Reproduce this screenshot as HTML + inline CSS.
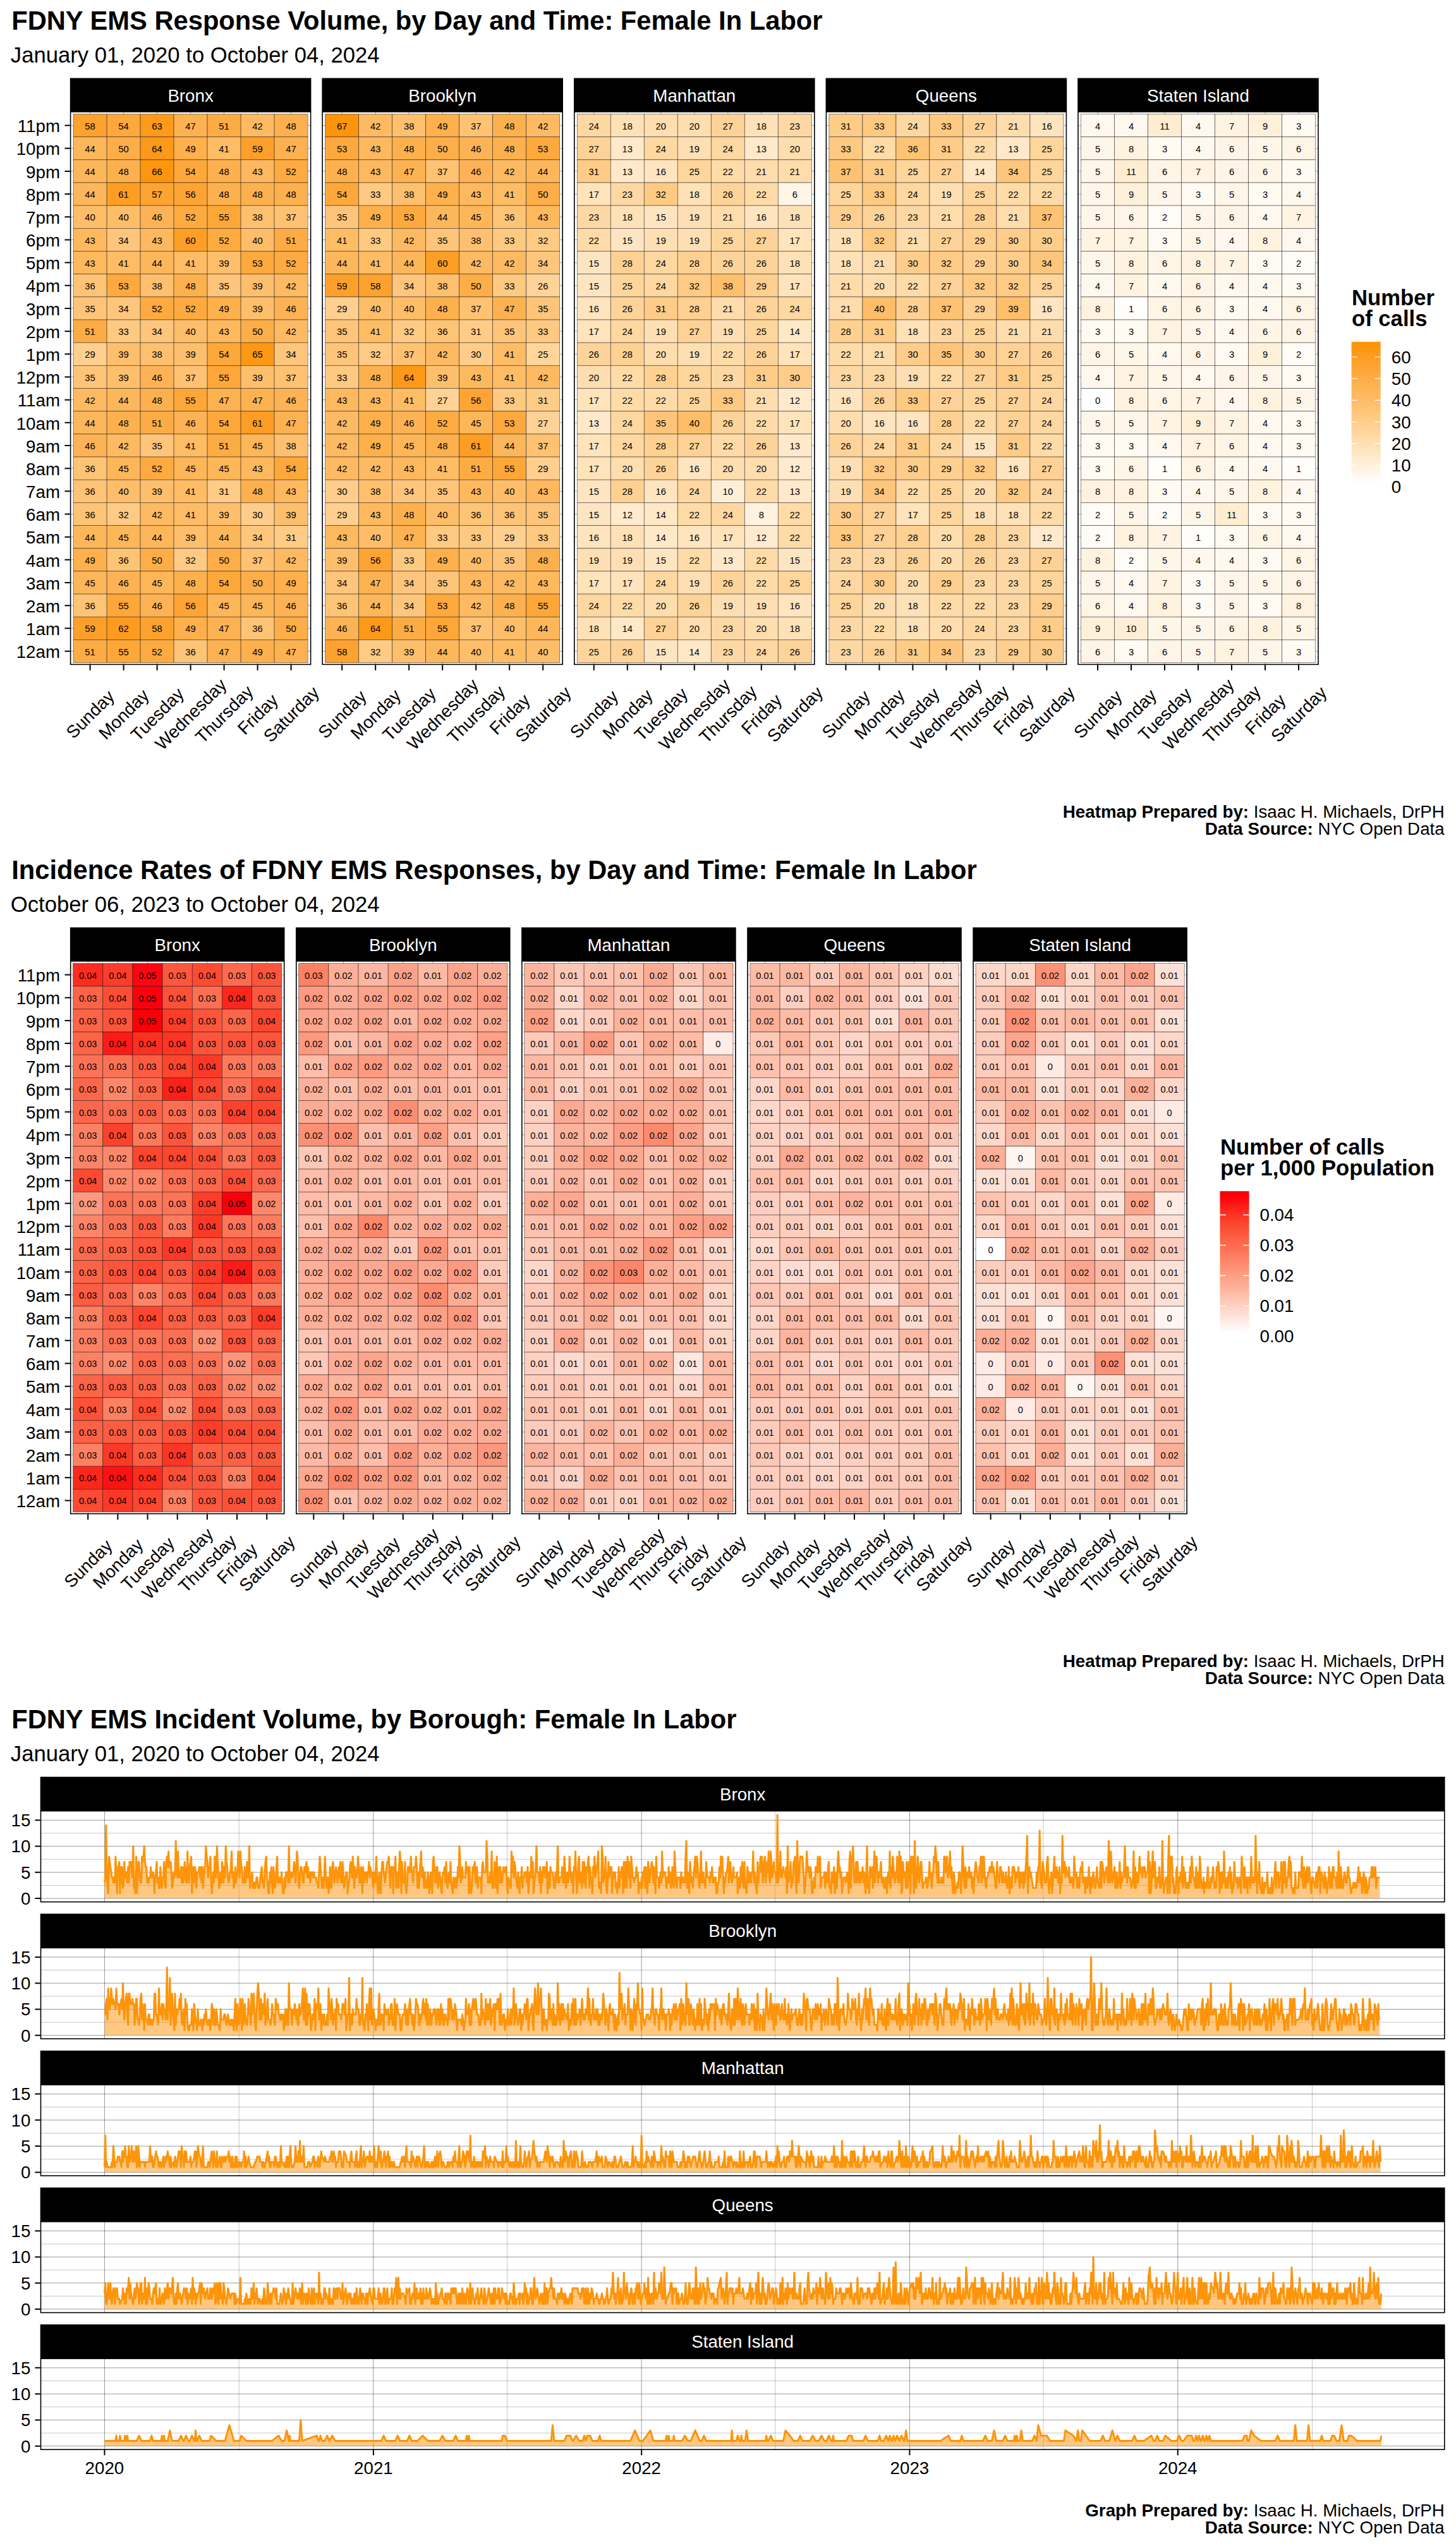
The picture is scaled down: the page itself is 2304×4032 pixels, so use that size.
<!DOCTYPE html>
<html lang="en"><head><meta charset="utf-8"><title>FDNY EMS: Female In Labor</title>
<style>html,body{margin:0;padding:0;background:#fff}svg{display:block}.ns{vector-effect:non-scaling-stroke}</style></head>
<body>
<svg width="2304" height="4032" viewBox="0 0 2304 4032" font-family="'Liberation Sans', Arial, Helvetica, sans-serif">
<rect width="2304" height="4032" fill="#fff"/>
<text x="18.2" y="47.3" font-size="41.7" text-anchor="start" font-weight="bold" fill="#000">FDNY EMS Response Volume, by Day and Time: Female In Labor</text>
<text x="16.8" y="98.9" font-size="34.67" text-anchor="start" font-weight="normal" fill="#000">January 01, 2020 to October 04, 2024</text>
<rect x="110.8" y="123.5" width="381.6" height="53.4" fill="#000"/>
<text x="301.6" y="160.7" font-size="27.73" text-anchor="middle" font-weight="normal" fill="#fff">Bronx</text>
<path d="M142.6 176.9V1052.2M195.6 176.9V1052.2M248.6 176.9V1052.2M301.6 176.9V1052.2M354.6 176.9V1052.2M407.6 176.9V1052.2M460.6 176.9V1052.2M110.8 198.6H492.4M110.8 234.77H492.4M110.8 270.94H492.4M110.8 307.11H492.4M110.8 343.28H492.4M110.8 379.45H492.4M110.8 415.62H492.4M110.8 451.79H492.4M110.8 487.96H492.4M110.8 524.13H492.4M110.8 560.3H492.4M110.8 596.47H492.4M110.8 632.63H492.4M110.8 668.8H492.4M110.8 704.97H492.4M110.8 741.14H492.4M110.8 777.31H492.4M110.8 813.48H492.4M110.8 849.65H492.4M110.8 885.82H492.4M110.8 921.99H492.4M110.8 958.16H492.4M110.8 994.33H492.4M110.8 1030.5H492.4" stroke="#000" stroke-opacity="0.45" stroke-width="0.8" fill="none"/>
<g stroke="#000" stroke-opacity="0.62" stroke-width="0.7">
<rect x="116.1" y="180.52" width="53" height="36.17" fill="#fda22e"/>
<rect x="169.1" y="180.52" width="53" height="36.17" fill="#fda83b"/>
<rect x="222.1" y="180.52" width="53" height="36.17" fill="#fd9a1c"/>
<rect x="275.1" y="180.52" width="53" height="36.17" fill="#fdb252"/>
<rect x="328.1" y="180.52" width="53" height="36.17" fill="#fdac45"/>
<rect x="381.1" y="180.52" width="53" height="36.17" fill="#feba62"/>
<rect x="434.1" y="180.52" width="53" height="36.17" fill="#fdb14e"/>
<rect x="116.1" y="216.69" width="53" height="36.17" fill="#fdb75b"/>
<rect x="169.1" y="216.69" width="53" height="36.17" fill="#fdae48"/>
<rect x="222.1" y="216.69" width="53" height="36.17" fill="#fd9918"/>
<rect x="275.1" y="216.69" width="53" height="36.17" fill="#fdb04b"/>
<rect x="328.1" y="216.69" width="53" height="36.17" fill="#febc65"/>
<rect x="381.1" y="216.69" width="53" height="36.17" fill="#fda02b"/>
<rect x="434.1" y="216.69" width="53" height="36.17" fill="#fdb252"/>
<rect x="116.1" y="252.86" width="53" height="36.17" fill="#fdb75b"/>
<rect x="169.1" y="252.86" width="53" height="36.17" fill="#fdb14e"/>
<rect x="222.1" y="252.86" width="53" height="36.17" fill="#fd950f"/>
<rect x="275.1" y="252.86" width="53" height="36.17" fill="#fda83b"/>
<rect x="328.1" y="252.86" width="53" height="36.17" fill="#fdb14e"/>
<rect x="381.1" y="252.86" width="53" height="36.17" fill="#feb85e"/>
<rect x="434.1" y="252.86" width="53" height="36.17" fill="#fdab41"/>
<rect x="116.1" y="289.03" width="53" height="36.17" fill="#fdb75b"/>
<rect x="169.1" y="289.03" width="53" height="36.17" fill="#fd9d24"/>
<rect x="222.1" y="289.03" width="53" height="36.17" fill="#fda331"/>
<rect x="275.1" y="289.03" width="53" height="36.17" fill="#fda435"/>
<rect x="328.1" y="289.03" width="53" height="36.17" fill="#fdb14e"/>
<rect x="381.1" y="289.03" width="53" height="36.17" fill="#fdb14e"/>
<rect x="434.1" y="289.03" width="53" height="36.17" fill="#fdb14e"/>
<rect x="116.1" y="325.19" width="53" height="36.17" fill="#febd68"/>
<rect x="169.1" y="325.19" width="53" height="36.17" fill="#febd68"/>
<rect x="222.1" y="325.19" width="53" height="36.17" fill="#fdb355"/>
<rect x="275.1" y="325.19" width="53" height="36.17" fill="#fdab41"/>
<rect x="328.1" y="325.19" width="53" height="36.17" fill="#fda738"/>
<rect x="381.1" y="325.19" width="53" height="36.17" fill="#fec06f"/>
<rect x="434.1" y="325.19" width="53" height="36.17" fill="#fec272"/>
<rect x="116.1" y="361.36" width="53" height="36.17" fill="#feb85e"/>
<rect x="169.1" y="361.36" width="53" height="36.17" fill="#fec67d"/>
<rect x="222.1" y="361.36" width="53" height="36.17" fill="#feb85e"/>
<rect x="275.1" y="361.36" width="53" height="36.17" fill="#fd9f27"/>
<rect x="328.1" y="361.36" width="53" height="36.17" fill="#fdab41"/>
<rect x="381.1" y="361.36" width="53" height="36.17" fill="#febd68"/>
<rect x="434.1" y="361.36" width="53" height="36.17" fill="#fdac45"/>
<rect x="116.1" y="397.53" width="53" height="36.17" fill="#feb85e"/>
<rect x="169.1" y="397.53" width="53" height="36.17" fill="#febc65"/>
<rect x="222.1" y="397.53" width="53" height="36.17" fill="#fdb75b"/>
<rect x="275.1" y="397.53" width="53" height="36.17" fill="#febc65"/>
<rect x="328.1" y="397.53" width="53" height="36.17" fill="#febf6c"/>
<rect x="381.1" y="397.53" width="53" height="36.17" fill="#fda93e"/>
<rect x="434.1" y="397.53" width="53" height="36.17" fill="#fdab41"/>
<rect x="116.1" y="433.7" width="53" height="36.17" fill="#fec476"/>
<rect x="169.1" y="433.7" width="53" height="36.17" fill="#fda93e"/>
<rect x="222.1" y="433.7" width="53" height="36.17" fill="#fec06f"/>
<rect x="275.1" y="433.7" width="53" height="36.17" fill="#fdb14e"/>
<rect x="328.1" y="433.7" width="53" height="36.17" fill="#fec57a"/>
<rect x="381.1" y="433.7" width="53" height="36.17" fill="#febf6c"/>
<rect x="434.1" y="433.7" width="53" height="36.17" fill="#feba62"/>
<rect x="116.1" y="469.87" width="53" height="36.17" fill="#fec57a"/>
<rect x="169.1" y="469.87" width="53" height="36.17" fill="#fec67d"/>
<rect x="222.1" y="469.87" width="53" height="36.17" fill="#fdab41"/>
<rect x="275.1" y="469.87" width="53" height="36.17" fill="#fdab41"/>
<rect x="328.1" y="469.87" width="53" height="36.17" fill="#fdb04b"/>
<rect x="381.1" y="469.87" width="53" height="36.17" fill="#febf6c"/>
<rect x="434.1" y="469.87" width="53" height="36.17" fill="#fdb355"/>
<rect x="116.1" y="506.04" width="53" height="36.17" fill="#fdac45"/>
<rect x="169.1" y="506.04" width="53" height="36.17" fill="#fec980"/>
<rect x="222.1" y="506.04" width="53" height="36.17" fill="#fec67d"/>
<rect x="275.1" y="506.04" width="53" height="36.17" fill="#febd68"/>
<rect x="328.1" y="506.04" width="53" height="36.17" fill="#feb85e"/>
<rect x="381.1" y="506.04" width="53" height="36.17" fill="#fdae48"/>
<rect x="434.1" y="506.04" width="53" height="36.17" fill="#feba62"/>
<rect x="116.1" y="542.21" width="53" height="36.17" fill="#fecf8e"/>
<rect x="169.1" y="542.21" width="53" height="36.17" fill="#febf6c"/>
<rect x="222.1" y="542.21" width="53" height="36.17" fill="#fec06f"/>
<rect x="275.1" y="542.21" width="53" height="36.17" fill="#febf6c"/>
<rect x="328.1" y="542.21" width="53" height="36.17" fill="#fda83b"/>
<rect x="381.1" y="542.21" width="53" height="36.17" fill="#fd9814"/>
<rect x="434.1" y="542.21" width="53" height="36.17" fill="#fec67d"/>
<rect x="116.1" y="578.38" width="53" height="36.17" fill="#fec57a"/>
<rect x="169.1" y="578.38" width="53" height="36.17" fill="#febf6c"/>
<rect x="222.1" y="578.38" width="53" height="36.17" fill="#fdb355"/>
<rect x="275.1" y="578.38" width="53" height="36.17" fill="#fec272"/>
<rect x="328.1" y="578.38" width="53" height="36.17" fill="#fda738"/>
<rect x="381.1" y="578.38" width="53" height="36.17" fill="#febf6c"/>
<rect x="434.1" y="578.38" width="53" height="36.17" fill="#fec272"/>
<rect x="116.1" y="614.55" width="53" height="36.17" fill="#feba62"/>
<rect x="169.1" y="614.55" width="53" height="36.17" fill="#fdb75b"/>
<rect x="222.1" y="614.55" width="53" height="36.17" fill="#fdb14e"/>
<rect x="275.1" y="614.55" width="53" height="36.17" fill="#fda738"/>
<rect x="328.1" y="614.55" width="53" height="36.17" fill="#fdb252"/>
<rect x="381.1" y="614.55" width="53" height="36.17" fill="#fdb252"/>
<rect x="434.1" y="614.55" width="53" height="36.17" fill="#fdb355"/>
<rect x="116.1" y="650.72" width="53" height="36.17" fill="#fdb75b"/>
<rect x="169.1" y="650.72" width="53" height="36.17" fill="#fdb14e"/>
<rect x="222.1" y="650.72" width="53" height="36.17" fill="#fdac45"/>
<rect x="275.1" y="650.72" width="53" height="36.17" fill="#fdb355"/>
<rect x="328.1" y="650.72" width="53" height="36.17" fill="#fda83b"/>
<rect x="381.1" y="650.72" width="53" height="36.17" fill="#fd9d24"/>
<rect x="434.1" y="650.72" width="53" height="36.17" fill="#fdb252"/>
<rect x="116.1" y="686.89" width="53" height="36.17" fill="#fdb355"/>
<rect x="169.1" y="686.89" width="53" height="36.17" fill="#feba62"/>
<rect x="222.1" y="686.89" width="53" height="36.17" fill="#fec57a"/>
<rect x="275.1" y="686.89" width="53" height="36.17" fill="#febc65"/>
<rect x="328.1" y="686.89" width="53" height="36.17" fill="#fdac45"/>
<rect x="381.1" y="686.89" width="53" height="36.17" fill="#fdb658"/>
<rect x="434.1" y="686.89" width="53" height="36.17" fill="#fec06f"/>
<rect x="116.1" y="723.06" width="53" height="36.17" fill="#fec476"/>
<rect x="169.1" y="723.06" width="53" height="36.17" fill="#fdb658"/>
<rect x="222.1" y="723.06" width="53" height="36.17" fill="#fdab41"/>
<rect x="275.1" y="723.06" width="53" height="36.17" fill="#fdb658"/>
<rect x="328.1" y="723.06" width="53" height="36.17" fill="#fdb658"/>
<rect x="381.1" y="723.06" width="53" height="36.17" fill="#feb85e"/>
<rect x="434.1" y="723.06" width="53" height="36.17" fill="#fda83b"/>
<rect x="116.1" y="759.23" width="53" height="36.17" fill="#fec476"/>
<rect x="169.1" y="759.23" width="53" height="36.17" fill="#febd68"/>
<rect x="222.1" y="759.23" width="53" height="36.17" fill="#febf6c"/>
<rect x="275.1" y="759.23" width="53" height="36.17" fill="#febc65"/>
<rect x="328.1" y="759.23" width="53" height="36.17" fill="#fecc87"/>
<rect x="381.1" y="759.23" width="53" height="36.17" fill="#fdb14e"/>
<rect x="434.1" y="759.23" width="53" height="36.17" fill="#feb85e"/>
<rect x="116.1" y="795.4" width="53" height="36.17" fill="#fec476"/>
<rect x="169.1" y="795.4" width="53" height="36.17" fill="#feca84"/>
<rect x="222.1" y="795.4" width="53" height="36.17" fill="#feba62"/>
<rect x="275.1" y="795.4" width="53" height="36.17" fill="#febc65"/>
<rect x="328.1" y="795.4" width="53" height="36.17" fill="#febf6c"/>
<rect x="381.1" y="795.4" width="53" height="36.17" fill="#fecd8b"/>
<rect x="434.1" y="795.4" width="53" height="36.17" fill="#febf6c"/>
<rect x="116.1" y="831.57" width="53" height="36.17" fill="#fdb75b"/>
<rect x="169.1" y="831.57" width="53" height="36.17" fill="#fdb658"/>
<rect x="222.1" y="831.57" width="53" height="36.17" fill="#fdb75b"/>
<rect x="275.1" y="831.57" width="53" height="36.17" fill="#febf6c"/>
<rect x="328.1" y="831.57" width="53" height="36.17" fill="#fdb75b"/>
<rect x="381.1" y="831.57" width="53" height="36.17" fill="#fec67d"/>
<rect x="434.1" y="831.57" width="53" height="36.17" fill="#fecc87"/>
<rect x="116.1" y="867.74" width="53" height="36.17" fill="#fdb04b"/>
<rect x="169.1" y="867.74" width="53" height="36.17" fill="#fec476"/>
<rect x="222.1" y="867.74" width="53" height="36.17" fill="#fdae48"/>
<rect x="275.1" y="867.74" width="53" height="36.17" fill="#feca84"/>
<rect x="328.1" y="867.74" width="53" height="36.17" fill="#fdae48"/>
<rect x="381.1" y="867.74" width="53" height="36.17" fill="#fec272"/>
<rect x="434.1" y="867.74" width="53" height="36.17" fill="#feba62"/>
<rect x="116.1" y="903.91" width="53" height="36.17" fill="#fdb658"/>
<rect x="169.1" y="903.91" width="53" height="36.17" fill="#fdb355"/>
<rect x="222.1" y="903.91" width="53" height="36.17" fill="#fdb658"/>
<rect x="275.1" y="903.91" width="53" height="36.17" fill="#fdb14e"/>
<rect x="328.1" y="903.91" width="53" height="36.17" fill="#fda83b"/>
<rect x="381.1" y="903.91" width="53" height="36.17" fill="#fdae48"/>
<rect x="434.1" y="903.91" width="53" height="36.17" fill="#fdb04b"/>
<rect x="116.1" y="940.07" width="53" height="36.17" fill="#fec476"/>
<rect x="169.1" y="940.07" width="53" height="36.17" fill="#fda738"/>
<rect x="222.1" y="940.07" width="53" height="36.17" fill="#fdb355"/>
<rect x="275.1" y="940.07" width="53" height="36.17" fill="#fda435"/>
<rect x="328.1" y="940.07" width="53" height="36.17" fill="#fdb658"/>
<rect x="381.1" y="940.07" width="53" height="36.17" fill="#fdb658"/>
<rect x="434.1" y="940.07" width="53" height="36.17" fill="#fdb355"/>
<rect x="116.1" y="976.24" width="53" height="36.17" fill="#fda02b"/>
<rect x="169.1" y="976.24" width="53" height="36.17" fill="#fd9b20"/>
<rect x="222.1" y="976.24" width="53" height="36.17" fill="#fda22e"/>
<rect x="275.1" y="976.24" width="53" height="36.17" fill="#fdb04b"/>
<rect x="328.1" y="976.24" width="53" height="36.17" fill="#fdb252"/>
<rect x="381.1" y="976.24" width="53" height="36.17" fill="#fec476"/>
<rect x="434.1" y="976.24" width="53" height="36.17" fill="#fdae48"/>
<rect x="116.1" y="1012.41" width="53" height="36.17" fill="#fdac45"/>
<rect x="169.1" y="1012.41" width="53" height="36.17" fill="#fda738"/>
<rect x="222.1" y="1012.41" width="53" height="36.17" fill="#fdab41"/>
<rect x="275.1" y="1012.41" width="53" height="36.17" fill="#fec476"/>
<rect x="328.1" y="1012.41" width="53" height="36.17" fill="#fdb252"/>
<rect x="381.1" y="1012.41" width="53" height="36.17" fill="#fdb04b"/>
<rect x="434.1" y="1012.41" width="53" height="36.17" fill="#fdb252"/>
</g>
<g font-size="14.8" text-anchor="middle">
<text y="204.67"><tspan x="142.6">58</tspan><tspan x="195.6">54</tspan><tspan x="248.6">63</tspan><tspan x="301.6">47</tspan><tspan x="354.6">51</tspan><tspan x="407.6">42</tspan><tspan x="460.6">48</tspan></text>
<text y="240.84"><tspan x="142.6">44</tspan><tspan x="195.6">50</tspan><tspan x="248.6">64</tspan><tspan x="301.6">49</tspan><tspan x="354.6">41</tspan><tspan x="407.6">59</tspan><tspan x="460.6">47</tspan></text>
<text y="277.01"><tspan x="142.6">44</tspan><tspan x="195.6">48</tspan><tspan x="248.6">66</tspan><tspan x="301.6">54</tspan><tspan x="354.6">48</tspan><tspan x="407.6">43</tspan><tspan x="460.6">52</tspan></text>
<text y="313.18"><tspan x="142.6">44</tspan><tspan x="195.6">61</tspan><tspan x="248.6">57</tspan><tspan x="301.6">56</tspan><tspan x="354.6">48</tspan><tspan x="407.6">48</tspan><tspan x="460.6">48</tspan></text>
<text y="349.35"><tspan x="142.6">40</tspan><tspan x="195.6">40</tspan><tspan x="248.6">46</tspan><tspan x="301.6">52</tspan><tspan x="354.6">55</tspan><tspan x="407.6">38</tspan><tspan x="460.6">37</tspan></text>
<text y="385.52"><tspan x="142.6">43</tspan><tspan x="195.6">34</tspan><tspan x="248.6">43</tspan><tspan x="301.6">60</tspan><tspan x="354.6">52</tspan><tspan x="407.6">40</tspan><tspan x="460.6">51</tspan></text>
<text y="421.69"><tspan x="142.6">43</tspan><tspan x="195.6">41</tspan><tspan x="248.6">44</tspan><tspan x="301.6">41</tspan><tspan x="354.6">39</tspan><tspan x="407.6">53</tspan><tspan x="460.6">52</tspan></text>
<text y="457.86"><tspan x="142.6">36</tspan><tspan x="195.6">53</tspan><tspan x="248.6">38</tspan><tspan x="301.6">48</tspan><tspan x="354.6">35</tspan><tspan x="407.6">39</tspan><tspan x="460.6">42</tspan></text>
<text y="494.03"><tspan x="142.6">35</tspan><tspan x="195.6">34</tspan><tspan x="248.6">52</tspan><tspan x="301.6">52</tspan><tspan x="354.6">49</tspan><tspan x="407.6">39</tspan><tspan x="460.6">46</tspan></text>
<text y="530.19"><tspan x="142.6">51</tspan><tspan x="195.6">33</tspan><tspan x="248.6">34</tspan><tspan x="301.6">40</tspan><tspan x="354.6">43</tspan><tspan x="407.6">50</tspan><tspan x="460.6">42</tspan></text>
<text y="566.36"><tspan x="142.6">29</tspan><tspan x="195.6">39</tspan><tspan x="248.6">38</tspan><tspan x="301.6">39</tspan><tspan x="354.6">54</tspan><tspan x="407.6">65</tspan><tspan x="460.6">34</tspan></text>
<text y="602.53"><tspan x="142.6">35</tspan><tspan x="195.6">39</tspan><tspan x="248.6">46</tspan><tspan x="301.6">37</tspan><tspan x="354.6">55</tspan><tspan x="407.6">39</tspan><tspan x="460.6">37</tspan></text>
<text y="638.7"><tspan x="142.6">42</tspan><tspan x="195.6">44</tspan><tspan x="248.6">48</tspan><tspan x="301.6">55</tspan><tspan x="354.6">47</tspan><tspan x="407.6">47</tspan><tspan x="460.6">46</tspan></text>
<text y="674.87"><tspan x="142.6">44</tspan><tspan x="195.6">48</tspan><tspan x="248.6">51</tspan><tspan x="301.6">46</tspan><tspan x="354.6">54</tspan><tspan x="407.6">61</tspan><tspan x="460.6">47</tspan></text>
<text y="711.04"><tspan x="142.6">46</tspan><tspan x="195.6">42</tspan><tspan x="248.6">35</tspan><tspan x="301.6">41</tspan><tspan x="354.6">51</tspan><tspan x="407.6">45</tspan><tspan x="460.6">38</tspan></text>
<text y="747.21"><tspan x="142.6">36</tspan><tspan x="195.6">45</tspan><tspan x="248.6">52</tspan><tspan x="301.6">45</tspan><tspan x="354.6">45</tspan><tspan x="407.6">43</tspan><tspan x="460.6">54</tspan></text>
<text y="783.38"><tspan x="142.6">36</tspan><tspan x="195.6">40</tspan><tspan x="248.6">39</tspan><tspan x="301.6">41</tspan><tspan x="354.6">31</tspan><tspan x="407.6">48</tspan><tspan x="460.6">43</tspan></text>
<text y="819.55"><tspan x="142.6">36</tspan><tspan x="195.6">32</tspan><tspan x="248.6">42</tspan><tspan x="301.6">41</tspan><tspan x="354.6">39</tspan><tspan x="407.6">30</tspan><tspan x="460.6">39</tspan></text>
<text y="855.72"><tspan x="142.6">44</tspan><tspan x="195.6">45</tspan><tspan x="248.6">44</tspan><tspan x="301.6">39</tspan><tspan x="354.6">44</tspan><tspan x="407.6">34</tspan><tspan x="460.6">31</tspan></text>
<text y="891.89"><tspan x="142.6">49</tspan><tspan x="195.6">36</tspan><tspan x="248.6">50</tspan><tspan x="301.6">32</tspan><tspan x="354.6">50</tspan><tspan x="407.6">37</tspan><tspan x="460.6">42</tspan></text>
<text y="928.06"><tspan x="142.6">45</tspan><tspan x="195.6">46</tspan><tspan x="248.6">45</tspan><tspan x="301.6">48</tspan><tspan x="354.6">54</tspan><tspan x="407.6">50</tspan><tspan x="460.6">49</tspan></text>
<text y="964.23"><tspan x="142.6">36</tspan><tspan x="195.6">55</tspan><tspan x="248.6">46</tspan><tspan x="301.6">56</tspan><tspan x="354.6">45</tspan><tspan x="407.6">45</tspan><tspan x="460.6">46</tspan></text>
<text y="1000.4"><tspan x="142.6">59</tspan><tspan x="195.6">62</tspan><tspan x="248.6">58</tspan><tspan x="301.6">49</tspan><tspan x="354.6">47</tspan><tspan x="407.6">36</tspan><tspan x="460.6">50</tspan></text>
<text y="1036.57"><tspan x="142.6">51</tspan><tspan x="195.6">55</tspan><tspan x="248.6">52</tspan><tspan x="301.6">36</tspan><tspan x="354.6">47</tspan><tspan x="407.6">49</tspan><tspan x="460.6">47</tspan></text>
</g>
<rect x="111.6" y="176.9" width="380" height="874.5" fill="none" stroke="#000" stroke-width="1.6"/>
<text transform="translate(142.6 1130) rotate(-45)" font-size="27.73" text-anchor="middle" dy="9.9">Sunday</text>
<text transform="translate(195.6 1130) rotate(-45)" font-size="27.73" text-anchor="middle" dy="9.9">Monday</text>
<text transform="translate(248.6 1130) rotate(-45)" font-size="27.73" text-anchor="middle" dy="9.9">Tuesday</text>
<text transform="translate(301.6 1130) rotate(-45)" font-size="27.73" text-anchor="middle" dy="9.9">Wednesday</text>
<text transform="translate(354.6 1130) rotate(-45)" font-size="27.73" text-anchor="middle" dy="9.9">Thursday</text>
<text transform="translate(407.6 1130) rotate(-45)" font-size="27.73" text-anchor="middle" dy="9.9">Friday</text>
<text transform="translate(460.6 1130) rotate(-45)" font-size="27.73" text-anchor="middle" dy="9.9">Saturday</text>
<path d="M142.6 1052.2v8.6M195.6 1052.2v8.6M248.6 1052.2v8.6M301.6 1052.2v8.6M354.6 1052.2v8.6M407.6 1052.2v8.6M460.6 1052.2v8.6" stroke="#000" stroke-width="2" fill="none"/>
<rect x="509.4" y="123.5" width="381.6" height="53.4" fill="#000"/>
<text x="700.2" y="160.7" font-size="27.73" text-anchor="middle" font-weight="normal" fill="#fff">Brooklyn</text>
<path d="M541.2 176.9V1052.2M594.2 176.9V1052.2M647.2 176.9V1052.2M700.2 176.9V1052.2M753.2 176.9V1052.2M806.2 176.9V1052.2M859.2 176.9V1052.2M509.4 198.6H891M509.4 234.77H891M509.4 270.94H891M509.4 307.11H891M509.4 343.28H891M509.4 379.45H891M509.4 415.62H891M509.4 451.79H891M509.4 487.96H891M509.4 524.13H891M509.4 560.3H891M509.4 596.47H891M509.4 632.63H891M509.4 668.8H891M509.4 704.97H891M509.4 741.14H891M509.4 777.31H891M509.4 813.48H891M509.4 849.65H891M509.4 885.82H891M509.4 921.99H891M509.4 958.16H891M509.4 994.33H891M509.4 1030.5H891" stroke="#000" stroke-opacity="0.45" stroke-width="0.8" fill="none"/>
<g stroke="#000" stroke-opacity="0.62" stroke-width="0.7">
<rect x="514.7" y="180.52" width="53" height="36.17" fill="#fd9409"/>
<rect x="567.7" y="180.52" width="53" height="36.17" fill="#feba62"/>
<rect x="620.7" y="180.52" width="53" height="36.17" fill="#fec06f"/>
<rect x="673.7" y="180.52" width="53" height="36.17" fill="#fdb04b"/>
<rect x="726.7" y="180.52" width="53" height="36.17" fill="#fec272"/>
<rect x="779.7" y="180.52" width="53" height="36.17" fill="#fdb14e"/>
<rect x="832.7" y="180.52" width="53" height="36.17" fill="#feba62"/>
<rect x="514.7" y="216.69" width="53" height="36.17" fill="#fda93e"/>
<rect x="567.7" y="216.69" width="53" height="36.17" fill="#feb85e"/>
<rect x="620.7" y="216.69" width="53" height="36.17" fill="#fdb14e"/>
<rect x="673.7" y="216.69" width="53" height="36.17" fill="#fdae48"/>
<rect x="726.7" y="216.69" width="53" height="36.17" fill="#fdb355"/>
<rect x="779.7" y="216.69" width="53" height="36.17" fill="#fdb14e"/>
<rect x="832.7" y="216.69" width="53" height="36.17" fill="#fda93e"/>
<rect x="514.7" y="252.86" width="53" height="36.17" fill="#fdb14e"/>
<rect x="567.7" y="252.86" width="53" height="36.17" fill="#feb85e"/>
<rect x="620.7" y="252.86" width="53" height="36.17" fill="#fdb252"/>
<rect x="673.7" y="252.86" width="53" height="36.17" fill="#fec272"/>
<rect x="726.7" y="252.86" width="53" height="36.17" fill="#fdb355"/>
<rect x="779.7" y="252.86" width="53" height="36.17" fill="#feba62"/>
<rect x="832.7" y="252.86" width="53" height="36.17" fill="#fdb75b"/>
<rect x="514.7" y="289.03" width="53" height="36.17" fill="#fda83b"/>
<rect x="567.7" y="289.03" width="53" height="36.17" fill="#fec980"/>
<rect x="620.7" y="289.03" width="53" height="36.17" fill="#fec06f"/>
<rect x="673.7" y="289.03" width="53" height="36.17" fill="#fdb04b"/>
<rect x="726.7" y="289.03" width="53" height="36.17" fill="#feb85e"/>
<rect x="779.7" y="289.03" width="53" height="36.17" fill="#febc65"/>
<rect x="832.7" y="289.03" width="53" height="36.17" fill="#fdae48"/>
<rect x="514.7" y="325.19" width="53" height="36.17" fill="#fec57a"/>
<rect x="567.7" y="325.19" width="53" height="36.17" fill="#fdb04b"/>
<rect x="620.7" y="325.19" width="53" height="36.17" fill="#fda93e"/>
<rect x="673.7" y="325.19" width="53" height="36.17" fill="#fdb75b"/>
<rect x="726.7" y="325.19" width="53" height="36.17" fill="#fdb658"/>
<rect x="779.7" y="325.19" width="53" height="36.17" fill="#fec476"/>
<rect x="832.7" y="325.19" width="53" height="36.17" fill="#feb85e"/>
<rect x="514.7" y="361.36" width="53" height="36.17" fill="#febc65"/>
<rect x="567.7" y="361.36" width="53" height="36.17" fill="#fec980"/>
<rect x="620.7" y="361.36" width="53" height="36.17" fill="#feba62"/>
<rect x="673.7" y="361.36" width="53" height="36.17" fill="#fec57a"/>
<rect x="726.7" y="361.36" width="53" height="36.17" fill="#fec06f"/>
<rect x="779.7" y="361.36" width="53" height="36.17" fill="#fec980"/>
<rect x="832.7" y="361.36" width="53" height="36.17" fill="#feca84"/>
<rect x="514.7" y="397.53" width="53" height="36.17" fill="#fdb75b"/>
<rect x="567.7" y="397.53" width="53" height="36.17" fill="#febc65"/>
<rect x="620.7" y="397.53" width="53" height="36.17" fill="#fdb75b"/>
<rect x="673.7" y="397.53" width="53" height="36.17" fill="#fd9f27"/>
<rect x="726.7" y="397.53" width="53" height="36.17" fill="#feba62"/>
<rect x="779.7" y="397.53" width="53" height="36.17" fill="#feba62"/>
<rect x="832.7" y="397.53" width="53" height="36.17" fill="#fec67d"/>
<rect x="514.7" y="433.7" width="53" height="36.17" fill="#fda02b"/>
<rect x="567.7" y="433.7" width="53" height="36.17" fill="#fda22e"/>
<rect x="620.7" y="433.7" width="53" height="36.17" fill="#fec67d"/>
<rect x="673.7" y="433.7" width="53" height="36.17" fill="#fec06f"/>
<rect x="726.7" y="433.7" width="53" height="36.17" fill="#fdae48"/>
<rect x="779.7" y="433.7" width="53" height="36.17" fill="#fec980"/>
<rect x="832.7" y="433.7" width="53" height="36.17" fill="#fed399"/>
<rect x="514.7" y="469.87" width="53" height="36.17" fill="#fecf8e"/>
<rect x="567.7" y="469.87" width="53" height="36.17" fill="#febd68"/>
<rect x="620.7" y="469.87" width="53" height="36.17" fill="#febd68"/>
<rect x="673.7" y="469.87" width="53" height="36.17" fill="#fdb14e"/>
<rect x="726.7" y="469.87" width="53" height="36.17" fill="#fec272"/>
<rect x="779.7" y="469.87" width="53" height="36.17" fill="#fdb252"/>
<rect x="832.7" y="469.87" width="53" height="36.17" fill="#fec57a"/>
<rect x="514.7" y="506.04" width="53" height="36.17" fill="#fec57a"/>
<rect x="567.7" y="506.04" width="53" height="36.17" fill="#febc65"/>
<rect x="620.7" y="506.04" width="53" height="36.17" fill="#feca84"/>
<rect x="673.7" y="506.04" width="53" height="36.17" fill="#fec476"/>
<rect x="726.7" y="506.04" width="53" height="36.17" fill="#fecc87"/>
<rect x="779.7" y="506.04" width="53" height="36.17" fill="#fec57a"/>
<rect x="832.7" y="506.04" width="53" height="36.17" fill="#fec980"/>
<rect x="514.7" y="542.21" width="53" height="36.17" fill="#fec57a"/>
<rect x="567.7" y="542.21" width="53" height="36.17" fill="#feca84"/>
<rect x="620.7" y="542.21" width="53" height="36.17" fill="#fec272"/>
<rect x="673.7" y="542.21" width="53" height="36.17" fill="#feba62"/>
<rect x="726.7" y="542.21" width="53" height="36.17" fill="#fecd8b"/>
<rect x="779.7" y="542.21" width="53" height="36.17" fill="#febc65"/>
<rect x="832.7" y="542.21" width="53" height="36.17" fill="#fed69c"/>
<rect x="514.7" y="578.38" width="53" height="36.17" fill="#fec980"/>
<rect x="567.7" y="578.38" width="53" height="36.17" fill="#fdb14e"/>
<rect x="620.7" y="578.38" width="53" height="36.17" fill="#fd9918"/>
<rect x="673.7" y="578.38" width="53" height="36.17" fill="#febf6c"/>
<rect x="726.7" y="578.38" width="53" height="36.17" fill="#feb85e"/>
<rect x="779.7" y="578.38" width="53" height="36.17" fill="#febc65"/>
<rect x="832.7" y="578.38" width="53" height="36.17" fill="#feba62"/>
<rect x="514.7" y="614.55" width="53" height="36.17" fill="#feb85e"/>
<rect x="567.7" y="614.55" width="53" height="36.17" fill="#feb85e"/>
<rect x="620.7" y="614.55" width="53" height="36.17" fill="#febc65"/>
<rect x="673.7" y="614.55" width="53" height="36.17" fill="#fed296"/>
<rect x="726.7" y="614.55" width="53" height="36.17" fill="#fda435"/>
<rect x="779.7" y="614.55" width="53" height="36.17" fill="#fec980"/>
<rect x="832.7" y="614.55" width="53" height="36.17" fill="#fecc87"/>
<rect x="514.7" y="650.72" width="53" height="36.17" fill="#feba62"/>
<rect x="567.7" y="650.72" width="53" height="36.17" fill="#fdb04b"/>
<rect x="620.7" y="650.72" width="53" height="36.17" fill="#fdb355"/>
<rect x="673.7" y="650.72" width="53" height="36.17" fill="#fdab41"/>
<rect x="726.7" y="650.72" width="53" height="36.17" fill="#fdb658"/>
<rect x="779.7" y="650.72" width="53" height="36.17" fill="#fda93e"/>
<rect x="832.7" y="650.72" width="53" height="36.17" fill="#fed296"/>
<rect x="514.7" y="686.89" width="53" height="36.17" fill="#feba62"/>
<rect x="567.7" y="686.89" width="53" height="36.17" fill="#fdb04b"/>
<rect x="620.7" y="686.89" width="53" height="36.17" fill="#fdb658"/>
<rect x="673.7" y="686.89" width="53" height="36.17" fill="#fdb14e"/>
<rect x="726.7" y="686.89" width="53" height="36.17" fill="#fd9d24"/>
<rect x="779.7" y="686.89" width="53" height="36.17" fill="#fdb75b"/>
<rect x="832.7" y="686.89" width="53" height="36.17" fill="#fec272"/>
<rect x="514.7" y="723.06" width="53" height="36.17" fill="#feba62"/>
<rect x="567.7" y="723.06" width="53" height="36.17" fill="#feba62"/>
<rect x="620.7" y="723.06" width="53" height="36.17" fill="#feb85e"/>
<rect x="673.7" y="723.06" width="53" height="36.17" fill="#febc65"/>
<rect x="726.7" y="723.06" width="53" height="36.17" fill="#fdac45"/>
<rect x="779.7" y="723.06" width="53" height="36.17" fill="#fda738"/>
<rect x="832.7" y="723.06" width="53" height="36.17" fill="#fecf8e"/>
<rect x="514.7" y="759.23" width="53" height="36.17" fill="#fecd8b"/>
<rect x="567.7" y="759.23" width="53" height="36.17" fill="#fec06f"/>
<rect x="620.7" y="759.23" width="53" height="36.17" fill="#fec67d"/>
<rect x="673.7" y="759.23" width="53" height="36.17" fill="#fec57a"/>
<rect x="726.7" y="759.23" width="53" height="36.17" fill="#feb85e"/>
<rect x="779.7" y="759.23" width="53" height="36.17" fill="#febd68"/>
<rect x="832.7" y="759.23" width="53" height="36.17" fill="#feb85e"/>
<rect x="514.7" y="795.4" width="53" height="36.17" fill="#fecf8e"/>
<rect x="567.7" y="795.4" width="53" height="36.17" fill="#feb85e"/>
<rect x="620.7" y="795.4" width="53" height="36.17" fill="#fdb14e"/>
<rect x="673.7" y="795.4" width="53" height="36.17" fill="#febd68"/>
<rect x="726.7" y="795.4" width="53" height="36.17" fill="#fec476"/>
<rect x="779.7" y="795.4" width="53" height="36.17" fill="#fec476"/>
<rect x="832.7" y="795.4" width="53" height="36.17" fill="#fec57a"/>
<rect x="514.7" y="831.57" width="53" height="36.17" fill="#feb85e"/>
<rect x="567.7" y="831.57" width="53" height="36.17" fill="#febd68"/>
<rect x="620.7" y="831.57" width="53" height="36.17" fill="#fdb252"/>
<rect x="673.7" y="831.57" width="53" height="36.17" fill="#fec980"/>
<rect x="726.7" y="831.57" width="53" height="36.17" fill="#fec980"/>
<rect x="779.7" y="831.57" width="53" height="36.17" fill="#fecf8e"/>
<rect x="832.7" y="831.57" width="53" height="36.17" fill="#fec980"/>
<rect x="514.7" y="867.74" width="53" height="36.17" fill="#febf6c"/>
<rect x="567.7" y="867.74" width="53" height="36.17" fill="#fda435"/>
<rect x="620.7" y="867.74" width="53" height="36.17" fill="#fec980"/>
<rect x="673.7" y="867.74" width="53" height="36.17" fill="#fdb04b"/>
<rect x="726.7" y="867.74" width="53" height="36.17" fill="#febd68"/>
<rect x="779.7" y="867.74" width="53" height="36.17" fill="#fec57a"/>
<rect x="832.7" y="867.74" width="53" height="36.17" fill="#fdb14e"/>
<rect x="514.7" y="903.91" width="53" height="36.17" fill="#fec67d"/>
<rect x="567.7" y="903.91" width="53" height="36.17" fill="#fdb252"/>
<rect x="620.7" y="903.91" width="53" height="36.17" fill="#fec67d"/>
<rect x="673.7" y="903.91" width="53" height="36.17" fill="#fec57a"/>
<rect x="726.7" y="903.91" width="53" height="36.17" fill="#feb85e"/>
<rect x="779.7" y="903.91" width="53" height="36.17" fill="#feba62"/>
<rect x="832.7" y="903.91" width="53" height="36.17" fill="#feb85e"/>
<rect x="514.7" y="940.07" width="53" height="36.17" fill="#fec476"/>
<rect x="567.7" y="940.07" width="53" height="36.17" fill="#fdb75b"/>
<rect x="620.7" y="940.07" width="53" height="36.17" fill="#fec67d"/>
<rect x="673.7" y="940.07" width="53" height="36.17" fill="#fda93e"/>
<rect x="726.7" y="940.07" width="53" height="36.17" fill="#feba62"/>
<rect x="779.7" y="940.07" width="53" height="36.17" fill="#fdb14e"/>
<rect x="832.7" y="940.07" width="53" height="36.17" fill="#fda738"/>
<rect x="514.7" y="976.24" width="53" height="36.17" fill="#fdb355"/>
<rect x="567.7" y="976.24" width="53" height="36.17" fill="#fd9918"/>
<rect x="620.7" y="976.24" width="53" height="36.17" fill="#fdac45"/>
<rect x="673.7" y="976.24" width="53" height="36.17" fill="#fda738"/>
<rect x="726.7" y="976.24" width="53" height="36.17" fill="#fec272"/>
<rect x="779.7" y="976.24" width="53" height="36.17" fill="#febd68"/>
<rect x="832.7" y="976.24" width="53" height="36.17" fill="#fdb75b"/>
<rect x="514.7" y="1012.41" width="53" height="36.17" fill="#fda22e"/>
<rect x="567.7" y="1012.41" width="53" height="36.17" fill="#feca84"/>
<rect x="620.7" y="1012.41" width="53" height="36.17" fill="#febf6c"/>
<rect x="673.7" y="1012.41" width="53" height="36.17" fill="#fdb75b"/>
<rect x="726.7" y="1012.41" width="53" height="36.17" fill="#febd68"/>
<rect x="779.7" y="1012.41" width="53" height="36.17" fill="#febc65"/>
<rect x="832.7" y="1012.41" width="53" height="36.17" fill="#febd68"/>
</g>
<g font-size="14.8" text-anchor="middle">
<text y="204.67"><tspan x="541.2">67</tspan><tspan x="594.2">42</tspan><tspan x="647.2">38</tspan><tspan x="700.2">49</tspan><tspan x="753.2">37</tspan><tspan x="806.2">48</tspan><tspan x="859.2">42</tspan></text>
<text y="240.84"><tspan x="541.2">53</tspan><tspan x="594.2">43</tspan><tspan x="647.2">48</tspan><tspan x="700.2">50</tspan><tspan x="753.2">46</tspan><tspan x="806.2">48</tspan><tspan x="859.2">53</tspan></text>
<text y="277.01"><tspan x="541.2">48</tspan><tspan x="594.2">43</tspan><tspan x="647.2">47</tspan><tspan x="700.2">37</tspan><tspan x="753.2">46</tspan><tspan x="806.2">42</tspan><tspan x="859.2">44</tspan></text>
<text y="313.18"><tspan x="541.2">54</tspan><tspan x="594.2">33</tspan><tspan x="647.2">38</tspan><tspan x="700.2">49</tspan><tspan x="753.2">43</tspan><tspan x="806.2">41</tspan><tspan x="859.2">50</tspan></text>
<text y="349.35"><tspan x="541.2">35</tspan><tspan x="594.2">49</tspan><tspan x="647.2">53</tspan><tspan x="700.2">44</tspan><tspan x="753.2">45</tspan><tspan x="806.2">36</tspan><tspan x="859.2">43</tspan></text>
<text y="385.52"><tspan x="541.2">41</tspan><tspan x="594.2">33</tspan><tspan x="647.2">42</tspan><tspan x="700.2">35</tspan><tspan x="753.2">38</tspan><tspan x="806.2">33</tspan><tspan x="859.2">32</tspan></text>
<text y="421.69"><tspan x="541.2">44</tspan><tspan x="594.2">41</tspan><tspan x="647.2">44</tspan><tspan x="700.2">60</tspan><tspan x="753.2">42</tspan><tspan x="806.2">42</tspan><tspan x="859.2">34</tspan></text>
<text y="457.86"><tspan x="541.2">59</tspan><tspan x="594.2">58</tspan><tspan x="647.2">34</tspan><tspan x="700.2">38</tspan><tspan x="753.2">50</tspan><tspan x="806.2">33</tspan><tspan x="859.2">26</tspan></text>
<text y="494.03"><tspan x="541.2">29</tspan><tspan x="594.2">40</tspan><tspan x="647.2">40</tspan><tspan x="700.2">48</tspan><tspan x="753.2">37</tspan><tspan x="806.2">47</tspan><tspan x="859.2">35</tspan></text>
<text y="530.19"><tspan x="541.2">35</tspan><tspan x="594.2">41</tspan><tspan x="647.2">32</tspan><tspan x="700.2">36</tspan><tspan x="753.2">31</tspan><tspan x="806.2">35</tspan><tspan x="859.2">33</tspan></text>
<text y="566.36"><tspan x="541.2">35</tspan><tspan x="594.2">32</tspan><tspan x="647.2">37</tspan><tspan x="700.2">42</tspan><tspan x="753.2">30</tspan><tspan x="806.2">41</tspan><tspan x="859.2">25</tspan></text>
<text y="602.53"><tspan x="541.2">33</tspan><tspan x="594.2">48</tspan><tspan x="647.2">64</tspan><tspan x="700.2">39</tspan><tspan x="753.2">43</tspan><tspan x="806.2">41</tspan><tspan x="859.2">42</tspan></text>
<text y="638.7"><tspan x="541.2">43</tspan><tspan x="594.2">43</tspan><tspan x="647.2">41</tspan><tspan x="700.2">27</tspan><tspan x="753.2">56</tspan><tspan x="806.2">33</tspan><tspan x="859.2">31</tspan></text>
<text y="674.87"><tspan x="541.2">42</tspan><tspan x="594.2">49</tspan><tspan x="647.2">46</tspan><tspan x="700.2">52</tspan><tspan x="753.2">45</tspan><tspan x="806.2">53</tspan><tspan x="859.2">27</tspan></text>
<text y="711.04"><tspan x="541.2">42</tspan><tspan x="594.2">49</tspan><tspan x="647.2">45</tspan><tspan x="700.2">48</tspan><tspan x="753.2">61</tspan><tspan x="806.2">44</tspan><tspan x="859.2">37</tspan></text>
<text y="747.21"><tspan x="541.2">42</tspan><tspan x="594.2">42</tspan><tspan x="647.2">43</tspan><tspan x="700.2">41</tspan><tspan x="753.2">51</tspan><tspan x="806.2">55</tspan><tspan x="859.2">29</tspan></text>
<text y="783.38"><tspan x="541.2">30</tspan><tspan x="594.2">38</tspan><tspan x="647.2">34</tspan><tspan x="700.2">35</tspan><tspan x="753.2">43</tspan><tspan x="806.2">40</tspan><tspan x="859.2">43</tspan></text>
<text y="819.55"><tspan x="541.2">29</tspan><tspan x="594.2">43</tspan><tspan x="647.2">48</tspan><tspan x="700.2">40</tspan><tspan x="753.2">36</tspan><tspan x="806.2">36</tspan><tspan x="859.2">35</tspan></text>
<text y="855.72"><tspan x="541.2">43</tspan><tspan x="594.2">40</tspan><tspan x="647.2">47</tspan><tspan x="700.2">33</tspan><tspan x="753.2">33</tspan><tspan x="806.2">29</tspan><tspan x="859.2">33</tspan></text>
<text y="891.89"><tspan x="541.2">39</tspan><tspan x="594.2">56</tspan><tspan x="647.2">33</tspan><tspan x="700.2">49</tspan><tspan x="753.2">40</tspan><tspan x="806.2">35</tspan><tspan x="859.2">48</tspan></text>
<text y="928.06"><tspan x="541.2">34</tspan><tspan x="594.2">47</tspan><tspan x="647.2">34</tspan><tspan x="700.2">35</tspan><tspan x="753.2">43</tspan><tspan x="806.2">42</tspan><tspan x="859.2">43</tspan></text>
<text y="964.23"><tspan x="541.2">36</tspan><tspan x="594.2">44</tspan><tspan x="647.2">34</tspan><tspan x="700.2">53</tspan><tspan x="753.2">42</tspan><tspan x="806.2">48</tspan><tspan x="859.2">55</tspan></text>
<text y="1000.4"><tspan x="541.2">46</tspan><tspan x="594.2">64</tspan><tspan x="647.2">51</tspan><tspan x="700.2">55</tspan><tspan x="753.2">37</tspan><tspan x="806.2">40</tspan><tspan x="859.2">44</tspan></text>
<text y="1036.57"><tspan x="541.2">58</tspan><tspan x="594.2">32</tspan><tspan x="647.2">39</tspan><tspan x="700.2">44</tspan><tspan x="753.2">40</tspan><tspan x="806.2">41</tspan><tspan x="859.2">40</tspan></text>
</g>
<rect x="510.2" y="176.9" width="380" height="874.5" fill="none" stroke="#000" stroke-width="1.6"/>
<text transform="translate(541.2 1130) rotate(-45)" font-size="27.73" text-anchor="middle" dy="9.9">Sunday</text>
<text transform="translate(594.2 1130) rotate(-45)" font-size="27.73" text-anchor="middle" dy="9.9">Monday</text>
<text transform="translate(647.2 1130) rotate(-45)" font-size="27.73" text-anchor="middle" dy="9.9">Tuesday</text>
<text transform="translate(700.2 1130) rotate(-45)" font-size="27.73" text-anchor="middle" dy="9.9">Wednesday</text>
<text transform="translate(753.2 1130) rotate(-45)" font-size="27.73" text-anchor="middle" dy="9.9">Thursday</text>
<text transform="translate(806.2 1130) rotate(-45)" font-size="27.73" text-anchor="middle" dy="9.9">Friday</text>
<text transform="translate(859.2 1130) rotate(-45)" font-size="27.73" text-anchor="middle" dy="9.9">Saturday</text>
<path d="M541.2 1052.2v8.6M594.2 1052.2v8.6M647.2 1052.2v8.6M700.2 1052.2v8.6M753.2 1052.2v8.6M806.2 1052.2v8.6M859.2 1052.2v8.6" stroke="#000" stroke-width="2" fill="none"/>
<rect x="908" y="123.5" width="381.6" height="53.4" fill="#000"/>
<text x="1098.8" y="160.7" font-size="27.73" text-anchor="middle" font-weight="normal" fill="#fff">Manhattan</text>
<path d="M939.8 176.9V1052.2M992.8 176.9V1052.2M1045.8 176.9V1052.2M1098.8 176.9V1052.2M1151.8 176.9V1052.2M1204.8 176.9V1052.2M1257.8 176.9V1052.2M908 198.6H1289.6M908 234.77H1289.6M908 270.94H1289.6M908 307.11H1289.6M908 343.28H1289.6M908 379.45H1289.6M908 415.62H1289.6M908 451.79H1289.6M908 487.96H1289.6M908 524.13H1289.6M908 560.3H1289.6M908 596.47H1289.6M908 632.63H1289.6M908 668.8H1289.6M908 704.97H1289.6M908 741.14H1289.6M908 777.31H1289.6M908 813.48H1289.6M908 849.65H1289.6M908 885.82H1289.6M908 921.99H1289.6M908 958.16H1289.6M908 994.33H1289.6M908 1030.5H1289.6" stroke="#000" stroke-opacity="0.45" stroke-width="0.8" fill="none"/>
<g stroke="#000" stroke-opacity="0.62" stroke-width="0.7">
<rect x="913.3" y="180.52" width="53" height="36.17" fill="#fed7a1"/>
<rect x="966.3" y="180.52" width="53" height="36.17" fill="#fee1b6"/>
<rect x="1019.3" y="180.52" width="53" height="36.17" fill="#feddaf"/>
<rect x="1072.3" y="180.52" width="53" height="36.17" fill="#feddaf"/>
<rect x="1125.3" y="180.52" width="53" height="36.17" fill="#fed296"/>
<rect x="1178.3" y="180.52" width="53" height="36.17" fill="#fee1b6"/>
<rect x="1231.3" y="180.52" width="53" height="36.17" fill="#fed8a4"/>
<rect x="913.3" y="216.69" width="53" height="36.17" fill="#fed296"/>
<rect x="966.3" y="216.69" width="53" height="36.17" fill="#ffe9ca"/>
<rect x="1019.3" y="216.69" width="53" height="36.17" fill="#fed7a1"/>
<rect x="1072.3" y="216.69" width="53" height="36.17" fill="#fedfb3"/>
<rect x="1125.3" y="216.69" width="53" height="36.17" fill="#fed7a1"/>
<rect x="1178.3" y="216.69" width="53" height="36.17" fill="#ffe9ca"/>
<rect x="1231.3" y="216.69" width="53" height="36.17" fill="#feddaf"/>
<rect x="913.3" y="252.86" width="53" height="36.17" fill="#fecc87"/>
<rect x="966.3" y="252.86" width="53" height="36.17" fill="#ffe9ca"/>
<rect x="1019.3" y="252.86" width="53" height="36.17" fill="#fee4bf"/>
<rect x="1072.3" y="252.86" width="53" height="36.17" fill="#fed69c"/>
<rect x="1125.3" y="252.86" width="53" height="36.17" fill="#fedba7"/>
<rect x="1178.3" y="252.86" width="53" height="36.17" fill="#fedcac"/>
<rect x="1231.3" y="252.86" width="53" height="36.17" fill="#fedcac"/>
<rect x="913.3" y="289.03" width="53" height="36.17" fill="#fee3bb"/>
<rect x="966.3" y="289.03" width="53" height="36.17" fill="#fed8a4"/>
<rect x="1019.3" y="289.03" width="53" height="36.17" fill="#feca84"/>
<rect x="1072.3" y="289.03" width="53" height="36.17" fill="#fee1b6"/>
<rect x="1125.3" y="289.03" width="53" height="36.17" fill="#fed399"/>
<rect x="1178.3" y="289.03" width="53" height="36.17" fill="#fedba7"/>
<rect x="1231.3" y="289.03" width="53" height="36.17" fill="#fff5e6"/>
<rect x="913.3" y="325.19" width="53" height="36.17" fill="#fed8a4"/>
<rect x="966.3" y="325.19" width="53" height="36.17" fill="#fee1b6"/>
<rect x="1019.3" y="325.19" width="53" height="36.17" fill="#fee5c2"/>
<rect x="1072.3" y="325.19" width="53" height="36.17" fill="#fedfb3"/>
<rect x="1125.3" y="325.19" width="53" height="36.17" fill="#fedcac"/>
<rect x="1178.3" y="325.19" width="53" height="36.17" fill="#fee4bf"/>
<rect x="1231.3" y="325.19" width="53" height="36.17" fill="#fee1b6"/>
<rect x="913.3" y="361.36" width="53" height="36.17" fill="#fedba7"/>
<rect x="966.3" y="361.36" width="53" height="36.17" fill="#fee5c2"/>
<rect x="1019.3" y="361.36" width="53" height="36.17" fill="#fedfb3"/>
<rect x="1072.3" y="361.36" width="53" height="36.17" fill="#fedfb3"/>
<rect x="1125.3" y="361.36" width="53" height="36.17" fill="#fed69c"/>
<rect x="1178.3" y="361.36" width="53" height="36.17" fill="#fed296"/>
<rect x="1231.3" y="361.36" width="53" height="36.17" fill="#fee3bb"/>
<rect x="913.3" y="397.53" width="53" height="36.17" fill="#fee5c2"/>
<rect x="966.3" y="397.53" width="53" height="36.17" fill="#fed192"/>
<rect x="1019.3" y="397.53" width="53" height="36.17" fill="#fed7a1"/>
<rect x="1072.3" y="397.53" width="53" height="36.17" fill="#fed192"/>
<rect x="1125.3" y="397.53" width="53" height="36.17" fill="#fed399"/>
<rect x="1178.3" y="397.53" width="53" height="36.17" fill="#fed399"/>
<rect x="1231.3" y="397.53" width="53" height="36.17" fill="#fee1b6"/>
<rect x="913.3" y="433.7" width="53" height="36.17" fill="#fee5c2"/>
<rect x="966.3" y="433.7" width="53" height="36.17" fill="#fed69c"/>
<rect x="1019.3" y="433.7" width="53" height="36.17" fill="#fed7a1"/>
<rect x="1072.3" y="433.7" width="53" height="36.17" fill="#feca84"/>
<rect x="1125.3" y="433.7" width="53" height="36.17" fill="#fec06f"/>
<rect x="1178.3" y="433.7" width="53" height="36.17" fill="#fecf8e"/>
<rect x="1231.3" y="433.7" width="53" height="36.17" fill="#fee3bb"/>
<rect x="913.3" y="469.87" width="53" height="36.17" fill="#fee4bf"/>
<rect x="966.3" y="469.87" width="53" height="36.17" fill="#fed399"/>
<rect x="1019.3" y="469.87" width="53" height="36.17" fill="#fecc87"/>
<rect x="1072.3" y="469.87" width="53" height="36.17" fill="#fed192"/>
<rect x="1125.3" y="469.87" width="53" height="36.17" fill="#fedcac"/>
<rect x="1178.3" y="469.87" width="53" height="36.17" fill="#fed399"/>
<rect x="1231.3" y="469.87" width="53" height="36.17" fill="#fed7a1"/>
<rect x="913.3" y="506.04" width="53" height="36.17" fill="#fee3bb"/>
<rect x="966.3" y="506.04" width="53" height="36.17" fill="#fed7a1"/>
<rect x="1019.3" y="506.04" width="53" height="36.17" fill="#fedfb3"/>
<rect x="1072.3" y="506.04" width="53" height="36.17" fill="#fed296"/>
<rect x="1125.3" y="506.04" width="53" height="36.17" fill="#fedfb3"/>
<rect x="1178.3" y="506.04" width="53" height="36.17" fill="#fed69c"/>
<rect x="1231.3" y="506.04" width="53" height="36.17" fill="#fee8c6"/>
<rect x="913.3" y="542.21" width="53" height="36.17" fill="#fed399"/>
<rect x="966.3" y="542.21" width="53" height="36.17" fill="#fed192"/>
<rect x="1019.3" y="542.21" width="53" height="36.17" fill="#feddaf"/>
<rect x="1072.3" y="542.21" width="53" height="36.17" fill="#fedfb3"/>
<rect x="1125.3" y="542.21" width="53" height="36.17" fill="#fedba7"/>
<rect x="1178.3" y="542.21" width="53" height="36.17" fill="#fed399"/>
<rect x="1231.3" y="542.21" width="53" height="36.17" fill="#fee3bb"/>
<rect x="913.3" y="578.38" width="53" height="36.17" fill="#feddaf"/>
<rect x="966.3" y="578.38" width="53" height="36.17" fill="#fedba7"/>
<rect x="1019.3" y="578.38" width="53" height="36.17" fill="#fed192"/>
<rect x="1072.3" y="578.38" width="53" height="36.17" fill="#fed69c"/>
<rect x="1125.3" y="578.38" width="53" height="36.17" fill="#fed8a4"/>
<rect x="1178.3" y="578.38" width="53" height="36.17" fill="#fecc87"/>
<rect x="1231.3" y="578.38" width="53" height="36.17" fill="#fecd8b"/>
<rect x="913.3" y="614.55" width="53" height="36.17" fill="#fee3bb"/>
<rect x="966.3" y="614.55" width="53" height="36.17" fill="#fedba7"/>
<rect x="1019.3" y="614.55" width="53" height="36.17" fill="#fedba7"/>
<rect x="1072.3" y="614.55" width="53" height="36.17" fill="#fed69c"/>
<rect x="1125.3" y="614.55" width="53" height="36.17" fill="#fec980"/>
<rect x="1178.3" y="614.55" width="53" height="36.17" fill="#fedcac"/>
<rect x="1231.3" y="614.55" width="53" height="36.17" fill="#ffeace"/>
<rect x="913.3" y="650.72" width="53" height="36.17" fill="#ffe9ca"/>
<rect x="966.3" y="650.72" width="53" height="36.17" fill="#fed7a1"/>
<rect x="1019.3" y="650.72" width="53" height="36.17" fill="#fec57a"/>
<rect x="1072.3" y="650.72" width="53" height="36.17" fill="#febd68"/>
<rect x="1125.3" y="650.72" width="53" height="36.17" fill="#fed399"/>
<rect x="1178.3" y="650.72" width="53" height="36.17" fill="#fedba7"/>
<rect x="1231.3" y="650.72" width="53" height="36.17" fill="#fee3bb"/>
<rect x="913.3" y="686.89" width="53" height="36.17" fill="#fee3bb"/>
<rect x="966.3" y="686.89" width="53" height="36.17" fill="#fed7a1"/>
<rect x="1019.3" y="686.89" width="53" height="36.17" fill="#fed192"/>
<rect x="1072.3" y="686.89" width="53" height="36.17" fill="#fed296"/>
<rect x="1125.3" y="686.89" width="53" height="36.17" fill="#fedba7"/>
<rect x="1178.3" y="686.89" width="53" height="36.17" fill="#fed399"/>
<rect x="1231.3" y="686.89" width="53" height="36.17" fill="#ffe9ca"/>
<rect x="913.3" y="723.06" width="53" height="36.17" fill="#fee3bb"/>
<rect x="966.3" y="723.06" width="53" height="36.17" fill="#feddaf"/>
<rect x="1019.3" y="723.06" width="53" height="36.17" fill="#fed399"/>
<rect x="1072.3" y="723.06" width="53" height="36.17" fill="#fee4bf"/>
<rect x="1125.3" y="723.06" width="53" height="36.17" fill="#feddaf"/>
<rect x="1178.3" y="723.06" width="53" height="36.17" fill="#feddaf"/>
<rect x="1231.3" y="723.06" width="53" height="36.17" fill="#ffeace"/>
<rect x="913.3" y="759.23" width="53" height="36.17" fill="#fee5c2"/>
<rect x="966.3" y="759.23" width="53" height="36.17" fill="#fed192"/>
<rect x="1019.3" y="759.23" width="53" height="36.17" fill="#fee4bf"/>
<rect x="1072.3" y="759.23" width="53" height="36.17" fill="#fed7a1"/>
<rect x="1125.3" y="759.23" width="53" height="36.17" fill="#ffeed6"/>
<rect x="1178.3" y="759.23" width="53" height="36.17" fill="#fedba7"/>
<rect x="1231.3" y="759.23" width="53" height="36.17" fill="#ffe9ca"/>
<rect x="913.3" y="795.4" width="53" height="36.17" fill="#fee5c2"/>
<rect x="966.3" y="795.4" width="53" height="36.17" fill="#ffeace"/>
<rect x="1019.3" y="795.4" width="53" height="36.17" fill="#fee8c6"/>
<rect x="1072.3" y="795.4" width="53" height="36.17" fill="#fedba7"/>
<rect x="1125.3" y="795.4" width="53" height="36.17" fill="#fed7a1"/>
<rect x="1178.3" y="795.4" width="53" height="36.17" fill="#fff2de"/>
<rect x="1231.3" y="795.4" width="53" height="36.17" fill="#fedba7"/>
<rect x="913.3" y="831.57" width="53" height="36.17" fill="#fee4bf"/>
<rect x="966.3" y="831.57" width="53" height="36.17" fill="#fee1b6"/>
<rect x="1019.3" y="831.57" width="53" height="36.17" fill="#fee8c6"/>
<rect x="1072.3" y="831.57" width="53" height="36.17" fill="#fee4bf"/>
<rect x="1125.3" y="831.57" width="53" height="36.17" fill="#fee3bb"/>
<rect x="1178.3" y="831.57" width="53" height="36.17" fill="#ffeace"/>
<rect x="1231.3" y="831.57" width="53" height="36.17" fill="#fedba7"/>
<rect x="913.3" y="867.74" width="53" height="36.17" fill="#fedfb3"/>
<rect x="966.3" y="867.74" width="53" height="36.17" fill="#fedfb3"/>
<rect x="1019.3" y="867.74" width="53" height="36.17" fill="#fee5c2"/>
<rect x="1072.3" y="867.74" width="53" height="36.17" fill="#fedba7"/>
<rect x="1125.3" y="867.74" width="53" height="36.17" fill="#ffe9ca"/>
<rect x="1178.3" y="867.74" width="53" height="36.17" fill="#fedba7"/>
<rect x="1231.3" y="867.74" width="53" height="36.17" fill="#fee5c2"/>
<rect x="913.3" y="903.91" width="53" height="36.17" fill="#fee3bb"/>
<rect x="966.3" y="903.91" width="53" height="36.17" fill="#fee3bb"/>
<rect x="1019.3" y="903.91" width="53" height="36.17" fill="#fed7a1"/>
<rect x="1072.3" y="903.91" width="53" height="36.17" fill="#fedfb3"/>
<rect x="1125.3" y="903.91" width="53" height="36.17" fill="#fed399"/>
<rect x="1178.3" y="903.91" width="53" height="36.17" fill="#fedba7"/>
<rect x="1231.3" y="903.91" width="53" height="36.17" fill="#fed69c"/>
<rect x="913.3" y="940.07" width="53" height="36.17" fill="#fed7a1"/>
<rect x="966.3" y="940.07" width="53" height="36.17" fill="#fedba7"/>
<rect x="1019.3" y="940.07" width="53" height="36.17" fill="#feddaf"/>
<rect x="1072.3" y="940.07" width="53" height="36.17" fill="#fed399"/>
<rect x="1125.3" y="940.07" width="53" height="36.17" fill="#fedfb3"/>
<rect x="1178.3" y="940.07" width="53" height="36.17" fill="#fedfb3"/>
<rect x="1231.3" y="940.07" width="53" height="36.17" fill="#fee4bf"/>
<rect x="913.3" y="976.24" width="53" height="36.17" fill="#fee1b6"/>
<rect x="966.3" y="976.24" width="53" height="36.17" fill="#fee8c6"/>
<rect x="1019.3" y="976.24" width="53" height="36.17" fill="#fed296"/>
<rect x="1072.3" y="976.24" width="53" height="36.17" fill="#feddaf"/>
<rect x="1125.3" y="976.24" width="53" height="36.17" fill="#fed8a4"/>
<rect x="1178.3" y="976.24" width="53" height="36.17" fill="#feddaf"/>
<rect x="1231.3" y="976.24" width="53" height="36.17" fill="#fee1b6"/>
<rect x="913.3" y="1012.41" width="53" height="36.17" fill="#fed69c"/>
<rect x="966.3" y="1012.41" width="53" height="36.17" fill="#fed399"/>
<rect x="1019.3" y="1012.41" width="53" height="36.17" fill="#fee5c2"/>
<rect x="1072.3" y="1012.41" width="53" height="36.17" fill="#fee8c6"/>
<rect x="1125.3" y="1012.41" width="53" height="36.17" fill="#fed8a4"/>
<rect x="1178.3" y="1012.41" width="53" height="36.17" fill="#fed7a1"/>
<rect x="1231.3" y="1012.41" width="53" height="36.17" fill="#fed399"/>
</g>
<g font-size="14.8" text-anchor="middle">
<text y="204.67"><tspan x="939.8">24</tspan><tspan x="992.8">18</tspan><tspan x="1045.8">20</tspan><tspan x="1098.8">20</tspan><tspan x="1151.8">27</tspan><tspan x="1204.8">18</tspan><tspan x="1257.8">23</tspan></text>
<text y="240.84"><tspan x="939.8">27</tspan><tspan x="992.8">13</tspan><tspan x="1045.8">24</tspan><tspan x="1098.8">19</tspan><tspan x="1151.8">24</tspan><tspan x="1204.8">13</tspan><tspan x="1257.8">20</tspan></text>
<text y="277.01"><tspan x="939.8">31</tspan><tspan x="992.8">13</tspan><tspan x="1045.8">16</tspan><tspan x="1098.8">25</tspan><tspan x="1151.8">22</tspan><tspan x="1204.8">21</tspan><tspan x="1257.8">21</tspan></text>
<text y="313.18"><tspan x="939.8">17</tspan><tspan x="992.8">23</tspan><tspan x="1045.8">32</tspan><tspan x="1098.8">18</tspan><tspan x="1151.8">26</tspan><tspan x="1204.8">22</tspan><tspan x="1257.8">6</tspan></text>
<text y="349.35"><tspan x="939.8">23</tspan><tspan x="992.8">18</tspan><tspan x="1045.8">15</tspan><tspan x="1098.8">19</tspan><tspan x="1151.8">21</tspan><tspan x="1204.8">16</tspan><tspan x="1257.8">18</tspan></text>
<text y="385.52"><tspan x="939.8">22</tspan><tspan x="992.8">15</tspan><tspan x="1045.8">19</tspan><tspan x="1098.8">19</tspan><tspan x="1151.8">25</tspan><tspan x="1204.8">27</tspan><tspan x="1257.8">17</tspan></text>
<text y="421.69"><tspan x="939.8">15</tspan><tspan x="992.8">28</tspan><tspan x="1045.8">24</tspan><tspan x="1098.8">28</tspan><tspan x="1151.8">26</tspan><tspan x="1204.8">26</tspan><tspan x="1257.8">18</tspan></text>
<text y="457.86"><tspan x="939.8">15</tspan><tspan x="992.8">25</tspan><tspan x="1045.8">24</tspan><tspan x="1098.8">32</tspan><tspan x="1151.8">38</tspan><tspan x="1204.8">29</tspan><tspan x="1257.8">17</tspan></text>
<text y="494.03"><tspan x="939.8">16</tspan><tspan x="992.8">26</tspan><tspan x="1045.8">31</tspan><tspan x="1098.8">28</tspan><tspan x="1151.8">21</tspan><tspan x="1204.8">26</tspan><tspan x="1257.8">24</tspan></text>
<text y="530.19"><tspan x="939.8">17</tspan><tspan x="992.8">24</tspan><tspan x="1045.8">19</tspan><tspan x="1098.8">27</tspan><tspan x="1151.8">19</tspan><tspan x="1204.8">25</tspan><tspan x="1257.8">14</tspan></text>
<text y="566.36"><tspan x="939.8">26</tspan><tspan x="992.8">28</tspan><tspan x="1045.8">20</tspan><tspan x="1098.8">19</tspan><tspan x="1151.8">22</tspan><tspan x="1204.8">26</tspan><tspan x="1257.8">17</tspan></text>
<text y="602.53"><tspan x="939.8">20</tspan><tspan x="992.8">22</tspan><tspan x="1045.8">28</tspan><tspan x="1098.8">25</tspan><tspan x="1151.8">23</tspan><tspan x="1204.8">31</tspan><tspan x="1257.8">30</tspan></text>
<text y="638.7"><tspan x="939.8">17</tspan><tspan x="992.8">22</tspan><tspan x="1045.8">22</tspan><tspan x="1098.8">25</tspan><tspan x="1151.8">33</tspan><tspan x="1204.8">21</tspan><tspan x="1257.8">12</tspan></text>
<text y="674.87"><tspan x="939.8">13</tspan><tspan x="992.8">24</tspan><tspan x="1045.8">35</tspan><tspan x="1098.8">40</tspan><tspan x="1151.8">26</tspan><tspan x="1204.8">22</tspan><tspan x="1257.8">17</tspan></text>
<text y="711.04"><tspan x="939.8">17</tspan><tspan x="992.8">24</tspan><tspan x="1045.8">28</tspan><tspan x="1098.8">27</tspan><tspan x="1151.8">22</tspan><tspan x="1204.8">26</tspan><tspan x="1257.8">13</tspan></text>
<text y="747.21"><tspan x="939.8">17</tspan><tspan x="992.8">20</tspan><tspan x="1045.8">26</tspan><tspan x="1098.8">16</tspan><tspan x="1151.8">20</tspan><tspan x="1204.8">20</tspan><tspan x="1257.8">12</tspan></text>
<text y="783.38"><tspan x="939.8">15</tspan><tspan x="992.8">28</tspan><tspan x="1045.8">16</tspan><tspan x="1098.8">24</tspan><tspan x="1151.8">10</tspan><tspan x="1204.8">22</tspan><tspan x="1257.8">13</tspan></text>
<text y="819.55"><tspan x="939.8">15</tspan><tspan x="992.8">12</tspan><tspan x="1045.8">14</tspan><tspan x="1098.8">22</tspan><tspan x="1151.8">24</tspan><tspan x="1204.8">8</tspan><tspan x="1257.8">22</tspan></text>
<text y="855.72"><tspan x="939.8">16</tspan><tspan x="992.8">18</tspan><tspan x="1045.8">14</tspan><tspan x="1098.8">16</tspan><tspan x="1151.8">17</tspan><tspan x="1204.8">12</tspan><tspan x="1257.8">22</tspan></text>
<text y="891.89"><tspan x="939.8">19</tspan><tspan x="992.8">19</tspan><tspan x="1045.8">15</tspan><tspan x="1098.8">22</tspan><tspan x="1151.8">13</tspan><tspan x="1204.8">22</tspan><tspan x="1257.8">15</tspan></text>
<text y="928.06"><tspan x="939.8">17</tspan><tspan x="992.8">17</tspan><tspan x="1045.8">24</tspan><tspan x="1098.8">19</tspan><tspan x="1151.8">26</tspan><tspan x="1204.8">22</tspan><tspan x="1257.8">25</tspan></text>
<text y="964.23"><tspan x="939.8">24</tspan><tspan x="992.8">22</tspan><tspan x="1045.8">20</tspan><tspan x="1098.8">26</tspan><tspan x="1151.8">19</tspan><tspan x="1204.8">19</tspan><tspan x="1257.8">16</tspan></text>
<text y="1000.4"><tspan x="939.8">18</tspan><tspan x="992.8">14</tspan><tspan x="1045.8">27</tspan><tspan x="1098.8">20</tspan><tspan x="1151.8">23</tspan><tspan x="1204.8">20</tspan><tspan x="1257.8">18</tspan></text>
<text y="1036.57"><tspan x="939.8">25</tspan><tspan x="992.8">26</tspan><tspan x="1045.8">15</tspan><tspan x="1098.8">14</tspan><tspan x="1151.8">23</tspan><tspan x="1204.8">24</tspan><tspan x="1257.8">26</tspan></text>
</g>
<rect x="908.8" y="176.9" width="380" height="874.5" fill="none" stroke="#000" stroke-width="1.6"/>
<text transform="translate(939.8 1130) rotate(-45)" font-size="27.73" text-anchor="middle" dy="9.9">Sunday</text>
<text transform="translate(992.8 1130) rotate(-45)" font-size="27.73" text-anchor="middle" dy="9.9">Monday</text>
<text transform="translate(1045.8 1130) rotate(-45)" font-size="27.73" text-anchor="middle" dy="9.9">Tuesday</text>
<text transform="translate(1098.8 1130) rotate(-45)" font-size="27.73" text-anchor="middle" dy="9.9">Wednesday</text>
<text transform="translate(1151.8 1130) rotate(-45)" font-size="27.73" text-anchor="middle" dy="9.9">Thursday</text>
<text transform="translate(1204.8 1130) rotate(-45)" font-size="27.73" text-anchor="middle" dy="9.9">Friday</text>
<text transform="translate(1257.8 1130) rotate(-45)" font-size="27.73" text-anchor="middle" dy="9.9">Saturday</text>
<path d="M939.8 1052.2v8.6M992.8 1052.2v8.6M1045.8 1052.2v8.6M1098.8 1052.2v8.6M1151.8 1052.2v8.6M1204.8 1052.2v8.6M1257.8 1052.2v8.6" stroke="#000" stroke-width="2" fill="none"/>
<rect x="1306.6" y="123.5" width="381.6" height="53.4" fill="#000"/>
<text x="1497.4" y="160.7" font-size="27.73" text-anchor="middle" font-weight="normal" fill="#fff">Queens</text>
<path d="M1338.4 176.9V1052.2M1391.4 176.9V1052.2M1444.4 176.9V1052.2M1497.4 176.9V1052.2M1550.4 176.9V1052.2M1603.4 176.9V1052.2M1656.4 176.9V1052.2M1306.6 198.6H1688.2M1306.6 234.77H1688.2M1306.6 270.94H1688.2M1306.6 307.11H1688.2M1306.6 343.28H1688.2M1306.6 379.45H1688.2M1306.6 415.62H1688.2M1306.6 451.79H1688.2M1306.6 487.96H1688.2M1306.6 524.13H1688.2M1306.6 560.3H1688.2M1306.6 596.47H1688.2M1306.6 632.63H1688.2M1306.6 668.8H1688.2M1306.6 704.97H1688.2M1306.6 741.14H1688.2M1306.6 777.31H1688.2M1306.6 813.48H1688.2M1306.6 849.65H1688.2M1306.6 885.82H1688.2M1306.6 921.99H1688.2M1306.6 958.16H1688.2M1306.6 994.33H1688.2M1306.6 1030.5H1688.2" stroke="#000" stroke-opacity="0.45" stroke-width="0.8" fill="none"/>
<g stroke="#000" stroke-opacity="0.62" stroke-width="0.7">
<rect x="1311.9" y="180.52" width="53" height="36.17" fill="#fecc87"/>
<rect x="1364.9" y="180.52" width="53" height="36.17" fill="#fec980"/>
<rect x="1417.9" y="180.52" width="53" height="36.17" fill="#fed7a1"/>
<rect x="1470.9" y="180.52" width="53" height="36.17" fill="#fec980"/>
<rect x="1523.9" y="180.52" width="53" height="36.17" fill="#fed296"/>
<rect x="1576.9" y="180.52" width="53" height="36.17" fill="#fedcac"/>
<rect x="1629.9" y="180.52" width="53" height="36.17" fill="#fee4bf"/>
<rect x="1311.9" y="216.69" width="53" height="36.17" fill="#fec980"/>
<rect x="1364.9" y="216.69" width="53" height="36.17" fill="#fedba7"/>
<rect x="1417.9" y="216.69" width="53" height="36.17" fill="#fec476"/>
<rect x="1470.9" y="216.69" width="53" height="36.17" fill="#fecc87"/>
<rect x="1523.9" y="216.69" width="53" height="36.17" fill="#fedba7"/>
<rect x="1576.9" y="216.69" width="53" height="36.17" fill="#ffe9ca"/>
<rect x="1629.9" y="216.69" width="53" height="36.17" fill="#fed69c"/>
<rect x="1311.9" y="252.86" width="53" height="36.17" fill="#fec272"/>
<rect x="1364.9" y="252.86" width="53" height="36.17" fill="#fecc87"/>
<rect x="1417.9" y="252.86" width="53" height="36.17" fill="#fed69c"/>
<rect x="1470.9" y="252.86" width="53" height="36.17" fill="#fed296"/>
<rect x="1523.9" y="252.86" width="53" height="36.17" fill="#fee8c6"/>
<rect x="1576.9" y="252.86" width="53" height="36.17" fill="#fec67d"/>
<rect x="1629.9" y="252.86" width="53" height="36.17" fill="#fed69c"/>
<rect x="1311.9" y="289.03" width="53" height="36.17" fill="#fed69c"/>
<rect x="1364.9" y="289.03" width="53" height="36.17" fill="#fec980"/>
<rect x="1417.9" y="289.03" width="53" height="36.17" fill="#fed7a1"/>
<rect x="1470.9" y="289.03" width="53" height="36.17" fill="#fedfb3"/>
<rect x="1523.9" y="289.03" width="53" height="36.17" fill="#fed69c"/>
<rect x="1576.9" y="289.03" width="53" height="36.17" fill="#fedba7"/>
<rect x="1629.9" y="289.03" width="53" height="36.17" fill="#fedba7"/>
<rect x="1311.9" y="325.19" width="53" height="36.17" fill="#fecf8e"/>
<rect x="1364.9" y="325.19" width="53" height="36.17" fill="#fed399"/>
<rect x="1417.9" y="325.19" width="53" height="36.17" fill="#fed8a4"/>
<rect x="1470.9" y="325.19" width="53" height="36.17" fill="#fedcac"/>
<rect x="1523.9" y="325.19" width="53" height="36.17" fill="#fed192"/>
<rect x="1576.9" y="325.19" width="53" height="36.17" fill="#fedcac"/>
<rect x="1629.9" y="325.19" width="53" height="36.17" fill="#fec272"/>
<rect x="1311.9" y="361.36" width="53" height="36.17" fill="#fee1b6"/>
<rect x="1364.9" y="361.36" width="53" height="36.17" fill="#feca84"/>
<rect x="1417.9" y="361.36" width="53" height="36.17" fill="#fedcac"/>
<rect x="1470.9" y="361.36" width="53" height="36.17" fill="#fed296"/>
<rect x="1523.9" y="361.36" width="53" height="36.17" fill="#fecf8e"/>
<rect x="1576.9" y="361.36" width="53" height="36.17" fill="#fecd8b"/>
<rect x="1629.9" y="361.36" width="53" height="36.17" fill="#fecd8b"/>
<rect x="1311.9" y="397.53" width="53" height="36.17" fill="#fee1b6"/>
<rect x="1364.9" y="397.53" width="53" height="36.17" fill="#fedcac"/>
<rect x="1417.9" y="397.53" width="53" height="36.17" fill="#fecd8b"/>
<rect x="1470.9" y="397.53" width="53" height="36.17" fill="#feca84"/>
<rect x="1523.9" y="397.53" width="53" height="36.17" fill="#fecf8e"/>
<rect x="1576.9" y="397.53" width="53" height="36.17" fill="#fecd8b"/>
<rect x="1629.9" y="397.53" width="53" height="36.17" fill="#fec67d"/>
<rect x="1311.9" y="433.7" width="53" height="36.17" fill="#fedcac"/>
<rect x="1364.9" y="433.7" width="53" height="36.17" fill="#feddaf"/>
<rect x="1417.9" y="433.7" width="53" height="36.17" fill="#fedba7"/>
<rect x="1470.9" y="433.7" width="53" height="36.17" fill="#fed296"/>
<rect x="1523.9" y="433.7" width="53" height="36.17" fill="#feca84"/>
<rect x="1576.9" y="433.7" width="53" height="36.17" fill="#feca84"/>
<rect x="1629.9" y="433.7" width="53" height="36.17" fill="#fed69c"/>
<rect x="1311.9" y="469.87" width="53" height="36.17" fill="#fedcac"/>
<rect x="1364.9" y="469.87" width="53" height="36.17" fill="#febd68"/>
<rect x="1417.9" y="469.87" width="53" height="36.17" fill="#fed192"/>
<rect x="1470.9" y="469.87" width="53" height="36.17" fill="#fec272"/>
<rect x="1523.9" y="469.87" width="53" height="36.17" fill="#fecf8e"/>
<rect x="1576.9" y="469.87" width="53" height="36.17" fill="#febf6c"/>
<rect x="1629.9" y="469.87" width="53" height="36.17" fill="#fee4bf"/>
<rect x="1311.9" y="506.04" width="53" height="36.17" fill="#fed192"/>
<rect x="1364.9" y="506.04" width="53" height="36.17" fill="#fecc87"/>
<rect x="1417.9" y="506.04" width="53" height="36.17" fill="#fee1b6"/>
<rect x="1470.9" y="506.04" width="53" height="36.17" fill="#fed8a4"/>
<rect x="1523.9" y="506.04" width="53" height="36.17" fill="#fed69c"/>
<rect x="1576.9" y="506.04" width="53" height="36.17" fill="#fedcac"/>
<rect x="1629.9" y="506.04" width="53" height="36.17" fill="#fedcac"/>
<rect x="1311.9" y="542.21" width="53" height="36.17" fill="#fedba7"/>
<rect x="1364.9" y="542.21" width="53" height="36.17" fill="#fedcac"/>
<rect x="1417.9" y="542.21" width="53" height="36.17" fill="#fecd8b"/>
<rect x="1470.9" y="542.21" width="53" height="36.17" fill="#fec57a"/>
<rect x="1523.9" y="542.21" width="53" height="36.17" fill="#fecd8b"/>
<rect x="1576.9" y="542.21" width="53" height="36.17" fill="#fed296"/>
<rect x="1629.9" y="542.21" width="53" height="36.17" fill="#fed399"/>
<rect x="1311.9" y="578.38" width="53" height="36.17" fill="#fed8a4"/>
<rect x="1364.9" y="578.38" width="53" height="36.17" fill="#fed8a4"/>
<rect x="1417.9" y="578.38" width="53" height="36.17" fill="#fedfb3"/>
<rect x="1470.9" y="578.38" width="53" height="36.17" fill="#fedba7"/>
<rect x="1523.9" y="578.38" width="53" height="36.17" fill="#fed296"/>
<rect x="1576.9" y="578.38" width="53" height="36.17" fill="#fecc87"/>
<rect x="1629.9" y="578.38" width="53" height="36.17" fill="#fed69c"/>
<rect x="1311.9" y="614.55" width="53" height="36.17" fill="#fee4bf"/>
<rect x="1364.9" y="614.55" width="53" height="36.17" fill="#fed399"/>
<rect x="1417.9" y="614.55" width="53" height="36.17" fill="#fec980"/>
<rect x="1470.9" y="614.55" width="53" height="36.17" fill="#fed296"/>
<rect x="1523.9" y="614.55" width="53" height="36.17" fill="#fed69c"/>
<rect x="1576.9" y="614.55" width="53" height="36.17" fill="#fed296"/>
<rect x="1629.9" y="614.55" width="53" height="36.17" fill="#fed7a1"/>
<rect x="1311.9" y="650.72" width="53" height="36.17" fill="#feddaf"/>
<rect x="1364.9" y="650.72" width="53" height="36.17" fill="#fee4bf"/>
<rect x="1417.9" y="650.72" width="53" height="36.17" fill="#fee4bf"/>
<rect x="1470.9" y="650.72" width="53" height="36.17" fill="#fed192"/>
<rect x="1523.9" y="650.72" width="53" height="36.17" fill="#fedba7"/>
<rect x="1576.9" y="650.72" width="53" height="36.17" fill="#fed296"/>
<rect x="1629.9" y="650.72" width="53" height="36.17" fill="#fed7a1"/>
<rect x="1311.9" y="686.89" width="53" height="36.17" fill="#fed399"/>
<rect x="1364.9" y="686.89" width="53" height="36.17" fill="#fed7a1"/>
<rect x="1417.9" y="686.89" width="53" height="36.17" fill="#fecc87"/>
<rect x="1470.9" y="686.89" width="53" height="36.17" fill="#fed7a1"/>
<rect x="1523.9" y="686.89" width="53" height="36.17" fill="#fee5c2"/>
<rect x="1576.9" y="686.89" width="53" height="36.17" fill="#fecc87"/>
<rect x="1629.9" y="686.89" width="53" height="36.17" fill="#fedba7"/>
<rect x="1311.9" y="723.06" width="53" height="36.17" fill="#fedfb3"/>
<rect x="1364.9" y="723.06" width="53" height="36.17" fill="#feca84"/>
<rect x="1417.9" y="723.06" width="53" height="36.17" fill="#fecd8b"/>
<rect x="1470.9" y="723.06" width="53" height="36.17" fill="#fecf8e"/>
<rect x="1523.9" y="723.06" width="53" height="36.17" fill="#feca84"/>
<rect x="1576.9" y="723.06" width="53" height="36.17" fill="#fee4bf"/>
<rect x="1629.9" y="723.06" width="53" height="36.17" fill="#fed296"/>
<rect x="1311.9" y="759.23" width="53" height="36.17" fill="#fedfb3"/>
<rect x="1364.9" y="759.23" width="53" height="36.17" fill="#fec67d"/>
<rect x="1417.9" y="759.23" width="53" height="36.17" fill="#fedba7"/>
<rect x="1470.9" y="759.23" width="53" height="36.17" fill="#fed69c"/>
<rect x="1523.9" y="759.23" width="53" height="36.17" fill="#feddaf"/>
<rect x="1576.9" y="759.23" width="53" height="36.17" fill="#feca84"/>
<rect x="1629.9" y="759.23" width="53" height="36.17" fill="#fed7a1"/>
<rect x="1311.9" y="795.4" width="53" height="36.17" fill="#fecd8b"/>
<rect x="1364.9" y="795.4" width="53" height="36.17" fill="#fed296"/>
<rect x="1417.9" y="795.4" width="53" height="36.17" fill="#fee3bb"/>
<rect x="1470.9" y="795.4" width="53" height="36.17" fill="#fed69c"/>
<rect x="1523.9" y="795.4" width="53" height="36.17" fill="#fee1b6"/>
<rect x="1576.9" y="795.4" width="53" height="36.17" fill="#fee1b6"/>
<rect x="1629.9" y="795.4" width="53" height="36.17" fill="#fedba7"/>
<rect x="1311.9" y="831.57" width="53" height="36.17" fill="#fec980"/>
<rect x="1364.9" y="831.57" width="53" height="36.17" fill="#fed296"/>
<rect x="1417.9" y="831.57" width="53" height="36.17" fill="#fed192"/>
<rect x="1470.9" y="831.57" width="53" height="36.17" fill="#feddaf"/>
<rect x="1523.9" y="831.57" width="53" height="36.17" fill="#fed192"/>
<rect x="1576.9" y="831.57" width="53" height="36.17" fill="#fed8a4"/>
<rect x="1629.9" y="831.57" width="53" height="36.17" fill="#ffeace"/>
<rect x="1311.9" y="867.74" width="53" height="36.17" fill="#fed8a4"/>
<rect x="1364.9" y="867.74" width="53" height="36.17" fill="#fed8a4"/>
<rect x="1417.9" y="867.74" width="53" height="36.17" fill="#fed399"/>
<rect x="1470.9" y="867.74" width="53" height="36.17" fill="#feddaf"/>
<rect x="1523.9" y="867.74" width="53" height="36.17" fill="#fed399"/>
<rect x="1576.9" y="867.74" width="53" height="36.17" fill="#fed8a4"/>
<rect x="1629.9" y="867.74" width="53" height="36.17" fill="#fed296"/>
<rect x="1311.9" y="903.91" width="53" height="36.17" fill="#fed7a1"/>
<rect x="1364.9" y="903.91" width="53" height="36.17" fill="#fecd8b"/>
<rect x="1417.9" y="903.91" width="53" height="36.17" fill="#feddaf"/>
<rect x="1470.9" y="903.91" width="53" height="36.17" fill="#fecf8e"/>
<rect x="1523.9" y="903.91" width="53" height="36.17" fill="#fed8a4"/>
<rect x="1576.9" y="903.91" width="53" height="36.17" fill="#fed8a4"/>
<rect x="1629.9" y="903.91" width="53" height="36.17" fill="#fed69c"/>
<rect x="1311.9" y="940.07" width="53" height="36.17" fill="#fed69c"/>
<rect x="1364.9" y="940.07" width="53" height="36.17" fill="#feddaf"/>
<rect x="1417.9" y="940.07" width="53" height="36.17" fill="#fee1b6"/>
<rect x="1470.9" y="940.07" width="53" height="36.17" fill="#fedba7"/>
<rect x="1523.9" y="940.07" width="53" height="36.17" fill="#fedba7"/>
<rect x="1576.9" y="940.07" width="53" height="36.17" fill="#fed8a4"/>
<rect x="1629.9" y="940.07" width="53" height="36.17" fill="#fecf8e"/>
<rect x="1311.9" y="976.24" width="53" height="36.17" fill="#fed8a4"/>
<rect x="1364.9" y="976.24" width="53" height="36.17" fill="#fedba7"/>
<rect x="1417.9" y="976.24" width="53" height="36.17" fill="#fee1b6"/>
<rect x="1470.9" y="976.24" width="53" height="36.17" fill="#feddaf"/>
<rect x="1523.9" y="976.24" width="53" height="36.17" fill="#fed7a1"/>
<rect x="1576.9" y="976.24" width="53" height="36.17" fill="#fed8a4"/>
<rect x="1629.9" y="976.24" width="53" height="36.17" fill="#fecc87"/>
<rect x="1311.9" y="1012.41" width="53" height="36.17" fill="#fed8a4"/>
<rect x="1364.9" y="1012.41" width="53" height="36.17" fill="#fed399"/>
<rect x="1417.9" y="1012.41" width="53" height="36.17" fill="#fecc87"/>
<rect x="1470.9" y="1012.41" width="53" height="36.17" fill="#fec67d"/>
<rect x="1523.9" y="1012.41" width="53" height="36.17" fill="#fed8a4"/>
<rect x="1576.9" y="1012.41" width="53" height="36.17" fill="#fecf8e"/>
<rect x="1629.9" y="1012.41" width="53" height="36.17" fill="#fecd8b"/>
</g>
<g font-size="14.8" text-anchor="middle">
<text y="204.67"><tspan x="1338.4">31</tspan><tspan x="1391.4">33</tspan><tspan x="1444.4">24</tspan><tspan x="1497.4">33</tspan><tspan x="1550.4">27</tspan><tspan x="1603.4">21</tspan><tspan x="1656.4">16</tspan></text>
<text y="240.84"><tspan x="1338.4">33</tspan><tspan x="1391.4">22</tspan><tspan x="1444.4">36</tspan><tspan x="1497.4">31</tspan><tspan x="1550.4">22</tspan><tspan x="1603.4">13</tspan><tspan x="1656.4">25</tspan></text>
<text y="277.01"><tspan x="1338.4">37</tspan><tspan x="1391.4">31</tspan><tspan x="1444.4">25</tspan><tspan x="1497.4">27</tspan><tspan x="1550.4">14</tspan><tspan x="1603.4">34</tspan><tspan x="1656.4">25</tspan></text>
<text y="313.18"><tspan x="1338.4">25</tspan><tspan x="1391.4">33</tspan><tspan x="1444.4">24</tspan><tspan x="1497.4">19</tspan><tspan x="1550.4">25</tspan><tspan x="1603.4">22</tspan><tspan x="1656.4">22</tspan></text>
<text y="349.35"><tspan x="1338.4">29</tspan><tspan x="1391.4">26</tspan><tspan x="1444.4">23</tspan><tspan x="1497.4">21</tspan><tspan x="1550.4">28</tspan><tspan x="1603.4">21</tspan><tspan x="1656.4">37</tspan></text>
<text y="385.52"><tspan x="1338.4">18</tspan><tspan x="1391.4">32</tspan><tspan x="1444.4">21</tspan><tspan x="1497.4">27</tspan><tspan x="1550.4">29</tspan><tspan x="1603.4">30</tspan><tspan x="1656.4">30</tspan></text>
<text y="421.69"><tspan x="1338.4">18</tspan><tspan x="1391.4">21</tspan><tspan x="1444.4">30</tspan><tspan x="1497.4">32</tspan><tspan x="1550.4">29</tspan><tspan x="1603.4">30</tspan><tspan x="1656.4">34</tspan></text>
<text y="457.86"><tspan x="1338.4">21</tspan><tspan x="1391.4">20</tspan><tspan x="1444.4">22</tspan><tspan x="1497.4">27</tspan><tspan x="1550.4">32</tspan><tspan x="1603.4">32</tspan><tspan x="1656.4">25</tspan></text>
<text y="494.03"><tspan x="1338.4">21</tspan><tspan x="1391.4">40</tspan><tspan x="1444.4">28</tspan><tspan x="1497.4">37</tspan><tspan x="1550.4">29</tspan><tspan x="1603.4">39</tspan><tspan x="1656.4">16</tspan></text>
<text y="530.19"><tspan x="1338.4">28</tspan><tspan x="1391.4">31</tspan><tspan x="1444.4">18</tspan><tspan x="1497.4">23</tspan><tspan x="1550.4">25</tspan><tspan x="1603.4">21</tspan><tspan x="1656.4">21</tspan></text>
<text y="566.36"><tspan x="1338.4">22</tspan><tspan x="1391.4">21</tspan><tspan x="1444.4">30</tspan><tspan x="1497.4">35</tspan><tspan x="1550.4">30</tspan><tspan x="1603.4">27</tspan><tspan x="1656.4">26</tspan></text>
<text y="602.53"><tspan x="1338.4">23</tspan><tspan x="1391.4">23</tspan><tspan x="1444.4">19</tspan><tspan x="1497.4">22</tspan><tspan x="1550.4">27</tspan><tspan x="1603.4">31</tspan><tspan x="1656.4">25</tspan></text>
<text y="638.7"><tspan x="1338.4">16</tspan><tspan x="1391.4">26</tspan><tspan x="1444.4">33</tspan><tspan x="1497.4">27</tspan><tspan x="1550.4">25</tspan><tspan x="1603.4">27</tspan><tspan x="1656.4">24</tspan></text>
<text y="674.87"><tspan x="1338.4">20</tspan><tspan x="1391.4">16</tspan><tspan x="1444.4">16</tspan><tspan x="1497.4">28</tspan><tspan x="1550.4">22</tspan><tspan x="1603.4">27</tspan><tspan x="1656.4">24</tspan></text>
<text y="711.04"><tspan x="1338.4">26</tspan><tspan x="1391.4">24</tspan><tspan x="1444.4">31</tspan><tspan x="1497.4">24</tspan><tspan x="1550.4">15</tspan><tspan x="1603.4">31</tspan><tspan x="1656.4">22</tspan></text>
<text y="747.21"><tspan x="1338.4">19</tspan><tspan x="1391.4">32</tspan><tspan x="1444.4">30</tspan><tspan x="1497.4">29</tspan><tspan x="1550.4">32</tspan><tspan x="1603.4">16</tspan><tspan x="1656.4">27</tspan></text>
<text y="783.38"><tspan x="1338.4">19</tspan><tspan x="1391.4">34</tspan><tspan x="1444.4">22</tspan><tspan x="1497.4">25</tspan><tspan x="1550.4">20</tspan><tspan x="1603.4">32</tspan><tspan x="1656.4">24</tspan></text>
<text y="819.55"><tspan x="1338.4">30</tspan><tspan x="1391.4">27</tspan><tspan x="1444.4">17</tspan><tspan x="1497.4">25</tspan><tspan x="1550.4">18</tspan><tspan x="1603.4">18</tspan><tspan x="1656.4">22</tspan></text>
<text y="855.72"><tspan x="1338.4">33</tspan><tspan x="1391.4">27</tspan><tspan x="1444.4">28</tspan><tspan x="1497.4">20</tspan><tspan x="1550.4">28</tspan><tspan x="1603.4">23</tspan><tspan x="1656.4">12</tspan></text>
<text y="891.89"><tspan x="1338.4">23</tspan><tspan x="1391.4">23</tspan><tspan x="1444.4">26</tspan><tspan x="1497.4">20</tspan><tspan x="1550.4">26</tspan><tspan x="1603.4">23</tspan><tspan x="1656.4">27</tspan></text>
<text y="928.06"><tspan x="1338.4">24</tspan><tspan x="1391.4">30</tspan><tspan x="1444.4">20</tspan><tspan x="1497.4">29</tspan><tspan x="1550.4">23</tspan><tspan x="1603.4">23</tspan><tspan x="1656.4">25</tspan></text>
<text y="964.23"><tspan x="1338.4">25</tspan><tspan x="1391.4">20</tspan><tspan x="1444.4">18</tspan><tspan x="1497.4">22</tspan><tspan x="1550.4">22</tspan><tspan x="1603.4">23</tspan><tspan x="1656.4">29</tspan></text>
<text y="1000.4"><tspan x="1338.4">23</tspan><tspan x="1391.4">22</tspan><tspan x="1444.4">18</tspan><tspan x="1497.4">20</tspan><tspan x="1550.4">24</tspan><tspan x="1603.4">23</tspan><tspan x="1656.4">31</tspan></text>
<text y="1036.57"><tspan x="1338.4">23</tspan><tspan x="1391.4">26</tspan><tspan x="1444.4">31</tspan><tspan x="1497.4">34</tspan><tspan x="1550.4">23</tspan><tspan x="1603.4">29</tspan><tspan x="1656.4">30</tspan></text>
</g>
<rect x="1307.4" y="176.9" width="380" height="874.5" fill="none" stroke="#000" stroke-width="1.6"/>
<text transform="translate(1338.4 1130) rotate(-45)" font-size="27.73" text-anchor="middle" dy="9.9">Sunday</text>
<text transform="translate(1391.4 1130) rotate(-45)" font-size="27.73" text-anchor="middle" dy="9.9">Monday</text>
<text transform="translate(1444.4 1130) rotate(-45)" font-size="27.73" text-anchor="middle" dy="9.9">Tuesday</text>
<text transform="translate(1497.4 1130) rotate(-45)" font-size="27.73" text-anchor="middle" dy="9.9">Wednesday</text>
<text transform="translate(1550.4 1130) rotate(-45)" font-size="27.73" text-anchor="middle" dy="9.9">Thursday</text>
<text transform="translate(1603.4 1130) rotate(-45)" font-size="27.73" text-anchor="middle" dy="9.9">Friday</text>
<text transform="translate(1656.4 1130) rotate(-45)" font-size="27.73" text-anchor="middle" dy="9.9">Saturday</text>
<path d="M1338.4 1052.2v8.6M1391.4 1052.2v8.6M1444.4 1052.2v8.6M1497.4 1052.2v8.6M1550.4 1052.2v8.6M1603.4 1052.2v8.6M1656.4 1052.2v8.6" stroke="#000" stroke-width="2" fill="none"/>
<rect x="1705.2" y="123.5" width="381.6" height="53.4" fill="#000"/>
<text x="1896" y="160.7" font-size="27.73" text-anchor="middle" font-weight="normal" fill="#fff">Staten Island</text>
<path d="M1737 176.9V1052.2M1790 176.9V1052.2M1843 176.9V1052.2M1896 176.9V1052.2M1949 176.9V1052.2M2002 176.9V1052.2M2055 176.9V1052.2M1705.2 198.6H2086.8M1705.2 234.77H2086.8M1705.2 270.94H2086.8M1705.2 307.11H2086.8M1705.2 343.28H2086.8M1705.2 379.45H2086.8M1705.2 415.62H2086.8M1705.2 451.79H2086.8M1705.2 487.96H2086.8M1705.2 524.13H2086.8M1705.2 560.3H2086.8M1705.2 596.47H2086.8M1705.2 632.63H2086.8M1705.2 668.8H2086.8M1705.2 704.97H2086.8M1705.2 741.14H2086.8M1705.2 777.31H2086.8M1705.2 813.48H2086.8M1705.2 849.65H2086.8M1705.2 885.82H2086.8M1705.2 921.99H2086.8M1705.2 958.16H2086.8M1705.2 994.33H2086.8M1705.2 1030.5H2086.8" stroke="#000" stroke-opacity="0.45" stroke-width="0.8" fill="none"/>
<g stroke="#000" stroke-opacity="0.62" stroke-width="0.7">
<rect x="1710.5" y="180.52" width="53" height="36.17" fill="#fff8ef"/>
<rect x="1763.5" y="180.52" width="53" height="36.17" fill="#fff8ef"/>
<rect x="1816.5" y="180.52" width="53" height="36.17" fill="#ffedd1"/>
<rect x="1869.5" y="180.52" width="53" height="36.17" fill="#fff8ef"/>
<rect x="1922.5" y="180.52" width="53" height="36.17" fill="#fff3e2"/>
<rect x="1975.5" y="180.52" width="53" height="36.17" fill="#fff0da"/>
<rect x="2028.5" y="180.52" width="53" height="36.17" fill="#fffaf2"/>
<rect x="1710.5" y="216.69" width="53" height="36.17" fill="#fff6ea"/>
<rect x="1763.5" y="216.69" width="53" height="36.17" fill="#fff2de"/>
<rect x="1816.5" y="216.69" width="53" height="36.17" fill="#fffaf2"/>
<rect x="1869.5" y="216.69" width="53" height="36.17" fill="#fff8ef"/>
<rect x="1922.5" y="216.69" width="53" height="36.17" fill="#fff5e6"/>
<rect x="1975.5" y="216.69" width="53" height="36.17" fill="#fff6ea"/>
<rect x="2028.5" y="216.69" width="53" height="36.17" fill="#fff5e6"/>
<rect x="1710.5" y="252.86" width="53" height="36.17" fill="#fff6ea"/>
<rect x="1763.5" y="252.86" width="53" height="36.17" fill="#ffedd1"/>
<rect x="1816.5" y="252.86" width="53" height="36.17" fill="#fff5e6"/>
<rect x="1869.5" y="252.86" width="53" height="36.17" fill="#fff3e2"/>
<rect x="1922.5" y="252.86" width="53" height="36.17" fill="#fff5e6"/>
<rect x="1975.5" y="252.86" width="53" height="36.17" fill="#fff5e6"/>
<rect x="2028.5" y="252.86" width="53" height="36.17" fill="#fffaf2"/>
<rect x="1710.5" y="289.03" width="53" height="36.17" fill="#fff6ea"/>
<rect x="1763.5" y="289.03" width="53" height="36.17" fill="#fff0da"/>
<rect x="1816.5" y="289.03" width="53" height="36.17" fill="#fff6ea"/>
<rect x="1869.5" y="289.03" width="53" height="36.17" fill="#fffaf2"/>
<rect x="1922.5" y="289.03" width="53" height="36.17" fill="#fff6ea"/>
<rect x="1975.5" y="289.03" width="53" height="36.17" fill="#fffaf2"/>
<rect x="2028.5" y="289.03" width="53" height="36.17" fill="#fff8ef"/>
<rect x="1710.5" y="325.19" width="53" height="36.17" fill="#fff6ea"/>
<rect x="1763.5" y="325.19" width="53" height="36.17" fill="#fff5e6"/>
<rect x="1816.5" y="325.19" width="53" height="36.17" fill="#fffbf6"/>
<rect x="1869.5" y="325.19" width="53" height="36.17" fill="#fff6ea"/>
<rect x="1922.5" y="325.19" width="53" height="36.17" fill="#fff5e6"/>
<rect x="1975.5" y="325.19" width="53" height="36.17" fill="#fff8ef"/>
<rect x="2028.5" y="325.19" width="53" height="36.17" fill="#fff3e2"/>
<rect x="1710.5" y="361.36" width="53" height="36.17" fill="#fff3e2"/>
<rect x="1763.5" y="361.36" width="53" height="36.17" fill="#fff3e2"/>
<rect x="1816.5" y="361.36" width="53" height="36.17" fill="#fffaf2"/>
<rect x="1869.5" y="361.36" width="53" height="36.17" fill="#fff6ea"/>
<rect x="1922.5" y="361.36" width="53" height="36.17" fill="#fff8ef"/>
<rect x="1975.5" y="361.36" width="53" height="36.17" fill="#fff2de"/>
<rect x="2028.5" y="361.36" width="53" height="36.17" fill="#fff8ef"/>
<rect x="1710.5" y="397.53" width="53" height="36.17" fill="#fff6ea"/>
<rect x="1763.5" y="397.53" width="53" height="36.17" fill="#fff2de"/>
<rect x="1816.5" y="397.53" width="53" height="36.17" fill="#fff5e6"/>
<rect x="1869.5" y="397.53" width="53" height="36.17" fill="#fff2de"/>
<rect x="1922.5" y="397.53" width="53" height="36.17" fill="#fff3e2"/>
<rect x="1975.5" y="397.53" width="53" height="36.17" fill="#fffaf2"/>
<rect x="2028.5" y="397.53" width="53" height="36.17" fill="#fffbf6"/>
<rect x="1710.5" y="433.7" width="53" height="36.17" fill="#fff8ef"/>
<rect x="1763.5" y="433.7" width="53" height="36.17" fill="#fff3e2"/>
<rect x="1816.5" y="433.7" width="53" height="36.17" fill="#fff8ef"/>
<rect x="1869.5" y="433.7" width="53" height="36.17" fill="#fff5e6"/>
<rect x="1922.5" y="433.7" width="53" height="36.17" fill="#fff8ef"/>
<rect x="1975.5" y="433.7" width="53" height="36.17" fill="#fff8ef"/>
<rect x="2028.5" y="433.7" width="53" height="36.17" fill="#fffaf2"/>
<rect x="1710.5" y="469.87" width="53" height="36.17" fill="#fff2de"/>
<rect x="1763.5" y="469.87" width="53" height="36.17" fill="#fffefb"/>
<rect x="1816.5" y="469.87" width="53" height="36.17" fill="#fff5e6"/>
<rect x="1869.5" y="469.87" width="53" height="36.17" fill="#fff5e6"/>
<rect x="1922.5" y="469.87" width="53" height="36.17" fill="#fffaf2"/>
<rect x="1975.5" y="469.87" width="53" height="36.17" fill="#fff8ef"/>
<rect x="2028.5" y="469.87" width="53" height="36.17" fill="#fff5e6"/>
<rect x="1710.5" y="506.04" width="53" height="36.17" fill="#fffaf2"/>
<rect x="1763.5" y="506.04" width="53" height="36.17" fill="#fffaf2"/>
<rect x="1816.5" y="506.04" width="53" height="36.17" fill="#fff3e2"/>
<rect x="1869.5" y="506.04" width="53" height="36.17" fill="#fff6ea"/>
<rect x="1922.5" y="506.04" width="53" height="36.17" fill="#fff8ef"/>
<rect x="1975.5" y="506.04" width="53" height="36.17" fill="#fff5e6"/>
<rect x="2028.5" y="506.04" width="53" height="36.17" fill="#fff5e6"/>
<rect x="1710.5" y="542.21" width="53" height="36.17" fill="#fff5e6"/>
<rect x="1763.5" y="542.21" width="53" height="36.17" fill="#fff6ea"/>
<rect x="1816.5" y="542.21" width="53" height="36.17" fill="#fff8ef"/>
<rect x="1869.5" y="542.21" width="53" height="36.17" fill="#fff5e6"/>
<rect x="1922.5" y="542.21" width="53" height="36.17" fill="#fffaf2"/>
<rect x="1975.5" y="542.21" width="53" height="36.17" fill="#fff0da"/>
<rect x="2028.5" y="542.21" width="53" height="36.17" fill="#fffbf6"/>
<rect x="1710.5" y="578.38" width="53" height="36.17" fill="#fff8ef"/>
<rect x="1763.5" y="578.38" width="53" height="36.17" fill="#fff3e2"/>
<rect x="1816.5" y="578.38" width="53" height="36.17" fill="#fff6ea"/>
<rect x="1869.5" y="578.38" width="53" height="36.17" fill="#fff8ef"/>
<rect x="1922.5" y="578.38" width="53" height="36.17" fill="#fff5e6"/>
<rect x="1975.5" y="578.38" width="53" height="36.17" fill="#fff6ea"/>
<rect x="2028.5" y="578.38" width="53" height="36.17" fill="#fffaf2"/>
<rect x="1710.5" y="614.55" width="53" height="36.17" fill="#ffffff"/>
<rect x="1763.5" y="614.55" width="53" height="36.17" fill="#fff2de"/>
<rect x="1816.5" y="614.55" width="53" height="36.17" fill="#fff5e6"/>
<rect x="1869.5" y="614.55" width="53" height="36.17" fill="#fff3e2"/>
<rect x="1922.5" y="614.55" width="53" height="36.17" fill="#fff8ef"/>
<rect x="1975.5" y="614.55" width="53" height="36.17" fill="#fff2de"/>
<rect x="2028.5" y="614.55" width="53" height="36.17" fill="#fff6ea"/>
<rect x="1710.5" y="650.72" width="53" height="36.17" fill="#fff6ea"/>
<rect x="1763.5" y="650.72" width="53" height="36.17" fill="#fff6ea"/>
<rect x="1816.5" y="650.72" width="53" height="36.17" fill="#fff3e2"/>
<rect x="1869.5" y="650.72" width="53" height="36.17" fill="#fff0da"/>
<rect x="1922.5" y="650.72" width="53" height="36.17" fill="#fff3e2"/>
<rect x="1975.5" y="650.72" width="53" height="36.17" fill="#fff8ef"/>
<rect x="2028.5" y="650.72" width="53" height="36.17" fill="#fffaf2"/>
<rect x="1710.5" y="686.89" width="53" height="36.17" fill="#fffaf2"/>
<rect x="1763.5" y="686.89" width="53" height="36.17" fill="#fffaf2"/>
<rect x="1816.5" y="686.89" width="53" height="36.17" fill="#fff8ef"/>
<rect x="1869.5" y="686.89" width="53" height="36.17" fill="#fff3e2"/>
<rect x="1922.5" y="686.89" width="53" height="36.17" fill="#fff5e6"/>
<rect x="1975.5" y="686.89" width="53" height="36.17" fill="#fff8ef"/>
<rect x="2028.5" y="686.89" width="53" height="36.17" fill="#fffaf2"/>
<rect x="1710.5" y="723.06" width="53" height="36.17" fill="#fffaf2"/>
<rect x="1763.5" y="723.06" width="53" height="36.17" fill="#fff5e6"/>
<rect x="1816.5" y="723.06" width="53" height="36.17" fill="#fffefb"/>
<rect x="1869.5" y="723.06" width="53" height="36.17" fill="#fff5e6"/>
<rect x="1922.5" y="723.06" width="53" height="36.17" fill="#fff8ef"/>
<rect x="1975.5" y="723.06" width="53" height="36.17" fill="#fff8ef"/>
<rect x="2028.5" y="723.06" width="53" height="36.17" fill="#fffefb"/>
<rect x="1710.5" y="759.23" width="53" height="36.17" fill="#fff2de"/>
<rect x="1763.5" y="759.23" width="53" height="36.17" fill="#fff2de"/>
<rect x="1816.5" y="759.23" width="53" height="36.17" fill="#fffaf2"/>
<rect x="1869.5" y="759.23" width="53" height="36.17" fill="#fff8ef"/>
<rect x="1922.5" y="759.23" width="53" height="36.17" fill="#fff6ea"/>
<rect x="1975.5" y="759.23" width="53" height="36.17" fill="#fff2de"/>
<rect x="2028.5" y="759.23" width="53" height="36.17" fill="#fff8ef"/>
<rect x="1710.5" y="795.4" width="53" height="36.17" fill="#fffbf6"/>
<rect x="1763.5" y="795.4" width="53" height="36.17" fill="#fff6ea"/>
<rect x="1816.5" y="795.4" width="53" height="36.17" fill="#fffbf6"/>
<rect x="1869.5" y="795.4" width="53" height="36.17" fill="#fff6ea"/>
<rect x="1922.5" y="795.4" width="53" height="36.17" fill="#ffedd1"/>
<rect x="1975.5" y="795.4" width="53" height="36.17" fill="#fffaf2"/>
<rect x="2028.5" y="795.4" width="53" height="36.17" fill="#fffaf2"/>
<rect x="1710.5" y="831.57" width="53" height="36.17" fill="#fffbf6"/>
<rect x="1763.5" y="831.57" width="53" height="36.17" fill="#fff2de"/>
<rect x="1816.5" y="831.57" width="53" height="36.17" fill="#fff3e2"/>
<rect x="1869.5" y="831.57" width="53" height="36.17" fill="#fffefb"/>
<rect x="1922.5" y="831.57" width="53" height="36.17" fill="#fffaf2"/>
<rect x="1975.5" y="831.57" width="53" height="36.17" fill="#fff5e6"/>
<rect x="2028.5" y="831.57" width="53" height="36.17" fill="#fff8ef"/>
<rect x="1710.5" y="867.74" width="53" height="36.17" fill="#fff2de"/>
<rect x="1763.5" y="867.74" width="53" height="36.17" fill="#fffbf6"/>
<rect x="1816.5" y="867.74" width="53" height="36.17" fill="#fff6ea"/>
<rect x="1869.5" y="867.74" width="53" height="36.17" fill="#fff8ef"/>
<rect x="1922.5" y="867.74" width="53" height="36.17" fill="#fff8ef"/>
<rect x="1975.5" y="867.74" width="53" height="36.17" fill="#fffaf2"/>
<rect x="2028.5" y="867.74" width="53" height="36.17" fill="#fff5e6"/>
<rect x="1710.5" y="903.91" width="53" height="36.17" fill="#fff6ea"/>
<rect x="1763.5" y="903.91" width="53" height="36.17" fill="#fff8ef"/>
<rect x="1816.5" y="903.91" width="53" height="36.17" fill="#fff3e2"/>
<rect x="1869.5" y="903.91" width="53" height="36.17" fill="#fffaf2"/>
<rect x="1922.5" y="903.91" width="53" height="36.17" fill="#fff6ea"/>
<rect x="1975.5" y="903.91" width="53" height="36.17" fill="#fff6ea"/>
<rect x="2028.5" y="903.91" width="53" height="36.17" fill="#fff5e6"/>
<rect x="1710.5" y="940.07" width="53" height="36.17" fill="#fff5e6"/>
<rect x="1763.5" y="940.07" width="53" height="36.17" fill="#fff8ef"/>
<rect x="1816.5" y="940.07" width="53" height="36.17" fill="#fff2de"/>
<rect x="1869.5" y="940.07" width="53" height="36.17" fill="#fffaf2"/>
<rect x="1922.5" y="940.07" width="53" height="36.17" fill="#fff6ea"/>
<rect x="1975.5" y="940.07" width="53" height="36.17" fill="#fffaf2"/>
<rect x="2028.5" y="940.07" width="53" height="36.17" fill="#fff2de"/>
<rect x="1710.5" y="976.24" width="53" height="36.17" fill="#fff0da"/>
<rect x="1763.5" y="976.24" width="53" height="36.17" fill="#ffeed6"/>
<rect x="1816.5" y="976.24" width="53" height="36.17" fill="#fff6ea"/>
<rect x="1869.5" y="976.24" width="53" height="36.17" fill="#fff6ea"/>
<rect x="1922.5" y="976.24" width="53" height="36.17" fill="#fff5e6"/>
<rect x="1975.5" y="976.24" width="53" height="36.17" fill="#fff2de"/>
<rect x="2028.5" y="976.24" width="53" height="36.17" fill="#fff6ea"/>
<rect x="1710.5" y="1012.41" width="53" height="36.17" fill="#fff5e6"/>
<rect x="1763.5" y="1012.41" width="53" height="36.17" fill="#fffaf2"/>
<rect x="1816.5" y="1012.41" width="53" height="36.17" fill="#fff5e6"/>
<rect x="1869.5" y="1012.41" width="53" height="36.17" fill="#fff6ea"/>
<rect x="1922.5" y="1012.41" width="53" height="36.17" fill="#fff3e2"/>
<rect x="1975.5" y="1012.41" width="53" height="36.17" fill="#fff6ea"/>
<rect x="2028.5" y="1012.41" width="53" height="36.17" fill="#fffaf2"/>
</g>
<g font-size="14.8" text-anchor="middle">
<text y="204.67"><tspan x="1737">4</tspan><tspan x="1790">4</tspan><tspan x="1843">11</tspan><tspan x="1896">4</tspan><tspan x="1949">7</tspan><tspan x="2002">9</tspan><tspan x="2055">3</tspan></text>
<text y="240.84"><tspan x="1737">5</tspan><tspan x="1790">8</tspan><tspan x="1843">3</tspan><tspan x="1896">4</tspan><tspan x="1949">6</tspan><tspan x="2002">5</tspan><tspan x="2055">6</tspan></text>
<text y="277.01"><tspan x="1737">5</tspan><tspan x="1790">11</tspan><tspan x="1843">6</tspan><tspan x="1896">7</tspan><tspan x="1949">6</tspan><tspan x="2002">6</tspan><tspan x="2055">3</tspan></text>
<text y="313.18"><tspan x="1737">5</tspan><tspan x="1790">9</tspan><tspan x="1843">5</tspan><tspan x="1896">3</tspan><tspan x="1949">5</tspan><tspan x="2002">3</tspan><tspan x="2055">4</tspan></text>
<text y="349.35"><tspan x="1737">5</tspan><tspan x="1790">6</tspan><tspan x="1843">2</tspan><tspan x="1896">5</tspan><tspan x="1949">6</tspan><tspan x="2002">4</tspan><tspan x="2055">7</tspan></text>
<text y="385.52"><tspan x="1737">7</tspan><tspan x="1790">7</tspan><tspan x="1843">3</tspan><tspan x="1896">5</tspan><tspan x="1949">4</tspan><tspan x="2002">8</tspan><tspan x="2055">4</tspan></text>
<text y="421.69"><tspan x="1737">5</tspan><tspan x="1790">8</tspan><tspan x="1843">6</tspan><tspan x="1896">8</tspan><tspan x="1949">7</tspan><tspan x="2002">3</tspan><tspan x="2055">2</tspan></text>
<text y="457.86"><tspan x="1737">4</tspan><tspan x="1790">7</tspan><tspan x="1843">4</tspan><tspan x="1896">6</tspan><tspan x="1949">4</tspan><tspan x="2002">4</tspan><tspan x="2055">3</tspan></text>
<text y="494.03"><tspan x="1737">8</tspan><tspan x="1790">1</tspan><tspan x="1843">6</tspan><tspan x="1896">6</tspan><tspan x="1949">3</tspan><tspan x="2002">4</tspan><tspan x="2055">6</tspan></text>
<text y="530.19"><tspan x="1737">3</tspan><tspan x="1790">3</tspan><tspan x="1843">7</tspan><tspan x="1896">5</tspan><tspan x="1949">4</tspan><tspan x="2002">6</tspan><tspan x="2055">6</tspan></text>
<text y="566.36"><tspan x="1737">6</tspan><tspan x="1790">5</tspan><tspan x="1843">4</tspan><tspan x="1896">6</tspan><tspan x="1949">3</tspan><tspan x="2002">9</tspan><tspan x="2055">2</tspan></text>
<text y="602.53"><tspan x="1737">4</tspan><tspan x="1790">7</tspan><tspan x="1843">5</tspan><tspan x="1896">4</tspan><tspan x="1949">6</tspan><tspan x="2002">5</tspan><tspan x="2055">3</tspan></text>
<text y="638.7"><tspan x="1737">0</tspan><tspan x="1790">8</tspan><tspan x="1843">6</tspan><tspan x="1896">7</tspan><tspan x="1949">4</tspan><tspan x="2002">8</tspan><tspan x="2055">5</tspan></text>
<text y="674.87"><tspan x="1737">5</tspan><tspan x="1790">5</tspan><tspan x="1843">7</tspan><tspan x="1896">9</tspan><tspan x="1949">7</tspan><tspan x="2002">4</tspan><tspan x="2055">3</tspan></text>
<text y="711.04"><tspan x="1737">3</tspan><tspan x="1790">3</tspan><tspan x="1843">4</tspan><tspan x="1896">7</tspan><tspan x="1949">6</tspan><tspan x="2002">4</tspan><tspan x="2055">3</tspan></text>
<text y="747.21"><tspan x="1737">3</tspan><tspan x="1790">6</tspan><tspan x="1843">1</tspan><tspan x="1896">6</tspan><tspan x="1949">4</tspan><tspan x="2002">4</tspan><tspan x="2055">1</tspan></text>
<text y="783.38"><tspan x="1737">8</tspan><tspan x="1790">8</tspan><tspan x="1843">3</tspan><tspan x="1896">4</tspan><tspan x="1949">5</tspan><tspan x="2002">8</tspan><tspan x="2055">4</tspan></text>
<text y="819.55"><tspan x="1737">2</tspan><tspan x="1790">5</tspan><tspan x="1843">2</tspan><tspan x="1896">5</tspan><tspan x="1949">11</tspan><tspan x="2002">3</tspan><tspan x="2055">3</tspan></text>
<text y="855.72"><tspan x="1737">2</tspan><tspan x="1790">8</tspan><tspan x="1843">7</tspan><tspan x="1896">1</tspan><tspan x="1949">3</tspan><tspan x="2002">6</tspan><tspan x="2055">4</tspan></text>
<text y="891.89"><tspan x="1737">8</tspan><tspan x="1790">2</tspan><tspan x="1843">5</tspan><tspan x="1896">4</tspan><tspan x="1949">4</tspan><tspan x="2002">3</tspan><tspan x="2055">6</tspan></text>
<text y="928.06"><tspan x="1737">5</tspan><tspan x="1790">4</tspan><tspan x="1843">7</tspan><tspan x="1896">3</tspan><tspan x="1949">5</tspan><tspan x="2002">5</tspan><tspan x="2055">6</tspan></text>
<text y="964.23"><tspan x="1737">6</tspan><tspan x="1790">4</tspan><tspan x="1843">8</tspan><tspan x="1896">3</tspan><tspan x="1949">5</tspan><tspan x="2002">3</tspan><tspan x="2055">8</tspan></text>
<text y="1000.4"><tspan x="1737">9</tspan><tspan x="1790">10</tspan><tspan x="1843">5</tspan><tspan x="1896">5</tspan><tspan x="1949">6</tspan><tspan x="2002">8</tspan><tspan x="2055">5</tspan></text>
<text y="1036.57"><tspan x="1737">6</tspan><tspan x="1790">3</tspan><tspan x="1843">6</tspan><tspan x="1896">5</tspan><tspan x="1949">7</tspan><tspan x="2002">5</tspan><tspan x="2055">3</tspan></text>
</g>
<rect x="1706" y="176.9" width="380" height="874.5" fill="none" stroke="#000" stroke-width="1.6"/>
<text transform="translate(1737 1130) rotate(-45)" font-size="27.73" text-anchor="middle" dy="9.9">Sunday</text>
<text transform="translate(1790 1130) rotate(-45)" font-size="27.73" text-anchor="middle" dy="9.9">Monday</text>
<text transform="translate(1843 1130) rotate(-45)" font-size="27.73" text-anchor="middle" dy="9.9">Tuesday</text>
<text transform="translate(1896 1130) rotate(-45)" font-size="27.73" text-anchor="middle" dy="9.9">Wednesday</text>
<text transform="translate(1949 1130) rotate(-45)" font-size="27.73" text-anchor="middle" dy="9.9">Thursday</text>
<text transform="translate(2002 1130) rotate(-45)" font-size="27.73" text-anchor="middle" dy="9.9">Friday</text>
<text transform="translate(2055 1130) rotate(-45)" font-size="27.73" text-anchor="middle" dy="9.9">Saturday</text>
<path d="M1737 1052.2v8.6M1790 1052.2v8.6M1843 1052.2v8.6M1896 1052.2v8.6M1949 1052.2v8.6M2002 1052.2v8.6M2055 1052.2v8.6" stroke="#000" stroke-width="2" fill="none"/>
<g font-size="27.73" text-anchor="end">
<text x="95" y="209.3" font-size="27.73" text-anchor="end" font-weight="normal" fill="#000">11pm</text>
<text x="95" y="245.47" font-size="27.73" text-anchor="end" font-weight="normal" fill="#000">10pm</text>
<text x="95" y="281.64" font-size="27.73" text-anchor="end" font-weight="normal" fill="#000">9pm</text>
<text x="95" y="317.81" font-size="27.73" text-anchor="end" font-weight="normal" fill="#000">8pm</text>
<text x="95" y="353.98" font-size="27.73" text-anchor="end" font-weight="normal" fill="#000">7pm</text>
<text x="95" y="390.15" font-size="27.73" text-anchor="end" font-weight="normal" fill="#000">6pm</text>
<text x="95" y="426.32" font-size="27.73" text-anchor="end" font-weight="normal" fill="#000">5pm</text>
<text x="95" y="462.49" font-size="27.73" text-anchor="end" font-weight="normal" fill="#000">4pm</text>
<text x="95" y="498.66" font-size="27.73" text-anchor="end" font-weight="normal" fill="#000">3pm</text>
<text x="95" y="534.83" font-size="27.73" text-anchor="end" font-weight="normal" fill="#000">2pm</text>
<text x="95" y="571" font-size="27.73" text-anchor="end" font-weight="normal" fill="#000">1pm</text>
<text x="95" y="607.17" font-size="27.73" text-anchor="end" font-weight="normal" fill="#000">12pm</text>
<text x="95" y="643.33" font-size="27.73" text-anchor="end" font-weight="normal" fill="#000">11am</text>
<text x="95" y="679.5" font-size="27.73" text-anchor="end" font-weight="normal" fill="#000">10am</text>
<text x="95" y="715.67" font-size="27.73" text-anchor="end" font-weight="normal" fill="#000">9am</text>
<text x="95" y="751.84" font-size="27.73" text-anchor="end" font-weight="normal" fill="#000">8am</text>
<text x="95" y="788.01" font-size="27.73" text-anchor="end" font-weight="normal" fill="#000">7am</text>
<text x="95" y="824.18" font-size="27.73" text-anchor="end" font-weight="normal" fill="#000">6am</text>
<text x="95" y="860.35" font-size="27.73" text-anchor="end" font-weight="normal" fill="#000">5am</text>
<text x="95" y="896.52" font-size="27.73" text-anchor="end" font-weight="normal" fill="#000">4am</text>
<text x="95" y="932.69" font-size="27.73" text-anchor="end" font-weight="normal" fill="#000">3am</text>
<text x="95" y="968.86" font-size="27.73" text-anchor="end" font-weight="normal" fill="#000">2am</text>
<text x="95" y="1005.03" font-size="27.73" text-anchor="end" font-weight="normal" fill="#000">1am</text>
<text x="95" y="1041.2" font-size="27.73" text-anchor="end" font-weight="normal" fill="#000">12am</text>
</g>
<path d="M102.5 198.6h8.3M102.5 234.77h8.3M102.5 270.94h8.3M102.5 307.11h8.3M102.5 343.28h8.3M102.5 379.45h8.3M102.5 415.62h8.3M102.5 451.79h8.3M102.5 487.96h8.3M102.5 524.13h8.3M102.5 560.3h8.3M102.5 596.47h8.3M102.5 632.63h8.3M102.5 668.8h8.3M102.5 704.97h8.3M102.5 741.14h8.3M102.5 777.31h8.3M102.5 813.48h8.3M102.5 849.65h8.3M102.5 885.82h8.3M102.5 921.99h8.3M102.5 958.16h8.3M102.5 994.33h8.3M102.5 1030.5h8.3" stroke="#000" stroke-width="2" fill="none"/>
<text x="2139" y="483.3" font-size="34.67" text-anchor="start" font-weight="bold" fill="#000">Number</text>
<text x="2139" y="515.7" font-size="34.67" text-anchor="start" font-weight="bold" fill="#000">of calls</text>
<defs><linearGradient id="g1" x1="0" y1="0" x2="0" y2="1"><stop offset="0.0250" stop-color="#fd9409"/><stop offset="0.0750" stop-color="#fd9a1b"/><stop offset="0.1250" stop-color="#fd9f28"/><stop offset="0.1750" stop-color="#fda433"/><stop offset="0.2250" stop-color="#fda93f"/><stop offset="0.2750" stop-color="#fdaf4a"/><stop offset="0.3250" stop-color="#fdb556"/><stop offset="0.3750" stop-color="#feb961"/><stop offset="0.4250" stop-color="#febf6c"/><stop offset="0.4750" stop-color="#fec579"/><stop offset="0.5250" stop-color="#fecb84"/><stop offset="0.5750" stop-color="#fed091"/><stop offset="0.6250" stop-color="#fed69d"/><stop offset="0.6750" stop-color="#fedcab"/><stop offset="0.7250" stop-color="#fee2b9"/><stop offset="0.7750" stop-color="#fee7c6"/><stop offset="0.8250" stop-color="#ffedd4"/><stop offset="0.8750" stop-color="#fff3e1"/><stop offset="0.9250" stop-color="#fff9f0"/><stop offset="0.9750" stop-color="#ffffff"/></linearGradient></defs>
<rect x="2138.6" y="540.9" width="46.1" height="229.5" fill="url(#g1)"/>
<text x="2201.8" y="780.3" font-size="27.73" text-anchor="start" font-weight="normal" fill="#000">0</text>
<text x="2201.8" y="746.05" font-size="27.73" text-anchor="start" font-weight="normal" fill="#000">10</text>
<text x="2201.8" y="711.79" font-size="27.73" text-anchor="start" font-weight="normal" fill="#000">20</text>
<text x="2201.8" y="677.54" font-size="27.73" text-anchor="start" font-weight="normal" fill="#000">30</text>
<text x="2201.8" y="643.29" font-size="27.73" text-anchor="start" font-weight="normal" fill="#000">40</text>
<text x="2201.8" y="609.03" font-size="27.73" text-anchor="start" font-weight="normal" fill="#000">50</text>
<text x="2201.8" y="574.78" font-size="27.73" text-anchor="start" font-weight="normal" fill="#000">60</text>
<path d="M2138.6 770.4h9.2M2175.5 770.4h9.2M2138.6 736.15h9.2M2175.5 736.15h9.2M2138.6 701.89h9.2M2175.5 701.89h9.2M2138.6 667.64h9.2M2175.5 667.64h9.2M2138.6 633.39h9.2M2175.5 633.39h9.2M2138.6 599.13h9.2M2175.5 599.13h9.2M2138.6 564.88h9.2M2175.5 564.88h9.2" stroke="#fff" stroke-width="1.4" fill="none"/>
<text x="2285.7" y="1294.2" font-size="27.73" text-anchor="end"><tspan font-weight="bold">Heatmap Prepared by:</tspan> Isaac H. Michaels, DrPH</text>
<text x="2285.7" y="1320.6" font-size="27.73" text-anchor="end"><tspan font-weight="bold">Data Source:</tspan> NYC Open Data</text>
<text x="18.2" y="1391.3" font-size="41.7" text-anchor="start" font-weight="bold" fill="#000">Incidence Rates of FDNY EMS Responses, by Day and Time: Female In Labor</text>
<text x="16.8" y="1442.9" font-size="34.67" text-anchor="start" font-weight="normal" fill="#000">October 06, 2023 to October 04, 2024</text>
<rect x="110.9" y="1467.5" width="339.6" height="53.4" fill="#000"/>
<text x="280.7" y="1504.7" font-size="27.73" text-anchor="middle" font-weight="normal" fill="#fff">Bronx</text>
<path d="M139.2 1520.9V2396.2M186.37 1520.9V2396.2M233.53 1520.9V2396.2M280.7 1520.9V2396.2M327.87 1520.9V2396.2M375.03 1520.9V2396.2M422.2 1520.9V2396.2M110.9 1542.6H450.5M110.9 1578.77H450.5M110.9 1614.94H450.5M110.9 1651.11H450.5M110.9 1687.28H450.5M110.9 1723.45H450.5M110.9 1759.62H450.5M110.9 1795.79H450.5M110.9 1831.96H450.5M110.9 1868.13H450.5M110.9 1904.3H450.5M110.9 1940.47H450.5M110.9 1976.63H450.5M110.9 2012.8H450.5M110.9 2048.97H450.5M110.9 2085.14H450.5M110.9 2121.31H450.5M110.9 2157.48H450.5M110.9 2193.65H450.5M110.9 2229.82H450.5M110.9 2265.99H450.5M110.9 2302.16H450.5M110.9 2338.33H450.5M110.9 2374.5H450.5" stroke="#000" stroke-opacity="0.45" stroke-width="0.8" fill="none"/>
<g stroke="#000" stroke-opacity="0.62" stroke-width="0.7">
<rect x="115.62" y="1524.52" width="47.17" height="36.17" fill="#fc2c1f"/>
<rect x="162.78" y="1524.52" width="47.17" height="36.17" fill="#fc3d2a"/>
<rect x="209.95" y="1524.52" width="47.17" height="36.17" fill="#fb0611"/>
<rect x="257.12" y="1524.52" width="47.17" height="36.17" fill="#fc583f"/>
<rect x="304.28" y="1524.52" width="47.17" height="36.17" fill="#fc4a33"/>
<rect x="351.45" y="1524.52" width="47.17" height="36.17" fill="#fc6a4f"/>
<rect x="398.62" y="1524.52" width="47.17" height="36.17" fill="#fc553c"/>
<rect x="115.62" y="1560.69" width="47.17" height="36.17" fill="#fc6448"/>
<rect x="162.78" y="1560.69" width="47.17" height="36.17" fill="#fc4e35"/>
<rect x="209.95" y="1560.69" width="47.17" height="36.17" fill="#fb000e"/>
<rect x="257.12" y="1560.69" width="47.17" height="36.17" fill="#fc5139"/>
<rect x="304.28" y="1560.69" width="47.17" height="36.17" fill="#fc6f52"/>
<rect x="351.45" y="1560.69" width="47.17" height="36.17" fill="#fc271c"/>
<rect x="398.62" y="1560.69" width="47.17" height="36.17" fill="#fc583f"/>
<rect x="115.62" y="1596.86" width="47.17" height="36.17" fill="#fc6448"/>
<rect x="162.78" y="1596.86" width="47.17" height="36.17" fill="#fc553c"/>
<rect x="209.95" y="1596.86" width="47.17" height="36.17" fill="#fb0007"/>
<rect x="257.12" y="1596.86" width="47.17" height="36.17" fill="#fc3d2a"/>
<rect x="304.28" y="1596.86" width="47.17" height="36.17" fill="#fc553c"/>
<rect x="351.45" y="1596.86" width="47.17" height="36.17" fill="#fc674b"/>
<rect x="398.62" y="1596.86" width="47.17" height="36.17" fill="#fc462f"/>
<rect x="115.62" y="1633.03" width="47.17" height="36.17" fill="#fc6448"/>
<rect x="162.78" y="1633.03" width="47.17" height="36.17" fill="#fc1b17"/>
<rect x="209.95" y="1633.03" width="47.17" height="36.17" fill="#fc3021"/>
<rect x="257.12" y="1633.03" width="47.17" height="36.17" fill="#fc3524"/>
<rect x="304.28" y="1633.03" width="47.17" height="36.17" fill="#fc553c"/>
<rect x="351.45" y="1633.03" width="47.17" height="36.17" fill="#fc553c"/>
<rect x="398.62" y="1633.03" width="47.17" height="36.17" fill="#fc553c"/>
<rect x="115.62" y="1669.19" width="47.17" height="36.17" fill="#fc7256"/>
<rect x="162.78" y="1669.19" width="47.17" height="36.17" fill="#fc7256"/>
<rect x="209.95" y="1669.19" width="47.17" height="36.17" fill="#fc5c42"/>
<rect x="257.12" y="1669.19" width="47.17" height="36.17" fill="#fc462f"/>
<rect x="304.28" y="1669.19" width="47.17" height="36.17" fill="#fc3927"/>
<rect x="351.45" y="1669.19" width="47.17" height="36.17" fill="#fc795c"/>
<rect x="398.62" y="1669.19" width="47.17" height="36.17" fill="#fc7c60"/>
<rect x="115.62" y="1705.36" width="47.17" height="36.17" fill="#fc674b"/>
<rect x="162.78" y="1705.36" width="47.17" height="36.17" fill="#fd876b"/>
<rect x="209.95" y="1705.36" width="47.17" height="36.17" fill="#fc674b"/>
<rect x="257.12" y="1705.36" width="47.17" height="36.17" fill="#fc2019"/>
<rect x="304.28" y="1705.36" width="47.17" height="36.17" fill="#fc462f"/>
<rect x="351.45" y="1705.36" width="47.17" height="36.17" fill="#fc7256"/>
<rect x="398.62" y="1705.36" width="47.17" height="36.17" fill="#fc4a33"/>
<rect x="115.62" y="1741.53" width="47.17" height="36.17" fill="#fc674b"/>
<rect x="162.78" y="1741.53" width="47.17" height="36.17" fill="#fc6f52"/>
<rect x="209.95" y="1741.53" width="47.17" height="36.17" fill="#fc6448"/>
<rect x="257.12" y="1741.53" width="47.17" height="36.17" fill="#fc6f52"/>
<rect x="304.28" y="1741.53" width="47.17" height="36.17" fill="#fc7559"/>
<rect x="351.45" y="1741.53" width="47.17" height="36.17" fill="#fc412d"/>
<rect x="398.62" y="1741.53" width="47.17" height="36.17" fill="#fc462f"/>
<rect x="115.62" y="1777.7" width="47.17" height="36.17" fill="#fd8063"/>
<rect x="162.78" y="1777.7" width="47.17" height="36.17" fill="#fc412d"/>
<rect x="209.95" y="1777.7" width="47.17" height="36.17" fill="#fc795c"/>
<rect x="257.12" y="1777.7" width="47.17" height="36.17" fill="#fc553c"/>
<rect x="304.28" y="1777.7" width="47.17" height="36.17" fill="#fd8467"/>
<rect x="351.45" y="1777.7" width="47.17" height="36.17" fill="#fc7559"/>
<rect x="398.62" y="1777.7" width="47.17" height="36.17" fill="#fc6a4f"/>
<rect x="115.62" y="1813.87" width="47.17" height="36.17" fill="#fd8467"/>
<rect x="162.78" y="1813.87" width="47.17" height="36.17" fill="#fd876b"/>
<rect x="209.95" y="1813.87" width="47.17" height="36.17" fill="#fc462f"/>
<rect x="257.12" y="1813.87" width="47.17" height="36.17" fill="#fc462f"/>
<rect x="304.28" y="1813.87" width="47.17" height="36.17" fill="#fc5139"/>
<rect x="351.45" y="1813.87" width="47.17" height="36.17" fill="#fc7559"/>
<rect x="398.62" y="1813.87" width="47.17" height="36.17" fill="#fc5c42"/>
<rect x="115.62" y="1850.04" width="47.17" height="36.17" fill="#fc4a33"/>
<rect x="162.78" y="1850.04" width="47.17" height="36.17" fill="#fd8a6e"/>
<rect x="209.95" y="1850.04" width="47.17" height="36.17" fill="#fd876b"/>
<rect x="257.12" y="1850.04" width="47.17" height="36.17" fill="#fc7256"/>
<rect x="304.28" y="1850.04" width="47.17" height="36.17" fill="#fc674b"/>
<rect x="351.45" y="1850.04" width="47.17" height="36.17" fill="#fc4e35"/>
<rect x="398.62" y="1850.04" width="47.17" height="36.17" fill="#fc6a4f"/>
<rect x="115.62" y="1886.21" width="47.17" height="36.17" fill="#fd987e"/>
<rect x="162.78" y="1886.21" width="47.17" height="36.17" fill="#fc7559"/>
<rect x="209.95" y="1886.21" width="47.17" height="36.17" fill="#fc795c"/>
<rect x="257.12" y="1886.21" width="47.17" height="36.17" fill="#fc7559"/>
<rect x="304.28" y="1886.21" width="47.17" height="36.17" fill="#fc3d2a"/>
<rect x="351.45" y="1886.21" width="47.17" height="36.17" fill="#fb000b"/>
<rect x="398.62" y="1886.21" width="47.17" height="36.17" fill="#fd876b"/>
<rect x="115.62" y="1922.38" width="47.17" height="36.17" fill="#fd8467"/>
<rect x="162.78" y="1922.38" width="47.17" height="36.17" fill="#fc7559"/>
<rect x="209.95" y="1922.38" width="47.17" height="36.17" fill="#fc5c42"/>
<rect x="257.12" y="1922.38" width="47.17" height="36.17" fill="#fc7c60"/>
<rect x="304.28" y="1922.38" width="47.17" height="36.17" fill="#fc3927"/>
<rect x="351.45" y="1922.38" width="47.17" height="36.17" fill="#fc7559"/>
<rect x="398.62" y="1922.38" width="47.17" height="36.17" fill="#fc7c60"/>
<rect x="115.62" y="1958.55" width="47.17" height="36.17" fill="#fc6a4f"/>
<rect x="162.78" y="1958.55" width="47.17" height="36.17" fill="#fc6448"/>
<rect x="209.95" y="1958.55" width="47.17" height="36.17" fill="#fc553c"/>
<rect x="257.12" y="1958.55" width="47.17" height="36.17" fill="#fc3927"/>
<rect x="304.28" y="1958.55" width="47.17" height="36.17" fill="#fc583f"/>
<rect x="351.45" y="1958.55" width="47.17" height="36.17" fill="#fc583f"/>
<rect x="398.62" y="1958.55" width="47.17" height="36.17" fill="#fc5c42"/>
<rect x="115.62" y="1994.72" width="47.17" height="36.17" fill="#fc6448"/>
<rect x="162.78" y="1994.72" width="47.17" height="36.17" fill="#fc553c"/>
<rect x="209.95" y="1994.72" width="47.17" height="36.17" fill="#fc4a33"/>
<rect x="257.12" y="1994.72" width="47.17" height="36.17" fill="#fc5c42"/>
<rect x="304.28" y="1994.72" width="47.17" height="36.17" fill="#fc3d2a"/>
<rect x="351.45" y="1994.72" width="47.17" height="36.17" fill="#fc1b17"/>
<rect x="398.62" y="1994.72" width="47.17" height="36.17" fill="#fc583f"/>
<rect x="115.62" y="2030.89" width="47.17" height="36.17" fill="#fc5c42"/>
<rect x="162.78" y="2030.89" width="47.17" height="36.17" fill="#fc6a4f"/>
<rect x="209.95" y="2030.89" width="47.17" height="36.17" fill="#fd8467"/>
<rect x="257.12" y="2030.89" width="47.17" height="36.17" fill="#fc6f52"/>
<rect x="304.28" y="2030.89" width="47.17" height="36.17" fill="#fc4a33"/>
<rect x="351.45" y="2030.89" width="47.17" height="36.17" fill="#fc6045"/>
<rect x="398.62" y="2030.89" width="47.17" height="36.17" fill="#fc795c"/>
<rect x="115.62" y="2067.06" width="47.17" height="36.17" fill="#fd8063"/>
<rect x="162.78" y="2067.06" width="47.17" height="36.17" fill="#fc6045"/>
<rect x="209.95" y="2067.06" width="47.17" height="36.17" fill="#fc462f"/>
<rect x="257.12" y="2067.06" width="47.17" height="36.17" fill="#fc6045"/>
<rect x="304.28" y="2067.06" width="47.17" height="36.17" fill="#fc6045"/>
<rect x="351.45" y="2067.06" width="47.17" height="36.17" fill="#fc674b"/>
<rect x="398.62" y="2067.06" width="47.17" height="36.17" fill="#fc3d2a"/>
<rect x="115.62" y="2103.23" width="47.17" height="36.17" fill="#fd8063"/>
<rect x="162.78" y="2103.23" width="47.17" height="36.17" fill="#fc7256"/>
<rect x="209.95" y="2103.23" width="47.17" height="36.17" fill="#fc7559"/>
<rect x="257.12" y="2103.23" width="47.17" height="36.17" fill="#fc6f52"/>
<rect x="304.28" y="2103.23" width="47.17" height="36.17" fill="#fd9176"/>
<rect x="351.45" y="2103.23" width="47.17" height="36.17" fill="#fc553c"/>
<rect x="398.62" y="2103.23" width="47.17" height="36.17" fill="#fc674b"/>
<rect x="115.62" y="2139.4" width="47.17" height="36.17" fill="#fd8063"/>
<rect x="162.78" y="2139.4" width="47.17" height="36.17" fill="#fd8e72"/>
<rect x="209.95" y="2139.4" width="47.17" height="36.17" fill="#fc6a4f"/>
<rect x="257.12" y="2139.4" width="47.17" height="36.17" fill="#fc6f52"/>
<rect x="304.28" y="2139.4" width="47.17" height="36.17" fill="#fc7559"/>
<rect x="351.45" y="2139.4" width="47.17" height="36.17" fill="#fd957a"/>
<rect x="398.62" y="2139.4" width="47.17" height="36.17" fill="#fc7559"/>
<rect x="115.62" y="2175.57" width="47.17" height="36.17" fill="#fc6448"/>
<rect x="162.78" y="2175.57" width="47.17" height="36.17" fill="#fc6045"/>
<rect x="209.95" y="2175.57" width="47.17" height="36.17" fill="#fc6448"/>
<rect x="257.12" y="2175.57" width="47.17" height="36.17" fill="#fc7559"/>
<rect x="304.28" y="2175.57" width="47.17" height="36.17" fill="#fc6448"/>
<rect x="351.45" y="2175.57" width="47.17" height="36.17" fill="#fd876b"/>
<rect x="398.62" y="2175.57" width="47.17" height="36.17" fill="#fd9176"/>
<rect x="115.62" y="2211.74" width="47.17" height="36.17" fill="#fc5139"/>
<rect x="162.78" y="2211.74" width="47.17" height="36.17" fill="#fd8063"/>
<rect x="209.95" y="2211.74" width="47.17" height="36.17" fill="#fc4e35"/>
<rect x="257.12" y="2211.74" width="47.17" height="36.17" fill="#fd8e72"/>
<rect x="304.28" y="2211.74" width="47.17" height="36.17" fill="#fc4e35"/>
<rect x="351.45" y="2211.74" width="47.17" height="36.17" fill="#fc7c60"/>
<rect x="398.62" y="2211.74" width="47.17" height="36.17" fill="#fc6a4f"/>
<rect x="115.62" y="2247.91" width="47.17" height="36.17" fill="#fc6045"/>
<rect x="162.78" y="2247.91" width="47.17" height="36.17" fill="#fc5c42"/>
<rect x="209.95" y="2247.91" width="47.17" height="36.17" fill="#fc6045"/>
<rect x="257.12" y="2247.91" width="47.17" height="36.17" fill="#fc553c"/>
<rect x="304.28" y="2247.91" width="47.17" height="36.17" fill="#fc3d2a"/>
<rect x="351.45" y="2247.91" width="47.17" height="36.17" fill="#fc4e35"/>
<rect x="398.62" y="2247.91" width="47.17" height="36.17" fill="#fc5139"/>
<rect x="115.62" y="2284.07" width="47.17" height="36.17" fill="#fd8063"/>
<rect x="162.78" y="2284.07" width="47.17" height="36.17" fill="#fc3927"/>
<rect x="209.95" y="2284.07" width="47.17" height="36.17" fill="#fc5c42"/>
<rect x="257.12" y="2284.07" width="47.17" height="36.17" fill="#fc3524"/>
<rect x="304.28" y="2284.07" width="47.17" height="36.17" fill="#fc6045"/>
<rect x="351.45" y="2284.07" width="47.17" height="36.17" fill="#fc6045"/>
<rect x="398.62" y="2284.07" width="47.17" height="36.17" fill="#fc5c42"/>
<rect x="115.62" y="2320.24" width="47.17" height="36.17" fill="#fc271c"/>
<rect x="162.78" y="2320.24" width="47.17" height="36.17" fill="#fc1213"/>
<rect x="209.95" y="2320.24" width="47.17" height="36.17" fill="#fc2c1f"/>
<rect x="257.12" y="2320.24" width="47.17" height="36.17" fill="#fc5139"/>
<rect x="304.28" y="2320.24" width="47.17" height="36.17" fill="#fc583f"/>
<rect x="351.45" y="2320.24" width="47.17" height="36.17" fill="#fd8063"/>
<rect x="398.62" y="2320.24" width="47.17" height="36.17" fill="#fc4e35"/>
<rect x="115.62" y="2356.41" width="47.17" height="36.17" fill="#fc4a33"/>
<rect x="162.78" y="2356.41" width="47.17" height="36.17" fill="#fc3927"/>
<rect x="209.95" y="2356.41" width="47.17" height="36.17" fill="#fc462f"/>
<rect x="257.12" y="2356.41" width="47.17" height="36.17" fill="#fd8063"/>
<rect x="304.28" y="2356.41" width="47.17" height="36.17" fill="#fc583f"/>
<rect x="351.45" y="2356.41" width="47.17" height="36.17" fill="#fc5139"/>
<rect x="398.62" y="2356.41" width="47.17" height="36.17" fill="#fc583f"/>
</g>
<g font-size="14.6" text-anchor="middle">
<text y="1548.59"><tspan x="139.2">0.04</tspan><tspan x="186.37">0.04</tspan><tspan x="233.53">0.05</tspan><tspan x="280.7">0.03</tspan><tspan x="327.87">0.04</tspan><tspan x="375.03">0.03</tspan><tspan x="422.2">0.03</tspan></text>
<text y="1584.76"><tspan x="139.2">0.03</tspan><tspan x="186.37">0.04</tspan><tspan x="233.53">0.05</tspan><tspan x="280.7">0.04</tspan><tspan x="327.87">0.03</tspan><tspan x="375.03">0.04</tspan><tspan x="422.2">0.03</tspan></text>
<text y="1620.93"><tspan x="139.2">0.03</tspan><tspan x="186.37">0.03</tspan><tspan x="233.53">0.05</tspan><tspan x="280.7">0.04</tspan><tspan x="327.87">0.03</tspan><tspan x="375.03">0.03</tspan><tspan x="422.2">0.04</tspan></text>
<text y="1657.1"><tspan x="139.2">0.03</tspan><tspan x="186.37">0.04</tspan><tspan x="233.53">0.04</tspan><tspan x="280.7">0.04</tspan><tspan x="327.87">0.03</tspan><tspan x="375.03">0.03</tspan><tspan x="422.2">0.03</tspan></text>
<text y="1693.27"><tspan x="139.2">0.03</tspan><tspan x="186.37">0.03</tspan><tspan x="233.53">0.03</tspan><tspan x="280.7">0.04</tspan><tspan x="327.87">0.04</tspan><tspan x="375.03">0.03</tspan><tspan x="422.2">0.03</tspan></text>
<text y="1729.43"><tspan x="139.2">0.03</tspan><tspan x="186.37">0.02</tspan><tspan x="233.53">0.03</tspan><tspan x="280.7">0.04</tspan><tspan x="327.87">0.04</tspan><tspan x="375.03">0.03</tspan><tspan x="422.2">0.04</tspan></text>
<text y="1765.6"><tspan x="139.2">0.03</tspan><tspan x="186.37">0.03</tspan><tspan x="233.53">0.03</tspan><tspan x="280.7">0.03</tspan><tspan x="327.87">0.03</tspan><tspan x="375.03">0.04</tspan><tspan x="422.2">0.04</tspan></text>
<text y="1801.77"><tspan x="139.2">0.03</tspan><tspan x="186.37">0.04</tspan><tspan x="233.53">0.03</tspan><tspan x="280.7">0.03</tspan><tspan x="327.87">0.03</tspan><tspan x="375.03">0.03</tspan><tspan x="422.2">0.03</tspan></text>
<text y="1837.94"><tspan x="139.2">0.03</tspan><tspan x="186.37">0.02</tspan><tspan x="233.53">0.04</tspan><tspan x="280.7">0.04</tspan><tspan x="327.87">0.04</tspan><tspan x="375.03">0.03</tspan><tspan x="422.2">0.03</tspan></text>
<text y="1874.11"><tspan x="139.2">0.04</tspan><tspan x="186.37">0.02</tspan><tspan x="233.53">0.02</tspan><tspan x="280.7">0.03</tspan><tspan x="327.87">0.03</tspan><tspan x="375.03">0.04</tspan><tspan x="422.2">0.03</tspan></text>
<text y="1910.28"><tspan x="139.2">0.02</tspan><tspan x="186.37">0.03</tspan><tspan x="233.53">0.03</tspan><tspan x="280.7">0.03</tspan><tspan x="327.87">0.04</tspan><tspan x="375.03">0.05</tspan><tspan x="422.2">0.02</tspan></text>
<text y="1946.45"><tspan x="139.2">0.03</tspan><tspan x="186.37">0.03</tspan><tspan x="233.53">0.03</tspan><tspan x="280.7">0.03</tspan><tspan x="327.87">0.04</tspan><tspan x="375.03">0.03</tspan><tspan x="422.2">0.03</tspan></text>
<text y="1982.62"><tspan x="139.2">0.03</tspan><tspan x="186.37">0.03</tspan><tspan x="233.53">0.03</tspan><tspan x="280.7">0.04</tspan><tspan x="327.87">0.03</tspan><tspan x="375.03">0.03</tspan><tspan x="422.2">0.03</tspan></text>
<text y="2018.79"><tspan x="139.2">0.03</tspan><tspan x="186.37">0.03</tspan><tspan x="233.53">0.04</tspan><tspan x="280.7">0.03</tspan><tspan x="327.87">0.04</tspan><tspan x="375.03">0.04</tspan><tspan x="422.2">0.03</tspan></text>
<text y="2054.96"><tspan x="139.2">0.03</tspan><tspan x="186.37">0.03</tspan><tspan x="233.53">0.03</tspan><tspan x="280.7">0.03</tspan><tspan x="327.87">0.04</tspan><tspan x="375.03">0.03</tspan><tspan x="422.2">0.03</tspan></text>
<text y="2091.13"><tspan x="139.2">0.03</tspan><tspan x="186.37">0.03</tspan><tspan x="233.53">0.04</tspan><tspan x="280.7">0.03</tspan><tspan x="327.87">0.03</tspan><tspan x="375.03">0.03</tspan><tspan x="422.2">0.04</tspan></text>
<text y="2127.3"><tspan x="139.2">0.03</tspan><tspan x="186.37">0.03</tspan><tspan x="233.53">0.03</tspan><tspan x="280.7">0.03</tspan><tspan x="327.87">0.02</tspan><tspan x="375.03">0.03</tspan><tspan x="422.2">0.03</tspan></text>
<text y="2163.47"><tspan x="139.2">0.03</tspan><tspan x="186.37">0.02</tspan><tspan x="233.53">0.03</tspan><tspan x="280.7">0.03</tspan><tspan x="327.87">0.03</tspan><tspan x="375.03">0.02</tspan><tspan x="422.2">0.03</tspan></text>
<text y="2199.64"><tspan x="139.2">0.03</tspan><tspan x="186.37">0.03</tspan><tspan x="233.53">0.03</tspan><tspan x="280.7">0.03</tspan><tspan x="327.87">0.03</tspan><tspan x="375.03">0.02</tspan><tspan x="422.2">0.02</tspan></text>
<text y="2235.81"><tspan x="139.2">0.04</tspan><tspan x="186.37">0.03</tspan><tspan x="233.53">0.04</tspan><tspan x="280.7">0.02</tspan><tspan x="327.87">0.04</tspan><tspan x="375.03">0.03</tspan><tspan x="422.2">0.03</tspan></text>
<text y="2271.98"><tspan x="139.2">0.03</tspan><tspan x="186.37">0.03</tspan><tspan x="233.53">0.03</tspan><tspan x="280.7">0.03</tspan><tspan x="327.87">0.04</tspan><tspan x="375.03">0.04</tspan><tspan x="422.2">0.04</tspan></text>
<text y="2308.15"><tspan x="139.2">0.03</tspan><tspan x="186.37">0.04</tspan><tspan x="233.53">0.03</tspan><tspan x="280.7">0.04</tspan><tspan x="327.87">0.03</tspan><tspan x="375.03">0.03</tspan><tspan x="422.2">0.03</tspan></text>
<text y="2344.31"><tspan x="139.2">0.04</tspan><tspan x="186.37">0.04</tspan><tspan x="233.53">0.04</tspan><tspan x="280.7">0.04</tspan><tspan x="327.87">0.03</tspan><tspan x="375.03">0.03</tspan><tspan x="422.2">0.04</tspan></text>
<text y="2380.48"><tspan x="139.2">0.04</tspan><tspan x="186.37">0.04</tspan><tspan x="233.53">0.04</tspan><tspan x="280.7">0.03</tspan><tspan x="327.87">0.03</tspan><tspan x="375.03">0.04</tspan><tspan x="422.2">0.03</tspan></text>
</g>
<rect x="111.7" y="1520.9" width="338" height="874.5" fill="none" stroke="#000" stroke-width="1.6"/>
<text transform="translate(139.2 2474) rotate(-45)" font-size="27.73" text-anchor="middle" dy="9.9">Sunday</text>
<text transform="translate(186.37 2474) rotate(-45)" font-size="27.73" text-anchor="middle" dy="9.9">Monday</text>
<text transform="translate(233.53 2474) rotate(-45)" font-size="27.73" text-anchor="middle" dy="9.9">Tuesday</text>
<text transform="translate(280.7 2474) rotate(-45)" font-size="27.73" text-anchor="middle" dy="9.9">Wednesday</text>
<text transform="translate(327.87 2474) rotate(-45)" font-size="27.73" text-anchor="middle" dy="9.9">Thursday</text>
<text transform="translate(375.03 2474) rotate(-45)" font-size="27.73" text-anchor="middle" dy="9.9">Friday</text>
<text transform="translate(422.2 2474) rotate(-45)" font-size="27.73" text-anchor="middle" dy="9.9">Saturday</text>
<path d="M139.2 2396.2v8.6M186.37 2396.2v8.6M233.53 2396.2v8.6M280.7 2396.2v8.6M327.87 2396.2v8.6M375.03 2396.2v8.6M422.2 2396.2v8.6" stroke="#000" stroke-width="2" fill="none"/>
<rect x="468" y="1467.5" width="339.6" height="53.4" fill="#000"/>
<text x="637.8" y="1504.7" font-size="27.73" text-anchor="middle" font-weight="normal" fill="#fff">Brooklyn</text>
<path d="M496.3 1520.9V2396.2M543.47 1520.9V2396.2M590.63 1520.9V2396.2M637.8 1520.9V2396.2M684.97 1520.9V2396.2M732.13 1520.9V2396.2M779.3 1520.9V2396.2M468 1542.6H807.6M468 1578.77H807.6M468 1614.94H807.6M468 1651.11H807.6M468 1687.28H807.6M468 1723.45H807.6M468 1759.62H807.6M468 1795.79H807.6M468 1831.96H807.6M468 1868.13H807.6M468 1904.3H807.6M468 1940.47H807.6M468 1976.63H807.6M468 2012.8H807.6M468 2048.97H807.6M468 2085.14H807.6M468 2121.31H807.6M468 2157.48H807.6M468 2193.65H807.6M468 2229.82H807.6M468 2265.99H807.6M468 2302.16H807.6M468 2338.33H807.6M468 2374.5H807.6" stroke="#000" stroke-opacity="0.45" stroke-width="0.8" fill="none"/>
<g stroke="#000" stroke-opacity="0.62" stroke-width="0.7">
<rect x="472.72" y="1524.52" width="47.17" height="36.17" fill="#fd8164"/>
<rect x="519.88" y="1524.52" width="47.17" height="36.17" fill="#fdaf98"/>
<rect x="567.05" y="1524.52" width="47.17" height="36.17" fill="#fdb6a2"/>
<rect x="614.22" y="1524.52" width="47.17" height="36.17" fill="#fda28a"/>
<rect x="661.38" y="1524.52" width="47.17" height="36.17" fill="#fdb9a4"/>
<rect x="708.55" y="1524.52" width="47.17" height="36.17" fill="#fda48c"/>
<rect x="755.72" y="1524.52" width="47.17" height="36.17" fill="#fdaf98"/>
<rect x="472.72" y="1560.69" width="47.17" height="36.17" fill="#fd9a81"/>
<rect x="519.88" y="1560.69" width="47.17" height="36.17" fill="#fdad97"/>
<rect x="567.05" y="1560.69" width="47.17" height="36.17" fill="#fda48c"/>
<rect x="614.22" y="1560.69" width="47.17" height="36.17" fill="#fda087"/>
<rect x="661.38" y="1560.69" width="47.17" height="36.17" fill="#fda890"/>
<rect x="708.55" y="1560.69" width="47.17" height="36.17" fill="#fda48c"/>
<rect x="755.72" y="1560.69" width="47.17" height="36.17" fill="#fd9a81"/>
<rect x="472.72" y="1596.86" width="47.17" height="36.17" fill="#fda48c"/>
<rect x="519.88" y="1596.86" width="47.17" height="36.17" fill="#fdad97"/>
<rect x="567.05" y="1596.86" width="47.17" height="36.17" fill="#fda68e"/>
<rect x="614.22" y="1596.86" width="47.17" height="36.17" fill="#fdb9a4"/>
<rect x="661.38" y="1596.86" width="47.17" height="36.17" fill="#fda890"/>
<rect x="708.55" y="1596.86" width="47.17" height="36.17" fill="#fdaf98"/>
<rect x="755.72" y="1596.86" width="47.17" height="36.17" fill="#fdac94"/>
<rect x="472.72" y="1633.03" width="47.17" height="36.17" fill="#fd997f"/>
<rect x="519.88" y="1633.03" width="47.17" height="36.17" fill="#fec0ad"/>
<rect x="567.05" y="1633.03" width="47.17" height="36.17" fill="#fdb6a2"/>
<rect x="614.22" y="1633.03" width="47.17" height="36.17" fill="#fda28a"/>
<rect x="661.38" y="1633.03" width="47.17" height="36.17" fill="#fdad97"/>
<rect x="708.55" y="1633.03" width="47.17" height="36.17" fill="#fdb09a"/>
<rect x="755.72" y="1633.03" width="47.17" height="36.17" fill="#fda087"/>
<rect x="472.72" y="1669.19" width="47.17" height="36.17" fill="#febca9"/>
<rect x="519.88" y="1669.19" width="47.17" height="36.17" fill="#fda28a"/>
<rect x="567.05" y="1669.19" width="47.17" height="36.17" fill="#fd9a81"/>
<rect x="614.22" y="1669.19" width="47.17" height="36.17" fill="#fdac94"/>
<rect x="661.38" y="1669.19" width="47.17" height="36.17" fill="#fda992"/>
<rect x="708.55" y="1669.19" width="47.17" height="36.17" fill="#febaa6"/>
<rect x="755.72" y="1669.19" width="47.17" height="36.17" fill="#fdad97"/>
<rect x="472.72" y="1705.36" width="47.17" height="36.17" fill="#fdb09a"/>
<rect x="519.88" y="1705.36" width="47.17" height="36.17" fill="#fec0ad"/>
<rect x="567.05" y="1705.36" width="47.17" height="36.17" fill="#fdaf98"/>
<rect x="614.22" y="1705.36" width="47.17" height="36.17" fill="#febca9"/>
<rect x="661.38" y="1705.36" width="47.17" height="36.17" fill="#fdb6a2"/>
<rect x="708.55" y="1705.36" width="47.17" height="36.17" fill="#fec0ad"/>
<rect x="755.72" y="1705.36" width="47.17" height="36.17" fill="#fec2af"/>
<rect x="472.72" y="1741.53" width="47.17" height="36.17" fill="#fdac94"/>
<rect x="519.88" y="1741.53" width="47.17" height="36.17" fill="#fdb09a"/>
<rect x="567.05" y="1741.53" width="47.17" height="36.17" fill="#fdac94"/>
<rect x="614.22" y="1741.53" width="47.17" height="36.17" fill="#fd8e72"/>
<rect x="661.38" y="1741.53" width="47.17" height="36.17" fill="#fdaf98"/>
<rect x="708.55" y="1741.53" width="47.17" height="36.17" fill="#fdaf98"/>
<rect x="755.72" y="1741.53" width="47.17" height="36.17" fill="#febeab"/>
<rect x="472.72" y="1777.7" width="47.17" height="36.17" fill="#fd9074"/>
<rect x="519.88" y="1777.7" width="47.17" height="36.17" fill="#fd9176"/>
<rect x="567.05" y="1777.7" width="47.17" height="36.17" fill="#febeab"/>
<rect x="614.22" y="1777.7" width="47.17" height="36.17" fill="#fdb6a2"/>
<rect x="661.38" y="1777.7" width="47.17" height="36.17" fill="#fda087"/>
<rect x="708.55" y="1777.7" width="47.17" height="36.17" fill="#fec0ad"/>
<rect x="755.72" y="1777.7" width="47.17" height="36.17" fill="#fecdbd"/>
<rect x="472.72" y="1813.87" width="47.17" height="36.17" fill="#fec7b6"/>
<rect x="519.88" y="1813.87" width="47.17" height="36.17" fill="#fdb39c"/>
<rect x="567.05" y="1813.87" width="47.17" height="36.17" fill="#fdb39c"/>
<rect x="614.22" y="1813.87" width="47.17" height="36.17" fill="#fda48c"/>
<rect x="661.38" y="1813.87" width="47.17" height="36.17" fill="#fdb9a4"/>
<rect x="708.55" y="1813.87" width="47.17" height="36.17" fill="#fda68e"/>
<rect x="755.72" y="1813.87" width="47.17" height="36.17" fill="#febca9"/>
<rect x="472.72" y="1850.04" width="47.17" height="36.17" fill="#febca9"/>
<rect x="519.88" y="1850.04" width="47.17" height="36.17" fill="#fdb09a"/>
<rect x="567.05" y="1850.04" width="47.17" height="36.17" fill="#fec2af"/>
<rect x="614.22" y="1850.04" width="47.17" height="36.17" fill="#febaa6"/>
<rect x="661.38" y="1850.04" width="47.17" height="36.17" fill="#fec4b2"/>
<rect x="708.55" y="1850.04" width="47.17" height="36.17" fill="#febca9"/>
<rect x="755.72" y="1850.04" width="47.17" height="36.17" fill="#fec0ad"/>
<rect x="472.72" y="1886.21" width="47.17" height="36.17" fill="#febca9"/>
<rect x="519.88" y="1886.21" width="47.17" height="36.17" fill="#fec2af"/>
<rect x="567.05" y="1886.21" width="47.17" height="36.17" fill="#fdb9a4"/>
<rect x="614.22" y="1886.21" width="47.17" height="36.17" fill="#fdaf98"/>
<rect x="661.38" y="1886.21" width="47.17" height="36.17" fill="#fec6b4"/>
<rect x="708.55" y="1886.21" width="47.17" height="36.17" fill="#fdb09a"/>
<rect x="755.72" y="1886.21" width="47.17" height="36.17" fill="#fecec0"/>
<rect x="472.72" y="1922.38" width="47.17" height="36.17" fill="#fec0ad"/>
<rect x="519.88" y="1922.38" width="47.17" height="36.17" fill="#fda48c"/>
<rect x="567.05" y="1922.38" width="47.17" height="36.17" fill="#fd876a"/>
<rect x="614.22" y="1922.38" width="47.17" height="36.17" fill="#fdb5a0"/>
<rect x="661.38" y="1922.38" width="47.17" height="36.17" fill="#fdad97"/>
<rect x="708.55" y="1922.38" width="47.17" height="36.17" fill="#fdb09a"/>
<rect x="755.72" y="1922.38" width="47.17" height="36.17" fill="#fdaf98"/>
<rect x="472.72" y="1958.55" width="47.17" height="36.17" fill="#fdad97"/>
<rect x="519.88" y="1958.55" width="47.17" height="36.17" fill="#fdad97"/>
<rect x="567.05" y="1958.55" width="47.17" height="36.17" fill="#fdb09a"/>
<rect x="614.22" y="1958.55" width="47.17" height="36.17" fill="#fecbbb"/>
<rect x="661.38" y="1958.55" width="47.17" height="36.17" fill="#fd967b"/>
<rect x="708.55" y="1958.55" width="47.17" height="36.17" fill="#fec0ad"/>
<rect x="755.72" y="1958.55" width="47.17" height="36.17" fill="#fec4b2"/>
<rect x="472.72" y="1994.72" width="47.17" height="36.17" fill="#fdaf98"/>
<rect x="519.88" y="1994.72" width="47.17" height="36.17" fill="#fda28a"/>
<rect x="567.05" y="1994.72" width="47.17" height="36.17" fill="#fda890"/>
<rect x="614.22" y="1994.72" width="47.17" height="36.17" fill="#fd9d83"/>
<rect x="661.38" y="1994.72" width="47.17" height="36.17" fill="#fda992"/>
<rect x="708.55" y="1994.72" width="47.17" height="36.17" fill="#fd9a81"/>
<rect x="755.72" y="1994.72" width="47.17" height="36.17" fill="#fecbbb"/>
<rect x="472.72" y="2030.89" width="47.17" height="36.17" fill="#fdaf98"/>
<rect x="519.88" y="2030.89" width="47.17" height="36.17" fill="#fda28a"/>
<rect x="567.05" y="2030.89" width="47.17" height="36.17" fill="#fda992"/>
<rect x="614.22" y="2030.89" width="47.17" height="36.17" fill="#fda48c"/>
<rect x="661.38" y="2030.89" width="47.17" height="36.17" fill="#fd8c70"/>
<rect x="708.55" y="2030.89" width="47.17" height="36.17" fill="#fdac94"/>
<rect x="755.72" y="2030.89" width="47.17" height="36.17" fill="#fdb9a4"/>
<rect x="472.72" y="2067.06" width="47.17" height="36.17" fill="#fdaf98"/>
<rect x="519.88" y="2067.06" width="47.17" height="36.17" fill="#fdaf98"/>
<rect x="567.05" y="2067.06" width="47.17" height="36.17" fill="#fdad97"/>
<rect x="614.22" y="2067.06" width="47.17" height="36.17" fill="#fdb09a"/>
<rect x="661.38" y="2067.06" width="47.17" height="36.17" fill="#fd9f85"/>
<rect x="708.55" y="2067.06" width="47.17" height="36.17" fill="#fd977d"/>
<rect x="755.72" y="2067.06" width="47.17" height="36.17" fill="#fec7b6"/>
<rect x="472.72" y="2103.23" width="47.17" height="36.17" fill="#fec6b4"/>
<rect x="519.88" y="2103.23" width="47.17" height="36.17" fill="#fdb6a2"/>
<rect x="567.05" y="2103.23" width="47.17" height="36.17" fill="#febeab"/>
<rect x="614.22" y="2103.23" width="47.17" height="36.17" fill="#febca9"/>
<rect x="661.38" y="2103.23" width="47.17" height="36.17" fill="#fdad97"/>
<rect x="708.55" y="2103.23" width="47.17" height="36.17" fill="#fdb39c"/>
<rect x="755.72" y="2103.23" width="47.17" height="36.17" fill="#fdad97"/>
<rect x="472.72" y="2139.4" width="47.17" height="36.17" fill="#fec7b6"/>
<rect x="519.88" y="2139.4" width="47.17" height="36.17" fill="#fdad97"/>
<rect x="567.05" y="2139.4" width="47.17" height="36.17" fill="#fda48c"/>
<rect x="614.22" y="2139.4" width="47.17" height="36.17" fill="#fdb39c"/>
<rect x="661.38" y="2139.4" width="47.17" height="36.17" fill="#febaa6"/>
<rect x="708.55" y="2139.4" width="47.17" height="36.17" fill="#febaa6"/>
<rect x="755.72" y="2139.4" width="47.17" height="36.17" fill="#febca9"/>
<rect x="472.72" y="2175.57" width="47.17" height="36.17" fill="#fdad97"/>
<rect x="519.88" y="2175.57" width="47.17" height="36.17" fill="#fdb39c"/>
<rect x="567.05" y="2175.57" width="47.17" height="36.17" fill="#fda68e"/>
<rect x="614.22" y="2175.57" width="47.17" height="36.17" fill="#fec0ad"/>
<rect x="661.38" y="2175.57" width="47.17" height="36.17" fill="#fec0ad"/>
<rect x="708.55" y="2175.57" width="47.17" height="36.17" fill="#fec7b6"/>
<rect x="755.72" y="2175.57" width="47.17" height="36.17" fill="#fec0ad"/>
<rect x="472.72" y="2211.74" width="47.17" height="36.17" fill="#fdb5a0"/>
<rect x="519.88" y="2211.74" width="47.17" height="36.17" fill="#fd967b"/>
<rect x="567.05" y="2211.74" width="47.17" height="36.17" fill="#fec0ad"/>
<rect x="614.22" y="2211.74" width="47.17" height="36.17" fill="#fda28a"/>
<rect x="661.38" y="2211.74" width="47.17" height="36.17" fill="#fdb39c"/>
<rect x="708.55" y="2211.74" width="47.17" height="36.17" fill="#febca9"/>
<rect x="755.72" y="2211.74" width="47.17" height="36.17" fill="#fda48c"/>
<rect x="472.72" y="2247.91" width="47.17" height="36.17" fill="#febeab"/>
<rect x="519.88" y="2247.91" width="47.17" height="36.17" fill="#fda68e"/>
<rect x="567.05" y="2247.91" width="47.17" height="36.17" fill="#febeab"/>
<rect x="614.22" y="2247.91" width="47.17" height="36.17" fill="#febca9"/>
<rect x="661.38" y="2247.91" width="47.17" height="36.17" fill="#fdad97"/>
<rect x="708.55" y="2247.91" width="47.17" height="36.17" fill="#fdaf98"/>
<rect x="755.72" y="2247.91" width="47.17" height="36.17" fill="#fdad97"/>
<rect x="472.72" y="2284.07" width="47.17" height="36.17" fill="#febaa6"/>
<rect x="519.88" y="2284.07" width="47.17" height="36.17" fill="#fdac94"/>
<rect x="567.05" y="2284.07" width="47.17" height="36.17" fill="#febeab"/>
<rect x="614.22" y="2284.07" width="47.17" height="36.17" fill="#fd9a81"/>
<rect x="661.38" y="2284.07" width="47.17" height="36.17" fill="#fdaf98"/>
<rect x="708.55" y="2284.07" width="47.17" height="36.17" fill="#fda48c"/>
<rect x="755.72" y="2284.07" width="47.17" height="36.17" fill="#fd977d"/>
<rect x="472.72" y="2320.24" width="47.17" height="36.17" fill="#fda890"/>
<rect x="519.88" y="2320.24" width="47.17" height="36.17" fill="#fd876a"/>
<rect x="567.05" y="2320.24" width="47.17" height="36.17" fill="#fd9f85"/>
<rect x="614.22" y="2320.24" width="47.17" height="36.17" fill="#fd977d"/>
<rect x="661.38" y="2320.24" width="47.17" height="36.17" fill="#fdb9a4"/>
<rect x="708.55" y="2320.24" width="47.17" height="36.17" fill="#fdb39c"/>
<rect x="755.72" y="2320.24" width="47.17" height="36.17" fill="#fdac94"/>
<rect x="472.72" y="2356.41" width="47.17" height="36.17" fill="#fd9176"/>
<rect x="519.88" y="2356.41" width="47.17" height="36.17" fill="#fec2af"/>
<rect x="567.05" y="2356.41" width="47.17" height="36.17" fill="#fdb5a0"/>
<rect x="614.22" y="2356.41" width="47.17" height="36.17" fill="#fdac94"/>
<rect x="661.38" y="2356.41" width="47.17" height="36.17" fill="#fdb39c"/>
<rect x="708.55" y="2356.41" width="47.17" height="36.17" fill="#fdb09a"/>
<rect x="755.72" y="2356.41" width="47.17" height="36.17" fill="#fdb39c"/>
</g>
<g font-size="14.6" text-anchor="middle">
<text y="1548.59"><tspan x="496.3">0.03</tspan><tspan x="543.47">0.02</tspan><tspan x="590.63">0.01</tspan><tspan x="637.8">0.02</tspan><tspan x="684.97">0.01</tspan><tspan x="732.13">0.02</tspan><tspan x="779.3">0.02</tspan></text>
<text y="1584.76"><tspan x="496.3">0.02</tspan><tspan x="543.47">0.02</tspan><tspan x="590.63">0.02</tspan><tspan x="637.8">0.02</tspan><tspan x="684.97">0.02</tspan><tspan x="732.13">0.02</tspan><tspan x="779.3">0.02</tspan></text>
<text y="1620.93"><tspan x="496.3">0.02</tspan><tspan x="543.47">0.02</tspan><tspan x="590.63">0.02</tspan><tspan x="637.8">0.01</tspan><tspan x="684.97">0.02</tspan><tspan x="732.13">0.02</tspan><tspan x="779.3">0.02</tspan></text>
<text y="1657.1"><tspan x="496.3">0.02</tspan><tspan x="543.47">0.01</tspan><tspan x="590.63">0.01</tspan><tspan x="637.8">0.02</tspan><tspan x="684.97">0.02</tspan><tspan x="732.13">0.02</tspan><tspan x="779.3">0.02</tspan></text>
<text y="1693.27"><tspan x="496.3">0.01</tspan><tspan x="543.47">0.02</tspan><tspan x="590.63">0.02</tspan><tspan x="637.8">0.02</tspan><tspan x="684.97">0.02</tspan><tspan x="732.13">0.01</tspan><tspan x="779.3">0.02</tspan></text>
<text y="1729.43"><tspan x="496.3">0.02</tspan><tspan x="543.47">0.01</tspan><tspan x="590.63">0.02</tspan><tspan x="637.8">0.01</tspan><tspan x="684.97">0.01</tspan><tspan x="732.13">0.01</tspan><tspan x="779.3">0.01</tspan></text>
<text y="1765.6"><tspan x="496.3">0.02</tspan><tspan x="543.47">0.02</tspan><tspan x="590.63">0.02</tspan><tspan x="637.8">0.02</tspan><tspan x="684.97">0.02</tspan><tspan x="732.13">0.02</tspan><tspan x="779.3">0.01</tspan></text>
<text y="1801.77"><tspan x="496.3">0.02</tspan><tspan x="543.47">0.02</tspan><tspan x="590.63">0.01</tspan><tspan x="637.8">0.01</tspan><tspan x="684.97">0.02</tspan><tspan x="732.13">0.01</tspan><tspan x="779.3">0.01</tspan></text>
<text y="1837.94"><tspan x="496.3">0.01</tspan><tspan x="543.47">0.02</tspan><tspan x="590.63">0.02</tspan><tspan x="637.8">0.02</tspan><tspan x="684.97">0.01</tspan><tspan x="732.13">0.02</tspan><tspan x="779.3">0.01</tspan></text>
<text y="1874.11"><tspan x="496.3">0.01</tspan><tspan x="543.47">0.02</tspan><tspan x="590.63">0.01</tspan><tspan x="637.8">0.01</tspan><tspan x="684.97">0.01</tspan><tspan x="732.13">0.01</tspan><tspan x="779.3">0.01</tspan></text>
<text y="1910.28"><tspan x="496.3">0.01</tspan><tspan x="543.47">0.01</tspan><tspan x="590.63">0.01</tspan><tspan x="637.8">0.02</tspan><tspan x="684.97">0.01</tspan><tspan x="732.13">0.02</tspan><tspan x="779.3">0.01</tspan></text>
<text y="1946.45"><tspan x="496.3">0.01</tspan><tspan x="543.47">0.02</tspan><tspan x="590.63">0.02</tspan><tspan x="637.8">0.02</tspan><tspan x="684.97">0.02</tspan><tspan x="732.13">0.02</tspan><tspan x="779.3">0.02</tspan></text>
<text y="1982.62"><tspan x="496.3">0.02</tspan><tspan x="543.47">0.02</tspan><tspan x="590.63">0.02</tspan><tspan x="637.8">0.01</tspan><tspan x="684.97">0.02</tspan><tspan x="732.13">0.01</tspan><tspan x="779.3">0.01</tspan></text>
<text y="2018.79"><tspan x="496.3">0.02</tspan><tspan x="543.47">0.02</tspan><tspan x="590.63">0.02</tspan><tspan x="637.8">0.02</tspan><tspan x="684.97">0.02</tspan><tspan x="732.13">0.02</tspan><tspan x="779.3">0.01</tspan></text>
<text y="2054.96"><tspan x="496.3">0.02</tspan><tspan x="543.47">0.02</tspan><tspan x="590.63">0.02</tspan><tspan x="637.8">0.02</tspan><tspan x="684.97">0.02</tspan><tspan x="732.13">0.02</tspan><tspan x="779.3">0.01</tspan></text>
<text y="2091.13"><tspan x="496.3">0.02</tspan><tspan x="543.47">0.02</tspan><tspan x="590.63">0.02</tspan><tspan x="637.8">0.02</tspan><tspan x="684.97">0.02</tspan><tspan x="732.13">0.02</tspan><tspan x="779.3">0.01</tspan></text>
<text y="2127.3"><tspan x="496.3">0.01</tspan><tspan x="543.47">0.01</tspan><tspan x="590.63">0.01</tspan><tspan x="637.8">0.01</tspan><tspan x="684.97">0.02</tspan><tspan x="732.13">0.02</tspan><tspan x="779.3">0.02</tspan></text>
<text y="2163.47"><tspan x="496.3">0.01</tspan><tspan x="543.47">0.02</tspan><tspan x="590.63">0.02</tspan><tspan x="637.8">0.02</tspan><tspan x="684.97">0.01</tspan><tspan x="732.13">0.01</tspan><tspan x="779.3">0.01</tspan></text>
<text y="2199.64"><tspan x="496.3">0.02</tspan><tspan x="543.47">0.02</tspan><tspan x="590.63">0.02</tspan><tspan x="637.8">0.01</tspan><tspan x="684.97">0.01</tspan><tspan x="732.13">0.01</tspan><tspan x="779.3">0.01</tspan></text>
<text y="2235.81"><tspan x="496.3">0.02</tspan><tspan x="543.47">0.02</tspan><tspan x="590.63">0.01</tspan><tspan x="637.8">0.02</tspan><tspan x="684.97">0.02</tspan><tspan x="732.13">0.01</tspan><tspan x="779.3">0.02</tspan></text>
<text y="2271.98"><tspan x="496.3">0.01</tspan><tspan x="543.47">0.02</tspan><tspan x="590.63">0.01</tspan><tspan x="637.8">0.01</tspan><tspan x="684.97">0.02</tspan><tspan x="732.13">0.02</tspan><tspan x="779.3">0.02</tspan></text>
<text y="2308.15"><tspan x="496.3">0.01</tspan><tspan x="543.47">0.02</tspan><tspan x="590.63">0.01</tspan><tspan x="637.8">0.02</tspan><tspan x="684.97">0.02</tspan><tspan x="732.13">0.02</tspan><tspan x="779.3">0.02</tspan></text>
<text y="2344.31"><tspan x="496.3">0.02</tspan><tspan x="543.47">0.02</tspan><tspan x="590.63">0.02</tspan><tspan x="637.8">0.02</tspan><tspan x="684.97">0.01</tspan><tspan x="732.13">0.02</tspan><tspan x="779.3">0.02</tspan></text>
<text y="2380.48"><tspan x="496.3">0.02</tspan><tspan x="543.47">0.01</tspan><tspan x="590.63">0.02</tspan><tspan x="637.8">0.02</tspan><tspan x="684.97">0.02</tspan><tspan x="732.13">0.02</tspan><tspan x="779.3">0.02</tspan></text>
</g>
<rect x="468.8" y="1520.9" width="338" height="874.5" fill="none" stroke="#000" stroke-width="1.6"/>
<text transform="translate(496.3 2474) rotate(-45)" font-size="27.73" text-anchor="middle" dy="9.9">Sunday</text>
<text transform="translate(543.47 2474) rotate(-45)" font-size="27.73" text-anchor="middle" dy="9.9">Monday</text>
<text transform="translate(590.63 2474) rotate(-45)" font-size="27.73" text-anchor="middle" dy="9.9">Tuesday</text>
<text transform="translate(637.8 2474) rotate(-45)" font-size="27.73" text-anchor="middle" dy="9.9">Wednesday</text>
<text transform="translate(684.97 2474) rotate(-45)" font-size="27.73" text-anchor="middle" dy="9.9">Thursday</text>
<text transform="translate(732.13 2474) rotate(-45)" font-size="27.73" text-anchor="middle" dy="9.9">Friday</text>
<text transform="translate(779.3 2474) rotate(-45)" font-size="27.73" text-anchor="middle" dy="9.9">Saturday</text>
<path d="M496.3 2396.2v8.6M543.47 2396.2v8.6M590.63 2396.2v8.6M637.8 2396.2v8.6M684.97 2396.2v8.6M732.13 2396.2v8.6M779.3 2396.2v8.6" stroke="#000" stroke-width="2" fill="none"/>
<rect x="825.1" y="1467.5" width="339.6" height="53.4" fill="#000"/>
<text x="994.9" y="1504.7" font-size="27.73" text-anchor="middle" font-weight="normal" fill="#fff">Manhattan</text>
<path d="M853.4 1520.9V2396.2M900.57 1520.9V2396.2M947.73 1520.9V2396.2M994.9 1520.9V2396.2M1042.07 1520.9V2396.2M1089.23 1520.9V2396.2M1136.4 1520.9V2396.2M825.1 1542.6H1164.7M825.1 1578.77H1164.7M825.1 1614.94H1164.7M825.1 1651.11H1164.7M825.1 1687.28H1164.7M825.1 1723.45H1164.7M825.1 1759.62H1164.7M825.1 1795.79H1164.7M825.1 1831.96H1164.7M825.1 1868.13H1164.7M825.1 1904.3H1164.7M825.1 1940.47H1164.7M825.1 1976.63H1164.7M825.1 2012.8H1164.7M825.1 2048.97H1164.7M825.1 2085.14H1164.7M825.1 2121.31H1164.7M825.1 2157.48H1164.7M825.1 2193.65H1164.7M825.1 2229.82H1164.7M825.1 2265.99H1164.7M825.1 2302.16H1164.7M825.1 2338.33H1164.7M825.1 2374.5H1164.7" stroke="#000" stroke-opacity="0.45" stroke-width="0.8" fill="none"/>
<g stroke="#000" stroke-opacity="0.62" stroke-width="0.7">
<rect x="829.82" y="1524.52" width="47.17" height="36.17" fill="#fdb5a0"/>
<rect x="876.98" y="1524.52" width="47.17" height="36.17" fill="#fec7b5"/>
<rect x="924.15" y="1524.52" width="47.17" height="36.17" fill="#fec1ae"/>
<rect x="971.32" y="1524.52" width="47.17" height="36.17" fill="#fec1ae"/>
<rect x="1018.48" y="1524.52" width="47.17" height="36.17" fill="#fdac94"/>
<rect x="1065.65" y="1524.52" width="47.17" height="36.17" fill="#fec7b5"/>
<rect x="1112.82" y="1524.52" width="47.17" height="36.17" fill="#fdb8a3"/>
<rect x="829.82" y="1560.69" width="47.17" height="36.17" fill="#fdac94"/>
<rect x="876.98" y="1560.69" width="47.17" height="36.17" fill="#fed7c9"/>
<rect x="924.15" y="1560.69" width="47.17" height="36.17" fill="#fdb5a0"/>
<rect x="971.32" y="1560.69" width="47.17" height="36.17" fill="#fec4b2"/>
<rect x="1018.48" y="1560.69" width="47.17" height="36.17" fill="#fdb5a0"/>
<rect x="1065.65" y="1560.69" width="47.17" height="36.17" fill="#fed7c9"/>
<rect x="1112.82" y="1560.69" width="47.17" height="36.17" fill="#fec1ae"/>
<rect x="829.82" y="1596.86" width="47.17" height="36.17" fill="#fda086"/>
<rect x="876.98" y="1596.86" width="47.17" height="36.17" fill="#fed7c9"/>
<rect x="924.15" y="1596.86" width="47.17" height="36.17" fill="#fecdbd"/>
<rect x="971.32" y="1596.86" width="47.17" height="36.17" fill="#fdb29b"/>
<rect x="1018.48" y="1596.86" width="47.17" height="36.17" fill="#febba6"/>
<rect x="1065.65" y="1596.86" width="47.17" height="36.17" fill="#febeaa"/>
<rect x="1112.82" y="1596.86" width="47.17" height="36.17" fill="#febeaa"/>
<rect x="829.82" y="1633.03" width="47.17" height="36.17" fill="#fecaba"/>
<rect x="876.98" y="1633.03" width="47.17" height="36.17" fill="#fdb8a3"/>
<rect x="924.15" y="1633.03" width="47.17" height="36.17" fill="#fd9d83"/>
<rect x="971.32" y="1633.03" width="47.17" height="36.17" fill="#fec7b5"/>
<rect x="1018.48" y="1633.03" width="47.17" height="36.17" fill="#fdaf98"/>
<rect x="1065.65" y="1633.03" width="47.17" height="36.17" fill="#febba6"/>
<rect x="1112.82" y="1633.03" width="47.17" height="36.17" fill="#ffece5"/>
<rect x="829.82" y="1669.19" width="47.17" height="36.17" fill="#fdb8a3"/>
<rect x="876.98" y="1669.19" width="47.17" height="36.17" fill="#fec7b5"/>
<rect x="924.15" y="1669.19" width="47.17" height="36.17" fill="#fed0c1"/>
<rect x="971.32" y="1669.19" width="47.17" height="36.17" fill="#fec4b2"/>
<rect x="1018.48" y="1669.19" width="47.17" height="36.17" fill="#febeaa"/>
<rect x="1065.65" y="1669.19" width="47.17" height="36.17" fill="#fecdbd"/>
<rect x="1112.82" y="1669.19" width="47.17" height="36.17" fill="#fec7b5"/>
<rect x="829.82" y="1705.36" width="47.17" height="36.17" fill="#febba6"/>
<rect x="876.98" y="1705.36" width="47.17" height="36.17" fill="#fed0c1"/>
<rect x="924.15" y="1705.36" width="47.17" height="36.17" fill="#fec4b2"/>
<rect x="971.32" y="1705.36" width="47.17" height="36.17" fill="#fec4b2"/>
<rect x="1018.48" y="1705.36" width="47.17" height="36.17" fill="#fdb29b"/>
<rect x="1065.65" y="1705.36" width="47.17" height="36.17" fill="#fdac94"/>
<rect x="1112.82" y="1705.36" width="47.17" height="36.17" fill="#fecaba"/>
<rect x="829.82" y="1741.53" width="47.17" height="36.17" fill="#fed0c1"/>
<rect x="876.98" y="1741.53" width="47.17" height="36.17" fill="#fda891"/>
<rect x="924.15" y="1741.53" width="47.17" height="36.17" fill="#fdb5a0"/>
<rect x="971.32" y="1741.53" width="47.17" height="36.17" fill="#fda891"/>
<rect x="1018.48" y="1741.53" width="47.17" height="36.17" fill="#fdaf98"/>
<rect x="1065.65" y="1741.53" width="47.17" height="36.17" fill="#fdaf98"/>
<rect x="1112.82" y="1741.53" width="47.17" height="36.17" fill="#fec7b5"/>
<rect x="829.82" y="1777.7" width="47.17" height="36.17" fill="#fed0c1"/>
<rect x="876.98" y="1777.7" width="47.17" height="36.17" fill="#fdb29b"/>
<rect x="924.15" y="1777.7" width="47.17" height="36.17" fill="#fdb5a0"/>
<rect x="971.32" y="1777.7" width="47.17" height="36.17" fill="#fd9d83"/>
<rect x="1018.48" y="1777.7" width="47.17" height="36.17" fill="#fd8a6f"/>
<rect x="1065.65" y="1777.7" width="47.17" height="36.17" fill="#fda68d"/>
<rect x="1112.82" y="1777.7" width="47.17" height="36.17" fill="#fecaba"/>
<rect x="829.82" y="1813.87" width="47.17" height="36.17" fill="#fecdbd"/>
<rect x="876.98" y="1813.87" width="47.17" height="36.17" fill="#fdaf98"/>
<rect x="924.15" y="1813.87" width="47.17" height="36.17" fill="#fda086"/>
<rect x="971.32" y="1813.87" width="47.17" height="36.17" fill="#fda891"/>
<rect x="1018.48" y="1813.87" width="47.17" height="36.17" fill="#febeaa"/>
<rect x="1065.65" y="1813.87" width="47.17" height="36.17" fill="#fdaf98"/>
<rect x="1112.82" y="1813.87" width="47.17" height="36.17" fill="#fdb5a0"/>
<rect x="829.82" y="1850.04" width="47.17" height="36.17" fill="#fecaba"/>
<rect x="876.98" y="1850.04" width="47.17" height="36.17" fill="#fdb5a0"/>
<rect x="924.15" y="1850.04" width="47.17" height="36.17" fill="#fec4b2"/>
<rect x="971.32" y="1850.04" width="47.17" height="36.17" fill="#fdac94"/>
<rect x="1018.48" y="1850.04" width="47.17" height="36.17" fill="#fec4b2"/>
<rect x="1065.65" y="1850.04" width="47.17" height="36.17" fill="#fdb29b"/>
<rect x="1112.82" y="1850.04" width="47.17" height="36.17" fill="#fed3c6"/>
<rect x="829.82" y="1886.21" width="47.17" height="36.17" fill="#fdaf98"/>
<rect x="876.98" y="1886.21" width="47.17" height="36.17" fill="#fda891"/>
<rect x="924.15" y="1886.21" width="47.17" height="36.17" fill="#fec1ae"/>
<rect x="971.32" y="1886.21" width="47.17" height="36.17" fill="#fec4b2"/>
<rect x="1018.48" y="1886.21" width="47.17" height="36.17" fill="#febba6"/>
<rect x="1065.65" y="1886.21" width="47.17" height="36.17" fill="#fdaf98"/>
<rect x="1112.82" y="1886.21" width="47.17" height="36.17" fill="#fecaba"/>
<rect x="829.82" y="1922.38" width="47.17" height="36.17" fill="#fec1ae"/>
<rect x="876.98" y="1922.38" width="47.17" height="36.17" fill="#febba6"/>
<rect x="924.15" y="1922.38" width="47.17" height="36.17" fill="#fda891"/>
<rect x="971.32" y="1922.38" width="47.17" height="36.17" fill="#fdb29b"/>
<rect x="1018.48" y="1922.38" width="47.17" height="36.17" fill="#fdb8a3"/>
<rect x="1065.65" y="1922.38" width="47.17" height="36.17" fill="#fda086"/>
<rect x="1112.82" y="1922.38" width="47.17" height="36.17" fill="#fda28a"/>
<rect x="829.82" y="1958.55" width="47.17" height="36.17" fill="#fecaba"/>
<rect x="876.98" y="1958.55" width="47.17" height="36.17" fill="#febba6"/>
<rect x="924.15" y="1958.55" width="47.17" height="36.17" fill="#febba6"/>
<rect x="971.32" y="1958.55" width="47.17" height="36.17" fill="#fdb29b"/>
<rect x="1018.48" y="1958.55" width="47.17" height="36.17" fill="#fd9a80"/>
<rect x="1065.65" y="1958.55" width="47.17" height="36.17" fill="#febeaa"/>
<rect x="1112.82" y="1958.55" width="47.17" height="36.17" fill="#fed9cd"/>
<rect x="829.82" y="1994.72" width="47.17" height="36.17" fill="#fed7c9"/>
<rect x="876.98" y="1994.72" width="47.17" height="36.17" fill="#fdb5a0"/>
<rect x="924.15" y="1994.72" width="47.17" height="36.17" fill="#fd9379"/>
<rect x="971.32" y="1994.72" width="47.17" height="36.17" fill="#fd8569"/>
<rect x="1018.48" y="1994.72" width="47.17" height="36.17" fill="#fdaf98"/>
<rect x="1065.65" y="1994.72" width="47.17" height="36.17" fill="#febba6"/>
<rect x="1112.82" y="1994.72" width="47.17" height="36.17" fill="#fecaba"/>
<rect x="829.82" y="2030.89" width="47.17" height="36.17" fill="#fecaba"/>
<rect x="876.98" y="2030.89" width="47.17" height="36.17" fill="#fdb5a0"/>
<rect x="924.15" y="2030.89" width="47.17" height="36.17" fill="#fda891"/>
<rect x="971.32" y="2030.89" width="47.17" height="36.17" fill="#fdac94"/>
<rect x="1018.48" y="2030.89" width="47.17" height="36.17" fill="#febba6"/>
<rect x="1065.65" y="2030.89" width="47.17" height="36.17" fill="#fdaf98"/>
<rect x="1112.82" y="2030.89" width="47.17" height="36.17" fill="#fed7c9"/>
<rect x="829.82" y="2067.06" width="47.17" height="36.17" fill="#fecaba"/>
<rect x="876.98" y="2067.06" width="47.17" height="36.17" fill="#fec1ae"/>
<rect x="924.15" y="2067.06" width="47.17" height="36.17" fill="#fdaf98"/>
<rect x="971.32" y="2067.06" width="47.17" height="36.17" fill="#fecdbd"/>
<rect x="1018.48" y="2067.06" width="47.17" height="36.17" fill="#fec1ae"/>
<rect x="1065.65" y="2067.06" width="47.17" height="36.17" fill="#fec1ae"/>
<rect x="1112.82" y="2067.06" width="47.17" height="36.17" fill="#fed9cd"/>
<rect x="829.82" y="2103.23" width="47.17" height="36.17" fill="#fed0c1"/>
<rect x="876.98" y="2103.23" width="47.17" height="36.17" fill="#fda891"/>
<rect x="924.15" y="2103.23" width="47.17" height="36.17" fill="#fecdbd"/>
<rect x="971.32" y="2103.23" width="47.17" height="36.17" fill="#fdb5a0"/>
<rect x="1018.48" y="2103.23" width="47.17" height="36.17" fill="#fee0d5"/>
<rect x="1065.65" y="2103.23" width="47.17" height="36.17" fill="#febba6"/>
<rect x="1112.82" y="2103.23" width="47.17" height="36.17" fill="#fed7c9"/>
<rect x="829.82" y="2139.4" width="47.17" height="36.17" fill="#fed0c1"/>
<rect x="876.98" y="2139.4" width="47.17" height="36.17" fill="#fed9cd"/>
<rect x="924.15" y="2139.4" width="47.17" height="36.17" fill="#fed3c6"/>
<rect x="971.32" y="2139.4" width="47.17" height="36.17" fill="#febba6"/>
<rect x="1018.48" y="2139.4" width="47.17" height="36.17" fill="#fdb5a0"/>
<rect x="1065.65" y="2139.4" width="47.17" height="36.17" fill="#fee6de"/>
<rect x="1112.82" y="2139.4" width="47.17" height="36.17" fill="#febba6"/>
<rect x="829.82" y="2175.57" width="47.17" height="36.17" fill="#fecdbd"/>
<rect x="876.98" y="2175.57" width="47.17" height="36.17" fill="#fec7b5"/>
<rect x="924.15" y="2175.57" width="47.17" height="36.17" fill="#fed3c6"/>
<rect x="971.32" y="2175.57" width="47.17" height="36.17" fill="#fecdbd"/>
<rect x="1018.48" y="2175.57" width="47.17" height="36.17" fill="#fecaba"/>
<rect x="1065.65" y="2175.57" width="47.17" height="36.17" fill="#fed9cd"/>
<rect x="1112.82" y="2175.57" width="47.17" height="36.17" fill="#febba6"/>
<rect x="829.82" y="2211.74" width="47.17" height="36.17" fill="#fec4b2"/>
<rect x="876.98" y="2211.74" width="47.17" height="36.17" fill="#fec4b2"/>
<rect x="924.15" y="2211.74" width="47.17" height="36.17" fill="#fed0c1"/>
<rect x="971.32" y="2211.74" width="47.17" height="36.17" fill="#febba6"/>
<rect x="1018.48" y="2211.74" width="47.17" height="36.17" fill="#fed7c9"/>
<rect x="1065.65" y="2211.74" width="47.17" height="36.17" fill="#febba6"/>
<rect x="1112.82" y="2211.74" width="47.17" height="36.17" fill="#fed0c1"/>
<rect x="829.82" y="2247.91" width="47.17" height="36.17" fill="#fecaba"/>
<rect x="876.98" y="2247.91" width="47.17" height="36.17" fill="#fecaba"/>
<rect x="924.15" y="2247.91" width="47.17" height="36.17" fill="#fdb5a0"/>
<rect x="971.32" y="2247.91" width="47.17" height="36.17" fill="#fec4b2"/>
<rect x="1018.48" y="2247.91" width="47.17" height="36.17" fill="#fdaf98"/>
<rect x="1065.65" y="2247.91" width="47.17" height="36.17" fill="#febba6"/>
<rect x="1112.82" y="2247.91" width="47.17" height="36.17" fill="#fdb29b"/>
<rect x="829.82" y="2284.07" width="47.17" height="36.17" fill="#fdb5a0"/>
<rect x="876.98" y="2284.07" width="47.17" height="36.17" fill="#febba6"/>
<rect x="924.15" y="2284.07" width="47.17" height="36.17" fill="#fec1ae"/>
<rect x="971.32" y="2284.07" width="47.17" height="36.17" fill="#fdaf98"/>
<rect x="1018.48" y="2284.07" width="47.17" height="36.17" fill="#fec4b2"/>
<rect x="1065.65" y="2284.07" width="47.17" height="36.17" fill="#fec4b2"/>
<rect x="1112.82" y="2284.07" width="47.17" height="36.17" fill="#fecdbd"/>
<rect x="829.82" y="2320.24" width="47.17" height="36.17" fill="#fec7b5"/>
<rect x="876.98" y="2320.24" width="47.17" height="36.17" fill="#fed3c6"/>
<rect x="924.15" y="2320.24" width="47.17" height="36.17" fill="#fdac94"/>
<rect x="971.32" y="2320.24" width="47.17" height="36.17" fill="#fec1ae"/>
<rect x="1018.48" y="2320.24" width="47.17" height="36.17" fill="#fdb8a3"/>
<rect x="1065.65" y="2320.24" width="47.17" height="36.17" fill="#fec1ae"/>
<rect x="1112.82" y="2320.24" width="47.17" height="36.17" fill="#fec7b5"/>
<rect x="829.82" y="2356.41" width="47.17" height="36.17" fill="#fdb29b"/>
<rect x="876.98" y="2356.41" width="47.17" height="36.17" fill="#fdaf98"/>
<rect x="924.15" y="2356.41" width="47.17" height="36.17" fill="#fed0c1"/>
<rect x="971.32" y="2356.41" width="47.17" height="36.17" fill="#fed3c6"/>
<rect x="1018.48" y="2356.41" width="47.17" height="36.17" fill="#fdb8a3"/>
<rect x="1065.65" y="2356.41" width="47.17" height="36.17" fill="#fdb5a0"/>
<rect x="1112.82" y="2356.41" width="47.17" height="36.17" fill="#fdaf98"/>
</g>
<g font-size="14.6" text-anchor="middle">
<text y="1548.59"><tspan x="853.4">0.02</tspan><tspan x="900.57">0.01</tspan><tspan x="947.73">0.01</tspan><tspan x="994.9">0.01</tspan><tspan x="1042.07">0.02</tspan><tspan x="1089.23">0.01</tspan><tspan x="1136.4">0.01</tspan></text>
<text y="1584.76"><tspan x="853.4">0.02</tspan><tspan x="900.57">0.01</tspan><tspan x="947.73">0.02</tspan><tspan x="994.9">0.01</tspan><tspan x="1042.07">0.02</tspan><tspan x="1089.23">0.01</tspan><tspan x="1136.4">0.01</tspan></text>
<text y="1620.93"><tspan x="853.4">0.02</tspan><tspan x="900.57">0.01</tspan><tspan x="947.73">0.01</tspan><tspan x="994.9">0.02</tspan><tspan x="1042.07">0.01</tspan><tspan x="1089.23">0.01</tspan><tspan x="1136.4">0.01</tspan></text>
<text y="1657.1"><tspan x="853.4">0.01</tspan><tspan x="900.57">0.01</tspan><tspan x="947.73">0.02</tspan><tspan x="994.9">0.01</tspan><tspan x="1042.07">0.02</tspan><tspan x="1089.23">0.01</tspan><tspan x="1136.4">0</tspan></text>
<text y="1693.27"><tspan x="853.4">0.01</tspan><tspan x="900.57">0.01</tspan><tspan x="947.73">0.01</tspan><tspan x="994.9">0.01</tspan><tspan x="1042.07">0.01</tspan><tspan x="1089.23">0.01</tspan><tspan x="1136.4">0.01</tspan></text>
<text y="1729.43"><tspan x="853.4">0.01</tspan><tspan x="900.57">0.01</tspan><tspan x="947.73">0.01</tspan><tspan x="994.9">0.01</tspan><tspan x="1042.07">0.02</tspan><tspan x="1089.23">0.02</tspan><tspan x="1136.4">0.01</tspan></text>
<text y="1765.6"><tspan x="853.4">0.01</tspan><tspan x="900.57">0.02</tspan><tspan x="947.73">0.02</tspan><tspan x="994.9">0.02</tspan><tspan x="1042.07">0.02</tspan><tspan x="1089.23">0.02</tspan><tspan x="1136.4">0.01</tspan></text>
<text y="1801.77"><tspan x="853.4">0.01</tspan><tspan x="900.57">0.02</tspan><tspan x="947.73">0.02</tspan><tspan x="994.9">0.02</tspan><tspan x="1042.07">0.02</tspan><tspan x="1089.23">0.02</tspan><tspan x="1136.4">0.01</tspan></text>
<text y="1837.94"><tspan x="853.4">0.01</tspan><tspan x="900.57">0.02</tspan><tspan x="947.73">0.02</tspan><tspan x="994.9">0.02</tspan><tspan x="1042.07">0.01</tspan><tspan x="1089.23">0.02</tspan><tspan x="1136.4">0.02</tspan></text>
<text y="1874.11"><tspan x="853.4">0.01</tspan><tspan x="900.57">0.02</tspan><tspan x="947.73">0.01</tspan><tspan x="994.9">0.02</tspan><tspan x="1042.07">0.01</tspan><tspan x="1089.23">0.02</tspan><tspan x="1136.4">0.01</tspan></text>
<text y="1910.28"><tspan x="853.4">0.02</tspan><tspan x="900.57">0.02</tspan><tspan x="947.73">0.01</tspan><tspan x="994.9">0.01</tspan><tspan x="1042.07">0.01</tspan><tspan x="1089.23">0.02</tspan><tspan x="1136.4">0.01</tspan></text>
<text y="1946.45"><tspan x="853.4">0.01</tspan><tspan x="900.57">0.01</tspan><tspan x="947.73">0.02</tspan><tspan x="994.9">0.02</tspan><tspan x="1042.07">0.01</tspan><tspan x="1089.23">0.02</tspan><tspan x="1136.4">0.02</tspan></text>
<text y="1982.62"><tspan x="853.4">0.01</tspan><tspan x="900.57">0.01</tspan><tspan x="947.73">0.01</tspan><tspan x="994.9">0.02</tspan><tspan x="1042.07">0.02</tspan><tspan x="1089.23">0.01</tspan><tspan x="1136.4">0.01</tspan></text>
<text y="2018.79"><tspan x="853.4">0.01</tspan><tspan x="900.57">0.02</tspan><tspan x="947.73">0.02</tspan><tspan x="994.9">0.03</tspan><tspan x="1042.07">0.02</tspan><tspan x="1089.23">0.01</tspan><tspan x="1136.4">0.01</tspan></text>
<text y="2054.96"><tspan x="853.4">0.01</tspan><tspan x="900.57">0.02</tspan><tspan x="947.73">0.02</tspan><tspan x="994.9">0.02</tspan><tspan x="1042.07">0.01</tspan><tspan x="1089.23">0.02</tspan><tspan x="1136.4">0.01</tspan></text>
<text y="2091.13"><tspan x="853.4">0.01</tspan><tspan x="900.57">0.01</tspan><tspan x="947.73">0.02</tspan><tspan x="994.9">0.01</tspan><tspan x="1042.07">0.01</tspan><tspan x="1089.23">0.01</tspan><tspan x="1136.4">0.01</tspan></text>
<text y="2127.3"><tspan x="853.4">0.01</tspan><tspan x="900.57">0.02</tspan><tspan x="947.73">0.01</tspan><tspan x="994.9">0.02</tspan><tspan x="1042.07">0.01</tspan><tspan x="1089.23">0.01</tspan><tspan x="1136.4">0.01</tspan></text>
<text y="2163.47"><tspan x="853.4">0.01</tspan><tspan x="900.57">0.01</tspan><tspan x="947.73">0.01</tspan><tspan x="994.9">0.01</tspan><tspan x="1042.07">0.02</tspan><tspan x="1089.23">0.01</tspan><tspan x="1136.4">0.01</tspan></text>
<text y="2199.64"><tspan x="853.4">0.01</tspan><tspan x="900.57">0.01</tspan><tspan x="947.73">0.01</tspan><tspan x="994.9">0.01</tspan><tspan x="1042.07">0.01</tspan><tspan x="1089.23">0.01</tspan><tspan x="1136.4">0.01</tspan></text>
<text y="2235.81"><tspan x="853.4">0.01</tspan><tspan x="900.57">0.01</tspan><tspan x="947.73">0.01</tspan><tspan x="994.9">0.01</tspan><tspan x="1042.07">0.01</tspan><tspan x="1089.23">0.01</tspan><tspan x="1136.4">0.01</tspan></text>
<text y="2271.98"><tspan x="853.4">0.01</tspan><tspan x="900.57">0.01</tspan><tspan x="947.73">0.02</tspan><tspan x="994.9">0.01</tspan><tspan x="1042.07">0.02</tspan><tspan x="1089.23">0.01</tspan><tspan x="1136.4">0.02</tspan></text>
<text y="2308.15"><tspan x="853.4">0.02</tspan><tspan x="900.57">0.01</tspan><tspan x="947.73">0.01</tspan><tspan x="994.9">0.02</tspan><tspan x="1042.07">0.01</tspan><tspan x="1089.23">0.01</tspan><tspan x="1136.4">0.01</tspan></text>
<text y="2344.31"><tspan x="853.4">0.01</tspan><tspan x="900.57">0.01</tspan><tspan x="947.73">0.02</tspan><tspan x="994.9">0.01</tspan><tspan x="1042.07">0.01</tspan><tspan x="1089.23">0.01</tspan><tspan x="1136.4">0.01</tspan></text>
<text y="2380.48"><tspan x="853.4">0.02</tspan><tspan x="900.57">0.02</tspan><tspan x="947.73">0.01</tspan><tspan x="994.9">0.01</tspan><tspan x="1042.07">0.01</tspan><tspan x="1089.23">0.02</tspan><tspan x="1136.4">0.02</tspan></text>
</g>
<rect x="825.9" y="1520.9" width="338" height="874.5" fill="none" stroke="#000" stroke-width="1.6"/>
<text transform="translate(853.4 2474) rotate(-45)" font-size="27.73" text-anchor="middle" dy="9.9">Sunday</text>
<text transform="translate(900.57 2474) rotate(-45)" font-size="27.73" text-anchor="middle" dy="9.9">Monday</text>
<text transform="translate(947.73 2474) rotate(-45)" font-size="27.73" text-anchor="middle" dy="9.9">Tuesday</text>
<text transform="translate(994.9 2474) rotate(-45)" font-size="27.73" text-anchor="middle" dy="9.9">Wednesday</text>
<text transform="translate(1042.07 2474) rotate(-45)" font-size="27.73" text-anchor="middle" dy="9.9">Thursday</text>
<text transform="translate(1089.23 2474) rotate(-45)" font-size="27.73" text-anchor="middle" dy="9.9">Friday</text>
<text transform="translate(1136.4 2474) rotate(-45)" font-size="27.73" text-anchor="middle" dy="9.9">Saturday</text>
<path d="M853.4 2396.2v8.6M900.57 2396.2v8.6M947.73 2396.2v8.6M994.9 2396.2v8.6M1042.07 2396.2v8.6M1089.23 2396.2v8.6M1136.4 2396.2v8.6" stroke="#000" stroke-width="2" fill="none"/>
<rect x="1182.2" y="1467.5" width="339.6" height="53.4" fill="#000"/>
<text x="1352" y="1504.7" font-size="27.73" text-anchor="middle" font-weight="normal" fill="#fff">Queens</text>
<path d="M1210.5 1520.9V2396.2M1257.67 1520.9V2396.2M1304.83 1520.9V2396.2M1352 1520.9V2396.2M1399.17 1520.9V2396.2M1446.33 1520.9V2396.2M1493.5 1520.9V2396.2M1182.2 1542.6H1521.8M1182.2 1578.77H1521.8M1182.2 1614.94H1521.8M1182.2 1651.11H1521.8M1182.2 1687.28H1521.8M1182.2 1723.45H1521.8M1182.2 1759.62H1521.8M1182.2 1795.79H1521.8M1182.2 1831.96H1521.8M1182.2 1868.13H1521.8M1182.2 1904.3H1521.8M1182.2 1940.47H1521.8M1182.2 1976.63H1521.8M1182.2 2012.8H1521.8M1182.2 2048.97H1521.8M1182.2 2085.14H1521.8M1182.2 2121.31H1521.8M1182.2 2157.48H1521.8M1182.2 2193.65H1521.8M1182.2 2229.82H1521.8M1182.2 2265.99H1521.8M1182.2 2302.16H1521.8M1182.2 2338.33H1521.8M1182.2 2374.5H1521.8" stroke="#000" stroke-opacity="0.45" stroke-width="0.8" fill="none"/>
<g stroke="#000" stroke-opacity="0.62" stroke-width="0.7">
<rect x="1186.92" y="1524.52" width="47.17" height="36.17" fill="#febca7"/>
<rect x="1234.08" y="1524.52" width="47.17" height="36.17" fill="#fdb8a2"/>
<rect x="1281.25" y="1524.52" width="47.17" height="36.17" fill="#fecbba"/>
<rect x="1328.42" y="1524.52" width="47.17" height="36.17" fill="#fdb8a2"/>
<rect x="1375.58" y="1524.52" width="47.17" height="36.17" fill="#fec5b2"/>
<rect x="1422.75" y="1524.52" width="47.17" height="36.17" fill="#fed1c2"/>
<rect x="1469.92" y="1524.52" width="47.17" height="36.17" fill="#fedcd0"/>
<rect x="1186.92" y="1560.69" width="47.17" height="36.17" fill="#fdb8a2"/>
<rect x="1234.08" y="1560.69" width="47.17" height="36.17" fill="#fecec0"/>
<rect x="1281.25" y="1560.69" width="47.17" height="36.17" fill="#fdb29b"/>
<rect x="1328.42" y="1560.69" width="47.17" height="36.17" fill="#febca7"/>
<rect x="1375.58" y="1560.69" width="47.17" height="36.17" fill="#fecec0"/>
<rect x="1422.75" y="1560.69" width="47.17" height="36.17" fill="#fee2d9"/>
<rect x="1469.92" y="1560.69" width="47.17" height="36.17" fill="#fec8b7"/>
<rect x="1186.92" y="1596.86" width="47.17" height="36.17" fill="#fdaf98"/>
<rect x="1234.08" y="1596.86" width="47.17" height="36.17" fill="#febca7"/>
<rect x="1281.25" y="1596.86" width="47.17" height="36.17" fill="#fec8b7"/>
<rect x="1328.42" y="1596.86" width="47.17" height="36.17" fill="#fec5b2"/>
<rect x="1375.58" y="1596.86" width="47.17" height="36.17" fill="#fee1d6"/>
<rect x="1422.75" y="1596.86" width="47.17" height="36.17" fill="#fdb5a0"/>
<rect x="1469.92" y="1596.86" width="47.17" height="36.17" fill="#fec8b7"/>
<rect x="1186.92" y="1633.03" width="47.17" height="36.17" fill="#fec8b7"/>
<rect x="1234.08" y="1633.03" width="47.17" height="36.17" fill="#fdb8a2"/>
<rect x="1281.25" y="1633.03" width="47.17" height="36.17" fill="#fecbba"/>
<rect x="1328.42" y="1633.03" width="47.17" height="36.17" fill="#fed6c8"/>
<rect x="1375.58" y="1633.03" width="47.17" height="36.17" fill="#fec8b7"/>
<rect x="1422.75" y="1633.03" width="47.17" height="36.17" fill="#fecec0"/>
<rect x="1469.92" y="1633.03" width="47.17" height="36.17" fill="#fecec0"/>
<rect x="1186.92" y="1669.19" width="47.17" height="36.17" fill="#fec0ad"/>
<rect x="1234.08" y="1669.19" width="47.17" height="36.17" fill="#fec6b5"/>
<rect x="1281.25" y="1669.19" width="47.17" height="36.17" fill="#fecdbd"/>
<rect x="1328.42" y="1669.19" width="47.17" height="36.17" fill="#fed1c2"/>
<rect x="1375.58" y="1669.19" width="47.17" height="36.17" fill="#fec2af"/>
<rect x="1422.75" y="1669.19" width="47.17" height="36.17" fill="#fed1c2"/>
<rect x="1469.92" y="1669.19" width="47.17" height="36.17" fill="#fdaf98"/>
<rect x="1186.92" y="1705.36" width="47.17" height="36.17" fill="#fed7ca"/>
<rect x="1234.08" y="1705.36" width="47.17" height="36.17" fill="#febaa5"/>
<rect x="1281.25" y="1705.36" width="47.17" height="36.17" fill="#fed1c2"/>
<rect x="1328.42" y="1705.36" width="47.17" height="36.17" fill="#fec5b2"/>
<rect x="1375.58" y="1705.36" width="47.17" height="36.17" fill="#fec0ad"/>
<rect x="1422.75" y="1705.36" width="47.17" height="36.17" fill="#febeaa"/>
<rect x="1469.92" y="1705.36" width="47.17" height="36.17" fill="#febeaa"/>
<rect x="1186.92" y="1741.53" width="47.17" height="36.17" fill="#fed7ca"/>
<rect x="1234.08" y="1741.53" width="47.17" height="36.17" fill="#fed1c2"/>
<rect x="1281.25" y="1741.53" width="47.17" height="36.17" fill="#febeaa"/>
<rect x="1328.42" y="1741.53" width="47.17" height="36.17" fill="#febaa5"/>
<rect x="1375.58" y="1741.53" width="47.17" height="36.17" fill="#fec0ad"/>
<rect x="1422.75" y="1741.53" width="47.17" height="36.17" fill="#febeaa"/>
<rect x="1469.92" y="1741.53" width="47.17" height="36.17" fill="#fdb5a0"/>
<rect x="1186.92" y="1777.7" width="47.17" height="36.17" fill="#fed1c2"/>
<rect x="1234.08" y="1777.7" width="47.17" height="36.17" fill="#fed3c6"/>
<rect x="1281.25" y="1777.7" width="47.17" height="36.17" fill="#fecec0"/>
<rect x="1328.42" y="1777.7" width="47.17" height="36.17" fill="#fec5b2"/>
<rect x="1375.58" y="1777.7" width="47.17" height="36.17" fill="#febaa5"/>
<rect x="1422.75" y="1777.7" width="47.17" height="36.17" fill="#febaa5"/>
<rect x="1469.92" y="1777.7" width="47.17" height="36.17" fill="#fec8b7"/>
<rect x="1186.92" y="1813.87" width="47.17" height="36.17" fill="#fed1c2"/>
<rect x="1234.08" y="1813.87" width="47.17" height="36.17" fill="#fda891"/>
<rect x="1281.25" y="1813.87" width="47.17" height="36.17" fill="#fec2af"/>
<rect x="1328.42" y="1813.87" width="47.17" height="36.17" fill="#fdaf98"/>
<rect x="1375.58" y="1813.87" width="47.17" height="36.17" fill="#fec0ad"/>
<rect x="1422.75" y="1813.87" width="47.17" height="36.17" fill="#fdab93"/>
<rect x="1469.92" y="1813.87" width="47.17" height="36.17" fill="#fedcd0"/>
<rect x="1186.92" y="1850.04" width="47.17" height="36.17" fill="#fec2af"/>
<rect x="1234.08" y="1850.04" width="47.17" height="36.17" fill="#febca7"/>
<rect x="1281.25" y="1850.04" width="47.17" height="36.17" fill="#fed7ca"/>
<rect x="1328.42" y="1850.04" width="47.17" height="36.17" fill="#fecdbd"/>
<rect x="1375.58" y="1850.04" width="47.17" height="36.17" fill="#fec8b7"/>
<rect x="1422.75" y="1850.04" width="47.17" height="36.17" fill="#fed1c2"/>
<rect x="1469.92" y="1850.04" width="47.17" height="36.17" fill="#fed1c2"/>
<rect x="1186.92" y="1886.21" width="47.17" height="36.17" fill="#fecec0"/>
<rect x="1234.08" y="1886.21" width="47.17" height="36.17" fill="#fed1c2"/>
<rect x="1281.25" y="1886.21" width="47.17" height="36.17" fill="#febeaa"/>
<rect x="1328.42" y="1886.21" width="47.17" height="36.17" fill="#fdb39d"/>
<rect x="1375.58" y="1886.21" width="47.17" height="36.17" fill="#febeaa"/>
<rect x="1422.75" y="1886.21" width="47.17" height="36.17" fill="#fec5b2"/>
<rect x="1469.92" y="1886.21" width="47.17" height="36.17" fill="#fec6b5"/>
<rect x="1186.92" y="1922.38" width="47.17" height="36.17" fill="#fecdbd"/>
<rect x="1234.08" y="1922.38" width="47.17" height="36.17" fill="#fecdbd"/>
<rect x="1281.25" y="1922.38" width="47.17" height="36.17" fill="#fed6c8"/>
<rect x="1328.42" y="1922.38" width="47.17" height="36.17" fill="#fecec0"/>
<rect x="1375.58" y="1922.38" width="47.17" height="36.17" fill="#fec5b2"/>
<rect x="1422.75" y="1922.38" width="47.17" height="36.17" fill="#febca7"/>
<rect x="1469.92" y="1922.38" width="47.17" height="36.17" fill="#fec8b7"/>
<rect x="1186.92" y="1958.55" width="47.17" height="36.17" fill="#fedcd0"/>
<rect x="1234.08" y="1958.55" width="47.17" height="36.17" fill="#fec6b5"/>
<rect x="1281.25" y="1958.55" width="47.17" height="36.17" fill="#fdb8a2"/>
<rect x="1328.42" y="1958.55" width="47.17" height="36.17" fill="#fec5b2"/>
<rect x="1375.58" y="1958.55" width="47.17" height="36.17" fill="#fec8b7"/>
<rect x="1422.75" y="1958.55" width="47.17" height="36.17" fill="#fec5b2"/>
<rect x="1469.92" y="1958.55" width="47.17" height="36.17" fill="#fecbba"/>
<rect x="1186.92" y="1994.72" width="47.17" height="36.17" fill="#fed3c6"/>
<rect x="1234.08" y="1994.72" width="47.17" height="36.17" fill="#fedcd0"/>
<rect x="1281.25" y="1994.72" width="47.17" height="36.17" fill="#fedcd0"/>
<rect x="1328.42" y="1994.72" width="47.17" height="36.17" fill="#fec2af"/>
<rect x="1375.58" y="1994.72" width="47.17" height="36.17" fill="#fecec0"/>
<rect x="1422.75" y="1994.72" width="47.17" height="36.17" fill="#fec5b2"/>
<rect x="1469.92" y="1994.72" width="47.17" height="36.17" fill="#fecbba"/>
<rect x="1186.92" y="2030.89" width="47.17" height="36.17" fill="#fec6b5"/>
<rect x="1234.08" y="2030.89" width="47.17" height="36.17" fill="#fecbba"/>
<rect x="1281.25" y="2030.89" width="47.17" height="36.17" fill="#febca7"/>
<rect x="1328.42" y="2030.89" width="47.17" height="36.17" fill="#fecbba"/>
<rect x="1375.58" y="2030.89" width="47.17" height="36.17" fill="#feded3"/>
<rect x="1422.75" y="2030.89" width="47.17" height="36.17" fill="#febca7"/>
<rect x="1469.92" y="2030.89" width="47.17" height="36.17" fill="#fecec0"/>
<rect x="1186.92" y="2067.06" width="47.17" height="36.17" fill="#fed6c8"/>
<rect x="1234.08" y="2067.06" width="47.17" height="36.17" fill="#febaa5"/>
<rect x="1281.25" y="2067.06" width="47.17" height="36.17" fill="#febeaa"/>
<rect x="1328.42" y="2067.06" width="47.17" height="36.17" fill="#fec0ad"/>
<rect x="1375.58" y="2067.06" width="47.17" height="36.17" fill="#febaa5"/>
<rect x="1422.75" y="2067.06" width="47.17" height="36.17" fill="#fedcd0"/>
<rect x="1469.92" y="2067.06" width="47.17" height="36.17" fill="#fec5b2"/>
<rect x="1186.92" y="2103.23" width="47.17" height="36.17" fill="#fed6c8"/>
<rect x="1234.08" y="2103.23" width="47.17" height="36.17" fill="#fdb5a0"/>
<rect x="1281.25" y="2103.23" width="47.17" height="36.17" fill="#fecec0"/>
<rect x="1328.42" y="2103.23" width="47.17" height="36.17" fill="#fec8b7"/>
<rect x="1375.58" y="2103.23" width="47.17" height="36.17" fill="#fed3c6"/>
<rect x="1422.75" y="2103.23" width="47.17" height="36.17" fill="#febaa5"/>
<rect x="1469.92" y="2103.23" width="47.17" height="36.17" fill="#fecbba"/>
<rect x="1186.92" y="2139.4" width="47.17" height="36.17" fill="#febeaa"/>
<rect x="1234.08" y="2139.4" width="47.17" height="36.17" fill="#fec5b2"/>
<rect x="1281.25" y="2139.4" width="47.17" height="36.17" fill="#fed9ce"/>
<rect x="1328.42" y="2139.4" width="47.17" height="36.17" fill="#fec8b7"/>
<rect x="1375.58" y="2139.4" width="47.17" height="36.17" fill="#fed7ca"/>
<rect x="1422.75" y="2139.4" width="47.17" height="36.17" fill="#fed7ca"/>
<rect x="1469.92" y="2139.4" width="47.17" height="36.17" fill="#fecec0"/>
<rect x="1186.92" y="2175.57" width="47.17" height="36.17" fill="#fdb8a2"/>
<rect x="1234.08" y="2175.57" width="47.17" height="36.17" fill="#fec5b2"/>
<rect x="1281.25" y="2175.57" width="47.17" height="36.17" fill="#fec2af"/>
<rect x="1328.42" y="2175.57" width="47.17" height="36.17" fill="#fed3c6"/>
<rect x="1375.58" y="2175.57" width="47.17" height="36.17" fill="#fec2af"/>
<rect x="1422.75" y="2175.57" width="47.17" height="36.17" fill="#fecdbd"/>
<rect x="1469.92" y="2175.57" width="47.17" height="36.17" fill="#fee5db"/>
<rect x="1186.92" y="2211.74" width="47.17" height="36.17" fill="#fecdbd"/>
<rect x="1234.08" y="2211.74" width="47.17" height="36.17" fill="#fecdbd"/>
<rect x="1281.25" y="2211.74" width="47.17" height="36.17" fill="#fec6b5"/>
<rect x="1328.42" y="2211.74" width="47.17" height="36.17" fill="#fed3c6"/>
<rect x="1375.58" y="2211.74" width="47.17" height="36.17" fill="#fec6b5"/>
<rect x="1422.75" y="2211.74" width="47.17" height="36.17" fill="#fecdbd"/>
<rect x="1469.92" y="2211.74" width="47.17" height="36.17" fill="#fec5b2"/>
<rect x="1186.92" y="2247.91" width="47.17" height="36.17" fill="#fecbba"/>
<rect x="1234.08" y="2247.91" width="47.17" height="36.17" fill="#febeaa"/>
<rect x="1281.25" y="2247.91" width="47.17" height="36.17" fill="#fed3c6"/>
<rect x="1328.42" y="2247.91" width="47.17" height="36.17" fill="#fec0ad"/>
<rect x="1375.58" y="2247.91" width="47.17" height="36.17" fill="#fecdbd"/>
<rect x="1422.75" y="2247.91" width="47.17" height="36.17" fill="#fecdbd"/>
<rect x="1469.92" y="2247.91" width="47.17" height="36.17" fill="#fec8b7"/>
<rect x="1186.92" y="2284.07" width="47.17" height="36.17" fill="#fec8b7"/>
<rect x="1234.08" y="2284.07" width="47.17" height="36.17" fill="#fed3c6"/>
<rect x="1281.25" y="2284.07" width="47.17" height="36.17" fill="#fed7ca"/>
<rect x="1328.42" y="2284.07" width="47.17" height="36.17" fill="#fecec0"/>
<rect x="1375.58" y="2284.07" width="47.17" height="36.17" fill="#fecec0"/>
<rect x="1422.75" y="2284.07" width="47.17" height="36.17" fill="#fecdbd"/>
<rect x="1469.92" y="2284.07" width="47.17" height="36.17" fill="#fec0ad"/>
<rect x="1186.92" y="2320.24" width="47.17" height="36.17" fill="#fecdbd"/>
<rect x="1234.08" y="2320.24" width="47.17" height="36.17" fill="#fecec0"/>
<rect x="1281.25" y="2320.24" width="47.17" height="36.17" fill="#fed7ca"/>
<rect x="1328.42" y="2320.24" width="47.17" height="36.17" fill="#fed3c6"/>
<rect x="1375.58" y="2320.24" width="47.17" height="36.17" fill="#fecbba"/>
<rect x="1422.75" y="2320.24" width="47.17" height="36.17" fill="#fecdbd"/>
<rect x="1469.92" y="2320.24" width="47.17" height="36.17" fill="#febca7"/>
<rect x="1186.92" y="2356.41" width="47.17" height="36.17" fill="#fecdbd"/>
<rect x="1234.08" y="2356.41" width="47.17" height="36.17" fill="#fec6b5"/>
<rect x="1281.25" y="2356.41" width="47.17" height="36.17" fill="#febca7"/>
<rect x="1328.42" y="2356.41" width="47.17" height="36.17" fill="#fdb5a0"/>
<rect x="1375.58" y="2356.41" width="47.17" height="36.17" fill="#fecdbd"/>
<rect x="1422.75" y="2356.41" width="47.17" height="36.17" fill="#fec0ad"/>
<rect x="1469.92" y="2356.41" width="47.17" height="36.17" fill="#febeaa"/>
</g>
<g font-size="14.6" text-anchor="middle">
<text y="1548.59"><tspan x="1210.5">0.01</tspan><tspan x="1257.67">0.01</tspan><tspan x="1304.83">0.01</tspan><tspan x="1352">0.01</tspan><tspan x="1399.17">0.01</tspan><tspan x="1446.33">0.01</tspan><tspan x="1493.5">0.01</tspan></text>
<text y="1584.76"><tspan x="1210.5">0.01</tspan><tspan x="1257.67">0.01</tspan><tspan x="1304.83">0.02</tspan><tspan x="1352">0.01</tspan><tspan x="1399.17">0.01</tspan><tspan x="1446.33">0.01</tspan><tspan x="1493.5">0.01</tspan></text>
<text y="1620.93"><tspan x="1210.5">0.02</tspan><tspan x="1257.67">0.01</tspan><tspan x="1304.83">0.01</tspan><tspan x="1352">0.01</tspan><tspan x="1399.17">0.01</tspan><tspan x="1446.33">0.01</tspan><tspan x="1493.5">0.01</tspan></text>
<text y="1657.1"><tspan x="1210.5">0.01</tspan><tspan x="1257.67">0.01</tspan><tspan x="1304.83">0.01</tspan><tspan x="1352">0.01</tspan><tspan x="1399.17">0.01</tspan><tspan x="1446.33">0.01</tspan><tspan x="1493.5">0.01</tspan></text>
<text y="1693.27"><tspan x="1210.5">0.01</tspan><tspan x="1257.67">0.01</tspan><tspan x="1304.83">0.01</tspan><tspan x="1352">0.01</tspan><tspan x="1399.17">0.01</tspan><tspan x="1446.33">0.01</tspan><tspan x="1493.5">0.02</tspan></text>
<text y="1729.43"><tspan x="1210.5">0.01</tspan><tspan x="1257.67">0.01</tspan><tspan x="1304.83">0.01</tspan><tspan x="1352">0.01</tspan><tspan x="1399.17">0.01</tspan><tspan x="1446.33">0.01</tspan><tspan x="1493.5">0.01</tspan></text>
<text y="1765.6"><tspan x="1210.5">0.01</tspan><tspan x="1257.67">0.01</tspan><tspan x="1304.83">0.01</tspan><tspan x="1352">0.01</tspan><tspan x="1399.17">0.01</tspan><tspan x="1446.33">0.01</tspan><tspan x="1493.5">0.01</tspan></text>
<text y="1801.77"><tspan x="1210.5">0.01</tspan><tspan x="1257.67">0.01</tspan><tspan x="1304.83">0.01</tspan><tspan x="1352">0.01</tspan><tspan x="1399.17">0.01</tspan><tspan x="1446.33">0.01</tspan><tspan x="1493.5">0.01</tspan></text>
<text y="1837.94"><tspan x="1210.5">0.01</tspan><tspan x="1257.67">0.02</tspan><tspan x="1304.83">0.01</tspan><tspan x="1352">0.02</tspan><tspan x="1399.17">0.01</tspan><tspan x="1446.33">0.02</tspan><tspan x="1493.5">0.01</tspan></text>
<text y="1874.11"><tspan x="1210.5">0.01</tspan><tspan x="1257.67">0.01</tspan><tspan x="1304.83">0.01</tspan><tspan x="1352">0.01</tspan><tspan x="1399.17">0.01</tspan><tspan x="1446.33">0.01</tspan><tspan x="1493.5">0.01</tspan></text>
<text y="1910.28"><tspan x="1210.5">0.01</tspan><tspan x="1257.67">0.01</tspan><tspan x="1304.83">0.01</tspan><tspan x="1352">0.02</tspan><tspan x="1399.17">0.01</tspan><tspan x="1446.33">0.01</tspan><tspan x="1493.5">0.01</tspan></text>
<text y="1946.45"><tspan x="1210.5">0.01</tspan><tspan x="1257.67">0.01</tspan><tspan x="1304.83">0.01</tspan><tspan x="1352">0.01</tspan><tspan x="1399.17">0.01</tspan><tspan x="1446.33">0.01</tspan><tspan x="1493.5">0.01</tspan></text>
<text y="1982.62"><tspan x="1210.5">0.01</tspan><tspan x="1257.67">0.01</tspan><tspan x="1304.83">0.01</tspan><tspan x="1352">0.01</tspan><tspan x="1399.17">0.01</tspan><tspan x="1446.33">0.01</tspan><tspan x="1493.5">0.01</tspan></text>
<text y="2018.79"><tspan x="1210.5">0.01</tspan><tspan x="1257.67">0.01</tspan><tspan x="1304.83">0.01</tspan><tspan x="1352">0.01</tspan><tspan x="1399.17">0.01</tspan><tspan x="1446.33">0.01</tspan><tspan x="1493.5">0.01</tspan></text>
<text y="2054.96"><tspan x="1210.5">0.01</tspan><tspan x="1257.67">0.01</tspan><tspan x="1304.83">0.01</tspan><tspan x="1352">0.01</tspan><tspan x="1399.17">0.01</tspan><tspan x="1446.33">0.01</tspan><tspan x="1493.5">0.01</tspan></text>
<text y="2091.13"><tspan x="1210.5">0.01</tspan><tspan x="1257.67">0.01</tspan><tspan x="1304.83">0.01</tspan><tspan x="1352">0.01</tspan><tspan x="1399.17">0.01</tspan><tspan x="1446.33">0.01</tspan><tspan x="1493.5">0.01</tspan></text>
<text y="2127.3"><tspan x="1210.5">0.01</tspan><tspan x="1257.67">0.01</tspan><tspan x="1304.83">0.01</tspan><tspan x="1352">0.01</tspan><tspan x="1399.17">0.01</tspan><tspan x="1446.33">0.01</tspan><tspan x="1493.5">0.01</tspan></text>
<text y="2163.47"><tspan x="1210.5">0.01</tspan><tspan x="1257.67">0.01</tspan><tspan x="1304.83">0.01</tspan><tspan x="1352">0.01</tspan><tspan x="1399.17">0.01</tspan><tspan x="1446.33">0.01</tspan><tspan x="1493.5">0.01</tspan></text>
<text y="2199.64"><tspan x="1210.5">0.01</tspan><tspan x="1257.67">0.01</tspan><tspan x="1304.83">0.01</tspan><tspan x="1352">0.01</tspan><tspan x="1399.17">0.01</tspan><tspan x="1446.33">0.01</tspan><tspan x="1493.5">0.01</tspan></text>
<text y="2235.81"><tspan x="1210.5">0.01</tspan><tspan x="1257.67">0.01</tspan><tspan x="1304.83">0.01</tspan><tspan x="1352">0.01</tspan><tspan x="1399.17">0.01</tspan><tspan x="1446.33">0.01</tspan><tspan x="1493.5">0.01</tspan></text>
<text y="2271.98"><tspan x="1210.5">0.01</tspan><tspan x="1257.67">0.01</tspan><tspan x="1304.83">0.01</tspan><tspan x="1352">0.01</tspan><tspan x="1399.17">0.01</tspan><tspan x="1446.33">0.01</tspan><tspan x="1493.5">0.01</tspan></text>
<text y="2308.15"><tspan x="1210.5">0.01</tspan><tspan x="1257.67">0.01</tspan><tspan x="1304.83">0.01</tspan><tspan x="1352">0.01</tspan><tspan x="1399.17">0.01</tspan><tspan x="1446.33">0.01</tspan><tspan x="1493.5">0.01</tspan></text>
<text y="2344.31"><tspan x="1210.5">0.01</tspan><tspan x="1257.67">0.01</tspan><tspan x="1304.83">0.01</tspan><tspan x="1352">0.01</tspan><tspan x="1399.17">0.01</tspan><tspan x="1446.33">0.01</tspan><tspan x="1493.5">0.01</tspan></text>
<text y="2380.48"><tspan x="1210.5">0.01</tspan><tspan x="1257.67">0.01</tspan><tspan x="1304.83">0.01</tspan><tspan x="1352">0.01</tspan><tspan x="1399.17">0.01</tspan><tspan x="1446.33">0.01</tspan><tspan x="1493.5">0.01</tspan></text>
</g>
<rect x="1183" y="1520.9" width="338" height="874.5" fill="none" stroke="#000" stroke-width="1.6"/>
<text transform="translate(1210.5 2474) rotate(-45)" font-size="27.73" text-anchor="middle" dy="9.9">Sunday</text>
<text transform="translate(1257.67 2474) rotate(-45)" font-size="27.73" text-anchor="middle" dy="9.9">Monday</text>
<text transform="translate(1304.83 2474) rotate(-45)" font-size="27.73" text-anchor="middle" dy="9.9">Tuesday</text>
<text transform="translate(1352 2474) rotate(-45)" font-size="27.73" text-anchor="middle" dy="9.9">Wednesday</text>
<text transform="translate(1399.17 2474) rotate(-45)" font-size="27.73" text-anchor="middle" dy="9.9">Thursday</text>
<text transform="translate(1446.33 2474) rotate(-45)" font-size="27.73" text-anchor="middle" dy="9.9">Friday</text>
<text transform="translate(1493.5 2474) rotate(-45)" font-size="27.73" text-anchor="middle" dy="9.9">Saturday</text>
<path d="M1210.5 2396.2v8.6M1257.67 2396.2v8.6M1304.83 2396.2v8.6M1352 2396.2v8.6M1399.17 2396.2v8.6M1446.33 2396.2v8.6M1493.5 2396.2v8.6" stroke="#000" stroke-width="2" fill="none"/>
<rect x="1539.3" y="1467.5" width="339.6" height="53.4" fill="#000"/>
<text x="1709.1" y="1504.7" font-size="27.73" text-anchor="middle" font-weight="normal" fill="#fff">Staten Island</text>
<path d="M1567.6 1520.9V2396.2M1614.77 1520.9V2396.2M1661.93 1520.9V2396.2M1709.1 1520.9V2396.2M1756.27 1520.9V2396.2M1803.43 1520.9V2396.2M1850.6 1520.9V2396.2M1539.3 1542.6H1878.9M1539.3 1578.77H1878.9M1539.3 1614.94H1878.9M1539.3 1651.11H1878.9M1539.3 1687.28H1878.9M1539.3 1723.45H1878.9M1539.3 1759.62H1878.9M1539.3 1795.79H1878.9M1539.3 1831.96H1878.9M1539.3 1868.13H1878.9M1539.3 1904.3H1878.9M1539.3 1940.47H1878.9M1539.3 1976.63H1878.9M1539.3 2012.8H1878.9M1539.3 2048.97H1878.9M1539.3 2085.14H1878.9M1539.3 2121.31H1878.9M1539.3 2157.48H1878.9M1539.3 2193.65H1878.9M1539.3 2229.82H1878.9M1539.3 2265.99H1878.9M1539.3 2302.16H1878.9M1539.3 2338.33H1878.9M1539.3 2374.5H1878.9" stroke="#000" stroke-opacity="0.45" stroke-width="0.8" fill="none"/>
<g stroke="#000" stroke-opacity="0.62" stroke-width="0.7">
<rect x="1544.02" y="1524.52" width="47.17" height="36.17" fill="#fed7c9"/>
<rect x="1591.18" y="1524.52" width="47.17" height="36.17" fill="#fed7c9"/>
<rect x="1638.35" y="1524.52" width="47.17" height="36.17" fill="#fd9176"/>
<rect x="1685.52" y="1524.52" width="47.17" height="36.17" fill="#fed7c9"/>
<rect x="1732.68" y="1524.52" width="47.17" height="36.17" fill="#fdb9a4"/>
<rect x="1779.85" y="1524.52" width="47.17" height="36.17" fill="#fda58d"/>
<rect x="1827.02" y="1524.52" width="47.17" height="36.17" fill="#fee1d6"/>
<rect x="1544.02" y="1560.69" width="47.17" height="36.17" fill="#feccbc"/>
<rect x="1591.18" y="1560.69" width="47.17" height="36.17" fill="#fdaf98"/>
<rect x="1638.35" y="1560.69" width="47.17" height="36.17" fill="#fee1d6"/>
<rect x="1685.52" y="1560.69" width="47.17" height="36.17" fill="#fed7c9"/>
<rect x="1732.68" y="1560.69" width="47.17" height="36.17" fill="#fec2af"/>
<rect x="1779.85" y="1560.69" width="47.17" height="36.17" fill="#feccbc"/>
<rect x="1827.02" y="1560.69" width="47.17" height="36.17" fill="#fec2af"/>
<rect x="1544.02" y="1596.86" width="47.17" height="36.17" fill="#feccbc"/>
<rect x="1591.18" y="1596.86" width="47.17" height="36.17" fill="#fd9176"/>
<rect x="1638.35" y="1596.86" width="47.17" height="36.17" fill="#fec2af"/>
<rect x="1685.52" y="1596.86" width="47.17" height="36.17" fill="#fdb9a4"/>
<rect x="1732.68" y="1596.86" width="47.17" height="36.17" fill="#fec2af"/>
<rect x="1779.85" y="1596.86" width="47.17" height="36.17" fill="#fec2af"/>
<rect x="1827.02" y="1596.86" width="47.17" height="36.17" fill="#fee1d6"/>
<rect x="1544.02" y="1633.03" width="47.17" height="36.17" fill="#feccbc"/>
<rect x="1591.18" y="1633.03" width="47.17" height="36.17" fill="#fda58d"/>
<rect x="1638.35" y="1633.03" width="47.17" height="36.17" fill="#feccbc"/>
<rect x="1685.52" y="1633.03" width="47.17" height="36.17" fill="#fee1d6"/>
<rect x="1732.68" y="1633.03" width="47.17" height="36.17" fill="#feccbc"/>
<rect x="1779.85" y="1633.03" width="47.17" height="36.17" fill="#fee1d6"/>
<rect x="1827.02" y="1633.03" width="47.17" height="36.17" fill="#fed7c9"/>
<rect x="1544.02" y="1669.19" width="47.17" height="36.17" fill="#feccbc"/>
<rect x="1591.18" y="1669.19" width="47.17" height="36.17" fill="#fec2af"/>
<rect x="1638.35" y="1669.19" width="47.17" height="36.17" fill="#ffebe4"/>
<rect x="1685.52" y="1669.19" width="47.17" height="36.17" fill="#feccbc"/>
<rect x="1732.68" y="1669.19" width="47.17" height="36.17" fill="#fec2af"/>
<rect x="1779.85" y="1669.19" width="47.17" height="36.17" fill="#fed7c9"/>
<rect x="1827.02" y="1669.19" width="47.17" height="36.17" fill="#fdb9a4"/>
<rect x="1544.02" y="1705.36" width="47.17" height="36.17" fill="#fdb9a4"/>
<rect x="1591.18" y="1705.36" width="47.17" height="36.17" fill="#fdb9a4"/>
<rect x="1638.35" y="1705.36" width="47.17" height="36.17" fill="#fee1d6"/>
<rect x="1685.52" y="1705.36" width="47.17" height="36.17" fill="#feccbc"/>
<rect x="1732.68" y="1705.36" width="47.17" height="36.17" fill="#fed7c9"/>
<rect x="1779.85" y="1705.36" width="47.17" height="36.17" fill="#fdaf98"/>
<rect x="1827.02" y="1705.36" width="47.17" height="36.17" fill="#fed7c9"/>
<rect x="1544.02" y="1741.53" width="47.17" height="36.17" fill="#feccbc"/>
<rect x="1591.18" y="1741.53" width="47.17" height="36.17" fill="#fdaf98"/>
<rect x="1638.35" y="1741.53" width="47.17" height="36.17" fill="#fec2af"/>
<rect x="1685.52" y="1741.53" width="47.17" height="36.17" fill="#fdaf98"/>
<rect x="1732.68" y="1741.53" width="47.17" height="36.17" fill="#fdb9a4"/>
<rect x="1779.85" y="1741.53" width="47.17" height="36.17" fill="#fee1d6"/>
<rect x="1827.02" y="1741.53" width="47.17" height="36.17" fill="#ffebe4"/>
<rect x="1544.02" y="1777.7" width="47.17" height="36.17" fill="#fed7c9"/>
<rect x="1591.18" y="1777.7" width="47.17" height="36.17" fill="#fdb9a4"/>
<rect x="1638.35" y="1777.7" width="47.17" height="36.17" fill="#fed7c9"/>
<rect x="1685.52" y="1777.7" width="47.17" height="36.17" fill="#fec2af"/>
<rect x="1732.68" y="1777.7" width="47.17" height="36.17" fill="#fed7c9"/>
<rect x="1779.85" y="1777.7" width="47.17" height="36.17" fill="#fed7c9"/>
<rect x="1827.02" y="1777.7" width="47.17" height="36.17" fill="#fee1d6"/>
<rect x="1544.02" y="1813.87" width="47.17" height="36.17" fill="#fdaf98"/>
<rect x="1591.18" y="1813.87" width="47.17" height="36.17" fill="#fff5f1"/>
<rect x="1638.35" y="1813.87" width="47.17" height="36.17" fill="#fec2af"/>
<rect x="1685.52" y="1813.87" width="47.17" height="36.17" fill="#fec2af"/>
<rect x="1732.68" y="1813.87" width="47.17" height="36.17" fill="#fee1d6"/>
<rect x="1779.85" y="1813.87" width="47.17" height="36.17" fill="#fed7c9"/>
<rect x="1827.02" y="1813.87" width="47.17" height="36.17" fill="#fec2af"/>
<rect x="1544.02" y="1850.04" width="47.17" height="36.17" fill="#fee1d6"/>
<rect x="1591.18" y="1850.04" width="47.17" height="36.17" fill="#fee1d6"/>
<rect x="1638.35" y="1850.04" width="47.17" height="36.17" fill="#fdb9a4"/>
<rect x="1685.52" y="1850.04" width="47.17" height="36.17" fill="#feccbc"/>
<rect x="1732.68" y="1850.04" width="47.17" height="36.17" fill="#fed7c9"/>
<rect x="1779.85" y="1850.04" width="47.17" height="36.17" fill="#fec2af"/>
<rect x="1827.02" y="1850.04" width="47.17" height="36.17" fill="#fec2af"/>
<rect x="1544.02" y="1886.21" width="47.17" height="36.17" fill="#fec2af"/>
<rect x="1591.18" y="1886.21" width="47.17" height="36.17" fill="#feccbc"/>
<rect x="1638.35" y="1886.21" width="47.17" height="36.17" fill="#fed7c9"/>
<rect x="1685.52" y="1886.21" width="47.17" height="36.17" fill="#fec2af"/>
<rect x="1732.68" y="1886.21" width="47.17" height="36.17" fill="#fee1d6"/>
<rect x="1779.85" y="1886.21" width="47.17" height="36.17" fill="#fda58d"/>
<rect x="1827.02" y="1886.21" width="47.17" height="36.17" fill="#ffebe4"/>
<rect x="1544.02" y="1922.38" width="47.17" height="36.17" fill="#fed7c9"/>
<rect x="1591.18" y="1922.38" width="47.17" height="36.17" fill="#fdb9a4"/>
<rect x="1638.35" y="1922.38" width="47.17" height="36.17" fill="#feccbc"/>
<rect x="1685.52" y="1922.38" width="47.17" height="36.17" fill="#fed7c9"/>
<rect x="1732.68" y="1922.38" width="47.17" height="36.17" fill="#fec2af"/>
<rect x="1779.85" y="1922.38" width="47.17" height="36.17" fill="#feccbc"/>
<rect x="1827.02" y="1922.38" width="47.17" height="36.17" fill="#fee1d6"/>
<rect x="1544.02" y="1958.55" width="47.17" height="36.17" fill="#ffffff"/>
<rect x="1591.18" y="1958.55" width="47.17" height="36.17" fill="#fdaf98"/>
<rect x="1638.35" y="1958.55" width="47.17" height="36.17" fill="#fec2af"/>
<rect x="1685.52" y="1958.55" width="47.17" height="36.17" fill="#fdb9a4"/>
<rect x="1732.68" y="1958.55" width="47.17" height="36.17" fill="#fed7c9"/>
<rect x="1779.85" y="1958.55" width="47.17" height="36.17" fill="#fdaf98"/>
<rect x="1827.02" y="1958.55" width="47.17" height="36.17" fill="#feccbc"/>
<rect x="1544.02" y="1994.72" width="47.17" height="36.17" fill="#feccbc"/>
<rect x="1591.18" y="1994.72" width="47.17" height="36.17" fill="#feccbc"/>
<rect x="1638.35" y="1994.72" width="47.17" height="36.17" fill="#fdb9a4"/>
<rect x="1685.52" y="1994.72" width="47.17" height="36.17" fill="#fda58d"/>
<rect x="1732.68" y="1994.72" width="47.17" height="36.17" fill="#fdb9a4"/>
<rect x="1779.85" y="1994.72" width="47.17" height="36.17" fill="#fed7c9"/>
<rect x="1827.02" y="1994.72" width="47.17" height="36.17" fill="#fee1d6"/>
<rect x="1544.02" y="2030.89" width="47.17" height="36.17" fill="#fee1d6"/>
<rect x="1591.18" y="2030.89" width="47.17" height="36.17" fill="#fee1d6"/>
<rect x="1638.35" y="2030.89" width="47.17" height="36.17" fill="#fed7c9"/>
<rect x="1685.52" y="2030.89" width="47.17" height="36.17" fill="#fdb9a4"/>
<rect x="1732.68" y="2030.89" width="47.17" height="36.17" fill="#fec2af"/>
<rect x="1779.85" y="2030.89" width="47.17" height="36.17" fill="#fed7c9"/>
<rect x="1827.02" y="2030.89" width="47.17" height="36.17" fill="#fee1d6"/>
<rect x="1544.02" y="2067.06" width="47.17" height="36.17" fill="#fee1d6"/>
<rect x="1591.18" y="2067.06" width="47.17" height="36.17" fill="#fec2af"/>
<rect x="1638.35" y="2067.06" width="47.17" height="36.17" fill="#fff5f1"/>
<rect x="1685.52" y="2067.06" width="47.17" height="36.17" fill="#fec2af"/>
<rect x="1732.68" y="2067.06" width="47.17" height="36.17" fill="#fed7c9"/>
<rect x="1779.85" y="2067.06" width="47.17" height="36.17" fill="#fed7c9"/>
<rect x="1827.02" y="2067.06" width="47.17" height="36.17" fill="#fff5f1"/>
<rect x="1544.02" y="2103.23" width="47.17" height="36.17" fill="#fdaf98"/>
<rect x="1591.18" y="2103.23" width="47.17" height="36.17" fill="#fdaf98"/>
<rect x="1638.35" y="2103.23" width="47.17" height="36.17" fill="#fee1d6"/>
<rect x="1685.52" y="2103.23" width="47.17" height="36.17" fill="#fed7c9"/>
<rect x="1732.68" y="2103.23" width="47.17" height="36.17" fill="#feccbc"/>
<rect x="1779.85" y="2103.23" width="47.17" height="36.17" fill="#fdaf98"/>
<rect x="1827.02" y="2103.23" width="47.17" height="36.17" fill="#fed7c9"/>
<rect x="1544.02" y="2139.4" width="47.17" height="36.17" fill="#ffebe4"/>
<rect x="1591.18" y="2139.4" width="47.17" height="36.17" fill="#feccbc"/>
<rect x="1638.35" y="2139.4" width="47.17" height="36.17" fill="#ffebe4"/>
<rect x="1685.52" y="2139.4" width="47.17" height="36.17" fill="#feccbc"/>
<rect x="1732.68" y="2139.4" width="47.17" height="36.17" fill="#fd9176"/>
<rect x="1779.85" y="2139.4" width="47.17" height="36.17" fill="#fee1d6"/>
<rect x="1827.02" y="2139.4" width="47.17" height="36.17" fill="#fee1d6"/>
<rect x="1544.02" y="2175.57" width="47.17" height="36.17" fill="#ffebe4"/>
<rect x="1591.18" y="2175.57" width="47.17" height="36.17" fill="#fdaf98"/>
<rect x="1638.35" y="2175.57" width="47.17" height="36.17" fill="#fdb9a4"/>
<rect x="1685.52" y="2175.57" width="47.17" height="36.17" fill="#fff5f1"/>
<rect x="1732.68" y="2175.57" width="47.17" height="36.17" fill="#fee1d6"/>
<rect x="1779.85" y="2175.57" width="47.17" height="36.17" fill="#fec2af"/>
<rect x="1827.02" y="2175.57" width="47.17" height="36.17" fill="#fed7c9"/>
<rect x="1544.02" y="2211.74" width="47.17" height="36.17" fill="#fdaf98"/>
<rect x="1591.18" y="2211.74" width="47.17" height="36.17" fill="#ffebe4"/>
<rect x="1638.35" y="2211.74" width="47.17" height="36.17" fill="#feccbc"/>
<rect x="1685.52" y="2211.74" width="47.17" height="36.17" fill="#fed7c9"/>
<rect x="1732.68" y="2211.74" width="47.17" height="36.17" fill="#fed7c9"/>
<rect x="1779.85" y="2211.74" width="47.17" height="36.17" fill="#fee1d6"/>
<rect x="1827.02" y="2211.74" width="47.17" height="36.17" fill="#fec2af"/>
<rect x="1544.02" y="2247.91" width="47.17" height="36.17" fill="#feccbc"/>
<rect x="1591.18" y="2247.91" width="47.17" height="36.17" fill="#fed7c9"/>
<rect x="1638.35" y="2247.91" width="47.17" height="36.17" fill="#fdb9a4"/>
<rect x="1685.52" y="2247.91" width="47.17" height="36.17" fill="#fee1d6"/>
<rect x="1732.68" y="2247.91" width="47.17" height="36.17" fill="#feccbc"/>
<rect x="1779.85" y="2247.91" width="47.17" height="36.17" fill="#feccbc"/>
<rect x="1827.02" y="2247.91" width="47.17" height="36.17" fill="#fec2af"/>
<rect x="1544.02" y="2284.07" width="47.17" height="36.17" fill="#fec2af"/>
<rect x="1591.18" y="2284.07" width="47.17" height="36.17" fill="#fed7c9"/>
<rect x="1638.35" y="2284.07" width="47.17" height="36.17" fill="#fdaf98"/>
<rect x="1685.52" y="2284.07" width="47.17" height="36.17" fill="#fee1d6"/>
<rect x="1732.68" y="2284.07" width="47.17" height="36.17" fill="#feccbc"/>
<rect x="1779.85" y="2284.07" width="47.17" height="36.17" fill="#fee1d6"/>
<rect x="1827.02" y="2284.07" width="47.17" height="36.17" fill="#fdaf98"/>
<rect x="1544.02" y="2320.24" width="47.17" height="36.17" fill="#fda58d"/>
<rect x="1591.18" y="2320.24" width="47.17" height="36.17" fill="#fd9c81"/>
<rect x="1638.35" y="2320.24" width="47.17" height="36.17" fill="#feccbc"/>
<rect x="1685.52" y="2320.24" width="47.17" height="36.17" fill="#feccbc"/>
<rect x="1732.68" y="2320.24" width="47.17" height="36.17" fill="#fec2af"/>
<rect x="1779.85" y="2320.24" width="47.17" height="36.17" fill="#fdaf98"/>
<rect x="1827.02" y="2320.24" width="47.17" height="36.17" fill="#feccbc"/>
<rect x="1544.02" y="2356.41" width="47.17" height="36.17" fill="#fec2af"/>
<rect x="1591.18" y="2356.41" width="47.17" height="36.17" fill="#fee1d6"/>
<rect x="1638.35" y="2356.41" width="47.17" height="36.17" fill="#fec2af"/>
<rect x="1685.52" y="2356.41" width="47.17" height="36.17" fill="#feccbc"/>
<rect x="1732.68" y="2356.41" width="47.17" height="36.17" fill="#fdb9a4"/>
<rect x="1779.85" y="2356.41" width="47.17" height="36.17" fill="#feccbc"/>
<rect x="1827.02" y="2356.41" width="47.17" height="36.17" fill="#fee1d6"/>
</g>
<g font-size="14.6" text-anchor="middle">
<text y="1548.59"><tspan x="1567.6">0.01</tspan><tspan x="1614.77">0.01</tspan><tspan x="1661.93">0.02</tspan><tspan x="1709.1">0.01</tspan><tspan x="1756.27">0.01</tspan><tspan x="1803.43">0.02</tspan><tspan x="1850.6">0.01</tspan></text>
<text y="1584.76"><tspan x="1567.6">0.01</tspan><tspan x="1614.77">0.02</tspan><tspan x="1661.93">0.01</tspan><tspan x="1709.1">0.01</tspan><tspan x="1756.27">0.01</tspan><tspan x="1803.43">0.01</tspan><tspan x="1850.6">0.01</tspan></text>
<text y="1620.93"><tspan x="1567.6">0.01</tspan><tspan x="1614.77">0.02</tspan><tspan x="1661.93">0.01</tspan><tspan x="1709.1">0.01</tspan><tspan x="1756.27">0.01</tspan><tspan x="1803.43">0.01</tspan><tspan x="1850.6">0.01</tspan></text>
<text y="1657.1"><tspan x="1567.6">0.01</tspan><tspan x="1614.77">0.02</tspan><tspan x="1661.93">0.01</tspan><tspan x="1709.1">0.01</tspan><tspan x="1756.27">0.01</tspan><tspan x="1803.43">0.01</tspan><tspan x="1850.6">0.01</tspan></text>
<text y="1693.27"><tspan x="1567.6">0.01</tspan><tspan x="1614.77">0.01</tspan><tspan x="1661.93">0</tspan><tspan x="1709.1">0.01</tspan><tspan x="1756.27">0.01</tspan><tspan x="1803.43">0.01</tspan><tspan x="1850.6">0.01</tspan></text>
<text y="1729.43"><tspan x="1567.6">0.01</tspan><tspan x="1614.77">0.01</tspan><tspan x="1661.93">0.01</tspan><tspan x="1709.1">0.01</tspan><tspan x="1756.27">0.01</tspan><tspan x="1803.43">0.02</tspan><tspan x="1850.6">0.01</tspan></text>
<text y="1765.6"><tspan x="1567.6">0.01</tspan><tspan x="1614.77">0.02</tspan><tspan x="1661.93">0.01</tspan><tspan x="1709.1">0.02</tspan><tspan x="1756.27">0.01</tspan><tspan x="1803.43">0.01</tspan><tspan x="1850.6">0</tspan></text>
<text y="1801.77"><tspan x="1567.6">0.01</tspan><tspan x="1614.77">0.01</tspan><tspan x="1661.93">0.01</tspan><tspan x="1709.1">0.01</tspan><tspan x="1756.27">0.01</tspan><tspan x="1803.43">0.01</tspan><tspan x="1850.6">0.01</tspan></text>
<text y="1837.94"><tspan x="1567.6">0.02</tspan><tspan x="1614.77">0</tspan><tspan x="1661.93">0.01</tspan><tspan x="1709.1">0.01</tspan><tspan x="1756.27">0.01</tspan><tspan x="1803.43">0.01</tspan><tspan x="1850.6">0.01</tspan></text>
<text y="1874.11"><tspan x="1567.6">0.01</tspan><tspan x="1614.77">0.01</tspan><tspan x="1661.93">0.01</tspan><tspan x="1709.1">0.01</tspan><tspan x="1756.27">0.01</tspan><tspan x="1803.43">0.01</tspan><tspan x="1850.6">0.01</tspan></text>
<text y="1910.28"><tspan x="1567.6">0.01</tspan><tspan x="1614.77">0.01</tspan><tspan x="1661.93">0.01</tspan><tspan x="1709.1">0.01</tspan><tspan x="1756.27">0.01</tspan><tspan x="1803.43">0.02</tspan><tspan x="1850.6">0</tspan></text>
<text y="1946.45"><tspan x="1567.6">0.01</tspan><tspan x="1614.77">0.01</tspan><tspan x="1661.93">0.01</tspan><tspan x="1709.1">0.01</tspan><tspan x="1756.27">0.01</tspan><tspan x="1803.43">0.01</tspan><tspan x="1850.6">0.01</tspan></text>
<text y="1982.62"><tspan x="1567.6">0</tspan><tspan x="1614.77">0.02</tspan><tspan x="1661.93">0.01</tspan><tspan x="1709.1">0.01</tspan><tspan x="1756.27">0.01</tspan><tspan x="1803.43">0.02</tspan><tspan x="1850.6">0.01</tspan></text>
<text y="2018.79"><tspan x="1567.6">0.01</tspan><tspan x="1614.77">0.01</tspan><tspan x="1661.93">0.01</tspan><tspan x="1709.1">0.02</tspan><tspan x="1756.27">0.01</tspan><tspan x="1803.43">0.01</tspan><tspan x="1850.6">0.01</tspan></text>
<text y="2054.96"><tspan x="1567.6">0.01</tspan><tspan x="1614.77">0.01</tspan><tspan x="1661.93">0.01</tspan><tspan x="1709.1">0.01</tspan><tspan x="1756.27">0.01</tspan><tspan x="1803.43">0.01</tspan><tspan x="1850.6">0.01</tspan></text>
<text y="2091.13"><tspan x="1567.6">0.01</tspan><tspan x="1614.77">0.01</tspan><tspan x="1661.93">0</tspan><tspan x="1709.1">0.01</tspan><tspan x="1756.27">0.01</tspan><tspan x="1803.43">0.01</tspan><tspan x="1850.6">0</tspan></text>
<text y="2127.3"><tspan x="1567.6">0.02</tspan><tspan x="1614.77">0.02</tspan><tspan x="1661.93">0.01</tspan><tspan x="1709.1">0.01</tspan><tspan x="1756.27">0.01</tspan><tspan x="1803.43">0.02</tspan><tspan x="1850.6">0.01</tspan></text>
<text y="2163.47"><tspan x="1567.6">0</tspan><tspan x="1614.77">0.01</tspan><tspan x="1661.93">0</tspan><tspan x="1709.1">0.01</tspan><tspan x="1756.27">0.02</tspan><tspan x="1803.43">0.01</tspan><tspan x="1850.6">0.01</tspan></text>
<text y="2199.64"><tspan x="1567.6">0</tspan><tspan x="1614.77">0.02</tspan><tspan x="1661.93">0.01</tspan><tspan x="1709.1">0</tspan><tspan x="1756.27">0.01</tspan><tspan x="1803.43">0.01</tspan><tspan x="1850.6">0.01</tspan></text>
<text y="2235.81"><tspan x="1567.6">0.02</tspan><tspan x="1614.77">0</tspan><tspan x="1661.93">0.01</tspan><tspan x="1709.1">0.01</tspan><tspan x="1756.27">0.01</tspan><tspan x="1803.43">0.01</tspan><tspan x="1850.6">0.01</tspan></text>
<text y="2271.98"><tspan x="1567.6">0.01</tspan><tspan x="1614.77">0.01</tspan><tspan x="1661.93">0.01</tspan><tspan x="1709.1">0.01</tspan><tspan x="1756.27">0.01</tspan><tspan x="1803.43">0.01</tspan><tspan x="1850.6">0.01</tspan></text>
<text y="2308.15"><tspan x="1567.6">0.01</tspan><tspan x="1614.77">0.01</tspan><tspan x="1661.93">0.02</tspan><tspan x="1709.1">0.01</tspan><tspan x="1756.27">0.01</tspan><tspan x="1803.43">0.01</tspan><tspan x="1850.6">0.02</tspan></text>
<text y="2344.31"><tspan x="1567.6">0.02</tspan><tspan x="1614.77">0.02</tspan><tspan x="1661.93">0.01</tspan><tspan x="1709.1">0.01</tspan><tspan x="1756.27">0.01</tspan><tspan x="1803.43">0.02</tspan><tspan x="1850.6">0.01</tspan></text>
<text y="2380.48"><tspan x="1567.6">0.01</tspan><tspan x="1614.77">0.01</tspan><tspan x="1661.93">0.01</tspan><tspan x="1709.1">0.01</tspan><tspan x="1756.27">0.01</tspan><tspan x="1803.43">0.01</tspan><tspan x="1850.6">0.01</tspan></text>
</g>
<rect x="1540.1" y="1520.9" width="338" height="874.5" fill="none" stroke="#000" stroke-width="1.6"/>
<text transform="translate(1567.6 2474) rotate(-45)" font-size="27.73" text-anchor="middle" dy="9.9">Sunday</text>
<text transform="translate(1614.77 2474) rotate(-45)" font-size="27.73" text-anchor="middle" dy="9.9">Monday</text>
<text transform="translate(1661.93 2474) rotate(-45)" font-size="27.73" text-anchor="middle" dy="9.9">Tuesday</text>
<text transform="translate(1709.1 2474) rotate(-45)" font-size="27.73" text-anchor="middle" dy="9.9">Wednesday</text>
<text transform="translate(1756.27 2474) rotate(-45)" font-size="27.73" text-anchor="middle" dy="9.9">Thursday</text>
<text transform="translate(1803.43 2474) rotate(-45)" font-size="27.73" text-anchor="middle" dy="9.9">Friday</text>
<text transform="translate(1850.6 2474) rotate(-45)" font-size="27.73" text-anchor="middle" dy="9.9">Saturday</text>
<path d="M1567.6 2396.2v8.6M1614.77 2396.2v8.6M1661.93 2396.2v8.6M1709.1 2396.2v8.6M1756.27 2396.2v8.6M1803.43 2396.2v8.6M1850.6 2396.2v8.6" stroke="#000" stroke-width="2" fill="none"/>
<g font-size="27.73" text-anchor="end">
<text x="95" y="1553.3" font-size="27.73" text-anchor="end" font-weight="normal" fill="#000">11pm</text>
<text x="95" y="1589.47" font-size="27.73" text-anchor="end" font-weight="normal" fill="#000">10pm</text>
<text x="95" y="1625.64" font-size="27.73" text-anchor="end" font-weight="normal" fill="#000">9pm</text>
<text x="95" y="1661.81" font-size="27.73" text-anchor="end" font-weight="normal" fill="#000">8pm</text>
<text x="95" y="1697.98" font-size="27.73" text-anchor="end" font-weight="normal" fill="#000">7pm</text>
<text x="95" y="1734.15" font-size="27.73" text-anchor="end" font-weight="normal" fill="#000">6pm</text>
<text x="95" y="1770.32" font-size="27.73" text-anchor="end" font-weight="normal" fill="#000">5pm</text>
<text x="95" y="1806.49" font-size="27.73" text-anchor="end" font-weight="normal" fill="#000">4pm</text>
<text x="95" y="1842.66" font-size="27.73" text-anchor="end" font-weight="normal" fill="#000">3pm</text>
<text x="95" y="1878.83" font-size="27.73" text-anchor="end" font-weight="normal" fill="#000">2pm</text>
<text x="95" y="1915" font-size="27.73" text-anchor="end" font-weight="normal" fill="#000">1pm</text>
<text x="95" y="1951.17" font-size="27.73" text-anchor="end" font-weight="normal" fill="#000">12pm</text>
<text x="95" y="1987.33" font-size="27.73" text-anchor="end" font-weight="normal" fill="#000">11am</text>
<text x="95" y="2023.5" font-size="27.73" text-anchor="end" font-weight="normal" fill="#000">10am</text>
<text x="95" y="2059.67" font-size="27.73" text-anchor="end" font-weight="normal" fill="#000">9am</text>
<text x="95" y="2095.84" font-size="27.73" text-anchor="end" font-weight="normal" fill="#000">8am</text>
<text x="95" y="2132.01" font-size="27.73" text-anchor="end" font-weight="normal" fill="#000">7am</text>
<text x="95" y="2168.18" font-size="27.73" text-anchor="end" font-weight="normal" fill="#000">6am</text>
<text x="95" y="2204.35" font-size="27.73" text-anchor="end" font-weight="normal" fill="#000">5am</text>
<text x="95" y="2240.52" font-size="27.73" text-anchor="end" font-weight="normal" fill="#000">4am</text>
<text x="95" y="2276.69" font-size="27.73" text-anchor="end" font-weight="normal" fill="#000">3am</text>
<text x="95" y="2312.86" font-size="27.73" text-anchor="end" font-weight="normal" fill="#000">2am</text>
<text x="95" y="2349.03" font-size="27.73" text-anchor="end" font-weight="normal" fill="#000">1am</text>
<text x="95" y="2385.2" font-size="27.73" text-anchor="end" font-weight="normal" fill="#000">12am</text>
</g>
<path d="M102.6 1542.6h8.3M102.6 1578.77h8.3M102.6 1614.94h8.3M102.6 1651.11h8.3M102.6 1687.28h8.3M102.6 1723.45h8.3M102.6 1759.62h8.3M102.6 1795.79h8.3M102.6 1831.96h8.3M102.6 1868.13h8.3M102.6 1904.3h8.3M102.6 1940.47h8.3M102.6 1976.63h8.3M102.6 2012.8h8.3M102.6 2048.97h8.3M102.6 2085.14h8.3M102.6 2121.31h8.3M102.6 2157.48h8.3M102.6 2193.65h8.3M102.6 2229.82h8.3M102.6 2265.99h8.3M102.6 2302.16h8.3M102.6 2338.33h8.3M102.6 2374.5h8.3" stroke="#000" stroke-width="2" fill="none"/>
<text x="1931" y="1827.1" font-size="34.67" text-anchor="start" font-weight="bold" fill="#000">Number of calls</text>
<text x="1931" y="1859.8" font-size="34.67" text-anchor="start" font-weight="bold" fill="#000">per 1,000 Population</text>
<defs><linearGradient id="g2" x1="0" y1="0" x2="0" y2="1"><stop offset="0.0250" stop-color="#fb0007"/><stop offset="0.0750" stop-color="#fc0e12"/><stop offset="0.1250" stop-color="#fc261c"/><stop offset="0.1750" stop-color="#fc3725"/><stop offset="0.2250" stop-color="#fc462f"/><stop offset="0.2750" stop-color="#fc5339"/><stop offset="0.3250" stop-color="#fc6045"/><stop offset="0.3750" stop-color="#fc6b50"/><stop offset="0.4250" stop-color="#fc795b"/><stop offset="0.4750" stop-color="#fd8568"/><stop offset="0.5250" stop-color="#fd9075"/><stop offset="0.5750" stop-color="#fd9d82"/><stop offset="0.6250" stop-color="#fda890"/><stop offset="0.6750" stop-color="#fdb49e"/><stop offset="0.7250" stop-color="#fec1ad"/><stop offset="0.7750" stop-color="#fecdbd"/><stop offset="0.8250" stop-color="#fed9cd"/><stop offset="0.8750" stop-color="#fee6de"/><stop offset="0.9250" stop-color="#fff2ee"/><stop offset="0.9750" stop-color="#ffffff"/></linearGradient></defs>
<rect x="1930.5" y="1884.9" width="46.1" height="229.5" fill="url(#g2)"/>
<text x="1993.5" y="2124.3" font-size="27.73" text-anchor="start" font-weight="normal" fill="#000">0.00</text>
<text x="1993.5" y="2076.32" font-size="27.73" text-anchor="start" font-weight="normal" fill="#000">0.01</text>
<text x="1993.5" y="2028.33" font-size="27.73" text-anchor="start" font-weight="normal" fill="#000">0.02</text>
<text x="1993.5" y="1980.35" font-size="27.73" text-anchor="start" font-weight="normal" fill="#000">0.03</text>
<text x="1993.5" y="1932.36" font-size="27.73" text-anchor="start" font-weight="normal" fill="#000">0.04</text>
<path d="M1930.5 2114.4h9.2M1967.4 2114.4h9.2M1930.5 2066.42h9.2M1967.4 2066.42h9.2M1930.5 2018.43h9.2M1967.4 2018.43h9.2M1930.5 1970.45h9.2M1967.4 1970.45h9.2M1930.5 1922.46h9.2M1967.4 1922.46h9.2" stroke="#fff" stroke-width="1.4" fill="none"/>
<text x="2285.7" y="2638.2" font-size="27.73" text-anchor="end"><tspan font-weight="bold">Heatmap Prepared by:</tspan> Isaac H. Michaels, DrPH</text>
<text x="2285.7" y="2664.6" font-size="27.73" text-anchor="end"><tspan font-weight="bold">Data Source:</tspan> NYC Open Data</text>
<rect x="63.7" y="2811.6" width="2222.9" height="54.1" fill="#000"/>
<text x="1175.15" y="2848.8" font-size="27.73" text-anchor="middle" font-weight="normal" fill="#fff">Bronx</text>
<path d="M63.7 3004.1H2286.6M63.7 2962.82H2286.6M63.7 2921.54H2286.6M63.7 2880.26H2286.6M165.45 2865.7V3010.4M590.89 2865.7V3010.4M1015.16 2865.7V3010.4M1439.44 2865.7V3010.4M1863.72 2865.7V3010.4" stroke="#000" stroke-opacity="0.5" stroke-width="0.8" fill="none"/>
<path d="M63.7 2983.46H2286.6M63.7 2942.18H2286.6M63.7 2900.9H2286.6M378.17 2865.7V3010.4M802.45 2865.7V3010.4M1226.72 2865.7V3010.4M1651 2865.7V3010.4M2076.44 2865.7V3010.4" stroke="#000" stroke-opacity="0.38" stroke-width="0.6" fill="none"/>
<g transform="translate(165.45 3004.1) scale(1.1624 -8.256)">
<path d="M0 0V3l1 1 1 10 1-9 1-3 1-1 1 7 1-1 1-1 1-1 1-1 1 0 1-1 1 1 1-1 1 5 1-3 1-4 1 5 1 0 1 1 1-6 1 5 1-3 1 3 1-4 1 1 1 4 1-3 1 1 1 0 1-2 1 3 1-3 1 4 1-1 1 1 1-2 1-1 1 6 1-8 1 1 1-2 1 7 1-7 1 3 1 3 1 0 1-3 1-1 1 0 1 5 1-1 1 1 1 2 1-3 1-1 1 0 1-3 1 1 1-1 1 1 1 0 1 2 1-2 1 0 1 1 1-1 1-3 1 3 1 1 1 2 1-4 1 1 1-2 1 0 1 4 1-2 1-2 1 2 1 0 1 3 1-4 1-1 1 5 1 1 1-2 1 3 1-3 1 1 1 0 1-2 1-3 1 1 1 2 1-1 1 1 1 6 1-6 1-1 1 5 1-5 1 1 1-1 1 2 1-3 1 3 1-3 1 1 1 3 1-2 1-2 1 1 1 5 1-6 1 0 1 3 1 1 1 1 1-7 1 4 1 1 1-3 1 3 1-1 1-3 1 3 1 0 1 0 1 1 1-2 1 2 1-3 1 3 1-4 1 2 1 2 1 0 1 4 1-2 1-1 1-3 1 2 1 0 1 2 1-4 1-3 1 2 1 2 1-2 1 5 1-1 1-3 1 6 1-3 1-2 1-3 1 1 1 2 1-2 1 4 1-1 1-3 1 3 1-2 1 6 1-3 1-1 1-2 1-1 1 1 1 1 1 1 1 3 1-5 1 1 1-3 1 1 1 3 1-3 1 1 1 1 1 4 1-3 1-2 1 5 1-3 1 0 1-3 1 0 1 0 1 3 1-3 1 2 1 2 1-3 1 0 1 6 1-8 1 2 1 0 1 1 1-3 1 0 1 1 1-1 1 1 1 1 1 0 1-2 1 0 1 0 1 2 1 1 1 1 1-3 1 0 1-1 1 3 1 2 1 1 1-4 1-1 1-2 1 0 1 4 1-2 1 3 1-3 1-2 1 5 1-2 1-2 1 1 1 3 1 2 1-5 1 0 1 1 1-1 1 0 1 2 1-2 1-2 1 0 1 3 1-2 1 3 1 0 1 0 1-2 1 7 1-7 1 2 1 0 1-1 1 0 1 1 1 2 1-1 1-3 1 3 1 3 1-2 1-4 1-1 1 2 1 2 1 0 1-1 1-2 1 0 1 3 1-1 1 1 1 1 1-3 1 2 1-2 1 1 1-2 1 2 1 0 1 0 1-1 1 1 1-1 1 0 1 0 1-1 1 0 1-1 1 3 1 3 2-4 1-2 1 2 1-2 1 2 1 4 1-3 1-3 1 2 1 0 1-3 1 1 1 4 1-1 1-3 1 4 1 1 1-2 1-2 2 3 1-1 1-2 1 1 1 2 1-2 1 3 1-4 1 0 1 4 1-2 1-3 1 1 1 1 1 1 1 0 1-4 1 2 1 0 1 3 1 1 1-2 1-1 1 4 1-3 1-3 1 4 1-2 1 0 1 1 1 3 1-2 1-3 1 0 1 3 1-1 1-4 1 5 1-3 1 1 1 1 1 0 1-2 1 2 1 0 1 2 1-3 1 2 1-1 1 0 1-2 1-1 1 3 1-2 1 2 1 3 1-4 1-3 1 2 1 2 1-4 1 0 1 4 1 2 1 0 1-2 1-1 1-1 1 2 1 1 1 1 1 0 1 1 1-3 1-3 1 4 1-1 1 1 1-5 1 5 1-1 1 3 1-6 1 3 1-2 1-1 1 4 1 3 1-2 1-6 1 6 1-4 1 0 1 0 1 4 1-5 1-1 1 2 1 3 1-1 1 1 1-1 1 3 1-3 1 0 1-2 1 3 1 0 1 0 1 2 1-2 1-4 1 3 1-3 1 3 1 2 1 2 1-5 1 2 1-1 1-3 1 3 1-2 1-1 1 0 1 3 1-1 1-3 1 2 1 2 1-2 1-2 1 6 1 1 1-2 1-3 1 0 1 3 1 0 1-4 1 1 1 2 1-1 1-2 1-1 1 3 1 1 1 0 1 1 1-3 1 4 1-4 1-1 1 2 1 1 1-2 1 4 1-4 1-1 1-1 1 3 1-2 1 1 1 1 1-2 1 1 1 3 1-2 1 6 1-3 1-4 1 1 1 2 1-2 3 0 1 3 1-2 1 0 1 1 1-5 1 5 1-4 1-1 1 1 1 4 1-1 1 1 1 1 1-4 1 0 1 3 1-4 1 2 1 0 1 0 1 0 1-3 1 5 1 1 1-2 1 0 1 0 1 0 1 6 1-3 1-5 1 1 1-1 1 2 1-2 1 6 1-7 1 0 1 1 1 4 1-4 1-1 1 6 1-7 1 3 1 2 1-3 1 3 1-3 1 0 2 3 1-1 1 0 1 1 1 0 1-4 1-1 1 3 1-1 1 0 1-1 1 7 1-4 1 3 1-4 1 3 1-1 1-2 1-1 1-1 1 3 1-2 1-2 1 3 1 0 1 2 1-4 1 2 1 0 1 1 1 0 1 0 1-2 1 3 1-5 1 2 1 2 1-1 1 4 1-4 1 3 1-6 1 2 1 1 1 2 1 4 1-5 1 0 1 0 1-2 1 3 1-5 1 4 1-2 1 3 1-1 1 1 1-2 1 0 1 3 1-6 1 3 1 1 1-3 1 4 1-1 1 0 1 0 1-1 1-2 1 0 1 3 1-2 1 3 1 4 1-7 1 0 1 1 1 0 1 0 1 2 1-3 1 0 1 5 2-6 1 2 1 1 1-2 1 1 1 4 1-3 1-1 1-1 1 2 1-4 1 5 1-1 1 4 1-5 1-3 1 2 1 4 1 1 1-5 1 1 1 1 1-3 1 5 1-4 1 4 1-4 1-1 1 4 1-1 1 2 1 1 1-6 1 4 1-3 1 1 1-3 1 5 1-1 1 3 1-4 1 1 1 1 1 1 1 2 1-7 1 0 1 1 1-2 1 9 1-2 1-5 1 1 1 0 1 4 1-6 1-1 1 3 1 3 1-3 1 1 1 1 1 0 1-5 1 3 1 1 1-1 1 1 1-3 1 1 1-2 1 2 1 3 1-4 1 3 1-1 1 2 1 0 1-5 1 6 1-5 1 5 1-2 1-3 1 6 1-4 1 3 1-3 1-2 1 6 1-2 1-2 1 0 1-1 1 1 1 0 1 2 1-2 1 1 1-4 1 2 1 0 1-1 1 2 1-2 1 3 1 0 1 1 1-4 1 4 2-5 1 6 1-2 1-2 1 2 1 1 1 1 1-1 1-3 1 3 1-3 1-2 1 7 1-4 1 0 1 0 1-2 1 2 1 1 1-2 1 6 1-5 1 1 1 0 1 0 1-1 1-2 1 2 1-1 1 3 1-3 1 2 1-3 1 1 1 3 1-3 1-1 1 7 1-3 1-3 1-1 1 2 1 0 1 0 1 0 1-2 1 3 1-2 1 1 1 0 1-1 1 0 1 5 1 3 1-9 1 3 1-2 1-2 1 6 1-2 1-2 1 1 1-2 1 3 1 1 1 2 1-4 1 4 1-1 1-2 1-2 1-1 1 3 1 4 1-6 1 0 1 2 1-2 1 0 1-1 1 5 1-2 1-1 1 0 1 0 1-1 1 2 1-1 1 2 1-3 1 1 1-1 1 1 1 0 1-3 1 0 1 2 1 0 1 3 1-2 1 4 1-3 1 3 1-4 1-3 1 3 1-1 1 2 1 0 1 1 1 2 1-5 1 3 1 1 1-3 1-1 1 1 1 2 1-2 1 0 1 0 1 0 1 1 1-4 1 2 1 1 1-2 1 4 1-3 1 4 1-3 1-2 1 5 1-5 1 1 1-2 1 5 1-1 1-2 1 2 1-1 1-1 1 2 1 0 1 4 1-6 1 2 1-1 1-2 1-1 1 6 1-4 1 3 1 0 1 2 1-3 1 3 1-5 1 1 1 3 1 1 1-5 1 2 1 2 1-2 1 4 1-5 1-1 1 6 1-3 1-2 1 1 1 2 1-2 1 0 1 0 1-2 1 13 1-13 1 1 1 1 1 4 1-5 1 0 1 1 1 1 1-1 1 0 1-1 1 2 1-5 1 9 1-7 1 1 1 0 1 3 1-5 1 2 1-1 1 4 1 0 1 1 1-5 1-2 1 10 1-6 1-2 1 3 1 2 1 0 2 0 1-2 1-2 1-3 1 2 1 2 1 4 1-3 1-1 1 1 1-2 1 2 1-1 1-4 1 0 1 2 1 1 1-2 1 4 1-1 1 0 1 3 1-3 1 1 1 2 1-6 1 2 1 0 1 0 1 0 1 1 1-3 1 3 1-2 1 0 1 3 1 1 1-5 1 1 1-2 1 4 1-1 1-1 1 3 1-5 1 1 1 3 1-3 1 5 1 2 1-4 1 1 1-2 1 1 1-4 1 2 1 1 1 0 1 0 1-1 1 1 1 1 1-1 1-3 1 6 1 2 1-7 1 6 1-1 1 3 1-5 1-2 1 0 1 4 1-4 1 4 1-2 1-2 1 2 1-2 1 2 1-1 1 2 1-3 1 2 1-2 1-2 1 4 1 5 1-8 1 2 1-3 1 5 1-2 1 1 1 1 1-4 1 3 1 4 1-6 1 5 1 0 1-3 1-2 1 2 1-1 2 3 1-4 1 1 1 0 1-2 1 0 1 2 1 0 1-3 1 3 1 1 1-2 1 6 1-7 1 4 1-2 1 4 1-2 1-2 1-1 1 2 1-1 1 4 1-5 1 1 1 5 1-6 1 5 1-7 1 1 1 5 1-3 1 1 1 0 1-3 1 5 1-5 1 2 1 3 1 0 1-6 1 7 1-3 1 3 2-7 1 10 1-7 1-2 1 2 1 4 1-2 1-3 1 1 1 3 1 0 1-3 1-2 1 1 1 0 1 0 1 1 1 0 1-2 2 2 1 3 1-3 1 1 1-3 1 2 1 1 1 3 1-1 1 3 1-2 1-3 1-2 1 4 1-4 1 0 1 0 1 1 1-1 1 1 1-1 1 5 1 0 1-3 1 2 1 1 1-4 1 1 1 1 1 3 1-5 1 2 1-3 1-2 1 4 1-1 1-3 1 1 1 0 1 1 1-1 1 3 1 0 1-1 1-3 1 4 1 5 1-3 1-4 1-1 1 4 1-4 1 3 1-1 1 0 1 2 1-2 1 0 1 1 1-3 1 2 1-3 1 3 2 3 1-1 1-2 1 0 1-1 1 3 1 0 1 2 1-5 1 5 1-4 1 4 1-3 1-2 1-1 1 2 1 0 1 1 1 0 1 1 1 0 1-1 1 2 1-2 1 1 1-1 1-1 1-2 1 0 1 5 1-3 1 0 1-1 1 3 1 0 1-1 1-2 1 2 1-1 1-1 1 0 1 2 1-2 1-1 1 1 1 3 1-5 1 3 1-1 1-1 1 4 1-1 1 1 1-1 1-2 1 2 1-1 1 0 1 2 1-3 1-1 1 3 1-2 1 0 1 2 1-3 1 3 1-2 1 3 1 2 1 4 1-11 1 4 1 1 1-2 1 1 1-1 1-1 1-1 1 0 1 0 1 0 1 0 1 3 1-2 1 3 1 0 1 7 1-10 1 0 1-1 1 5 1-1 1-1 1-2 1 0 1 0 1 4 1 1 1-5 1-2 1 2 1 1 1 1 1-4 1 2 2 5 1-4 1 0 1 2 1-1 1-2 1 0 1 3 1-5 1 3 1-1 1 9 1-7 1 0 1 2 1-3 1 2 1-1 1 0 1-1 1 2 1-3 1 1 1-1 1 1 1-1 1-1 1 6 1-3 1-1 1 1 1-3 1 1 1 1 1-2 1 3 1 1 1-1 1 2 1-4 2 1 1-3 1 3 1 0 1-2 1 1 1 3 1-3 1-2 1 3 1-2 1 2 1 1 1-1 1-2 1 0 2 4 1-3 1 0 1-1 1 2 1 3 1-5 1 5 2-2 1-2 1 2 1 0 1 1 1-2 1-1 1 8 1-7 1-1 1 6 1-4 1-2 1 1 1 1 1 1 1-4 1 0 1 3 1-3 1 1 1 1 1 3 1-5 1 3 1-2 1 1 1 0 1 2 1 4 1-6 1 2 1-3 1 3 1-2 1 0 1 0 1-1 1-1 1 1 1 1 1 5 1-7 1 4 1-4 1 3 2-2 1 2 1 3 1-3 1 1 1-1 1-1 1 2 2 0 1-2 1 1 2 0 1 4 1-8 1 6 1-6 1 1 1 4 1 3 1-5 1 2 1 1 1-5 1 0 1 2 1 0 1-1 1 3 1-4 1 0 1 1 1 8 1-7 1-3 1 2 1 0 1 1 1 0 1-3 1 6 1 5 1-11 1 7 1-2 1 2 1-5 1 1 1-3 1 1 1-1 1 4 1 1 1-3 1-2 1 3 1 0 1 1 1-2 1 5 1-6 1 4 1-3 1 2 1-3 1 1 1-1 1 1 1-1 1 2 1 2 1-3 1 5 1-2 1-2 1 0 1-1 1-1 1 4 1-4 1 3 1-1 1-2 1 6 1-2 1-4 1 1 1-1 1 2 1-3 1 2 1 0 1-1 1 2 1 2 1-4 1 1 1-1 1 2 1-1 1 1 1 2 1-2 1-2 1 1 1-1 1 4 1-1 1 2 1-1 1-5 1 3 1 1 1-3 1 3 1-2 1 6 1-5 1-2 1 1 1 1 1-2 1 3 1-2 1 3 1-4 1 3 1-4 1 2 1-1 1 5 1-3 1 0 1-1 1 1 1-2 1 1 1 1 1-1 1-2 1 7 1-2 1-1 1-3 1 4 1-4 1 2 1 0 1-3 1 3 1 0 1 0 1-2 1 6 1-4 1-1 1 1 1-1 1 1 1 8 1-7 1-4 1 4 1-2 1 4 1-5 1 0 1-1 1 3 1-3 1 0 1 2 1-1 1 1 1 0 1 2 1-4 1 0 1 1 1-1 1 0 1 3 1-3 1 1 1 1 1 2 1 2 1-5 1 3 2 0 1-3 1 2 1 0 1 3 1-6 1 1 1 5 1-4 1 4 1-4 1-1 1 2 1 0 1 3 1 1 1-4 1 3 1-5 1 0 1-1 1 1 1-1 1 4 1-3 1 0 1 0 1 0 1 3 1 0 1 0 1-1 1 4 1-4 1-2 1 4 1-2 1-2 1 3 1 1 1-3 1 1 1 2 1-2 1-2 1-1 1 3 1 0 1-1 1 0 1-1 1 2 1 1 1-3 1 3 1 1 1 0 1-5 1 3 1 1 1-1 1-1 1-1 1 3 1-3 1 2 1-3 1 2 1 0 1 3 1-4 1 3 1-2 1-1 1 4 1 0 1-2 1 0 1 0 1-2 1 3 1-3 1 7 1-6 1-1 1 4 1-2 1-2 1 0 1 2 1 1 2-2 1 0 1 2 1 1 1-2 1 0 1-2 1-1 1 1 1 0 1 1 1-1 1 1 2-1 1 1 1 1 1 2 1-3 1 2 1-2 1 1 1-3 1 1 1 3 1-1 1-3 1 3 1-1 1-2 1 1 1 0 1 2 1 0 1 0 1 2 1-2 1 2 1-1 1-1 1 2 1-4 2 2 3 0V0z" fill="#fd9409" fill-opacity="0.51"/>
<path class="ns" d="M0 3l1 1 1 10 1-9 1-3 1-1 1 7 1-1 1-1 1-1 1-1 1 0 1-1 1 1 1-1 1 5 1-3 1-4 1 5 1 0 1 1 1-6 1 5 1-3 1 3 1-4 1 1 1 4 1-3 1 1 1 0 1-2 1 3 1-3 1 4 1-1 1 1 1-2 1-1 1 6 1-8 1 1 1-2 1 7 1-7 1 3 1 3 1 0 1-3 1-1 1 0 1 5 1-1 1 1 1 2 1-3 1-1 1 0 1-3 1 1 1-1 1 1 1 0 1 2 1-2 1 0 1 1 1-1 1-3 1 3 1 1 1 2 1-4 1 1 1-2 1 0 1 4 1-2 1-2 1 2 1 0 1 3 1-4 1-1 1 5 1 1 1-2 1 3 1-3 1 1 1 0 1-2 1-3 1 1 1 2 1-1 1 1 1 6 1-6 1-1 1 5 1-5 1 1 1-1 1 2 1-3 1 3 1-3 1 1 1 3 1-2 1-2 1 1 1 5 1-6 1 0 1 3 1 1 1 1 1-7 1 4 1 1 1-3 1 3 1-1 1-3 1 3 1 0 1 0 1 1 1-2 1 2 1-3 1 3 1-4 1 2 1 2 1 0 1 4 1-2 1-1 1-3 1 2 1 0 1 2 1-4 1-3 1 2 1 2 1-2 1 5 1-1 1-3 1 6 1-3 1-2 1-3 1 1 1 2 1-2 1 4 1-1 1-3 1 3 1-2 1 6 1-3 1-1 1-2 1-1 1 1 1 1 1 1 1 3 1-5 1 1 1-3 1 1 1 3 1-3 1 1 1 1 1 4 1-3 1-2 1 5 1-3 1 0 1-3 1 0 1 0 1 3 1-3 1 2 1 2 1-3 1 0 1 6 1-8 1 2 1 0 1 1 1-3 1 0 1 1 1-1 1 1 1 1 1 0 1-2 1 0 1 0 1 2 1 1 1 1 1-3 1 0 1-1 1 3 1 2 1 1 1-4 1-1 1-2 1 0 1 4 1-2 1 3 1-3 1-2 1 5 1-2 1-2 1 1 1 3 1 2 1-5 1 0 1 1 1-1 1 0 1 2 1-2 1-2 1 0 1 3 1-2 1 3 1 0 1 0 1-2 1 7 1-7 1 2 1 0 1-1 1 0 1 1 1 2 1-1 1-3 1 3 1 3 1-2 1-4 1-1 1 2 1 2 1 0 1-1 1-2 1 0 1 3 1-1 1 1 1 1 1-3 1 2 1-2 1 1 1-2 1 2 1 0 1 0 1-1 1 1 1-1 1 0 1 0 1-1 1 0 1-1 1 3 1 3 2-4 1-2 1 2 1-2 1 2 1 4 1-3 1-3 1 2 1 0 1-3 1 1 1 4 1-1 1-3 1 4 1 1 1-2 1-2 2 3 1-1 1-2 1 1 1 2 1-2 1 3 1-4 1 0 1 4 1-2 1-3 1 1 1 1 1 1 1 0 1-4 1 2 1 0 1 3 1 1 1-2 1-1 1 4 1-3 1-3 1 4 1-2 1 0 1 1 1 3 1-2 1-3 1 0 1 3 1-1 1-4 1 5 1-3 1 1 1 1 1 0 1-2 1 2 1 0 1 2 1-3 1 2 1-1 1 0 1-2 1-1 1 3 1-2 1 2 1 3 1-4 1-3 1 2 1 2 1-4 1 0 1 4 1 2 1 0 1-2 1-1 1-1 1 2 1 1 1 1 1 0 1 1 1-3 1-3 1 4 1-1 1 1 1-5 1 5 1-1 1 3 1-6 1 3 1-2 1-1 1 4 1 3 1-2 1-6 1 6 1-4 1 0 1 0 1 4 1-5 1-1 1 2 1 3 1-1 1 1 1-1 1 3 1-3 1 0 1-2 1 3 1 0 1 0 1 2 1-2 1-4 1 3 1-3 1 3 1 2 1 2 1-5 1 2 1-1 1-3 1 3 1-2 1-1 1 0 1 3 1-1 1-3 1 2 1 2 1-2 1-2 1 6 1 1 1-2 1-3 1 0 1 3 1 0 1-4 1 1 1 2 1-1 1-2 1-1 1 3 1 1 1 0 1 1 1-3 1 4 1-4 1-1 1 2 1 1 1-2 1 4 1-4 1-1 1-1 1 3 1-2 1 1 1 1 1-2 1 1 1 3 1-2 1 6 1-3 1-4 1 1 1 2 1-2 3 0 1 3 1-2 1 0 1 1 1-5 1 5 1-4 1-1 1 1 1 4 1-1 1 1 1 1 1-4 1 0 1 3 1-4 1 2 1 0 1 0 1 0 1-3 1 5 1 1 1-2 1 0 1 0 1 0 1 6 1-3 1-5 1 1 1-1 1 2 1-2 1 6 1-7 1 0 1 1 1 4 1-4 1-1 1 6 1-7 1 3 1 2 1-3 1 3 1-3 1 0 2 3 1-1 1 0 1 1 1 0 1-4 1-1 1 3 1-1 1 0 1-1 1 7 1-4 1 3 1-4 1 3 1-1 1-2 1-1 1-1 1 3 1-2 1-2 1 3 1 0 1 2 1-4 1 2 1 0 1 1 1 0 1 0 1-2 1 3 1-5 1 2 1 2 1-1 1 4 1-4 1 3 1-6 1 2 1 1 1 2 1 4 1-5 1 0 1 0 1-2 1 3 1-5 1 4 1-2 1 3 1-1 1 1 1-2 1 0 1 3 1-6 1 3 1 1 1-3 1 4 1-1 1 0 1 0 1-1 1-2 1 0 1 3 1-2 1 3 1 4 1-7 1 0 1 1 1 0 1 0 1 2 1-3 1 0 1 5 2-6 1 2 1 1 1-2 1 1 1 4 1-3 1-1 1-1 1 2 1-4 1 5 1-1 1 4 1-5 1-3 1 2 1 4 1 1 1-5 1 1 1 1 1-3 1 5 1-4 1 4 1-4 1-1 1 4 1-1 1 2 1 1 1-6 1 4 1-3 1 1 1-3 1 5 1-1 1 3 1-4 1 1 1 1 1 1 1 2 1-7 1 0 1 1 1-2 1 9 1-2 1-5 1 1 1 0 1 4 1-6 1-1 1 3 1 3 1-3 1 1 1 1 1 0 1-5 1 3 1 1 1-1 1 1 1-3 1 1 1-2 1 2 1 3 1-4 1 3 1-1 1 2 1 0 1-5 1 6 1-5 1 5 1-2 1-3 1 6 1-4 1 3 1-3 1-2 1 6 1-2 1-2 1 0 1-1 1 1 1 0 1 2 1-2 1 1 1-4 1 2 1 0 1-1 1 2 1-2 1 3 1 0 1 1 1-4 1 4 2-5 1 6 1-2 1-2 1 2 1 1 1 1 1-1 1-3 1 3 1-3 1-2 1 7 1-4 1 0 1 0 1-2 1 2 1 1 1-2 1 6 1-5 1 1 1 0 1 0 1-1 1-2 1 2 1-1 1 3 1-3 1 2 1-3 1 1 1 3 1-3 1-1 1 7 1-3 1-3 1-1 1 2 1 0 1 0 1 0 1-2 1 3 1-2 1 1 1 0 1-1 1 0 1 5 1 3 1-9 1 3 1-2 1-2 1 6 1-2 1-2 1 1 1-2 1 3 1 1 1 2 1-4 1 4 1-1 1-2 1-2 1-1 1 3 1 4 1-6 1 0 1 2 1-2 1 0 1-1 1 5 1-2 1-1 1 0 1 0 1-1 1 2 1-1 1 2 1-3 1 1 1-1 1 1 1 0 1-3 1 0 1 2 1 0 1 3 1-2 1 4 1-3 1 3 1-4 1-3 1 3 1-1 1 2 1 0 1 1 1 2 1-5 1 3 1 1 1-3 1-1 1 1 1 2 1-2 1 0 1 0 1 0 1 1 1-4 1 2 1 1 1-2 1 4 1-3 1 4 1-3 1-2 1 5 1-5 1 1 1-2 1 5 1-1 1-2 1 2 1-1 1-1 1 2 1 0 1 4 1-6 1 2 1-1 1-2 1-1 1 6 1-4 1 3 1 0 1 2 1-3 1 3 1-5 1 1 1 3 1 1 1-5 1 2 1 2 1-2 1 4 1-5 1-1 1 6 1-3 1-2 1 1 1 2 1-2 1 0 1 0 1-2 1 13 1-13 1 1 1 1 1 4 1-5 1 0 1 1 1 1 1-1 1 0 1-1 1 2 1-5 1 9 1-7 1 1 1 0 1 3 1-5 1 2 1-1 1 4 1 0 1 1 1-5 1-2 1 10 1-6 1-2 1 3 1 2 1 0 2 0 1-2 1-2 1-3 1 2 1 2 1 4 1-3 1-1 1 1 1-2 1 2 1-1 1-4 1 0 1 2 1 1 1-2 1 4 1-1 1 0 1 3 1-3 1 1 1 2 1-6 1 2 1 0 1 0 1 0 1 1 1-3 1 3 1-2 1 0 1 3 1 1 1-5 1 1 1-2 1 4 1-1 1-1 1 3 1-5 1 1 1 3 1-3 1 5 1 2 1-4 1 1 1-2 1 1 1-4 1 2 1 1 1 0 1 0 1-1 1 1 1 1 1-1 1-3 1 6 1 2 1-7 1 6 1-1 1 3 1-5 1-2 1 0 1 4 1-4 1 4 1-2 1-2 1 2 1-2 1 2 1-1 1 2 1-3 1 2 1-2 1-2 1 4 1 5 1-8 1 2 1-3 1 5 1-2 1 1 1 1 1-4 1 3 1 4 1-6 1 5 1 0 1-3 1-2 1 2 1-1 2 3 1-4 1 1 1 0 1-2 1 0 1 2 1 0 1-3 1 3 1 1 1-2 1 6 1-7 1 4 1-2 1 4 1-2 1-2 1-1 1 2 1-1 1 4 1-5 1 1 1 5 1-6 1 5 1-7 1 1 1 5 1-3 1 1 1 0 1-3 1 5 1-5 1 2 1 3 1 0 1-6 1 7 1-3 1 3 2-7 1 10 1-7 1-2 1 2 1 4 1-2 1-3 1 1 1 3 1 0 1-3 1-2 1 1 1 0 1 0 1 1 1 0 1-2 2 2 1 3 1-3 1 1 1-3 1 2 1 1 1 3 1-1 1 3 1-2 1-3 1-2 1 4 1-4 1 0 1 0 1 1 1-1 1 1 1-1 1 5 1 0 1-3 1 2 1 1 1-4 1 1 1 1 1 3 1-5 1 2 1-3 1-2 1 4 1-1 1-3 1 1 1 0 1 1 1-1 1 3 1 0 1-1 1-3 1 4 1 5 1-3 1-4 1-1 1 4 1-4 1 3 1-1 1 0 1 2 1-2 1 0 1 1 1-3 1 2 1-3 1 3 2 3 1-1 1-2 1 0 1-1 1 3 1 0 1 2 1-5 1 5 1-4 1 4 1-3 1-2 1-1 1 2 1 0 1 1 1 0 1 1 1 0 1-1 1 2 1-2 1 1 1-1 1-1 1-2 1 0 1 5 1-3 1 0 1-1 1 3 1 0 1-1 1-2 1 2 1-1 1-1 1 0 1 2 1-2 1-1 1 1 1 3 1-5 1 3 1-1 1-1 1 4 1-1 1 1 1-1 1-2 1 2 1-1 1 0 1 2 1-3 1-1 1 3 1-2 1 0 1 2 1-3 1 3 1-2 1 3 1 2 1 4 1-11 1 4 1 1 1-2 1 1 1-1 1-1 1-1 1 0 1 0 1 0 1 0 1 3 1-2 1 3 1 0 1 7 1-10 1 0 1-1 1 5 1-1 1-1 1-2 1 0 1 0 1 4 1 1 1-5 1-2 1 2 1 1 1 1 1-4 1 2 2 5 1-4 1 0 1 2 1-1 1-2 1 0 1 3 1-5 1 3 1-1 1 9 1-7 1 0 1 2 1-3 1 2 1-1 1 0 1-1 1 2 1-3 1 1 1-1 1 1 1-1 1-1 1 6 1-3 1-1 1 1 1-3 1 1 1 1 1-2 1 3 1 1 1-1 1 2 1-4 2 1 1-3 1 3 1 0 1-2 1 1 1 3 1-3 1-2 1 3 1-2 1 2 1 1 1-1 1-2 1 0 2 4 1-3 1 0 1-1 1 2 1 3 1-5 1 5 2-2 1-2 1 2 1 0 1 1 1-2 1-1 1 8 1-7 1-1 1 6 1-4 1-2 1 1 1 1 1 1 1-4 1 0 1 3 1-3 1 1 1 1 1 3 1-5 1 3 1-2 1 1 1 0 1 2 1 4 1-6 1 2 1-3 1 3 1-2 1 0 1 0 1-1 1-1 1 1 1 1 1 5 1-7 1 4 1-4 1 3 2-2 1 2 1 3 1-3 1 1 1-1 1-1 1 2 2 0 1-2 1 1 2 0 1 4 1-8 1 6 1-6 1 1 1 4 1 3 1-5 1 2 1 1 1-5 1 0 1 2 1 0 1-1 1 3 1-4 1 0 1 1 1 8 1-7 1-3 1 2 1 0 1 1 1 0 1-3 1 6 1 5 1-11 1 7 1-2 1 2 1-5 1 1 1-3 1 1 1-1 1 4 1 1 1-3 1-2 1 3 1 0 1 1 1-2 1 5 1-6 1 4 1-3 1 2 1-3 1 1 1-1 1 1 1-1 1 2 1 2 1-3 1 5 1-2 1-2 1 0 1-1 1-1 1 4 1-4 1 3 1-1 1-2 1 6 1-2 1-4 1 1 1-1 1 2 1-3 1 2 1 0 1-1 1 2 1 2 1-4 1 1 1-1 1 2 1-1 1 1 1 2 1-2 1-2 1 1 1-1 1 4 1-1 1 2 1-1 1-5 1 3 1 1 1-3 1 3 1-2 1 6 1-5 1-2 1 1 1 1 1-2 1 3 1-2 1 3 1-4 1 3 1-4 1 2 1-1 1 5 1-3 1 0 1-1 1 1 1-2 1 1 1 1 1-1 1-2 1 7 1-2 1-1 1-3 1 4 1-4 1 2 1 0 1-3 1 3 1 0 1 0 1-2 1 6 1-4 1-1 1 1 1-1 1 1 1 8 1-7 1-4 1 4 1-2 1 4 1-5 1 0 1-1 1 3 1-3 1 0 1 2 1-1 1 1 1 0 1 2 1-4 1 0 1 1 1-1 1 0 1 3 1-3 1 1 1 1 1 2 1 2 1-5 1 3 2 0 1-3 1 2 1 0 1 3 1-6 1 1 1 5 1-4 1 4 1-4 1-1 1 2 1 0 1 3 1 1 1-4 1 3 1-5 1 0 1-1 1 1 1-1 1 4 1-3 1 0 1 0 1 0 1 3 1 0 1 0 1-1 1 4 1-4 1-2 1 4 1-2 1-2 1 3 1 1 1-3 1 1 1 2 1-2 1-2 1-1 1 3 1 0 1-1 1 0 1-1 1 2 1 1 1-3 1 3 1 1 1 0 1-5 1 3 1 1 1-1 1-1 1-1 1 3 1-3 1 2 1-3 1 2 1 0 1 3 1-4 1 3 1-2 1-1 1 4 1 0 1-2 1 0 1 0 1-2 1 3 1-3 1 7 1-6 1-1 1 4 1-2 1-2 1 0 1 2 1 1 2-2 1 0 1 2 1 1 1-2 1 0 1-2 1-1 1 1 1 0 1 1 1-1 1 1 2-1 1 1 1 1 1 2 1-3 1 2 1-2 1 1 1-3 1 1 1 3 1-1 1-3 1 3 1-1 1-2 1 1 1 0 1 2 1 0 1 0 1 2 1-2 1 2 1-1 1-1 1 2 1-4 2 2 3 0" fill="none" stroke="#fd9409" stroke-width="3" stroke-linejoin="round"/>
</g>
<rect x="64.5" y="2865.7" width="2221.3" height="143.9" fill="none" stroke="#000" stroke-width="1.6"/>
<text x="48.4" y="3014" font-size="27.73" text-anchor="end" font-weight="normal" fill="#000">0</text>
<text x="48.4" y="2972.72" font-size="27.73" text-anchor="end" font-weight="normal" fill="#000">5</text>
<text x="48.4" y="2931.44" font-size="27.73" text-anchor="end" font-weight="normal" fill="#000">10</text>
<text x="48.4" y="2890.16" font-size="27.73" text-anchor="end" font-weight="normal" fill="#000">15</text>
<path d="M55.4 3004.1h8.3M55.4 2962.82h8.3M55.4 2921.54h8.3M55.4 2880.26h8.3" stroke="#000" stroke-width="2" fill="none"/>
<rect x="63.7" y="3028.25" width="2222.9" height="54.1" fill="#000"/>
<text x="1175.15" y="3065.45" font-size="27.73" text-anchor="middle" font-weight="normal" fill="#fff">Brooklyn</text>
<path d="M63.7 3220.75H2286.6M63.7 3179.47H2286.6M63.7 3138.19H2286.6M63.7 3096.91H2286.6M165.45 3082.35V3227.05M590.89 3082.35V3227.05M1015.16 3082.35V3227.05M1439.44 3082.35V3227.05M1863.72 3082.35V3227.05" stroke="#000" stroke-opacity="0.5" stroke-width="0.8" fill="none"/>
<path d="M63.7 3200.11H2286.6M63.7 3158.83H2286.6M63.7 3117.55H2286.6M378.17 3082.35V3227.05M802.45 3082.35V3227.05M1226.72 3082.35V3227.05M1651 3082.35V3227.05M2076.44 3082.35V3227.05" stroke="#000" stroke-opacity="0.38" stroke-width="0.6" fill="none"/>
<g transform="translate(165.45 3220.75) scale(1.1624 -8.256)">
<path d="M0 0V4l1 0 1 2 1 1 1-4 1 6 1-3 1-1 1 1 1 3 1-2 1-1 1 1 1-1 1 0 1-1 1 4 1-3 1 0 1 0 1-2 1 2 1 0 1 1 1-2 1 5 1-5 1-2 1 3 1 1 1 1 1-4 1-2 1 6 1 0 1-2 1 0 1 0 1 1 1-1 1 0 1-4 1 2 1 3 1 0 1-4 1 0 1-1 1 2 1 3 1 1 1-5 1 3 1-2 1-3 1 5 1-3 1 0 1 0 1-1 1 2 1 0 1-2 1 1 1 0 1-1 1 1 1 0 1 5 1 0 1-4 1 0 1-1 1-1 1 7 1-5 1 0 1 0 1 2 1-3 1 3 1-1 1 0 1-2 1 1 1 9 1-10 1 3 1 0 1 5 1-9 1 2 1 4 1-3 1-2 1-2 1 7 1-6 1 3 1-1 1 1 1 0 1 2 1-2 1 3 1-5 1-1 1 2 1 1 1-4 1 6 1-3 1 2 1-4 1-1 1 0 1 1 1 0 1 0 1 3 1-2 1-2 1 5 1-2 1-1 1-1 1-1 1 4 1-3 2 0 1 1 1 0 1-2 1 2 1-1 1 2 1-1 1 2 1-2 1-1 1 0 1 1 1 0 1-2 1 2 1 3 1-1 1-3 1 3 1-3 1 0 1 3 1-1 1-2 1 0 2-1 1 4 1-2 1 0 1 0 1 0 1 1 1 0 1-1 1-1 1 1 1 1 1-1 1-1 1 0 1 1 1-1 1 1 1-1 1-1 1 3 1 3 1-4 1-2 1 5 1-2 1-2 2 5 1-4 1-2 1 6 1-5 1 1 1 3 1-3 1-1 1 0 1 2 1 3 1-2 1-1 1-2 1 6 1-4 1 2 1 2 1-3 1-3 1-1 2 7 1 2 1-2 1-5 1 0 1 4 1-4 1 3 1 0 1-2 1 4 1-6 1 1 1 2 1 2 1-4 1 0 1 0 1-1 1 1 1 3 1-2 1 0 1-1 1-1 1 5 1-1 1-1 1 1 1-2 1 0 1-1 1 1 1-1 1 1 1 0 1-3 1 1 1 3 1-3 1 3 1-2 1-1 1 8 1-5 1 0 1 0 1-3 1 2 1 1 1-1 1 2 1-2 1-1 1 2 1-3 1 0 1 4 1-2 1 0 1 1 2 4 1-6 1 0 1 6 1-7 1 6 1-6 1 4 1-2 1 2 1-2 1-3 1 1 1 2 1-1 1 1 1 3 1-6 1 5 1 0 1-1 1 4 1-6 1 1 1 2 1-5 1 3 1-2 1 2 1 0 1-2 1 0 1 0 1 2 1-2 1 7 1-3 1 0 1-3 1 4 1-2 1-3 1 2 1-1 1 2 1-4 1 6 1-2 1 1 1-2 1 0 1 0 1-1 1 1 1 2 1 0 1-1 1-1 1 3 1-6 1 1 1 2 1 0 1 7 1-10 1 3 1 0 1-2 1 3 1-1 1 0 1 0 1 0 1 3 1-2 1 0 1 0 1-3 1 0 1 2 1-1 1 8 1-9 1 0 1-1 1 3 1-1 1 3 1-2 1-3 1 5 1 3 1-6 1 6 1-7 2 3 1-1 1-1 1-2 1 2 1-1 1 0 1 3 1 3 1-6 1 0 1 2 1-1 1 1 1-3 1 5 1-2 1 1 1-1 1 0 1 1 1-3 1 2 1-1 1 3 1 0 1-4 1 1 1-1 1 5 1-6 1 3 1 2 1-1 1-1 1 0 1 0 1-3 1 0 1 2 1 1 2 0 1 2 1-3 1-1 1 3 1-3 1 2 1 2 1 1 1-3 1 0 1-2 1 2 1-3 1 1 1 2 1 3 1-1 1 0 1-1 1-3 1 0 1 2 1-1 1 1 1 2 1 1 1-3 1 2 1-3 1 4 1-5 1 4 1-2 1-2 1 3 1-1 1-2 1 2 1 0 1 1 1-1 1 1 1-2 1-1 1 3 1-2 1 2 1-3 1 0 1 4 1-3 1 2 1-3 1 0 1 2 1 0 1-1 1 0 1-1 1 5 1-4 1 4 1 0 1-1 1-3 1 1 1 1 1-2 1 3 1-1 1-1 1-3 1 2 1 0 1 0 1 0 1 0 1-1 1 2 1-1 1-2 1 1 1 1 1 4 1-3 1 0 1 0 1 2 1-4 1 3 1-3 1 3 1 1 1 1 1-2 1 0 1 2 1-1 1-2 1 0 1 0 1-2 1 0 1 0 1 6 1-5 1 2 1-1 1 0 1-2 1 5 1-4 1 0 1 3 1-3 1 2 1 2 1-5 1 1 1 2 1 0 1 1 1-5 1 5 1 0 1-1 1 2 1-2 1 2 1-5 1 6 1-4 1-2 2 2 1 0 1-3 1 2 1-1 1 1 1 2 1-3 1 0 1 1 1 2 1-3 1 3 1-1 1 5 1-7 1 1 1 3 1-2 1-1 1-1 1 1 1 2 1 0 1-4 1 3 1-2 1 2 1 0 1 2 1-1 1-2 1 4 1 0 1-6 1 2 2 2 1 0 1 1 1-4 1-1 1 5 1 3 1-3 1-2 1 1 1 5 1-6 1 3 1 0 1 2 1-4 1-4 1 4 1 0 1-3 1 0 1 1 1-2 1 2 1 0 1 5 1-1 1-4 1 2 1 0 1-3 1 4 1-4 1 2 1-2 1 0 1 1 1 7 1-7 1 3 1-4 1 1 1 3 1-3 1 3 1-3 1 2 1-1 1 0 1-1 1 1 1 2 1-5 1 2 1 0 1-1 1 4 1-3 1 4 1-5 1 0 1 5 1-5 1 2 1-1 1 1 1 0 1 1 1-3 1 2 1 3 1-3 1-1 1 1 1-1 1 2 1-1 1 1 1 4 1-6 1 4 1-4 1-1 1 2 1 0 1 3 1-4 1 1 1-1 1 2 1-2 1 2 1-3 1 2 1-2 1 2 1 0 1-1 1 2 1 3 1-2 1-2 1-2 1 3 1-1 1-1 1-2 1 4 1 1 1-2 1 0 1 0 1 1 1-2 1-2 1 3 1-2 1-1 1 2 1 1 1-2 1 10 1-7 1 0 1 3 1-5 1 2 1-1 1 2 1-4 1 2 1 0 1 0 1 5 1-4 1 0 1-4 1 4 1-1 1-3 1 3 1 3 1-4 1-1 1 4 1-1 1 5 1-5 1 0 1-1 1 0 1-3 1 8 1-6 1 0 1-1 1 1 1 0 1 1 1 0 1 0 1-1 1 0 1 0 1 2 1 0 1 4 1-5 1 0 1-2 1 3 1 0 1-1 1 0 1-1 1-2 1 4 1-1 1 5 1-6 1 2 1 0 1-2 1 1 1-3 1 3 1 0 1 0 1 1 1-1 1-3 1 3 1-2 1 3 1-1 1 2 1-3 1 0 1 3 1-3 1 1 1 1 1 0 1 1 1-5 1 6 1-3 1-2 1 4 1-3 1 0 1-1 1 8 1-5 1-1 1 3 1-5 1 0 1 4 1-1 1-1 1-2 1 3 1-2 1-2 1 2 1-1 1 4 1-4 1 1 1 4 1-5 1 4 1-5 1 1 1 1 1-1 1 5 1-2 1-1 1-2 1 2 1-3 1 4 1-2 1 3 1-1 1 1 1 0 1 0 1-1 1-4 1 6 1-3 1 2 1-1 1 0 1-1 1-1 1 2 1-3 2 4 1 0 1-2 1 0 1-1 1 1 1-2 1 3 1 3 1-5 1-1 1-1 1 4 1-3 1 0 1 5 1-5 1 5 1-3 1-1 1 6 2-6 1 2 1 2 1-4 1-1 1 4 1-1 1-3 1 2 1 2 1-2 1 0 1 0 1 0 1-2 1 2 1-1 1 3 1-1 1-2 1 3 1-5 1 3 1 1 1-4 1 7 1-5 1 0 1-2 1 3 2-1 1-2 1 4 1-4 1 2 1 1 1 5 1-3 1-2 1-1 2 3 1 2 1-5 1 3 1-2 1-3 1 5 1-3 1-1 1 4 1-2 1 0 1 2 1-2 1-1 1 1 1 2 1-2 1-1 1 0 1 4 1-4 1 1 1-2 1 1 1 3 1-3 1-2 1 2 1 2 1-2 1 1 1 0 1 0 2 1 1-2 1-1 1 0 1 2 1 1 1-2 1-1 1 2 1-2 1 2 1 4 1-2 1-1 1-4 1 6 1 0 1-2 1 0 1 0 1-2 1-2 1 1 1 3 1 0 1 0 1-2 1 3 1-2 1-1 1 3 1-2 1 1 1-1 1 2 1-5 1 3 1-1 1 2 1-2 1-1 1 3 2-1 1-2 1 5 1-1 1-1 1 0 1-3 1 1 1 1 1-2 1 4 1-2 1 2 1-4 1 9 1-6 1-4 1 2 1 2 1 0 1 0 1-1 1 2 1-3 2-1 1 1 1 1 1 4 1-3 1 0 1 0 1-2 1 1 1 3 1-1 1-1 1 0 1 2 1-4 1-1 1 3 1-1 1 4 1-5 1 0 1-2 1 4 1-2 1 2 1 2 1-1 1 3 1-6 1 0 1 4 1-4 1-1 1 7 1-2 1 0 1-2 1-1 1 1 1-3 1 0 1 0 1 0 1-1 1 4 1 0 1-2 2 0 1 3 1-4 2 0 1 3 1-3 1-1 1 4 1 2 1-5 1 3 1 1 1-2 1-1 1 1 1 0 1-1 1 0 1 1 1 3 1-4 1-1 1 1 1 3 1 2 1-7 1 2 1 2 1-1 1-2 1 2 1 0 1-1 1 0 1 1 1-2 1 8 1-6 1 2 1-4 1 2 1-3 1 2 1 3 1-1 1-3 1 5 1 1 1-4 1 0 1-2 1 5 1-3 1 1 1-3 1 4 1-1 1-2 1 4 1 0 1-2 1-3 1 0 1 3 1-2 1 1 1 2 1-1 1 1 1-2 1 2 1-2 1-2 1 6 1-1 1-3 1-3 1 2 1 1 1 2 1 0 1-2 1-1 1-1 1 0 1 5 1-2 1 2 1 2 1-4 1 1 1 0 1-1 1 1 1-3 1-1 1 3 1 0 1 1 1-4 1 2 1 1 1-1 1-1 1 2 1 1 1-1 1 3 1-1 1-1 1-3 1 0 1 4 1-6 1 2 1 0 1 0 1-1 1 4 1-3 1-2 1 4 1-1 1 3 1-3 1 1 1-3 1 3 1-1 1-1 1 0 1 0 1 3 1-2 1-2 1 5 1-2 1-2 1 1 1 0 1 0 1 3 1-1 1-5 1 6 1-2 1-2 1 2 1-1 1-2 1 5 1-2 1 2 1 2 1-5 1 3 1-4 1 2 1 0 1-2 1 0 1 0 1 1 1 0 1 0 1-1 1 2 1 1 1-2 1 0 1-1 1 0 1 2 1-3 1 1 1 5 1-5 1 6 1-7 1 5 1-2 1-3 1 0 1 1 1 3 1-4 1 3 1-4 1 3 1 6 1-6 1 0 1 2 1-3 1 3 1-4 1 1 1 5 1-3 1 1 1-3 1 7 1-8 1 2 1 2 1-2 1 4 1-6 1 4 1 0 2-3 1 0 1 3 1-1 1-1 1 0 1 0 1-2 1 1 1 0 1 0 1 4 1-4 1-1 1 2 1 7 1-6 1-2 1-2 1 6 1 0 1-3 1 1 1-2 1 6 1-7 1 3 1 0 1-1 1-3 1 3 1-1 1 0 1 5 1-4 1 0 1-1 1 1 1-2 1 4 1-3 1 4 1-3 1 0 1-1 1 0 1 5 1-5 1 5 1-6 1 4 1-1 1-1 1-2 1 4 1-1 1 0 1-3 1 5 1-3 1 0 1 2 1-5 1 2 1 2 1-2 1 2 1-3 1 4 1 1 1-2 1 1 1 1 1 0 1 8 1-14 1 0 1 4 1 5 1-3 1-5 1 0 1 2 1-2 1 2 1 3 1-2 1 0 1 5 1-5 1-2 1-1 1 0 2 2 1 5 1-5 1-2 1 1 1 2 1-2 1-1 2 1 1-1 1 5 1-4 1 1 1-1 1 1 1-3 1 3 1-1 1 1 1-1 1-1 1 6 1-5 1 2 1-3 1 0 1 1 1-1 1 5 1-4 1 0 1 0 1 4 1-2 1-3 1 6 1-2 1-3 1 4 1-2 1 0 1-2 1 1 1 0 1 1 1-3 1 0 1 2 1 2 1-4 1 4 1-2 1-1 1 5 1-5 1 1 1-2 1 4 1-2 1 0 1 3 2-3 1 5 1-2 1-4 1-1 1 1 1 0 1 2 1-1 1 0 1 1 1-2 1 2 1-2 1 2 1 1 1-1 1 0 1-1 1 0 1 0 1 4 1-5 1-1 1 2 1 1 1-1 1-3 1 2 1 1 1-2 1-1 1 1 1 2 1-2 2 0 1 1 1-1 1 0 1-1 1 0 1 1 1 2 1 1 1-1 1 1 1-2 1-2 1 0 1 5 1-3 2 2 1-2 1 1 1 1 1-1 1-2 1 1 1 0 1 1 1 1 1 0 1 0 1 0 1 0 1-3 1 4 1 1 1-6 1 0 1 4 1-3 1 4 1-3 1 4 1-5 1 3 1-1 1 6 1-6 1 0 1 0 1 1 1 0 1-1 1 1 1-3 1-1 1 0 1 3 1 0 1-2 1 4 1-2 1-2 1 3 1-3 1 4 1-2 1-2 1 0 1 0 1 3 1 0 1 1 1 4 1-4 1-4 1 1 1 1 1-2 1 2 1-2 1 0 1 0 1 2 1 2 1-5 1 4 1 2 1-3 1 2 1-5 1 5 1-1 1-3 2 1 1 1 1 0 1 2 1-5 1 3 1 1 1 0 1-2 1 0 1-1 1 3 1-1 1-2 1 3 1-3 1 2 1 1 1-3 1 1 1-1 1 1 1 1 1-1 1 3 1-2 1-3 1 4 1-4 1 2 1 0 1 4 1-4 1-2 1 3 1 2 1 1 1-5 1 4 1-1 1 1 1-2 1 3 1-4 2 1 1 1 1 2 1-2 1-2 1 1 1-3 1 0 1 2 1 0 1 1 1-3 1 3 1 0 1 3 1 0 1-3 1-2 1 5 1-1 1 1 1-5 1 1 2 0 1 0 1 0 2 1 1 1 1-2 1 2 1 1 1-1 1 4 1-6 1 0 1 0 1 2 1-2 2 3 1 0 1 1 1-5 1 2 1-3 1 4 1-2 1 0 1 0 1 2 1 1 1-2 1-2 1-1 1 0 1 1 1 4 1-5 1 0 1 1 1 4 1 1 1-1 1-4 1-1 2 1 1 2 1 2 1-3 1 0 1 2 1 0 1 2 1 0 1-4 1-1 1-1 1 0 1 4 1-1 1 0 1-3 2 2 1 2 1 0 1-3 1 2 1-1 1-1 1 1 1 1 1 0 1-2 1 4 1-1 1-1 1 0 1-2 1 1 1 3 1 0 1-1 1-1 1 0 1-3 1 0 1 1 1-1 1 1 1 5 1-3 1-3 1 2 1-1 1-1 1 2 1 1 1-3 1 6 1-1 1-3 1 1 1 0 1-1 1-2 1 5 2-1 1-2 1-1 1 4 1-3 1 0V0z" fill="#fd9409" fill-opacity="0.51"/>
<path class="ns" d="M0 4l1 0 1 2 1 1 1-4 1 6 1-3 1-1 1 1 1 3 1-2 1-1 1 1 1-1 1 0 1-1 1 4 1-3 1 0 1 0 1-2 1 2 1 0 1 1 1-2 1 5 1-5 1-2 1 3 1 1 1 1 1-4 1-2 1 6 1 0 1-2 1 0 1 0 1 1 1-1 1 0 1-4 1 2 1 3 1 0 1-4 1 0 1-1 1 2 1 3 1 1 1-5 1 3 1-2 1-3 1 5 1-3 1 0 1 0 1-1 1 2 1 0 1-2 1 1 1 0 1-1 1 1 1 0 1 5 1 0 1-4 1 0 1-1 1-1 1 7 1-5 1 0 1 0 1 2 1-3 1 3 1-1 1 0 1-2 1 1 1 9 1-10 1 3 1 0 1 5 1-9 1 2 1 4 1-3 1-2 1-2 1 7 1-6 1 3 1-1 1 1 1 0 1 2 1-2 1 3 1-5 1-1 1 2 1 1 1-4 1 6 1-3 1 2 1-4 1-1 1 0 1 1 1 0 1 0 1 3 1-2 1-2 1 5 1-2 1-1 1-1 1-1 1 4 1-3 2 0 1 1 1 0 1-2 1 2 1-1 1 2 1-1 1 2 1-2 1-1 1 0 1 1 1 0 1-2 1 2 1 3 1-1 1-3 1 3 1-3 1 0 1 3 1-1 1-2 1 0 2-1 1 4 1-2 1 0 1 0 1 0 1 1 1 0 1-1 1-1 1 1 1 1 1-1 1-1 1 0 1 1 1-1 1 1 1-1 1-1 1 3 1 3 1-4 1-2 1 5 1-2 1-2 2 5 1-4 1-2 1 6 1-5 1 1 1 3 1-3 1-1 1 0 1 2 1 3 1-2 1-1 1-2 1 6 1-4 1 2 1 2 1-3 1-3 1-1 2 7 1 2 1-2 1-5 1 0 1 4 1-4 1 3 1 0 1-2 1 4 1-6 1 1 1 2 1 2 1-4 1 0 1 0 1-1 1 1 1 3 1-2 1 0 1-1 1-1 1 5 1-1 1-1 1 1 1-2 1 0 1-1 1 1 1-1 1 1 1 0 1-3 1 1 1 3 1-3 1 3 1-2 1-1 1 8 1-5 1 0 1 0 1-3 1 2 1 1 1-1 1 2 1-2 1-1 1 2 1-3 1 0 1 4 1-2 1 0 1 1 2 4 1-6 1 0 1 6 1-7 1 6 1-6 1 4 1-2 1 2 1-2 1-3 1 1 1 2 1-1 1 1 1 3 1-6 1 5 1 0 1-1 1 4 1-6 1 1 1 2 1-5 1 3 1-2 1 2 1 0 1-2 1 0 1 0 1 2 1-2 1 7 1-3 1 0 1-3 1 4 1-2 1-3 1 2 1-1 1 2 1-4 1 6 1-2 1 1 1-2 1 0 1 0 1-1 1 1 1 2 1 0 1-1 1-1 1 3 1-6 1 1 1 2 1 0 1 7 1-10 1 3 1 0 1-2 1 3 1-1 1 0 1 0 1 0 1 3 1-2 1 0 1 0 1-3 1 0 1 2 1-1 1 8 1-9 1 0 1-1 1 3 1-1 1 3 1-2 1-3 1 5 1 3 1-6 1 6 1-7 2 3 1-1 1-1 1-2 1 2 1-1 1 0 1 3 1 3 1-6 1 0 1 2 1-1 1 1 1-3 1 5 1-2 1 1 1-1 1 0 1 1 1-3 1 2 1-1 1 3 1 0 1-4 1 1 1-1 1 5 1-6 1 3 1 2 1-1 1-1 1 0 1 0 1-3 1 0 1 2 1 1 2 0 1 2 1-3 1-1 1 3 1-3 1 2 1 2 1 1 1-3 1 0 1-2 1 2 1-3 1 1 1 2 1 3 1-1 1 0 1-1 1-3 1 0 1 2 1-1 1 1 1 2 1 1 1-3 1 2 1-3 1 4 1-5 1 4 1-2 1-2 1 3 1-1 1-2 1 2 1 0 1 1 1-1 1 1 1-2 1-1 1 3 1-2 1 2 1-3 1 0 1 4 1-3 1 2 1-3 1 0 1 2 1 0 1-1 1 0 1-1 1 5 1-4 1 4 1 0 1-1 1-3 1 1 1 1 1-2 1 3 1-1 1-1 1-3 1 2 1 0 1 0 1 0 1 0 1-1 1 2 1-1 1-2 1 1 1 1 1 4 1-3 1 0 1 0 1 2 1-4 1 3 1-3 1 3 1 1 1 1 1-2 1 0 1 2 1-1 1-2 1 0 1 0 1-2 1 0 1 0 1 6 1-5 1 2 1-1 1 0 1-2 1 5 1-4 1 0 1 3 1-3 1 2 1 2 1-5 1 1 1 2 1 0 1 1 1-5 1 5 1 0 1-1 1 2 1-2 1 2 1-5 1 6 1-4 1-2 2 2 1 0 1-3 1 2 1-1 1 1 1 2 1-3 1 0 1 1 1 2 1-3 1 3 1-1 1 5 1-7 1 1 1 3 1-2 1-1 1-1 1 1 1 2 1 0 1-4 1 3 1-2 1 2 1 0 1 2 1-1 1-2 1 4 1 0 1-6 1 2 2 2 1 0 1 1 1-4 1-1 1 5 1 3 1-3 1-2 1 1 1 5 1-6 1 3 1 0 1 2 1-4 1-4 1 4 1 0 1-3 1 0 1 1 1-2 1 2 1 0 1 5 1-1 1-4 1 2 1 0 1-3 1 4 1-4 1 2 1-2 1 0 1 1 1 7 1-7 1 3 1-4 1 1 1 3 1-3 1 3 1-3 1 2 1-1 1 0 1-1 1 1 1 2 1-5 1 2 1 0 1-1 1 4 1-3 1 4 1-5 1 0 1 5 1-5 1 2 1-1 1 1 1 0 1 1 1-3 1 2 1 3 1-3 1-1 1 1 1-1 1 2 1-1 1 1 1 4 1-6 1 4 1-4 1-1 1 2 1 0 1 3 1-4 1 1 1-1 1 2 1-2 1 2 1-3 1 2 1-2 1 2 1 0 1-1 1 2 1 3 1-2 1-2 1-2 1 3 1-1 1-1 1-2 1 4 1 1 1-2 1 0 1 0 1 1 1-2 1-2 1 3 1-2 1-1 1 2 1 1 1-2 1 10 1-7 1 0 1 3 1-5 1 2 1-1 1 2 1-4 1 2 1 0 1 0 1 5 1-4 1 0 1-4 1 4 1-1 1-3 1 3 1 3 1-4 1-1 1 4 1-1 1 5 1-5 1 0 1-1 1 0 1-3 1 8 1-6 1 0 1-1 1 1 1 0 1 1 1 0 1 0 1-1 1 0 1 0 1 2 1 0 1 4 1-5 1 0 1-2 1 3 1 0 1-1 1 0 1-1 1-2 1 4 1-1 1 5 1-6 1 2 1 0 1-2 1 1 1-3 1 3 1 0 1 0 1 1 1-1 1-3 1 3 1-2 1 3 1-1 1 2 1-3 1 0 1 3 1-3 1 1 1 1 1 0 1 1 1-5 1 6 1-3 1-2 1 4 1-3 1 0 1-1 1 8 1-5 1-1 1 3 1-5 1 0 1 4 1-1 1-1 1-2 1 3 1-2 1-2 1 2 1-1 1 4 1-4 1 1 1 4 1-5 1 4 1-5 1 1 1 1 1-1 1 5 1-2 1-1 1-2 1 2 1-3 1 4 1-2 1 3 1-1 1 1 1 0 1 0 1-1 1-4 1 6 1-3 1 2 1-1 1 0 1-1 1-1 1 2 1-3 2 4 1 0 1-2 1 0 1-1 1 1 1-2 1 3 1 3 1-5 1-1 1-1 1 4 1-3 1 0 1 5 1-5 1 5 1-3 1-1 1 6 2-6 1 2 1 2 1-4 1-1 1 4 1-1 1-3 1 2 1 2 1-2 1 0 1 0 1 0 1-2 1 2 1-1 1 3 1-1 1-2 1 3 1-5 1 3 1 1 1-4 1 7 1-5 1 0 1-2 1 3 2-1 1-2 1 4 1-4 1 2 1 1 1 5 1-3 1-2 1-1 2 3 1 2 1-5 1 3 1-2 1-3 1 5 1-3 1-1 1 4 1-2 1 0 1 2 1-2 1-1 1 1 1 2 1-2 1-1 1 0 1 4 1-4 1 1 1-2 1 1 1 3 1-3 1-2 1 2 1 2 1-2 1 1 1 0 1 0 2 1 1-2 1-1 1 0 1 2 1 1 1-2 1-1 1 2 1-2 1 2 1 4 1-2 1-1 1-4 1 6 1 0 1-2 1 0 1 0 1-2 1-2 1 1 1 3 1 0 1 0 1-2 1 3 1-2 1-1 1 3 1-2 1 1 1-1 1 2 1-5 1 3 1-1 1 2 1-2 1-1 1 3 2-1 1-2 1 5 1-1 1-1 1 0 1-3 1 1 1 1 1-2 1 4 1-2 1 2 1-4 1 9 1-6 1-4 1 2 1 2 1 0 1 0 1-1 1 2 1-3 2-1 1 1 1 1 1 4 1-3 1 0 1 0 1-2 1 1 1 3 1-1 1-1 1 0 1 2 1-4 1-1 1 3 1-1 1 4 1-5 1 0 1-2 1 4 1-2 1 2 1 2 1-1 1 3 1-6 1 0 1 4 1-4 1-1 1 7 1-2 1 0 1-2 1-1 1 1 1-3 1 0 1 0 1 0 1-1 1 4 1 0 1-2 2 0 1 3 1-4 2 0 1 3 1-3 1-1 1 4 1 2 1-5 1 3 1 1 1-2 1-1 1 1 1 0 1-1 1 0 1 1 1 3 1-4 1-1 1 1 1 3 1 2 1-7 1 2 1 2 1-1 1-2 1 2 1 0 1-1 1 0 1 1 1-2 1 8 1-6 1 2 1-4 1 2 1-3 1 2 1 3 1-1 1-3 1 5 1 1 1-4 1 0 1-2 1 5 1-3 1 1 1-3 1 4 1-1 1-2 1 4 1 0 1-2 1-3 1 0 1 3 1-2 1 1 1 2 1-1 1 1 1-2 1 2 1-2 1-2 1 6 1-1 1-3 1-3 1 2 1 1 1 2 1 0 1-2 1-1 1-1 1 0 1 5 1-2 1 2 1 2 1-4 1 1 1 0 1-1 1 1 1-3 1-1 1 3 1 0 1 1 1-4 1 2 1 1 1-1 1-1 1 2 1 1 1-1 1 3 1-1 1-1 1-3 1 0 1 4 1-6 1 2 1 0 1 0 1-1 1 4 1-3 1-2 1 4 1-1 1 3 1-3 1 1 1-3 1 3 1-1 1-1 1 0 1 0 1 3 1-2 1-2 1 5 1-2 1-2 1 1 1 0 1 0 1 3 1-1 1-5 1 6 1-2 1-2 1 2 1-1 1-2 1 5 1-2 1 2 1 2 1-5 1 3 1-4 1 2 1 0 1-2 1 0 1 0 1 1 1 0 1 0 1-1 1 2 1 1 1-2 1 0 1-1 1 0 1 2 1-3 1 1 1 5 1-5 1 6 1-7 1 5 1-2 1-3 1 0 1 1 1 3 1-4 1 3 1-4 1 3 1 6 1-6 1 0 1 2 1-3 1 3 1-4 1 1 1 5 1-3 1 1 1-3 1 7 1-8 1 2 1 2 1-2 1 4 1-6 1 4 1 0 2-3 1 0 1 3 1-1 1-1 1 0 1 0 1-2 1 1 1 0 1 0 1 4 1-4 1-1 1 2 1 7 1-6 1-2 1-2 1 6 1 0 1-3 1 1 1-2 1 6 1-7 1 3 1 0 1-1 1-3 1 3 1-1 1 0 1 5 1-4 1 0 1-1 1 1 1-2 1 4 1-3 1 4 1-3 1 0 1-1 1 0 1 5 1-5 1 5 1-6 1 4 1-1 1-1 1-2 1 4 1-1 1 0 1-3 1 5 1-3 1 0 1 2 1-5 1 2 1 2 1-2 1 2 1-3 1 4 1 1 1-2 1 1 1 1 1 0 1 8 1-14 1 0 1 4 1 5 1-3 1-5 1 0 1 2 1-2 1 2 1 3 1-2 1 0 1 5 1-5 1-2 1-1 1 0 2 2 1 5 1-5 1-2 1 1 1 2 1-2 1-1 2 1 1-1 1 5 1-4 1 1 1-1 1 1 1-3 1 3 1-1 1 1 1-1 1-1 1 6 1-5 1 2 1-3 1 0 1 1 1-1 1 5 1-4 1 0 1 0 1 4 1-2 1-3 1 6 1-2 1-3 1 4 1-2 1 0 1-2 1 1 1 0 1 1 1-3 1 0 1 2 1 2 1-4 1 4 1-2 1-1 1 5 1-5 1 1 1-2 1 4 1-2 1 0 1 3 2-3 1 5 1-2 1-4 1-1 1 1 1 0 1 2 1-1 1 0 1 1 1-2 1 2 1-2 1 2 1 1 1-1 1 0 1-1 1 0 1 0 1 4 1-5 1-1 1 2 1 1 1-1 1-3 1 2 1 1 1-2 1-1 1 1 1 2 1-2 2 0 1 1 1-1 1 0 1-1 1 0 1 1 1 2 1 1 1-1 1 1 1-2 1-2 1 0 1 5 1-3 2 2 1-2 1 1 1 1 1-1 1-2 1 1 1 0 1 1 1 1 1 0 1 0 1 0 1 0 1-3 1 4 1 1 1-6 1 0 1 4 1-3 1 4 1-3 1 4 1-5 1 3 1-1 1 6 1-6 1 0 1 0 1 1 1 0 1-1 1 1 1-3 1-1 1 0 1 3 1 0 1-2 1 4 1-2 1-2 1 3 1-3 1 4 1-2 1-2 1 0 1 0 1 3 1 0 1 1 1 4 1-4 1-4 1 1 1 1 1-2 1 2 1-2 1 0 1 0 1 2 1 2 1-5 1 4 1 2 1-3 1 2 1-5 1 5 1-1 1-3 2 1 1 1 1 0 1 2 1-5 1 3 1 1 1 0 1-2 1 0 1-1 1 3 1-1 1-2 1 3 1-3 1 2 1 1 1-3 1 1 1-1 1 1 1 1 1-1 1 3 1-2 1-3 1 4 1-4 1 2 1 0 1 4 1-4 1-2 1 3 1 2 1 1 1-5 1 4 1-1 1 1 1-2 1 3 1-4 2 1 1 1 1 2 1-2 1-2 1 1 1-3 1 0 1 2 1 0 1 1 1-3 1 3 1 0 1 3 1 0 1-3 1-2 1 5 1-1 1 1 1-5 1 1 2 0 1 0 1 0 2 1 1 1 1-2 1 2 1 1 1-1 1 4 1-6 1 0 1 0 1 2 1-2 2 3 1 0 1 1 1-5 1 2 1-3 1 4 1-2 1 0 1 0 1 2 1 1 1-2 1-2 1-1 1 0 1 1 1 4 1-5 1 0 1 1 1 4 1 1 1-1 1-4 1-1 2 1 1 2 1 2 1-3 1 0 1 2 1 0 1 2 1 0 1-4 1-1 1-1 1 0 1 4 1-1 1 0 1-3 2 2 1 2 1 0 1-3 1 2 1-1 1-1 1 1 1 1 1 0 1-2 1 4 1-1 1-1 1 0 1-2 1 1 1 3 1 0 1-1 1-1 1 0 1-3 1 0 1 1 1-1 1 1 1 5 1-3 1-3 1 2 1-1 1-1 1 2 1 1 1-3 1 6 1-1 1-3 1 1 1 0 1-1 1-2 1 5 2-1 1-2 1-1 1 4 1-3 1 0" fill="none" stroke="#fd9409" stroke-width="3" stroke-linejoin="round"/>
</g>
<rect x="64.5" y="3082.35" width="2221.3" height="143.9" fill="none" stroke="#000" stroke-width="1.6"/>
<text x="48.4" y="3230.65" font-size="27.73" text-anchor="end" font-weight="normal" fill="#000">0</text>
<text x="48.4" y="3189.37" font-size="27.73" text-anchor="end" font-weight="normal" fill="#000">5</text>
<text x="48.4" y="3148.09" font-size="27.73" text-anchor="end" font-weight="normal" fill="#000">10</text>
<text x="48.4" y="3106.81" font-size="27.73" text-anchor="end" font-weight="normal" fill="#000">15</text>
<path d="M55.4 3220.75h8.3M55.4 3179.47h8.3M55.4 3138.19h8.3M55.4 3096.91h8.3" stroke="#000" stroke-width="2" fill="none"/>
<rect x="63.7" y="3244.9" width="2222.9" height="54.1" fill="#000"/>
<text x="1175.15" y="3282.1" font-size="27.73" text-anchor="middle" font-weight="normal" fill="#fff">Manhattan</text>
<path d="M63.7 3437.4H2286.6M63.7 3396.12H2286.6M63.7 3354.84H2286.6M63.7 3313.56H2286.6M165.45 3299V3443.7M590.89 3299V3443.7M1015.16 3299V3443.7M1439.44 3299V3443.7M1863.72 3299V3443.7" stroke="#000" stroke-opacity="0.5" stroke-width="0.8" fill="none"/>
<path d="M63.7 3416.76H2286.6M63.7 3375.48H2286.6M63.7 3334.2H2286.6M378.17 3299V3443.7M802.45 3299V3443.7M1226.72 3299V3443.7M1651 3299V3443.7M2076.44 3299V3443.7" stroke="#000" stroke-opacity="0.38" stroke-width="0.6" fill="none"/>
<g transform="translate(165.45 3437.4) scale(1.1624 -8.256)">
<path d="M0 0V1l1 6 1-6 1 1 1-1 1 0 1 0 2 0 1 0 1 1 1-1 1 4 2-4 1 1 1 0 1 0 1 1 2 0 1-1 1 0 1-1 1 3 1-2 1 2 1-1 1 2 1-2 1 0 1-2 1 0 1 4 1-3 2 1 1 2 1-3 1 0 1 2 1-1 1-1 1 3 1-4 1 0 1 4 1-2 1-2 1 1 2 0 1 0 1 0 1 0 1-1 1 1 1 0 1 0 1 0 1 0 1 0 1 3 1-3 1 1 1 0 1-2 1 0 1 1 1 1 1 1 1-1 1 0 2-2 1 1 1 0 1-1 1 0 2 2 1-2 2 2 1-1 1 1 1 1 1-1 1-1 1-1 1 2 1-2 3 1 1-1 1 2 1-1 1-1 3 3 1 0 1 0 1-3 1 4 1-2 1 0 1-2 1 3 1-2 1 2 1-2 2 0 1 0 1 0 1 1 1-2 1 1 1 0 1 0 2 2 1 0 1-3 1 1 1 3 2-2 1 0 1-1 1-1 1 1 1 3 1-4 1 0 2 0 1 0 1 0 1 1 1 0 1-1 2 2 1 1 1-2 1-1 1 3 1-2 1 0 1-1 1 3 1-3 1 1 1 0 1 1 1-2 1 0 1 2 1-1 1 0 1 1 1-1 2 1 1 0 1 0 1 1 1-2 1 1 1-2 1 0 1 2 1-2 1 0 1 0 1 2 1-2 1 2 1-2 1 1 1-1 1 1 2-1 1 1 2 0 1 2 1-3 1 2 1-2 2 1 1 1 1-1 2-1 1 0 1 0 1 0 1 0 2 1 1 0 2 1 3 0 1-1 1 0 1 0 1-1 1 1 2-1 3 2 1 1 1-2 1 1 1-2 1 0 1 1 3 0 1-1 1 2 1 0 1-1 1-1 1 0 1 1 1-1 1 0 1 4 1-3 1 0 3-1 1 1 1-1 1 2 1-2 1 2 1-2 2 4 1-3 1-1 1 0 1 0 2 1 1 3 1-3 1 1 1-1 1 2 1-2 1 4 1-4 1 0 1 1 1-1 1 3 1-4 2 0 1 0 1 0 1 1 1 0 1 0 1-1 3 1 1 1 1 0 1-2 1 1 2 0 1-1 1 2 1-1 1-1 2 3 1-1 3-1 1 1 2-1 1 0 1 0 1 0 1 0 1 1 1 0 1 1 1-2 1 0 1 2 1-1 1 0 1-2 1 1 1 0 1 0 1 2 2 0 1-1 1-2 1 1 1-1 1 3 3-1 1-1 2 0 1 0 1-1 1 2 1 1 1-2 1 0 1 0 1 0 1-1 1 2 1 1 1-3 1 0 1 1 1-1 1 2 1 2 1-4 1 1 1 0 1 2 1-3 3 2 2 0 1-1 1 2 1-2 1 0 1 1 1 0 1-1 1 3 1-4 1 0 1 1 1-1 1 2 1 2 1-2 1-1 1 2 1-3 1 0 1 1 2 2 2-3 1 2 1 0 1 1 1-3 1 2 1-2 1 1 1 0 1-1 2 1 1-1 1 0 1 0 1 0 2 0 1 0 1 0 1 1 1 0 1 1 1-1 1 0 1 1 1-2 1 2 1 2 1-3 1 0 1 0 1 0 2-1 1 3 1-2 1 1 2-1 1-1 2 2 1-2 1 2 1 0 3-2 1 0 1 1 1 1 1 2 1-4 1 0 1 1 1 0 1-1 1 1 1-1 2 0 1 1 1-1 1 1 1-1 1 1 1 1 1-2 1 1 1 2 1-3 1 2 2 1 1-1 1-2 2 1 2-1 2 0 1 0 1 1 1 0 1-1 2 1 2 0 1-1 1 2 1-1 1 2 1-2 2 0 1-1 2 4 1-4 1 0 1 1 1 0 1 2 2-1 1-2 1 1 1 2 1-1 1 1 1 0 1-2 1 5 1-6 1 1 1 0 1-1 1 2 1-2 1 0 1 1 1 0 1-1 1 1 1 0 1-1 1 1 1 0 1-1 1 3 1 0 1-1 1 2 1-4 1 2 2-1 1-1 1 1 1 1 1-1 1 0 1 0 1 0 1-1 1 2 3-1 1 0 1-1 1 1 2 0 2-1 1 3 1-3 1 1 1 0 1 0 1 3 1-3 1 1 2-2 1 1 1 0 1-1 1 0 1 1 1-1 1 1 1-1 1 5 1-4 1-1 1 1 1-1 1 0 1 4 1-3 1-1 1 0 1 0 1 1 1 2 1-2 1-1 2 2 1 0 1 1 1-3 1 1 2 1 2 3 1-2 2-2 1 1 1-2 1 1 2-1 1 1 1 0 2 0 1 0 1 0 2 2 2-2 1 3 2-2 1-2 1 2 2-1 1 1 1-1 1-1 1 0 1 1 1 0 1 0 1 0 3-1 1 2 2-2 1 0 1 5 1-3 1-1 1 2 1-1 1 0 1-2 1 0 1 2 2 1 1-3 1 1 1-1 1 3 1-3 2 3 1-1 1 0 1-2 1 0 1 0 1 0 1 0 1 3 1-2 1-1 1 0 1 1 2-1 1 0 1 0 1 1 2 0 1 0 2-1 1 1 3 0 2 2 1-3 2 2 1-1 1 0 2 1 1-2 1 0 1 0 1 0 1 2 2-1 1-1 1 1 1 0 3-1 1 1 1-1 1 0 1 2 1 0 1-1 1-1 1 0 1 0 4 2 1-1 1-1 2 0 2 1 2-1 1 1 1-1 3 0 1 0 1 1 1 3 1-4 1 1 1 0 1 1 1-1 1 0 1-1 1 1 1-1 1 0 1 0 1 6 1-5 1-1 1 0 1 0 1 1 1-1 1 3 1-2 1 1 2-1 1 0 1-1 1 2 1-1 1-1 1 3 1-1 1-1 1 0 1 0 1-1 1 1 1 0 1 0 1-1 1 4 1-3 1 1 2-2 1 0 1 3 1-1 1 0 1 0 1 0 1-2 1 3 2-3 1 3 2-2 1 0 2 0 1 0 1-1 1 0 2 0 1 1 1-1 1 1 1 0 1 2 1-1 1-2 1 1 1-1 1 0 1 2 1-1 1 1 2-2 1 1 1 0 1 1 1 0 1 0 1 0 1-1 1-1 1 0 1 1 1 1 1 1 1-2 1 0 1-1 1 0 1 1 1 1 1 1 1-2 1-1 1 0 2 1 1 0 1 2 1-3 1 1 1-1 2 0 1 0 1 1 1 0 2 0 1 0 1 1 1-2 2 0 1 0 1 0 1 1 1-1 1 3 1-3 1 0 2 0 1 2 1-2 1 1 1 1 1 0 3-2 1 1 1 0 2-1 1 1 1-1 1 0 1 0 1 3 1-3 1 1 1-1 1 0 1 3 1-3 2 1 1 0 1 0 1-1 3 2 1-2 1 0 1 0 1 1 1 2 1 0 1-3 1 0 1 2 1 0 2 0 1 0 1-1 1-1 1 1 1 0 1 0 1 0 1 0 1 0 1 2 1-2 1-1 2 1 1-1 1 1 1 0 2-1 2 1 1-1 1 2 1-2 1 4 1-3 1 2 1-2 1-1 1 0 1 1 1 0 1 0 1 1 1-2 1 0 1 0 1 2 1 0 1 0 1-1 1 2 2-1 1 3 1-3 1 0 1 0 1 0 1-2 1 2 1-2 1 1 1 3 1-2 1-2 1 2 3-1 1 0 1 0 1 0 1-1 1 3 1-1 1-1 1 1 1-2 1 1 1 2 1-1 1-1 1 1 1-2 1 0 4 0 1 2 1-2 2 0 1 2 1-2 1 1 2 0 1 1 2-1 1 0 2 0 3 0 1 1 1-1 1 0 1 3 1-4 1 0 1 2 1-2 1 2 1-1 1 0 1-1 1 1 1-1 1 5 1-5 1 1 1 1 1-2 1 0 1 2 1-1 1 0 1 0 2-1 1 3 1 0 1-3 1 3 1-2 1 2 1-2 1-1 1 1 1-1 1 2 1-2 2 0 1 1 2 0 1 1 1 2 1-3 1-1 1 2 1 0 1-1 1 0 2 0 1 1 2 0 1 1 1-1 2-1 1 1 1-1 1 1 1-1 1 2 1 0 1-3 3 1 1 0 1 1 1 0 1-1 1 0 1 1 1-2 1 3 1-2 1 0 1-1 1 3 1 0 1-3 1 0 2 1 1 0 1 1 1 0 1-1 1 1 1 3 2-4 1-1 1 3 1-3 2 2 1-2 1 4 1-4 1 0 1 2 1-2 2 1 1-1 2 4 1-3 1 2 1 0 2-3 1 2 1-2 2 1 1 0 1 0 1 1 1 0 1 1 1-3 1 2 1-2 1 1 1-1 1 1 1-1 2 1 1 2 1 0 2 1 1-3 1-1 1 0 1 1 1 0 1-1 1 1 1-1 1 1 2-1 1 0 1 1 1 3 1-3 1 1 1 0 1-2 1 0 1 1 1 0 1 1 1-1 1 0 1 0 1 3 1-2 1-1 1 2 1-1 1 0 1-1 1 1 1 1 2-1 1 4 1-6 1 2 1 0 1 0 1 0 1-1 1-1 1 2 1 3 1-5 1 2 1-1 1-1 1 1 2 2 1-1 1 1 1-1 1-1 1-1 1 1 1 1 1-1 1 3 1-3 3 1 1-1 1 1 1 0 1-1 1 1 2 1 1-1 1 0 1 1 1-3 1 2 1-1 1-1 1 1 1 0 1 0 2-1 1 2 1-2 1 2 2 3 1-3 1-1 1-1 1 0 1 1 1 4 1-2 1-2 1-1 1 1 1 1 1-2 1 0 1 0 1 2 1-1 1 2 1-2 1 0 1 0 2 1 1-1 1 0 1-1 1 0 2 0 1 5 2-4 1 0 2 1 1 1 1-1 1-2 1 0 1 1 1 1 1-2 1 2 1 0 1 4 1-4 1 0 1-1 2-1 1 1 1-1 1 0 1 3 1-2 1 0 1-1 1 1 1 0 1 1 1 0 1-2 1 1 1 1 1-1 1 1 1-2 1 2 2-2 2 0 1 0 1 1 1 0 1 4 1-3 1 0 1 0 1-2 1 0 1 2 1-2 1 0 1 1 1 1 1-1 1 0 1 1 1 0 1-2 1 1 1 3 1-4 1 2 1-1 1-1 1 2 2 0 1-2 1 2 1-1 1 2 1-1 1-2 3 2 2 1 1-2 1 1 1 0 1-1 1 3 2-4 1 0 1 4 1-3 2 0 1-1 1 3 1-3 1 2 1-1 1-1 1 5 2-2 1-1 1 3 1-4 1 2 1-2 1 2 1 5 1-6 1 1 1-3 1 0 1 1 1 0 1 0 1 0 1 0 1 1 1 0 1 3 1-4 1 1 1 1 1-3 1 0 1 2 1 0 1-1 1 2 1 1 1-1 1 2 1-3 1 1 1-3 1 2 1-1 1 1 1-2 1 0 1 4 1-3 1 0 1 0 1-1 2 1 1 1 1-2 1 2 1-1 1 0 1 2 1-1 1 1 1-3 1 0 1 3 1 0 1-2 1 3 1 0 2-3 1 0 1 1 1 0 1-1 1 0 1-1 1 2 1-2 1 0 1 0 2 3 1-2 1 1 1-2 1 0 1 1 1 0 1 6 2-4 1 1 1-2 2-1 1 1 1-2 1 3 1 0 1 0 2-1 1-1 1 1 1-1 1 0 1 0 1-1 1 1 1 0 1-1 1 5 1-4 1 2 1-2 1 1 1 1 1-3 1 3 3-2 1 3 1-2 1 1 1-3 1 0 1 2 1 0 1 0 1-1 1 3 1-3 1 0 1 1 1 0 1-1 1 5 1-3 1-3 2 3 2-3 1 1 2 0 1-1 1 0 1 2 1-2 2 4 1-3 2 1 1 0 1-1 1 0 1-1 1 1 1 1 1 0 1 0 1 1 1-3 1 1 1 0 1 0 1 1 1 0 1 1 1-3 1 0 3 1 1 1 1 0 1 2 2-2 1 2 1-3 1 3 2-3 2-1 1 2 1-2 1 4 2-2 1 0 1-2 1 2 1 0 1-2 1 1 2 0 1-1 1 0 1 1 1 4 1-3 2 0 1 0 1-2 1 1 1-1 1 3 1-3 1 0 1 2 1 1 1 0 1-2 1 0 1 5 1-5 1 0 1 0 1 3 1-3 1-1 1 4 1-3 1-1 2 1 1 0 1 1 1-1 1-1 1 1 1 1 1-1 1 1 1-2 1 0 1 4 1 0 1-1 3-1 1 0 1 0 3-2 1 1 1 3 1-1 1 3 1-4 1-1 1-1 1 4 2-1 1 0 1-2 1-1 1 0 1 6 1-3 2-3 1 4 1-3 1 4 1-2 1-2 1 1 1-1 1-1 1 1 1-1 1 1 1 4 1-2 1-3 1 0 1 0 1 0 1 1 1 0 1 1 1-1 1 0 1-1 1 1 1 2 1-3 1 2 1 0 1-1 2 1 2 0 1-2 1 0 1 2 1 0 1 0 1 0 1 0 1 0 1 0 1 4 1-4 1-2 1 3 1-3 1 3 1-3 1 2 1 2 1-3 1 0 1 3 1-2 1-2 1 2 1-1 1 0 1-1 1 3 1-2 1 0 2-1 1 1 1 0 2-1 1 6 1-5 1 2 1-2 1 6 1-3 1-4 1 2 1-2 2 3 1-2 1 2 1-3 1 0 1 4 1-3 2-1 1 0 1 2 1-2 3 1 1 0 1 0 1 2 2 0 1 1 1-4 1 1 1 1 1-1 1-1 1 3 1-1 1-1 1 1 1-2 1 2 1-1 1 1 1 3 1-4 1-1 2 2 1 1 1-2 1 1 1-2 1 4 1-3V0z" fill="#fd9409" fill-opacity="0.51"/>
<path class="ns" d="M0 1l1 6 1-6 1 1 1-1 1 0 1 0 2 0 1 0 1 1 1-1 1 4 2-4 1 1 1 0 1 0 1 1 2 0 1-1 1 0 1-1 1 3 1-2 1 2 1-1 1 2 1-2 1 0 1-2 1 0 1 4 1-3 2 1 1 2 1-3 1 0 1 2 1-1 1-1 1 3 1-4 1 0 1 4 1-2 1-2 1 1 2 0 1 0 1 0 1 0 1-1 1 1 1 0 1 0 1 0 1 0 1 0 1 3 1-3 1 1 1 0 1-2 1 0 1 1 1 1 1 1 1-1 1 0 2-2 1 1 1 0 1-1 1 0 2 2 1-2 2 2 1-1 1 1 1 1 1-1 1-1 1-1 1 2 1-2 3 1 1-1 1 2 1-1 1-1 3 3 1 0 1 0 1-3 1 4 1-2 1 0 1-2 1 3 1-2 1 2 1-2 2 0 1 0 1 0 1 1 1-2 1 1 1 0 1 0 2 2 1 0 1-3 1 1 1 3 2-2 1 0 1-1 1-1 1 1 1 3 1-4 1 0 2 0 1 0 1 0 1 1 1 0 1-1 2 2 1 1 1-2 1-1 1 3 1-2 1 0 1-1 1 3 1-3 1 1 1 0 1 1 1-2 1 0 1 2 1-1 1 0 1 1 1-1 2 1 1 0 1 0 1 1 1-2 1 1 1-2 1 0 1 2 1-2 1 0 1 0 1 2 1-2 1 2 1-2 1 1 1-1 1 1 2-1 1 1 2 0 1 2 1-3 1 2 1-2 2 1 1 1 1-1 2-1 1 0 1 0 1 0 1 0 2 1 1 0 2 1 3 0 1-1 1 0 1 0 1-1 1 1 2-1 3 2 1 1 1-2 1 1 1-2 1 0 1 1 3 0 1-1 1 2 1 0 1-1 1-1 1 0 1 1 1-1 1 0 1 4 1-3 1 0 3-1 1 1 1-1 1 2 1-2 1 2 1-2 2 4 1-3 1-1 1 0 1 0 2 1 1 3 1-3 1 1 1-1 1 2 1-2 1 4 1-4 1 0 1 1 1-1 1 3 1-4 2 0 1 0 1 0 1 1 1 0 1 0 1-1 3 1 1 1 1 0 1-2 1 1 2 0 1-1 1 2 1-1 1-1 2 3 1-1 3-1 1 1 2-1 1 0 1 0 1 0 1 0 1 1 1 0 1 1 1-2 1 0 1 2 1-1 1 0 1-2 1 1 1 0 1 0 1 2 2 0 1-1 1-2 1 1 1-1 1 3 3-1 1-1 2 0 1 0 1-1 1 2 1 1 1-2 1 0 1 0 1 0 1-1 1 2 1 1 1-3 1 0 1 1 1-1 1 2 1 2 1-4 1 1 1 0 1 2 1-3 3 2 2 0 1-1 1 2 1-2 1 0 1 1 1 0 1-1 1 3 1-4 1 0 1 1 1-1 1 2 1 2 1-2 1-1 1 2 1-3 1 0 1 1 2 2 2-3 1 2 1 0 1 1 1-3 1 2 1-2 1 1 1 0 1-1 2 1 1-1 1 0 1 0 1 0 2 0 1 0 1 0 1 1 1 0 1 1 1-1 1 0 1 1 1-2 1 2 1 2 1-3 1 0 1 0 1 0 2-1 1 3 1-2 1 1 2-1 1-1 2 2 1-2 1 2 1 0 3-2 1 0 1 1 1 1 1 2 1-4 1 0 1 1 1 0 1-1 1 1 1-1 2 0 1 1 1-1 1 1 1-1 1 1 1 1 1-2 1 1 1 2 1-3 1 2 2 1 1-1 1-2 2 1 2-1 2 0 1 0 1 1 1 0 1-1 2 1 2 0 1-1 1 2 1-1 1 2 1-2 2 0 1-1 2 4 1-4 1 0 1 1 1 0 1 2 2-1 1-2 1 1 1 2 1-1 1 1 1 0 1-2 1 5 1-6 1 1 1 0 1-1 1 2 1-2 1 0 1 1 1 0 1-1 1 1 1 0 1-1 1 1 1 0 1-1 1 3 1 0 1-1 1 2 1-4 1 2 2-1 1-1 1 1 1 1 1-1 1 0 1 0 1 0 1-1 1 2 3-1 1 0 1-1 1 1 2 0 2-1 1 3 1-3 1 1 1 0 1 0 1 3 1-3 1 1 2-2 1 1 1 0 1-1 1 0 1 1 1-1 1 1 1-1 1 5 1-4 1-1 1 1 1-1 1 0 1 4 1-3 1-1 1 0 1 0 1 1 1 2 1-2 1-1 2 2 1 0 1 1 1-3 1 1 2 1 2 3 1-2 2-2 1 1 1-2 1 1 2-1 1 1 1 0 2 0 1 0 1 0 2 2 2-2 1 3 2-2 1-2 1 2 2-1 1 1 1-1 1-1 1 0 1 1 1 0 1 0 1 0 3-1 1 2 2-2 1 0 1 5 1-3 1-1 1 2 1-1 1 0 1-2 1 0 1 2 2 1 1-3 1 1 1-1 1 3 1-3 2 3 1-1 1 0 1-2 1 0 1 0 1 0 1 0 1 3 1-2 1-1 1 0 1 1 2-1 1 0 1 0 1 1 2 0 1 0 2-1 1 1 3 0 2 2 1-3 2 2 1-1 1 0 2 1 1-2 1 0 1 0 1 0 1 2 2-1 1-1 1 1 1 0 3-1 1 1 1-1 1 0 1 2 1 0 1-1 1-1 1 0 1 0 4 2 1-1 1-1 2 0 2 1 2-1 1 1 1-1 3 0 1 0 1 1 1 3 1-4 1 1 1 0 1 1 1-1 1 0 1-1 1 1 1-1 1 0 1 0 1 6 1-5 1-1 1 0 1 0 1 1 1-1 1 3 1-2 1 1 2-1 1 0 1-1 1 2 1-1 1-1 1 3 1-1 1-1 1 0 1 0 1-1 1 1 1 0 1 0 1-1 1 4 1-3 1 1 2-2 1 0 1 3 1-1 1 0 1 0 1 0 1-2 1 3 2-3 1 3 2-2 1 0 2 0 1 0 1-1 1 0 2 0 1 1 1-1 1 1 1 0 1 2 1-1 1-2 1 1 1-1 1 0 1 2 1-1 1 1 2-2 1 1 1 0 1 1 1 0 1 0 1 0 1-1 1-1 1 0 1 1 1 1 1 1 1-2 1 0 1-1 1 0 1 1 1 1 1 1 1-2 1-1 1 0 2 1 1 0 1 2 1-3 1 1 1-1 2 0 1 0 1 1 1 0 2 0 1 0 1 1 1-2 2 0 1 0 1 0 1 1 1-1 1 3 1-3 1 0 2 0 1 2 1-2 1 1 1 1 1 0 3-2 1 1 1 0 2-1 1 1 1-1 1 0 1 0 1 3 1-3 1 1 1-1 1 0 1 3 1-3 2 1 1 0 1 0 1-1 3 2 1-2 1 0 1 0 1 1 1 2 1 0 1-3 1 0 1 2 1 0 2 0 1 0 1-1 1-1 1 1 1 0 1 0 1 0 1 0 1 0 1 2 1-2 1-1 2 1 1-1 1 1 1 0 2-1 2 1 1-1 1 2 1-2 1 4 1-3 1 2 1-2 1-1 1 0 1 1 1 0 1 0 1 1 1-2 1 0 1 0 1 2 1 0 1 0 1-1 1 2 2-1 1 3 1-3 1 0 1 0 1 0 1-2 1 2 1-2 1 1 1 3 1-2 1-2 1 2 3-1 1 0 1 0 1 0 1-1 1 3 1-1 1-1 1 1 1-2 1 1 1 2 1-1 1-1 1 1 1-2 1 0 4 0 1 2 1-2 2 0 1 2 1-2 1 1 2 0 1 1 2-1 1 0 2 0 3 0 1 1 1-1 1 0 1 3 1-4 1 0 1 2 1-2 1 2 1-1 1 0 1-1 1 1 1-1 1 5 1-5 1 1 1 1 1-2 1 0 1 2 1-1 1 0 1 0 2-1 1 3 1 0 1-3 1 3 1-2 1 2 1-2 1-1 1 1 1-1 1 2 1-2 2 0 1 1 2 0 1 1 1 2 1-3 1-1 1 2 1 0 1-1 1 0 2 0 1 1 2 0 1 1 1-1 2-1 1 1 1-1 1 1 1-1 1 2 1 0 1-3 3 1 1 0 1 1 1 0 1-1 1 0 1 1 1-2 1 3 1-2 1 0 1-1 1 3 1 0 1-3 1 0 2 1 1 0 1 1 1 0 1-1 1 1 1 3 2-4 1-1 1 3 1-3 2 2 1-2 1 4 1-4 1 0 1 2 1-2 2 1 1-1 2 4 1-3 1 2 1 0 2-3 1 2 1-2 2 1 1 0 1 0 1 1 1 0 1 1 1-3 1 2 1-2 1 1 1-1 1 1 1-1 2 1 1 2 1 0 2 1 1-3 1-1 1 0 1 1 1 0 1-1 1 1 1-1 1 1 2-1 1 0 1 1 1 3 1-3 1 1 1 0 1-2 1 0 1 1 1 0 1 1 1-1 1 0 1 0 1 3 1-2 1-1 1 2 1-1 1 0 1-1 1 1 1 1 2-1 1 4 1-6 1 2 1 0 1 0 1 0 1-1 1-1 1 2 1 3 1-5 1 2 1-1 1-1 1 1 2 2 1-1 1 1 1-1 1-1 1-1 1 1 1 1 1-1 1 3 1-3 3 1 1-1 1 1 1 0 1-1 1 1 2 1 1-1 1 0 1 1 1-3 1 2 1-1 1-1 1 1 1 0 1 0 2-1 1 2 1-2 1 2 2 3 1-3 1-1 1-1 1 0 1 1 1 4 1-2 1-2 1-1 1 1 1 1 1-2 1 0 1 0 1 2 1-1 1 2 1-2 1 0 1 0 2 1 1-1 1 0 1-1 1 0 2 0 1 5 2-4 1 0 2 1 1 1 1-1 1-2 1 0 1 1 1 1 1-2 1 2 1 0 1 4 1-4 1 0 1-1 2-1 1 1 1-1 1 0 1 3 1-2 1 0 1-1 1 1 1 0 1 1 1 0 1-2 1 1 1 1 1-1 1 1 1-2 1 2 2-2 2 0 1 0 1 1 1 0 1 4 1-3 1 0 1 0 1-2 1 0 1 2 1-2 1 0 1 1 1 1 1-1 1 0 1 1 1 0 1-2 1 1 1 3 1-4 1 2 1-1 1-1 1 2 2 0 1-2 1 2 1-1 1 2 1-1 1-2 3 2 2 1 1-2 1 1 1 0 1-1 1 3 2-4 1 0 1 4 1-3 2 0 1-1 1 3 1-3 1 2 1-1 1-1 1 5 2-2 1-1 1 3 1-4 1 2 1-2 1 2 1 5 1-6 1 1 1-3 1 0 1 1 1 0 1 0 1 0 1 0 1 1 1 0 1 3 1-4 1 1 1 1 1-3 1 0 1 2 1 0 1-1 1 2 1 1 1-1 1 2 1-3 1 1 1-3 1 2 1-1 1 1 1-2 1 0 1 4 1-3 1 0 1 0 1-1 2 1 1 1 1-2 1 2 1-1 1 0 1 2 1-1 1 1 1-3 1 0 1 3 1 0 1-2 1 3 1 0 2-3 1 0 1 1 1 0 1-1 1 0 1-1 1 2 1-2 1 0 1 0 2 3 1-2 1 1 1-2 1 0 1 1 1 0 1 6 2-4 1 1 1-2 2-1 1 1 1-2 1 3 1 0 1 0 2-1 1-1 1 1 1-1 1 0 1 0 1-1 1 1 1 0 1-1 1 5 1-4 1 2 1-2 1 1 1 1 1-3 1 3 3-2 1 3 1-2 1 1 1-3 1 0 1 2 1 0 1 0 1-1 1 3 1-3 1 0 1 1 1 0 1-1 1 5 1-3 1-3 2 3 2-3 1 1 2 0 1-1 1 0 1 2 1-2 2 4 1-3 2 1 1 0 1-1 1 0 1-1 1 1 1 1 1 0 1 0 1 1 1-3 1 1 1 0 1 0 1 1 1 0 1 1 1-3 1 0 3 1 1 1 1 0 1 2 2-2 1 2 1-3 1 3 2-3 2-1 1 2 1-2 1 4 2-2 1 0 1-2 1 2 1 0 1-2 1 1 2 0 1-1 1 0 1 1 1 4 1-3 2 0 1 0 1-2 1 1 1-1 1 3 1-3 1 0 1 2 1 1 1 0 1-2 1 0 1 5 1-5 1 0 1 0 1 3 1-3 1-1 1 4 1-3 1-1 2 1 1 0 1 1 1-1 1-1 1 1 1 1 1-1 1 1 1-2 1 0 1 4 1 0 1-1 3-1 1 0 1 0 3-2 1 1 1 3 1-1 1 3 1-4 1-1 1-1 1 4 2-1 1 0 1-2 1-1 1 0 1 6 1-3 2-3 1 4 1-3 1 4 1-2 1-2 1 1 1-1 1-1 1 1 1-1 1 1 1 4 1-2 1-3 1 0 1 0 1 0 1 1 1 0 1 1 1-1 1 0 1-1 1 1 1 2 1-3 1 2 1 0 1-1 2 1 2 0 1-2 1 0 1 2 1 0 1 0 1 0 1 0 1 0 1 0 1 4 1-4 1-2 1 3 1-3 1 3 1-3 1 2 1 2 1-3 1 0 1 3 1-2 1-2 1 2 1-1 1 0 1-1 1 3 1-2 1 0 2-1 1 1 1 0 2-1 1 6 1-5 1 2 1-2 1 6 1-3 1-4 1 2 1-2 2 3 1-2 1 2 1-3 1 0 1 4 1-3 2-1 1 0 1 2 1-2 3 1 1 0 1 0 1 2 2 0 1 1 1-4 1 1 1 1 1-1 1-1 1 3 1-1 1-1 1 1 1-2 1 2 1-1 1 1 1 3 1-4 1-1 2 2 1 1 1-2 1 1 1-2 1 4 1-3" fill="none" stroke="#fd9409" stroke-width="3" stroke-linejoin="round"/>
</g>
<rect x="64.5" y="3299" width="2221.3" height="143.9" fill="none" stroke="#000" stroke-width="1.6"/>
<text x="48.4" y="3447.3" font-size="27.73" text-anchor="end" font-weight="normal" fill="#000">0</text>
<text x="48.4" y="3406.02" font-size="27.73" text-anchor="end" font-weight="normal" fill="#000">5</text>
<text x="48.4" y="3364.74" font-size="27.73" text-anchor="end" font-weight="normal" fill="#000">10</text>
<text x="48.4" y="3323.46" font-size="27.73" text-anchor="end" font-weight="normal" fill="#000">15</text>
<path d="M55.4 3437.4h8.3M55.4 3396.12h8.3M55.4 3354.84h8.3M55.4 3313.56h8.3" stroke="#000" stroke-width="2" fill="none"/>
<rect x="63.7" y="3461.55" width="2222.9" height="54.1" fill="#000"/>
<text x="1175.15" y="3498.75" font-size="27.73" text-anchor="middle" font-weight="normal" fill="#fff">Queens</text>
<path d="M63.7 3654.05H2286.6M63.7 3612.77H2286.6M63.7 3571.49H2286.6M63.7 3530.21H2286.6M165.45 3515.65V3660.35M590.89 3515.65V3660.35M1015.16 3515.65V3660.35M1439.44 3515.65V3660.35M1863.72 3515.65V3660.35" stroke="#000" stroke-opacity="0.5" stroke-width="0.8" fill="none"/>
<path d="M63.7 3633.41H2286.6M63.7 3592.13H2286.6M63.7 3550.85H2286.6M378.17 3515.65V3660.35M802.45 3515.65V3660.35M1226.72 3515.65V3660.35M1651 3515.65V3660.35M2076.44 3515.65V3660.35" stroke="#000" stroke-opacity="0.38" stroke-width="0.6" fill="none"/>
<g transform="translate(165.45 3654.05) scale(1.1624 -8.256)">
<path d="M0 0V3l1 2 1-4 1 0 1 2 1 2 1-3 1 0 1 3 1-3 1-1 1 2 1 1 1 0 1-3 1 2 1 1 1 0 1-2 1 0 1 0 1-1 3 1 1 2 1-2 1 1 1-2 1 0 1 3 1-1 1 1 1 2 1-4 1 3 1-2 1-1 2-1 1 2 1 1 1-2 1 1 1 2 1-1 1 0 1-3 1 1 1 3 1 0 1-4 1 2 1-1 1 0 1 4 1-5 1 3 1-3 1 2 1 2 1-1 1-2 1 0 1 0 1-1 1 2 1 1 1-1 2 2 1-4 1 1 1 0 1-1 1 3 1-3 1 0 1 1 1 1 1-1 1-1 1 3 1-2 1 0 1 2 1 1 1-3 1 2 1 0 1-1 1 0 2 3 1-4 1-1 1 0 1 2 1-2 1 3 1 1 1-3 2 1 2-2 1 1 1 1 1 1 1 0 1-1 1-1 1 2 1-3 1 2 1-1 1 0 1 1 1 1 1-3 1 5 1-4 1 2 1-1 1-2 1 2 1-1 1 1 1 0 1 1 1 1 1-4 1 4 1-1 1-1 1 1 1-1 1-1 1 1 2 1 1-2 1 0 1 0 1 2 2-2 1 2 1-1 1 0 1 2 1-4 1 1 1 3 1-1 1-3 1 4 1-3 1 3 1-3 1 1 1-2 1 4 1-1 1-2 1 0 1-1 2 3 3-2 2 1 2 0 1 0 1-2 1 2 1-2 2 1 1 0 1 0 1-1 1 5 1-5 1 0 1 0 1 0 1 0 1 1 1-1 1 2 1-1 1-1 2 1 1-1 1 0 1 3 1-2 1 0 1 3 1-4 1 2 1-1 1 2 1-2 1-1 1 1 1 0 2-1 2 1 1-1 1 3 1-1 1-2 1 0 1 0 1 4 1-2 1-2 1 1 1 1 1-2 1 2 1 0 1 1 1 0 1-1 1-1 1 2 1-3 1 0 2 0 1 1 1 1 1-1 1-1 1 1 1 2 1-1 1-1 1-1 1 2 1-1 1 2 1-1 1-1 1 0 1-1 1 0 1 4 1-4 1 1 1 1 1 1 1-1 1-1 1 1 1-1 1 1 1 1 1-2 1-1 1 4 1-4 1 2 1 0 1-1 1-1 1 2 1 0 1-2 1 3 1-2 1 0 1-1 1 3 1-3 1 1 1 2 1-3 1 1 1 1 1 0 1-1 1-1 1 6 1-5 1 1 1-2 1 1 1-1 1 1 1 2 1 0 1-2 1 1 1-1 1 0 1-1 1 3 1-3 1 1 1 0 1-1 1 0 1 3 1 0 1-2 1 1 1 1 1-2 1 2 1 0 1 0 2-2 1 0 1 3 1-4 1 1 1 1 1 1 1-1 1-2 2 2 1 0 1-1 1 1 1-2 2 1 1-1 1 2 1 0 1-2 1 3 2-3 1 0 2 3 2-3 1 2 1 0 1-1 1 0 1-1 1 2 1 0 1-2 1 2 1 0 1 1 1-1 1-1 2-1 1 3 1 0 1-2 1 0 1 0 1 0 1 0 1 2 1-3 1 2 1 0 1-2 1 0 1 1 1 2 1 0 1-3 1 0 1 2 1 1 1-3 2 1 2 0 1 2 1-3 1 0 2 3 1-1 1 3 1-5 1 2 1 3 1-4 1 2 1-2 1 1 1 0 2 0 2-1 1-1 1 3 1-1 3 1 1-3 1 0 1 1 1 1 1-1 1 1 1 2 1-4 1 2 1 1 1-2 1 1 1 0 1-1 1 2 1-3 1 2 1-2 1 3 1-2 1 0 1 0 1 2 1-2 1 1 1-1 2 2 1-1 1-2 1 1 1 0 1-1 1 1 1-1 1 4 1-4 1 2 1-2 1 1 1 0 1 1 1 0 1 1 1-2 1 0 1 0 1-1 1 2 1 0 1-2 1 2 1-1 1 1 1-1 1-1 1 3 1 0 1-1 1 1 1-1 1 1 1 0 2-3 1 1 1 1 1-2 1 2 1-1 1-1 1 3 1-2 1-1 1 2 1-1 1-1 1 2 1 1 1-1 1-2 2 4 1-4 1 2 1 1 1-2 1 0 1-1 2 2 1-1 1 2 1-3 1 0 1 1 1 1 1 1 1-2 1 0 1-1 1 3 1-1 1-2 2 1 1 1 1 1 3-3 1 2 1-2 1 1 1 2 1-3 1 3 1-2 1 0 1 0 1 2 1 0 1-3 2 1 1 2 1-1 1 0 1-1 1 1 1-2 1 2 1-1 1-1 1 0 1 0 1 2 1 0 1-1 1 0 1-1 1 4 1-2 1-2 1 0 1 1 1 0 1 0 1 1 1-2 1 2 2-1 1 1 1-2 1 1 1 3 1-2 1 1 1-3 1 2 1-2 1 1 1 0 1 2 1 0 1-3 1 0 2 5 1-3 1-1 2 2 1-1 2-2 1 1 1 1 1-1 1-1 1 2 1-2 1 4 1-4 1 3 1 0 1-3 1 2 2 1 1 0 1 2 1-2 1 0 1-2 1 2 1-2 2 0 1-1 1 2 1-1 1 1 1-1 1 1 1 1 1-2 1 1 1-1 1-1 1 2 1-1 1-1 1 1 1 0 1-1 1 1 1 1 1-1 1-1 1 3 1 0 1 0 4 0 1 0 1-1 1 0 1 0 1-1 1 1 1 1 1-1 1 1 1-3 1 1 1 2 1-3 1 0 1 3 1-2 1-1 1 2 1-1 1 2 2-1 1-2 1 1 1 0 1 0 1 1 1-1 1 0 1-1 1 0 1 1 1 0 1 1 1-1 1 0 1-1 1 0 1 1 1 0 1 2 1-2 1-1 2 1 1 0 1 2 1-1 1 4 1-3 1-2 1 1 1-2 1 2 1 0 1 3 1-4 1-1 1 2 1 1 1-3 2 1 1 5 1-4 1 1 1-2 1 3 1-2 1 0 1-2 1 0 1 2 1 1 1-1 1-2 1 1 1 1 1-2 1 3 1 0 1 1 1-3 1 0 1 3 1-2 1-2 1 1 2 1 1 0 1 2 1-2 1-1 1 2 1-3 1 5 1-5 1 2 1-2 2 2 1 0 1-2 1 6 1-5 1 2 1-1 1-1 1 1 1 0 1 2 1-1 1-1 1 4 1-5 1 1 1-1 1 6 1-4 1-3 1 1 1 0 2 1 1 0 1 1 1 1 1 0 1-4 1 3 1-1 2 1 1 0 1-3 1 2 1 0 1-2 2 1 1 0 1 1 1-1 1-1 1 0 1 1 1 3 1-3 1-1 1 0 1 2 1 2 1-1 1-2 1 0 1 0 1 2 1 0 1-3 1 0 1 7 1-4 1-3 1 3 1-3 1 1 1 3 1-3 1 1 1 0 1 2 1-1 1 0 1-3 2 2 1 3 1-2 1 0 1-1 1 0 1-1 1 1 1 0 1 0 1-2 1 1 1 0 1 0 1-1 1 3 1 0 1 1 2 1 1-4 1 1 1 1 1-1 1-2 1 1 2 5 1-6 1 2 1 0 1 1 2 0 1-1 1 1 1-3 1 2 1 0 1 0 1 1 1-1 1 0 1 1 1 2 1-3 1 0 2 0 1 1 1-1 1-1 1 0 1 0 1 0 1 1 1-1 1 1 1 1 1 1 1-4 1 2 1 1 1-2 1 1 1 0 1 0 1 2 1-4 1 3 1 3 1-4 1-2 1 2 1-2 1 2 1 3 2-4 1 1 1-2 1 0 1 1 1 2 1 1 1-1 1-2 1 1 1 0 1 1 1 0 1-3 2 2 1 1 1-1 1-2 1 1 1-1 1 0 1 4 1-4 1 2 1 3 1-5 1 2 1-1 1 2 1-2 1-1 1 4 1-3 1 1 1 1 1-1 1 0 1 1 1-2 1 0 1 5 1-4 1-1 1 1 1-1 2 0 1 2 1 1 1-4 1 0 1 0 1 0 2 3 1-2 1-1 1 0 1 4 1 2 1-3 1-1 1-1 1 0 1 1 1-1 1 2 1-1 2 0 1 2 1-4 1 3 1 0 1-1 1 3 2-4 1 2 1 0 1-2 1 0 1-1 1 6 1-2 1-2 1-1 1 3 1-3 1 4 1-3 1 2 1-1 1-3 1 1 2 0 1 2 1-1 1 0 2 0 1 1 1 0 1-1 1-2 1 2 1-1 1 1 1-1 2 2 1-1 2 1 1-1 1-1 1 3 2-3 2-1 1 2 1 0 1 0 1-1 1 4 1-5 1 1 1-1 1 3 2 0 1-1 1-1 1 1 2 0 1 0 1-1 1 2 1-1 1 1 1-1 1-1 1-1 1 2 1-1 1 0 1 2 1-2 1 2 1-1 1 2 1-1 1-2 1 5 1-6 2 1 1 0 1 2 1 1 1-4 1 1 1 0 1 2 1-2 1 2 1 2 1-2 1-2 1 0 1-1 1 1 1 6 1-7 1 1 1 7 1-8 1 0 2 2 1-2 1 0 1 4 2-4 1 1 1-1 1 3 1-3 1 1 1 2 1-1 1-2 1 0 1 3 3 1 1-1 1 1 1-3 1 2 1-2 1 4 1-2 1 0 1 2 1-2 1-1 1 4 1-3 1-3 1 1 1 1 1 0 1-1 1 2 1-2 1 0 1 0 1 2 1 0 1-1 1-1 1 0 1 4 1-3 1-2 1 2 1-1 1 3 1-4 1 1 1-1 1 0 1 5 1-4 1 0 1 1 1 0 1 1 1 0 1 1 1-2 1 1 1-3 1 1 1 1 1 0 1 1 1-3 2 2 1-2 1 1 1 2 1-2 1 0 1 0 1 2 1 2 1-4 1 4 1-3 1-2 1 0 2 3 1-2 1 1 1-1 1 6 2-5 2-1 1 2 1 0 2 1 1 0 1-4 2 5 1-5 1 2 1 1 1-2 1 2 1 0 1-1 1-2 1 5 1-3 1 3 1-4 1-1 1 4 1-2 1 0 1 0 1-1 1 2 2-3 1 2 1 2 1-4 1 0 1 1 1-1 1 0 1 2 1 1 1 1 1-3 1 2 1-1 1 0 1 0 1 2 1 2 1-5 1 1 2-1 1 0 1 2 1-1 1 0 1-1 1 4 1-5 1 1 1-1 1 1 1 0 1 4 1-2 1-3 1 3 1-2 1 4 1-1 1-3 1 1 1-1 1-1 1 1 1-1 1 1 1 0 1 3 1-3 2 1 1-1 1 4 1-3 1-1 1-1 1 2 1-2 1 1 1 2 1-1 1 2 1-4 1 2 1-2 1 5 1-5 1 2 1 0 1 3 1-5 1 0 1 4 1-1 1-2 1 2 1 3 1-5 1 3 1-3 1 1 1-2 1 0 1 2 1 1 1-1 1 4 1-3 1-2 1-1 1 4 1-1 1-3 1 0 1 0 1 5 1-3 1 0 1-1 1-1 1 1 1 3 1 0 1-4 1 0 1 0 2 0 1 2 1-2 1 2 1 1 1 3 1-2 2-2 1 3 1-3 1-1 1-1 1 2 1-1 1 0 1 0 1 0 1 0 1 0 1 2 1 1 1-4 1 2 1-1 1 1 1-2 1 3 1-1 1 4 1-2 1-4 1 9 1-7 1-1 1 0 1 3 1-4 1 2 1-1 1 3 1-2 1 2 1-3 1 1 1-2 1 2 1 4 1-6 1 1 2 0 1 1 1 3 1-2 1 3 2-4 1-2 1 6 1-4 1 1 1-1 1-1 1 3 1-3 1 0 1 0 3-1 1 0 1 1 1 3 1-2 1-2 1 3 1-2 1 1 2-2 1 5 1-4 1 0 1 3 1-3 1 0 1-1 1 1 1 0 1 1 1-2 1 2 1-2 1 2 1 1 1 0 2-1 1-1 1 2 2-3 1 0 1 0 1 0 1 1 1 4 2 2 1-4 2 1 1-1 1-1 1-2 1 3 1-3 1 5 1-3 1 1 1-2 1 2 1-1 1 0 1 2 1-4 1 2 1 0 1 0 2 4 1-4 1-1 1 2 1 1 1-2 1 0 1-1 1-1 1 1 1 2 1 3 1-3 1 0 1-3 1 3 1 3 1-5 1 1 1-1 1 2 1-3 1 2 2 3 1-5 1 1 1 0 1 2 1 2 1-4 1-1 1 3 2-3 1 2 1 3 1-5 1 0 1 3 1-2 2-1 1 0 1 3 1 2 1-4 1 1 1 3 1-4 1 3 1 0 1-4 1 4 1-4 1 4 1-3 1-1 1 1 1 1 1-1 1 3 2-1 1 0 1-1 1 2 1 2 2-3 1 1 1-3 1 1 1-1 1 5 1-3 1-2 1 0 1 1 1 0 1-2 1 3 1 1 1-2 1 0 1 4 1-4 1-1 1 0 1 1 2-1 1-1 1 1 1-1 3 2 1 0 1 0 1 2 1-3 1 2 1-3 1 0 1 0 1 2 1-1 1 3 1-4 1 1 1 0 1 1 1-1 1-1 1 1 1 0 1-1 1 1 1 1 1 0 1-2 1 0 1 2 1-1 1 0 1-1 1 5 1-3 1-1 1 2 1 0 1 0 1-1 1-2 1 1 1 2 1 0 1-1 1 2 2 0 1 0 2-4 1 1 1 5 1-6 1 0 1 3 1-2 1-1 1 0 2 2 1-2 1 3 1-1 1 0 2 2 1-3 1 0 1-1 1 0 1 3 1-1 1-1 1 2 1-3 1 2 1 5 1-3 1-3 1-1 1 2 1 1 1-1 1-1 1-1 1 3 1 0 1 2 1-4 1 1 1 0 1-2 1 1 1 0 1 1 1 1 1-1 1 0 1-2 1 2 1 0 1 0 1-1 1 0 1-1 1 4 1-3 1 3 2-3 1 1 1 1 1-2 1 3 1-2 1 0 1-1 1 2 1-2 1-1 1 2 1 0 1 0 1-1 1 0 1 1 1-2 1 4 1-4 1 4 1-3 2 2 1 0 1-3 1 2 1-2 1 2 1 2 1-3 1 1 1-1 2 1 1-1 1 0 1 1 1-1 1 0 1 2 2-3 1 3 2 0 1-1 1 2 1-3 1 1 1-2 1 0 1 4 1-2 1-2 1 1 1 0 1-1 1 3 1 2 1-3 1 0 1 0 1-2 1 5 1-4 1 0 1 0 1 1 1-1 1 0 2 3 1-3 1 6 1-5 2 0 1 1 1 3 1-4 1-1 1 2 1 1 1-3 1 4 1-5 1 1 1-1 1 2V0z" fill="#fd9409" fill-opacity="0.51"/>
<path class="ns" d="M0 3l1 2 1-4 1 0 1 2 1 2 1-3 1 0 1 3 1-3 1-1 1 2 1 1 1 0 1-3 1 2 1 1 1 0 1-2 1 0 1 0 1-1 3 1 1 2 1-2 1 1 1-2 1 0 1 3 1-1 1 1 1 2 1-4 1 3 1-2 1-1 2-1 1 2 1 1 1-2 1 1 1 2 1-1 1 0 1-3 1 1 1 3 1 0 1-4 1 2 1-1 1 0 1 4 1-5 1 3 1-3 1 2 1 2 1-1 1-2 1 0 1 0 1-1 1 2 1 1 1-1 2 2 1-4 1 1 1 0 1-1 1 3 1-3 1 0 1 1 1 1 1-1 1-1 1 3 1-2 1 0 1 2 1 1 1-3 1 2 1 0 1-1 1 0 2 3 1-4 1-1 1 0 1 2 1-2 1 3 1 1 1-3 2 1 2-2 1 1 1 1 1 1 1 0 1-1 1-1 1 2 1-3 1 2 1-1 1 0 1 1 1 1 1-3 1 5 1-4 1 2 1-1 1-2 1 2 1-1 1 1 1 0 1 1 1 1 1-4 1 4 1-1 1-1 1 1 1-1 1-1 1 1 2 1 1-2 1 0 1 0 1 2 2-2 1 2 1-1 1 0 1 2 1-4 1 1 1 3 1-1 1-3 1 4 1-3 1 3 1-3 1 1 1-2 1 4 1-1 1-2 1 0 1-1 2 3 3-2 2 1 2 0 1 0 1-2 1 2 1-2 2 1 1 0 1 0 1-1 1 5 1-5 1 0 1 0 1 0 1 0 1 1 1-1 1 2 1-1 1-1 2 1 1-1 1 0 1 3 1-2 1 0 1 3 1-4 1 2 1-1 1 2 1-2 1-1 1 1 1 0 2-1 2 1 1-1 1 3 1-1 1-2 1 0 1 0 1 4 1-2 1-2 1 1 1 1 1-2 1 2 1 0 1 1 1 0 1-1 1-1 1 2 1-3 1 0 2 0 1 1 1 1 1-1 1-1 1 1 1 2 1-1 1-1 1-1 1 2 1-1 1 2 1-1 1-1 1 0 1-1 1 0 1 4 1-4 1 1 1 1 1 1 1-1 1-1 1 1 1-1 1 1 1 1 1-2 1-1 1 4 1-4 1 2 1 0 1-1 1-1 1 2 1 0 1-2 1 3 1-2 1 0 1-1 1 3 1-3 1 1 1 2 1-3 1 1 1 1 1 0 1-1 1-1 1 6 1-5 1 1 1-2 1 1 1-1 1 1 1 2 1 0 1-2 1 1 1-1 1 0 1-1 1 3 1-3 1 1 1 0 1-1 1 0 1 3 1 0 1-2 1 1 1 1 1-2 1 2 1 0 1 0 2-2 1 0 1 3 1-4 1 1 1 1 1 1 1-1 1-2 2 2 1 0 1-1 1 1 1-2 2 1 1-1 1 2 1 0 1-2 1 3 2-3 1 0 2 3 2-3 1 2 1 0 1-1 1 0 1-1 1 2 1 0 1-2 1 2 1 0 1 1 1-1 1-1 2-1 1 3 1 0 1-2 1 0 1 0 1 0 1 0 1 2 1-3 1 2 1 0 1-2 1 0 1 1 1 2 1 0 1-3 1 0 1 2 1 1 1-3 2 1 2 0 1 2 1-3 1 0 2 3 1-1 1 3 1-5 1 2 1 3 1-4 1 2 1-2 1 1 1 0 2 0 2-1 1-1 1 3 1-1 3 1 1-3 1 0 1 1 1 1 1-1 1 1 1 2 1-4 1 2 1 1 1-2 1 1 1 0 1-1 1 2 1-3 1 2 1-2 1 3 1-2 1 0 1 0 1 2 1-2 1 1 1-1 2 2 1-1 1-2 1 1 1 0 1-1 1 1 1-1 1 4 1-4 1 2 1-2 1 1 1 0 1 1 1 0 1 1 1-2 1 0 1 0 1-1 1 2 1 0 1-2 1 2 1-1 1 1 1-1 1-1 1 3 1 0 1-1 1 1 1-1 1 1 1 0 2-3 1 1 1 1 1-2 1 2 1-1 1-1 1 3 1-2 1-1 1 2 1-1 1-1 1 2 1 1 1-1 1-2 2 4 1-4 1 2 1 1 1-2 1 0 1-1 2 2 1-1 1 2 1-3 1 0 1 1 1 1 1 1 1-2 1 0 1-1 1 3 1-1 1-2 2 1 1 1 1 1 3-3 1 2 1-2 1 1 1 2 1-3 1 3 1-2 1 0 1 0 1 2 1 0 1-3 2 1 1 2 1-1 1 0 1-1 1 1 1-2 1 2 1-1 1-1 1 0 1 0 1 2 1 0 1-1 1 0 1-1 1 4 1-2 1-2 1 0 1 1 1 0 1 0 1 1 1-2 1 2 2-1 1 1 1-2 1 1 1 3 1-2 1 1 1-3 1 2 1-2 1 1 1 0 1 2 1 0 1-3 1 0 2 5 1-3 1-1 2 2 1-1 2-2 1 1 1 1 1-1 1-1 1 2 1-2 1 4 1-4 1 3 1 0 1-3 1 2 2 1 1 0 1 2 1-2 1 0 1-2 1 2 1-2 2 0 1-1 1 2 1-1 1 1 1-1 1 1 1 1 1-2 1 1 1-1 1-1 1 2 1-1 1-1 1 1 1 0 1-1 1 1 1 1 1-1 1-1 1 3 1 0 1 0 4 0 1 0 1-1 1 0 1 0 1-1 1 1 1 1 1-1 1 1 1-3 1 1 1 2 1-3 1 0 1 3 1-2 1-1 1 2 1-1 1 2 2-1 1-2 1 1 1 0 1 0 1 1 1-1 1 0 1-1 1 0 1 1 1 0 1 1 1-1 1 0 1-1 1 0 1 1 1 0 1 2 1-2 1-1 2 1 1 0 1 2 1-1 1 4 1-3 1-2 1 1 1-2 1 2 1 0 1 3 1-4 1-1 1 2 1 1 1-3 2 1 1 5 1-4 1 1 1-2 1 3 1-2 1 0 1-2 1 0 1 2 1 1 1-1 1-2 1 1 1 1 1-2 1 3 1 0 1 1 1-3 1 0 1 3 1-2 1-2 1 1 2 1 1 0 1 2 1-2 1-1 1 2 1-3 1 5 1-5 1 2 1-2 2 2 1 0 1-2 1 6 1-5 1 2 1-1 1-1 1 1 1 0 1 2 1-1 1-1 1 4 1-5 1 1 1-1 1 6 1-4 1-3 1 1 1 0 2 1 1 0 1 1 1 1 1 0 1-4 1 3 1-1 2 1 1 0 1-3 1 2 1 0 1-2 2 1 1 0 1 1 1-1 1-1 1 0 1 1 1 3 1-3 1-1 1 0 1 2 1 2 1-1 1-2 1 0 1 0 1 2 1 0 1-3 1 0 1 7 1-4 1-3 1 3 1-3 1 1 1 3 1-3 1 1 1 0 1 2 1-1 1 0 1-3 2 2 1 3 1-2 1 0 1-1 1 0 1-1 1 1 1 0 1 0 1-2 1 1 1 0 1 0 1-1 1 3 1 0 1 1 2 1 1-4 1 1 1 1 1-1 1-2 1 1 2 5 1-6 1 2 1 0 1 1 2 0 1-1 1 1 1-3 1 2 1 0 1 0 1 1 1-1 1 0 1 1 1 2 1-3 1 0 2 0 1 1 1-1 1-1 1 0 1 0 1 0 1 1 1-1 1 1 1 1 1 1 1-4 1 2 1 1 1-2 1 1 1 0 1 0 1 2 1-4 1 3 1 3 1-4 1-2 1 2 1-2 1 2 1 3 2-4 1 1 1-2 1 0 1 1 1 2 1 1 1-1 1-2 1 1 1 0 1 1 1 0 1-3 2 2 1 1 1-1 1-2 1 1 1-1 1 0 1 4 1-4 1 2 1 3 1-5 1 2 1-1 1 2 1-2 1-1 1 4 1-3 1 1 1 1 1-1 1 0 1 1 1-2 1 0 1 5 1-4 1-1 1 1 1-1 2 0 1 2 1 1 1-4 1 0 1 0 1 0 2 3 1-2 1-1 1 0 1 4 1 2 1-3 1-1 1-1 1 0 1 1 1-1 1 2 1-1 2 0 1 2 1-4 1 3 1 0 1-1 1 3 2-4 1 2 1 0 1-2 1 0 1-1 1 6 1-2 1-2 1-1 1 3 1-3 1 4 1-3 1 2 1-1 1-3 1 1 2 0 1 2 1-1 1 0 2 0 1 1 1 0 1-1 1-2 1 2 1-1 1 1 1-1 2 2 1-1 2 1 1-1 1-1 1 3 2-3 2-1 1 2 1 0 1 0 1-1 1 4 1-5 1 1 1-1 1 3 2 0 1-1 1-1 1 1 2 0 1 0 1-1 1 2 1-1 1 1 1-1 1-1 1-1 1 2 1-1 1 0 1 2 1-2 1 2 1-1 1 2 1-1 1-2 1 5 1-6 2 1 1 0 1 2 1 1 1-4 1 1 1 0 1 2 1-2 1 2 1 2 1-2 1-2 1 0 1-1 1 1 1 6 1-7 1 1 1 7 1-8 1 0 2 2 1-2 1 0 1 4 2-4 1 1 1-1 1 3 1-3 1 1 1 2 1-1 1-2 1 0 1 3 3 1 1-1 1 1 1-3 1 2 1-2 1 4 1-2 1 0 1 2 1-2 1-1 1 4 1-3 1-3 1 1 1 1 1 0 1-1 1 2 1-2 1 0 1 0 1 2 1 0 1-1 1-1 1 0 1 4 1-3 1-2 1 2 1-1 1 3 1-4 1 1 1-1 1 0 1 5 1-4 1 0 1 1 1 0 1 1 1 0 1 1 1-2 1 1 1-3 1 1 1 1 1 0 1 1 1-3 2 2 1-2 1 1 1 2 1-2 1 0 1 0 1 2 1 2 1-4 1 4 1-3 1-2 1 0 2 3 1-2 1 1 1-1 1 6 2-5 2-1 1 2 1 0 2 1 1 0 1-4 2 5 1-5 1 2 1 1 1-2 1 2 1 0 1-1 1-2 1 5 1-3 1 3 1-4 1-1 1 4 1-2 1 0 1 0 1-1 1 2 2-3 1 2 1 2 1-4 1 0 1 1 1-1 1 0 1 2 1 1 1 1 1-3 1 2 1-1 1 0 1 0 1 2 1 2 1-5 1 1 2-1 1 0 1 2 1-1 1 0 1-1 1 4 1-5 1 1 1-1 1 1 1 0 1 4 1-2 1-3 1 3 1-2 1 4 1-1 1-3 1 1 1-1 1-1 1 1 1-1 1 1 1 0 1 3 1-3 2 1 1-1 1 4 1-3 1-1 1-1 1 2 1-2 1 1 1 2 1-1 1 2 1-4 1 2 1-2 1 5 1-5 1 2 1 0 1 3 1-5 1 0 1 4 1-1 1-2 1 2 1 3 1-5 1 3 1-3 1 1 1-2 1 0 1 2 1 1 1-1 1 4 1-3 1-2 1-1 1 4 1-1 1-3 1 0 1 0 1 5 1-3 1 0 1-1 1-1 1 1 1 3 1 0 1-4 1 0 1 0 2 0 1 2 1-2 1 2 1 1 1 3 1-2 2-2 1 3 1-3 1-1 1-1 1 2 1-1 1 0 1 0 1 0 1 0 1 0 1 2 1 1 1-4 1 2 1-1 1 1 1-2 1 3 1-1 1 4 1-2 1-4 1 9 1-7 1-1 1 0 1 3 1-4 1 2 1-1 1 3 1-2 1 2 1-3 1 1 1-2 1 2 1 4 1-6 1 1 2 0 1 1 1 3 1-2 1 3 2-4 1-2 1 6 1-4 1 1 1-1 1-1 1 3 1-3 1 0 1 0 3-1 1 0 1 1 1 3 1-2 1-2 1 3 1-2 1 1 2-2 1 5 1-4 1 0 1 3 1-3 1 0 1-1 1 1 1 0 1 1 1-2 1 2 1-2 1 2 1 1 1 0 2-1 1-1 1 2 2-3 1 0 1 0 1 0 1 1 1 4 2 2 1-4 2 1 1-1 1-1 1-2 1 3 1-3 1 5 1-3 1 1 1-2 1 2 1-1 1 0 1 2 1-4 1 2 1 0 1 0 2 4 1-4 1-1 1 2 1 1 1-2 1 0 1-1 1-1 1 1 1 2 1 3 1-3 1 0 1-3 1 3 1 3 1-5 1 1 1-1 1 2 1-3 1 2 2 3 1-5 1 1 1 0 1 2 1 2 1-4 1-1 1 3 2-3 1 2 1 3 1-5 1 0 1 3 1-2 2-1 1 0 1 3 1 2 1-4 1 1 1 3 1-4 1 3 1 0 1-4 1 4 1-4 1 4 1-3 1-1 1 1 1 1 1-1 1 3 2-1 1 0 1-1 1 2 1 2 2-3 1 1 1-3 1 1 1-1 1 5 1-3 1-2 1 0 1 1 1 0 1-2 1 3 1 1 1-2 1 0 1 4 1-4 1-1 1 0 1 1 2-1 1-1 1 1 1-1 3 2 1 0 1 0 1 2 1-3 1 2 1-3 1 0 1 0 1 2 1-1 1 3 1-4 1 1 1 0 1 1 1-1 1-1 1 1 1 0 1-1 1 1 1 1 1 0 1-2 1 0 1 2 1-1 1 0 1-1 1 5 1-3 1-1 1 2 1 0 1 0 1-1 1-2 1 1 1 2 1 0 1-1 1 2 2 0 1 0 2-4 1 1 1 5 1-6 1 0 1 3 1-2 1-1 1 0 2 2 1-2 1 3 1-1 1 0 2 2 1-3 1 0 1-1 1 0 1 3 1-1 1-1 1 2 1-3 1 2 1 5 1-3 1-3 1-1 1 2 1 1 1-1 1-1 1-1 1 3 1 0 1 2 1-4 1 1 1 0 1-2 1 1 1 0 1 1 1 1 1-1 1 0 1-2 1 2 1 0 1 0 1-1 1 0 1-1 1 4 1-3 1 3 2-3 1 1 1 1 1-2 1 3 1-2 1 0 1-1 1 2 1-2 1-1 1 2 1 0 1 0 1-1 1 0 1 1 1-2 1 4 1-4 1 4 1-3 2 2 1 0 1-3 1 2 1-2 1 2 1 2 1-3 1 1 1-1 2 1 1-1 1 0 1 1 1-1 1 0 1 2 2-3 1 3 2 0 1-1 1 2 1-3 1 1 1-2 1 0 1 4 1-2 1-2 1 1 1 0 1-1 1 3 1 2 1-3 1 0 1 0 1-2 1 5 1-4 1 0 1 0 1 1 1-1 1 0 2 3 1-3 1 6 1-5 2 0 1 1 1 3 1-4 1-1 1 2 1 1 1-3 1 4 1-5 1 1 1-1 1 2" fill="none" stroke="#fd9409" stroke-width="3" stroke-linejoin="round"/>
</g>
<rect x="64.5" y="3515.65" width="2221.3" height="143.9" fill="none" stroke="#000" stroke-width="1.6"/>
<text x="48.4" y="3663.95" font-size="27.73" text-anchor="end" font-weight="normal" fill="#000">0</text>
<text x="48.4" y="3622.67" font-size="27.73" text-anchor="end" font-weight="normal" fill="#000">5</text>
<text x="48.4" y="3581.39" font-size="27.73" text-anchor="end" font-weight="normal" fill="#000">10</text>
<text x="48.4" y="3540.11" font-size="27.73" text-anchor="end" font-weight="normal" fill="#000">15</text>
<path d="M55.4 3654.05h8.3M55.4 3612.77h8.3M55.4 3571.49h8.3M55.4 3530.21h8.3" stroke="#000" stroke-width="2" fill="none"/>
<rect x="63.7" y="3678.2" width="2222.9" height="54.1" fill="#000"/>
<text x="1175.15" y="3715.4" font-size="27.73" text-anchor="middle" font-weight="normal" fill="#fff">Staten Island</text>
<path d="M63.7 3870.7H2286.6M63.7 3829.42H2286.6M63.7 3788.14H2286.6M63.7 3746.86H2286.6M165.45 3732.3V3877M590.89 3732.3V3877M1015.16 3732.3V3877M1439.44 3732.3V3877M1863.72 3732.3V3877" stroke="#000" stroke-opacity="0.5" stroke-width="0.8" fill="none"/>
<path d="M63.7 3850.06H2286.6M63.7 3808.78H2286.6M63.7 3767.5H2286.6M378.17 3732.3V3877M802.45 3732.3V3877M1226.72 3732.3V3877M1651 3732.3V3877M2076.44 3732.3V3877" stroke="#000" stroke-opacity="0.38" stroke-width="0.6" fill="none"/>
<g transform="translate(165.45 3870.7) scale(1.1624 -8.256)">
<path d="M0 0V1l1 0 1 0 1 0 1 0 1 0 1 0 1 0 1 0 1 0 1 0 1 0 1 0 1 0 1 0 1 0 1 1 1-1 1 0 1 0 1 0 1 1 1-1 1 0 1 0 1 0 1 0 1 0 1 1 1-1 1 0 1 1 1-1 1 0 1 0 1 0 1 0 1 0 1 0 1 0 1 0 1 0 1 0 1 0 1 0 3 1 3-1 1 0 1 0 1 0 1 0 1 0 1 0 1 0 1 0 1 0 1 0 1 0 1 0 2 1 2-1 1 0 1 0 1 0 1 0 1 0 1 0 1 0 1 0 1 0 1 0 1 0 1 1 1-1 1 0 1 1 1-1 1 0 1 0 1 0 1 0 3 2 3-2 1 0 1 0 1 0 1 0 1 0 1 0 1 0 1 0 1 0 3 1 3-1 1 0 3 1 3-1 1 0 1 0 3 1 3-1 1 0 1 2 1-2 1 0 3 1 3-1 1 0 1 0 1 0 1 0 1 0 1 0 1 0 1 0 1 0 1 0 1 0 2 1 7-1 1 0 1 0 1 0 1 0 1 0 1 0 1 0 1 0 1 0 1 0 1 0 1 0 6 3 6-3 1 0 1 0 1 0 1 0 1 0 1 0 1 0 1 0 2 1 7-1 1 0 1 0 1 0 1 0 1 0 1 0 1 0 1 0 1 0 1 0 1 0 1 0 1 0 1 0 1 0 1 0 1 0 1 0 1 0 1 0 1 0 1 0 1 0 1 0 1 0 1 0 1 0 1 0 1 0 1 0 1 0 1 0 1 0 1 0 1 0 9 1 4-1 1 0 1 0 1 0 1 0 3 2 3-2 1 1 1-1 1 0 1 0 1 0 1 0 1 0 1 0 1 0 1 0 1 0 1 0 1 0 1 0 2 4 2-4 20 1 2-1 1 0 2 1 2-1 1 0 1 0 1 0 1 0 3 1 3-1 4 1 4-1 1 0 1 0 1 0 1 0 1 0 1 0 1 0 1 0 1 0 1 0 1 0 1 0 1 0 1 0 1 0 1 0 1 0 1 0 1 0 1 0 1 0 1 0 1 0 1 0 1 0 1 0 1 0 1 0 1 0 1 0 1 0 1 0 1 0 1 0 1 0 1 0 1 0 1 0 1 0 1 0 1 0 1 0 1 0 1 0 1 0 1 0 1 0 1 0 1 0 1 0 1 0 1 0 1 0 1 0 1 0 1 0 1 0 1 0 1 0 1 0 1 0 1 0 1 0 3 1 3-1 1 0 1 0 1 0 1 0 1 0 1 0 1 0 1 0 1 0 1 0 1 0 1 0 1 0 3 1 3-1 1 0 1 0 1 0 1 0 1 0 1 0 1 0 1 0 1 0 1 0 3 1 3-1 1 0 1 0 1 0 1 0 1 0 1 0 1 0 1 0 7 1 7-1 1 0 1 0 1 0 1 0 1 0 1 0 1 0 1 0 1 0 1 0 1 0 1 0 1 0 1 0 1 0 1 0 4 1 4-1 1 0 1 0 1 0 1 0 1 0 1 0 1 0 1 0 1 0 1 0 1 0 3 1 3-1 1 0 1 0 1 0 1 0 1 0 1 0 1 0 1 0 1 0 1 0 1 0 1 1 1-1 1 0 1 1 1-1 1 0 1 0 1 0 1 0 1 0 1 0 1 0 1 0 1 0 1 0 1 0 1 0 1 0 1 0 1 0 1 0 1 0 1 0 1 0 1 0 1 0 1 0 1 0 1 0 1 0 1 0 1 0 1 0 1 0 1 0 1 0 1 0 1 0 1 0 1 0 1 0 1 0 1 0 1 0 1 0 1 0 1 0 1 0 1 0 1 1 3 0 3-1 1 0 1 0 1 0 1 0 1 0 1 0 1 0 1 0 1 0 1 0 1 0 1 0 1 0 1 0 1 0 1 0 1 0 1 0 1 0 1 0 1 0 1 0 1 0 1 0 1 0 1 0 1 0 1 0 1 0 1 0 1 0 1 0 1 0 1 0 1 0 1 0 1 0 1 0 1 0 1 0 1 0 1 0 1 0 1 0 1 0 1 0 1 0 1 0 1 0 1 0 1 0 1 0 1 0 1 0 1 0 1 0 1 0 1 0 1 0 1 0 2 3 2-3 1 0 1 0 1 0 1 0 1 0 1 0 1 0 1 0 1 0 1 0 1 0 1 0 1 0 1 0 3 1 5 0 3-1 1 0 4 1 4-1 1 0 1 0 1 0 1 0 1 0 2 1 2-1 2 1 4 0 3-1 1 0 1 0 1 0 1 0 1 0 1 0 1 0 1 0 2 1 2-1 1 0 1 0 1 0 1 0 1 0 1 0 1 0 1 0 1 0 1 0 1 0 1 0 1 0 1 0 1 0 1 0 1 0 1 0 1 0 1 0 1 0 1 0 1 0 1 0 1 0 1 0 1 0 1 0 1 0 1 0 1 0 1 0 1 0 1 0 1 0 1 0 1 0 1 0 1 0 1 0 6 2 6-2 1 0 1 0 1 0 1 0 1 0 10 2 4-2 1 0 1 0 1 0 1 0 1 0 1 0 1 0 1 0 1 0 1 0 1 0 1 0 1 0 1 0 1 0 1 0 1 0 1 1 1-1 1 0 1 1 1-1 1 0 1 0 1 0 1 0 1 0 1 1 1-1 1 0 1 0 1 0 1 0 1 0 1 0 1 0 1 0 1 0 1 0 4 1 4-1 1 0 1 0 1 0 1 0 6 2 6-2 1 0 1 0 1 0 3 1 3-1 1 0 1 0 1 0 1 0 1 0 1 0 1 0 1 0 1 0 1 0 1 0 1 0 1 0 1 0 1 0 1 0 1 0 1 0 1 0 1 0 1 0 1 0 1 0 1 0 1 0 1 0 1 0 1 0 1 0 1 0 1 0 1 0 1 0 1 0 1 2 1-2 1 0 1 0 1 0 1 0 1 0 2 1 2-1 1 0 1 0 1 1 1-1 1 0 1 0 1 0 1 0 2 2 2-2 1 0 1 0 1 0 1 0 1 0 1 0 1 0 1 0 1 0 1 0 1 0 1 0 1 0 1 0 1 0 1 0 1 0 1 0 1 0 1 0 1 0 1 0 1 0 1 0 1 1 1-1 1 0 1 0 3 1 3-1 1 0 1 0 1 0 1 0 1 0 1 0 1 0 1 0 1 0 1 0 1 0 1 0 1 0 1 0 3 2 6-1 5-1 1 0 1 0 1 0 1 0 1 0 1 0 3 1 3-1 1 0 1 0 1 0 1 0 1 0 1 0 1 0 1 0 1 0 1 0 4 1 4-1 1 0 1 0 1 0 1 0 4 1 4-1 1 0 1 0 1 0 3 1 3-1 1 0 1 0 1 1 1-1 1 0 1 0 1 0 1 0 1 0 1 0 1 0 1 0 1 0 1 0 1 0 1 0 1 0 1 0 1 0 1 0 1 0 3 1 4 0 2-1 1 0 1 0 1 0 1 0 1 0 1 0 1 0 1 0 1 0 1 0 1 0 1 0 1 0 1 0 3 1 3-1 1 0 1 0 1 0 1 0 1 0 1 0 1 0 1 0 1 0 1 0 1 0 1 0 1 0 1 0 2 1 2-1 1 0 1 0 1 0 1 0 3 1 3-1 2 1 2-1 1 0 2 1 2-1 3 1 3-1 3 1 3-1 1 0 2 2 2-2 1 0 1 0 1 0 1 0 1 0 1 0 1 0 1 0 1 0 1 0 1 0 1 0 1 0 1 0 1 0 1 0 1 0 1 0 1 0 1 0 1 0 1 0 1 0 1 0 1 0 1 0 1 0 1 0 1 0 1 0 1 0 1 0 1 0 1 0 1 0 1 0 1 0 1 0 1 0 1 0 1 0 1 0 1 0 1 0 1 0 11 1 3-1 1 0 1 0 1 0 1 0 1 0 1 0 1 0 1 0 1 0 1 0 1 0 1 0 1 0 2 1 2-1 1 0 1 0 1 0 1 0 1 0 1 0 1 0 1 0 1 0 1 0 1 0 1 0 1 0 1 0 1 0 1 0 1 0 1 0 1 0 1 0 1 0 1 0 1 0 1 0 1 0 1 0 1 0 3 1 3-1 1 0 1 0 1 0 1 0 1 0 1 0 3 2 3-2 1 0 1 0 1 0 1 0 1 0 1 0 1 0 1 0 1 0 3 1 3-1 1 0 1 0 1 0 1 0 1 0 1 0 1 0 1 0 1 0 1 1 1-1 1 0 1 1 1-1 1 0 1 0 1 0 2 2 2-2 1 0 1 0 1 0 1 0 1 0 1 0 1 0 1 0 1 0 1 0 1 0 1 0 1 0 3 1 3-1 2 3 4-2 5 0 3 0 4-1 1 0 1 0 1 0 1 0 1 0 1 0 1 0 1 0 1 0 1 0 1 0 1 0 1 0 1 0 1 0 1 0 1 0 1 0 1 0 2 2 11-1 4-1 2 2 2-2 1 0 1 0 2 2 10-2 1 0 1 0 1 0 1 0 1 0 1 0 1 0 1 0 1 0 1 0 1 0 1 0 1 0 1 0 1 0 3 1 3-1 1 0 1 0 1 0 1 0 1 0 1 0 4 2 4-2 3 1 3-1 1 0 1 0 1 0 1 0 1 0 1 0 1 0 1 0 1 0 1 0 1 0 1 0 1 0 1 0 1 0 1 0 1 0 3 1 3-1 1 0 1 0 1 0 1 0 1 0 1 0 1 0 1 0 1 0 1 0 10 1 3-1 1 0 1 0 3 1 3-1 1 0 1 0 1 0 1 0 1 0 3 1 8-1 1 0 1 0 1 0 1 0 1 0 1 0 1 0 1 0 3 1 3-1 1 0 1 0 1 0 5 1 6 0 2-1 1 0 1 0 2 1 2-1 2 1 2-1 1 0 2 1 2-1 1 0 2 1 2-1 2 1 2-1 1 0 1 0 1 0 1 0 1 0 1 0 1 0 1 0 1 0 1 0 1 0 1 0 1 0 1 0 1 0 1 0 1 0 1 0 1 0 1 0 1 0 1 0 1 0 1 0 1 0 1 0 1 0 1 0 1 0 1 0 1 0 1 0 1 0 1 0 1 0 1 0 1 0 1 0 1 0 1 0 1 0 1 0 1 0 3 1 3 0 1-1 1 0 1 0 3 2 4-1 9-1 1 0 1 0 1 0 1 0 1 0 1 0 1 0 1 0 1 0 1 0 1 0 1 0 1 0 1 0 1 0 1 0 1 0 1 0 1 0 1 0 3 1 3-1 1 0 1 0 1 0 1 0 1 0 1 0 1 0 1 0 1 0 1 0 1 0 1 0 1 0 1 0 1 0 1 0 1 0 1 0 1 0 2 3 2-3 1 0 1 0 1 0 1 0 1 0 1 0 1 0 1 0 1 0 1 0 1 0 1 0 1 0 1 0 2 3 2-3 1 0 1 0 1 0 1 0 1 0 1 0 1 0 1 0 1 0 1 0 1 0 1 0 1 0 1 0 2 1 2-1 1 0 1 0 1 0 1 0 1 0 1 0 1 0 1 0 1 0 1 0 2 1 3 0 3-1 1 0 1 0 1 0 1 0 3 3 3-3 1 0 1 0 1 0 1 0 1 0 2 1 3 0 8-1 1 0 1 0 1 0 1 0 1 0 1 0 1 0 1 0 1 0 1 0 1 0 1 0 1 0 1 0 1 0 1 0 1 0 1 0 1 0 1 0 1 0 1 0 1 0 1 0 1 0 1 0 1 0 1 0 1 0 1 0 1 0 1 0 1 1V0z" fill="#fd9409" fill-opacity="0.51"/>
<path class="ns" d="M0 1l1 0 1 0 1 0 1 0 1 0 1 0 1 0 1 0 1 0 1 0 1 0 1 0 1 0 1 0 1 0 1 1 1-1 1 0 1 0 1 0 1 1 1-1 1 0 1 0 1 0 1 0 1 0 1 1 1-1 1 0 1 1 1-1 1 0 1 0 1 0 1 0 1 0 1 0 1 0 1 0 1 0 1 0 1 0 1 0 3 1 3-1 1 0 1 0 1 0 1 0 1 0 1 0 1 0 1 0 1 0 1 0 1 0 1 0 2 1 2-1 1 0 1 0 1 0 1 0 1 0 1 0 1 0 1 0 1 0 1 0 1 0 1 1 1-1 1 0 1 1 1-1 1 0 1 0 1 0 1 0 3 2 3-2 1 0 1 0 1 0 1 0 1 0 1 0 1 0 1 0 1 0 3 1 3-1 1 0 3 1 3-1 1 0 1 0 3 1 3-1 1 0 1 2 1-2 1 0 3 1 3-1 1 0 1 0 1 0 1 0 1 0 1 0 1 0 1 0 1 0 1 0 1 0 2 1 7-1 1 0 1 0 1 0 1 0 1 0 1 0 1 0 1 0 1 0 1 0 1 0 1 0 6 3 6-3 1 0 1 0 1 0 1 0 1 0 1 0 1 0 1 0 2 1 7-1 1 0 1 0 1 0 1 0 1 0 1 0 1 0 1 0 1 0 1 0 1 0 1 0 1 0 1 0 1 0 1 0 1 0 1 0 1 0 1 0 1 0 1 0 1 0 1 0 1 0 1 0 1 0 1 0 1 0 1 0 1 0 1 0 1 0 1 0 1 0 9 1 4-1 1 0 1 0 1 0 1 0 3 2 3-2 1 1 1-1 1 0 1 0 1 0 1 0 1 0 1 0 1 0 1 0 1 0 1 0 1 0 1 0 2 4 2-4 20 1 2-1 1 0 2 1 2-1 1 0 1 0 1 0 1 0 3 1 3-1 4 1 4-1 1 0 1 0 1 0 1 0 1 0 1 0 1 0 1 0 1 0 1 0 1 0 1 0 1 0 1 0 1 0 1 0 1 0 1 0 1 0 1 0 1 0 1 0 1 0 1 0 1 0 1 0 1 0 1 0 1 0 1 0 1 0 1 0 1 0 1 0 1 0 1 0 1 0 1 0 1 0 1 0 1 0 1 0 1 0 1 0 1 0 1 0 1 0 1 0 1 0 1 0 1 0 1 0 1 0 1 0 1 0 1 0 1 0 1 0 1 0 1 0 1 0 1 0 1 0 3 1 3-1 1 0 1 0 1 0 1 0 1 0 1 0 1 0 1 0 1 0 1 0 1 0 1 0 1 0 3 1 3-1 1 0 1 0 1 0 1 0 1 0 1 0 1 0 1 0 1 0 1 0 3 1 3-1 1 0 1 0 1 0 1 0 1 0 1 0 1 0 1 0 7 1 7-1 1 0 1 0 1 0 1 0 1 0 1 0 1 0 1 0 1 0 1 0 1 0 1 0 1 0 1 0 1 0 1 0 4 1 4-1 1 0 1 0 1 0 1 0 1 0 1 0 1 0 1 0 1 0 1 0 1 0 3 1 3-1 1 0 1 0 1 0 1 0 1 0 1 0 1 0 1 0 1 0 1 0 1 0 1 1 1-1 1 0 1 1 1-1 1 0 1 0 1 0 1 0 1 0 1 0 1 0 1 0 1 0 1 0 1 0 1 0 1 0 1 0 1 0 1 0 1 0 1 0 1 0 1 0 1 0 1 0 1 0 1 0 1 0 1 0 1 0 1 0 1 0 1 0 1 0 1 0 1 0 1 0 1 0 1 0 1 0 1 0 1 0 1 0 1 0 1 0 1 0 1 0 1 1 3 0 3-1 1 0 1 0 1 0 1 0 1 0 1 0 1 0 1 0 1 0 1 0 1 0 1 0 1 0 1 0 1 0 1 0 1 0 1 0 1 0 1 0 1 0 1 0 1 0 1 0 1 0 1 0 1 0 1 0 1 0 1 0 1 0 1 0 1 0 1 0 1 0 1 0 1 0 1 0 1 0 1 0 1 0 1 0 1 0 1 0 1 0 1 0 1 0 1 0 1 0 1 0 1 0 1 0 1 0 1 0 1 0 1 0 1 0 1 0 1 0 1 0 2 3 2-3 1 0 1 0 1 0 1 0 1 0 1 0 1 0 1 0 1 0 1 0 1 0 1 0 1 0 1 0 3 1 5 0 3-1 1 0 4 1 4-1 1 0 1 0 1 0 1 0 1 0 2 1 2-1 2 1 4 0 3-1 1 0 1 0 1 0 1 0 1 0 1 0 1 0 1 0 2 1 2-1 1 0 1 0 1 0 1 0 1 0 1 0 1 0 1 0 1 0 1 0 1 0 1 0 1 0 1 0 1 0 1 0 1 0 1 0 1 0 1 0 1 0 1 0 1 0 1 0 1 0 1 0 1 0 1 0 1 0 1 0 1 0 1 0 1 0 1 0 1 0 1 0 1 0 1 0 1 0 1 0 6 2 6-2 1 0 1 0 1 0 1 0 1 0 10 2 4-2 1 0 1 0 1 0 1 0 1 0 1 0 1 0 1 0 1 0 1 0 1 0 1 0 1 0 1 0 1 0 1 0 1 0 1 1 1-1 1 0 1 1 1-1 1 0 1 0 1 0 1 0 1 0 1 1 1-1 1 0 1 0 1 0 1 0 1 0 1 0 1 0 1 0 1 0 1 0 4 1 4-1 1 0 1 0 1 0 1 0 6 2 6-2 1 0 1 0 1 0 3 1 3-1 1 0 1 0 1 0 1 0 1 0 1 0 1 0 1 0 1 0 1 0 1 0 1 0 1 0 1 0 1 0 1 0 1 0 1 0 1 0 1 0 1 0 1 0 1 0 1 0 1 0 1 0 1 0 1 0 1 0 1 0 1 0 1 0 1 0 1 0 1 2 1-2 1 0 1 0 1 0 1 0 1 0 2 1 2-1 1 0 1 0 1 1 1-1 1 0 1 0 1 0 1 0 2 2 2-2 1 0 1 0 1 0 1 0 1 0 1 0 1 0 1 0 1 0 1 0 1 0 1 0 1 0 1 0 1 0 1 0 1 0 1 0 1 0 1 0 1 0 1 0 1 0 1 0 1 1 1-1 1 0 1 0 3 1 3-1 1 0 1 0 1 0 1 0 1 0 1 0 1 0 1 0 1 0 1 0 1 0 1 0 1 0 1 0 3 2 6-1 5-1 1 0 1 0 1 0 1 0 1 0 1 0 3 1 3-1 1 0 1 0 1 0 1 0 1 0 1 0 1 0 1 0 1 0 1 0 4 1 4-1 1 0 1 0 1 0 1 0 4 1 4-1 1 0 1 0 1 0 3 1 3-1 1 0 1 0 1 1 1-1 1 0 1 0 1 0 1 0 1 0 1 0 1 0 1 0 1 0 1 0 1 0 1 0 1 0 1 0 1 0 1 0 1 0 3 1 4 0 2-1 1 0 1 0 1 0 1 0 1 0 1 0 1 0 1 0 1 0 1 0 1 0 1 0 1 0 1 0 3 1 3-1 1 0 1 0 1 0 1 0 1 0 1 0 1 0 1 0 1 0 1 0 1 0 1 0 1 0 1 0 2 1 2-1 1 0 1 0 1 0 1 0 3 1 3-1 2 1 2-1 1 0 2 1 2-1 3 1 3-1 3 1 3-1 1 0 2 2 2-2 1 0 1 0 1 0 1 0 1 0 1 0 1 0 1 0 1 0 1 0 1 0 1 0 1 0 1 0 1 0 1 0 1 0 1 0 1 0 1 0 1 0 1 0 1 0 1 0 1 0 1 0 1 0 1 0 1 0 1 0 1 0 1 0 1 0 1 0 1 0 1 0 1 0 1 0 1 0 1 0 1 0 1 0 1 0 1 0 1 0 11 1 3-1 1 0 1 0 1 0 1 0 1 0 1 0 1 0 1 0 1 0 1 0 1 0 1 0 1 0 2 1 2-1 1 0 1 0 1 0 1 0 1 0 1 0 1 0 1 0 1 0 1 0 1 0 1 0 1 0 1 0 1 0 1 0 1 0 1 0 1 0 1 0 1 0 1 0 1 0 1 0 1 0 1 0 1 0 3 1 3-1 1 0 1 0 1 0 1 0 1 0 1 0 3 2 3-2 1 0 1 0 1 0 1 0 1 0 1 0 1 0 1 0 1 0 3 1 3-1 1 0 1 0 1 0 1 0 1 0 1 0 1 0 1 0 1 0 1 1 1-1 1 0 1 1 1-1 1 0 1 0 1 0 2 2 2-2 1 0 1 0 1 0 1 0 1 0 1 0 1 0 1 0 1 0 1 0 1 0 1 0 1 0 3 1 3-1 2 3 4-2 5 0 3 0 4-1 1 0 1 0 1 0 1 0 1 0 1 0 1 0 1 0 1 0 1 0 1 0 1 0 1 0 1 0 1 0 1 0 1 0 1 0 1 0 2 2 11-1 4-1 2 2 2-2 1 0 1 0 2 2 10-2 1 0 1 0 1 0 1 0 1 0 1 0 1 0 1 0 1 0 1 0 1 0 1 0 1 0 1 0 1 0 3 1 3-1 1 0 1 0 1 0 1 0 1 0 1 0 4 2 4-2 3 1 3-1 1 0 1 0 1 0 1 0 1 0 1 0 1 0 1 0 1 0 1 0 1 0 1 0 1 0 1 0 1 0 1 0 1 0 3 1 3-1 1 0 1 0 1 0 1 0 1 0 1 0 1 0 1 0 1 0 1 0 10 1 3-1 1 0 1 0 3 1 3-1 1 0 1 0 1 0 1 0 1 0 3 1 8-1 1 0 1 0 1 0 1 0 1 0 1 0 1 0 1 0 3 1 3-1 1 0 1 0 1 0 5 1 6 0 2-1 1 0 1 0 2 1 2-1 2 1 2-1 1 0 2 1 2-1 1 0 2 1 2-1 2 1 2-1 1 0 1 0 1 0 1 0 1 0 1 0 1 0 1 0 1 0 1 0 1 0 1 0 1 0 1 0 1 0 1 0 1 0 1 0 1 0 1 0 1 0 1 0 1 0 1 0 1 0 1 0 1 0 1 0 1 0 1 0 1 0 1 0 1 0 1 0 1 0 1 0 1 0 1 0 1 0 1 0 1 0 1 0 1 0 3 1 3 0 1-1 1 0 1 0 3 2 4-1 9-1 1 0 1 0 1 0 1 0 1 0 1 0 1 0 1 0 1 0 1 0 1 0 1 0 1 0 1 0 1 0 1 0 1 0 1 0 1 0 1 0 3 1 3-1 1 0 1 0 1 0 1 0 1 0 1 0 1 0 1 0 1 0 1 0 1 0 1 0 1 0 1 0 1 0 1 0 1 0 1 0 1 0 2 3 2-3 1 0 1 0 1 0 1 0 1 0 1 0 1 0 1 0 1 0 1 0 1 0 1 0 1 0 1 0 2 3 2-3 1 0 1 0 1 0 1 0 1 0 1 0 1 0 1 0 1 0 1 0 1 0 1 0 1 0 1 0 2 1 2-1 1 0 1 0 1 0 1 0 1 0 1 0 1 0 1 0 1 0 1 0 2 1 3 0 3-1 1 0 1 0 1 0 1 0 3 3 3-3 1 0 1 0 1 0 1 0 1 0 2 1 3 0 8-1 1 0 1 0 1 0 1 0 1 0 1 0 1 0 1 0 1 0 1 0 1 0 1 0 1 0 1 0 1 0 1 0 1 0 1 0 1 0 1 0 1 0 1 0 1 0 1 0 1 0 1 0 1 0 1 0 1 0 1 0 1 0 1 0 1 1" fill="none" stroke="#fd9409" stroke-width="3" stroke-linejoin="round"/>
</g>
<rect x="64.5" y="3732.3" width="2221.3" height="143.9" fill="none" stroke="#000" stroke-width="1.6"/>
<text x="48.4" y="3880.6" font-size="27.73" text-anchor="end" font-weight="normal" fill="#000">0</text>
<text x="48.4" y="3839.32" font-size="27.73" text-anchor="end" font-weight="normal" fill="#000">5</text>
<text x="48.4" y="3798.04" font-size="27.73" text-anchor="end" font-weight="normal" fill="#000">10</text>
<text x="48.4" y="3756.76" font-size="27.73" text-anchor="end" font-weight="normal" fill="#000">15</text>
<text x="165.45" y="3914.5" font-size="27.73" text-anchor="middle" font-weight="normal" fill="#000">2020</text>
<text x="590.89" y="3914.5" font-size="27.73" text-anchor="middle" font-weight="normal" fill="#000">2021</text>
<text x="1015.16" y="3914.5" font-size="27.73" text-anchor="middle" font-weight="normal" fill="#000">2022</text>
<text x="1439.44" y="3914.5" font-size="27.73" text-anchor="middle" font-weight="normal" fill="#000">2023</text>
<text x="1863.72" y="3914.5" font-size="27.73" text-anchor="middle" font-weight="normal" fill="#000">2024</text>
<path d="M55.4 3870.7h8.3M55.4 3829.42h8.3M55.4 3788.14h8.3M55.4 3746.86h8.3M165.45 3877v8.3M590.89 3877v8.3M1015.16 3877v8.3M1439.44 3877v8.3M1863.72 3877v8.3" stroke="#000" stroke-width="2" fill="none"/>
<text x="18.2" y="2735.3" font-size="41.7" text-anchor="start" font-weight="bold" fill="#000">FDNY EMS Incident Volume, by Borough: Female In Labor</text>
<text x="16.8" y="2786.9" font-size="34.67" text-anchor="start" font-weight="normal" fill="#000">January 01, 2020 to October 04, 2024</text>
<text x="2285.7" y="3982.2" font-size="27.73" text-anchor="end"><tspan font-weight="bold">Graph Prepared by:</tspan> Isaac H. Michaels, DrPH</text>
<text x="2285.7" y="4008.6" font-size="27.73" text-anchor="end"><tspan font-weight="bold">Data Source:</tspan> NYC Open Data</text>
</svg>
</body></html>
